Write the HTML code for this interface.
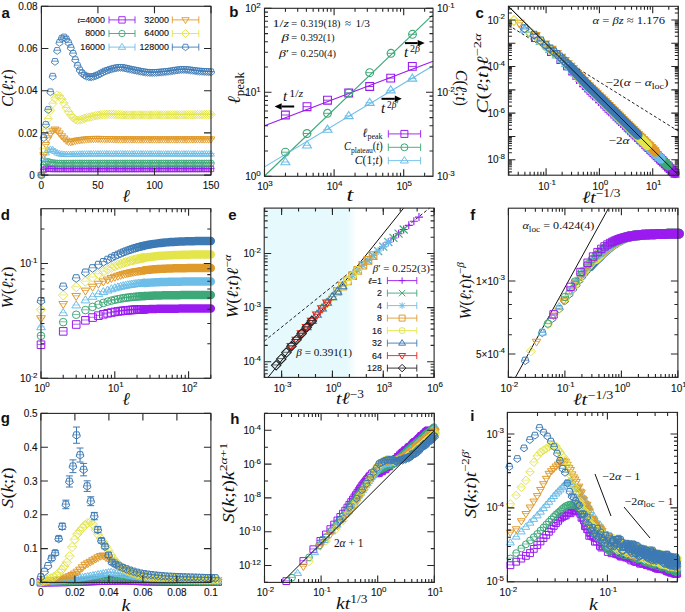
<!DOCTYPE html><html><head><meta charset="utf-8"><style>html,body{margin:0;padding:0;background:#fff}svg{display:block}</style></head><body>
<svg width="685" height="612" viewBox="0 0 685 612">
<rect width="685" height="612" fill="#fff"/>
<path d="M37.9 174.7h7M40.16 169.42h7M42.42 168.16h7M44.68 168.37h7M46.95 168.51h7M49.21 168.58h7M51.47 168.58h7M53.73 168.59h7M55.99 168.59h7M58.25 168.59h7M60.51 168.59h7M62.77 168.6h7M65.04 168.6h7M67.3 168.6h7M69.56 168.6h7M71.82 168.6h7M74.08 168.6h7M76.34 168.61h7M78.6 168.61h7M80.87 168.61h7M83.13 168.61h7M85.39 168.61h7M87.65 168.61h7M89.91 168.61h7M92.17 168.61h7M94.43 168.61h7M96.69 168.61h7M98.96 168.61h7M101.22 168.61h7M103.48 168.61h7M105.74 168.61h7M108 168.61h7M110.26 168.61h7M112.52 168.61h7M114.79 168.61h7M117.05 168.61h7M119.31 168.61h7M121.57 168.61h7M123.83 168.61h7M126.09 168.61h7M128.35 168.61h7M130.61 168.61h7M132.88 168.61h7M135.14 168.6h7M137.4 168.6h7M139.66 168.6h7M141.92 168.6h7M144.18 168.6h7M146.44 168.6h7M148.71 168.6h7M150.97 168.6h7M153.23 168.6h7M155.49 168.6h7M157.75 168.59h7M160.01 168.59h7M162.27 168.59h7M164.53 168.59h7M166.8 168.59h7M169.06 168.59h7M171.32 168.59h7M173.58 168.59h7M175.84 168.59h7M178.1 168.59h7M180.36 168.59h7M182.63 168.59h7M184.89 168.58h7M187.15 168.58h7M189.41 168.58h7M191.67 168.58h7M193.93 168.58h7M196.19 168.58h7M198.45 168.58h7M200.72 168.58h7M202.98 168.58h7M205.24 168.58h7M207.5 168.58h7" stroke="#9a1af0" stroke-width="0.8" fill="none"/>
<path d="M38.7 172.4h5.4v5.4h-5.4zM40.96 167.12h5.4v5.4h-5.4zM43.22 165.86h5.4v5.4h-5.4zM45.48 166.07h5.4v5.4h-5.4zM47.75 166.21h5.4v5.4h-5.4zM50.01 166.28h5.4v5.4h-5.4zM52.27 166.28h5.4v5.4h-5.4zM54.53 166.29h5.4v5.4h-5.4zM56.79 166.29h5.4v5.4h-5.4zM59.05 166.29h5.4v5.4h-5.4zM61.31 166.29h5.4v5.4h-5.4zM63.57 166.3h5.4v5.4h-5.4zM65.84 166.3h5.4v5.4h-5.4zM68.1 166.3h5.4v5.4h-5.4zM70.36 166.3h5.4v5.4h-5.4zM72.62 166.3h5.4v5.4h-5.4zM74.88 166.3h5.4v5.4h-5.4zM77.14 166.31h5.4v5.4h-5.4zM79.4 166.31h5.4v5.4h-5.4zM81.67 166.31h5.4v5.4h-5.4zM83.93 166.31h5.4v5.4h-5.4zM86.19 166.31h5.4v5.4h-5.4zM88.45 166.31h5.4v5.4h-5.4zM90.71 166.31h5.4v5.4h-5.4zM92.97 166.31h5.4v5.4h-5.4zM95.23 166.31h5.4v5.4h-5.4zM97.49 166.31h5.4v5.4h-5.4zM99.76 166.31h5.4v5.4h-5.4zM102.02 166.31h5.4v5.4h-5.4zM104.28 166.31h5.4v5.4h-5.4zM106.54 166.31h5.4v5.4h-5.4zM108.8 166.31h5.4v5.4h-5.4zM111.06 166.31h5.4v5.4h-5.4zM113.32 166.31h5.4v5.4h-5.4zM115.59 166.31h5.4v5.4h-5.4zM117.85 166.31h5.4v5.4h-5.4zM120.11 166.31h5.4v5.4h-5.4zM122.37 166.31h5.4v5.4h-5.4zM124.63 166.31h5.4v5.4h-5.4zM126.89 166.31h5.4v5.4h-5.4zM129.15 166.31h5.4v5.4h-5.4zM131.41 166.31h5.4v5.4h-5.4zM133.68 166.31h5.4v5.4h-5.4zM135.94 166.3h5.4v5.4h-5.4zM138.2 166.3h5.4v5.4h-5.4zM140.46 166.3h5.4v5.4h-5.4zM142.72 166.3h5.4v5.4h-5.4zM144.98 166.3h5.4v5.4h-5.4zM147.24 166.3h5.4v5.4h-5.4zM149.51 166.3h5.4v5.4h-5.4zM151.77 166.3h5.4v5.4h-5.4zM154.03 166.3h5.4v5.4h-5.4zM156.29 166.3h5.4v5.4h-5.4zM158.55 166.29h5.4v5.4h-5.4zM160.81 166.29h5.4v5.4h-5.4zM163.07 166.29h5.4v5.4h-5.4zM165.33 166.29h5.4v5.4h-5.4zM167.6 166.29h5.4v5.4h-5.4zM169.86 166.29h5.4v5.4h-5.4zM172.12 166.29h5.4v5.4h-5.4zM174.38 166.29h5.4v5.4h-5.4zM176.64 166.29h5.4v5.4h-5.4zM178.9 166.29h5.4v5.4h-5.4zM181.16 166.29h5.4v5.4h-5.4zM183.43 166.29h5.4v5.4h-5.4zM185.69 166.28h5.4v5.4h-5.4zM187.95 166.28h5.4v5.4h-5.4zM190.21 166.28h5.4v5.4h-5.4zM192.47 166.28h5.4v5.4h-5.4zM194.73 166.28h5.4v5.4h-5.4zM196.99 166.28h5.4v5.4h-5.4zM199.25 166.28h5.4v5.4h-5.4zM201.52 166.28h5.4v5.4h-5.4zM203.78 166.28h5.4v5.4h-5.4zM206.04 166.28h5.4v5.4h-5.4zM208.3 166.28h5.4v5.4h-5.4z" fill="none" stroke="#9a1af0" stroke-width="0.9" />
<path d="M37.9 174.7h7M40.16 164.57h7M42.42 161.66h7M44.68 161.19h7M46.95 162.04h7M49.21 162.41h7M51.47 162.71h7M53.73 162.88h7M55.99 162.94h7M58.25 162.97h7M60.51 162.97h7M62.77 162.96h7M65.04 162.94h7M67.3 162.91h7M69.56 162.89h7M71.82 162.88h7M74.08 162.88h7M76.34 162.88h7M78.6 162.88h7M80.87 162.88h7M83.13 162.88h7M85.39 162.88h7M87.65 162.88h7M89.91 162.88h7M92.17 162.88h7M94.43 162.88h7M96.69 162.88h7M98.96 162.88h7M101.22 162.88h7M103.48 162.88h7M105.74 162.88h7M108 162.88h7M110.26 162.88h7M112.52 162.88h7M114.79 162.88h7M117.05 162.88h7M119.31 162.88h7M121.57 162.88h7M123.83 162.88h7M126.09 162.88h7M128.35 162.88h7M130.61 162.88h7M132.88 162.88h7M135.14 162.88h7M137.4 162.88h7M139.66 162.88h7M141.92 162.88h7M144.18 162.88h7M146.44 162.88h7M148.71 162.88h7M150.97 162.88h7M153.23 162.88h7M155.49 162.88h7M157.75 162.88h7M160.01 162.88h7M162.27 162.88h7M164.53 162.88h7M166.8 162.88h7M169.06 162.88h7M171.32 162.88h7M173.58 162.88h7M175.84 162.88h7M178.1 162.88h7M180.36 162.88h7M182.63 162.88h7M184.89 162.88h7M187.15 162.88h7M189.41 162.88h7M191.67 162.88h7M193.93 162.88h7M196.19 162.88h7M198.45 162.88h7M200.72 162.88h7M202.98 162.88h7M205.24 162.88h7M207.5 162.88h7" stroke="#3da878" stroke-width="0.8" fill="none"/>
<path d="M38.2 175.1a3.2 3.2 0 1 0 6.4 0a3.2 3.2 0 1 0 -6.4 0M40.46 164.97a3.2 3.2 0 1 0 6.4 0a3.2 3.2 0 1 0 -6.4 0M42.72 162.06a3.2 3.2 0 1 0 6.4 0a3.2 3.2 0 1 0 -6.4 0M44.98 161.59a3.2 3.2 0 1 0 6.4 0a3.2 3.2 0 1 0 -6.4 0M47.25 162.44a3.2 3.2 0 1 0 6.4 0a3.2 3.2 0 1 0 -6.4 0M49.51 162.81a3.2 3.2 0 1 0 6.4 0a3.2 3.2 0 1 0 -6.4 0M51.77 163.11a3.2 3.2 0 1 0 6.4 0a3.2 3.2 0 1 0 -6.4 0M54.03 163.28a3.2 3.2 0 1 0 6.4 0a3.2 3.2 0 1 0 -6.4 0M56.29 163.34a3.2 3.2 0 1 0 6.4 0a3.2 3.2 0 1 0 -6.4 0M58.55 163.37a3.2 3.2 0 1 0 6.4 0a3.2 3.2 0 1 0 -6.4 0M60.81 163.37a3.2 3.2 0 1 0 6.4 0a3.2 3.2 0 1 0 -6.4 0M63.07 163.36a3.2 3.2 0 1 0 6.4 0a3.2 3.2 0 1 0 -6.4 0M65.34 163.34a3.2 3.2 0 1 0 6.4 0a3.2 3.2 0 1 0 -6.4 0M67.6 163.31a3.2 3.2 0 1 0 6.4 0a3.2 3.2 0 1 0 -6.4 0M69.86 163.29a3.2 3.2 0 1 0 6.4 0a3.2 3.2 0 1 0 -6.4 0M72.12 163.28a3.2 3.2 0 1 0 6.4 0a3.2 3.2 0 1 0 -6.4 0M74.38 163.28a3.2 3.2 0 1 0 6.4 0a3.2 3.2 0 1 0 -6.4 0M76.64 163.28a3.2 3.2 0 1 0 6.4 0a3.2 3.2 0 1 0 -6.4 0M78.9 163.28a3.2 3.2 0 1 0 6.4 0a3.2 3.2 0 1 0 -6.4 0M81.17 163.28a3.2 3.2 0 1 0 6.4 0a3.2 3.2 0 1 0 -6.4 0M83.43 163.28a3.2 3.2 0 1 0 6.4 0a3.2 3.2 0 1 0 -6.4 0M85.69 163.28a3.2 3.2 0 1 0 6.4 0a3.2 3.2 0 1 0 -6.4 0M87.95 163.28a3.2 3.2 0 1 0 6.4 0a3.2 3.2 0 1 0 -6.4 0M90.21 163.28a3.2 3.2 0 1 0 6.4 0a3.2 3.2 0 1 0 -6.4 0M92.47 163.28a3.2 3.2 0 1 0 6.4 0a3.2 3.2 0 1 0 -6.4 0M94.73 163.28a3.2 3.2 0 1 0 6.4 0a3.2 3.2 0 1 0 -6.4 0M96.99 163.28a3.2 3.2 0 1 0 6.4 0a3.2 3.2 0 1 0 -6.4 0M99.26 163.28a3.2 3.2 0 1 0 6.4 0a3.2 3.2 0 1 0 -6.4 0M101.52 163.28a3.2 3.2 0 1 0 6.4 0a3.2 3.2 0 1 0 -6.4 0M103.78 163.28a3.2 3.2 0 1 0 6.4 0a3.2 3.2 0 1 0 -6.4 0M106.04 163.28a3.2 3.2 0 1 0 6.4 0a3.2 3.2 0 1 0 -6.4 0M108.3 163.28a3.2 3.2 0 1 0 6.4 0a3.2 3.2 0 1 0 -6.4 0M110.56 163.28a3.2 3.2 0 1 0 6.4 0a3.2 3.2 0 1 0 -6.4 0M112.82 163.28a3.2 3.2 0 1 0 6.4 0a3.2 3.2 0 1 0 -6.4 0M115.09 163.28a3.2 3.2 0 1 0 6.4 0a3.2 3.2 0 1 0 -6.4 0M117.35 163.28a3.2 3.2 0 1 0 6.4 0a3.2 3.2 0 1 0 -6.4 0M119.61 163.28a3.2 3.2 0 1 0 6.4 0a3.2 3.2 0 1 0 -6.4 0M121.87 163.28a3.2 3.2 0 1 0 6.4 0a3.2 3.2 0 1 0 -6.4 0M124.13 163.28a3.2 3.2 0 1 0 6.4 0a3.2 3.2 0 1 0 -6.4 0M126.39 163.28a3.2 3.2 0 1 0 6.4 0a3.2 3.2 0 1 0 -6.4 0M128.65 163.28a3.2 3.2 0 1 0 6.4 0a3.2 3.2 0 1 0 -6.4 0M130.91 163.28a3.2 3.2 0 1 0 6.4 0a3.2 3.2 0 1 0 -6.4 0M133.18 163.28a3.2 3.2 0 1 0 6.4 0a3.2 3.2 0 1 0 -6.4 0M135.44 163.28a3.2 3.2 0 1 0 6.4 0a3.2 3.2 0 1 0 -6.4 0M137.7 163.28a3.2 3.2 0 1 0 6.4 0a3.2 3.2 0 1 0 -6.4 0M139.96 163.28a3.2 3.2 0 1 0 6.4 0a3.2 3.2 0 1 0 -6.4 0M142.22 163.28a3.2 3.2 0 1 0 6.4 0a3.2 3.2 0 1 0 -6.4 0M144.48 163.28a3.2 3.2 0 1 0 6.4 0a3.2 3.2 0 1 0 -6.4 0M146.74 163.28a3.2 3.2 0 1 0 6.4 0a3.2 3.2 0 1 0 -6.4 0M149.01 163.28a3.2 3.2 0 1 0 6.4 0a3.2 3.2 0 1 0 -6.4 0M151.27 163.28a3.2 3.2 0 1 0 6.4 0a3.2 3.2 0 1 0 -6.4 0M153.53 163.28a3.2 3.2 0 1 0 6.4 0a3.2 3.2 0 1 0 -6.4 0M155.79 163.28a3.2 3.2 0 1 0 6.4 0a3.2 3.2 0 1 0 -6.4 0M158.05 163.28a3.2 3.2 0 1 0 6.4 0a3.2 3.2 0 1 0 -6.4 0M160.31 163.28a3.2 3.2 0 1 0 6.4 0a3.2 3.2 0 1 0 -6.4 0M162.57 163.28a3.2 3.2 0 1 0 6.4 0a3.2 3.2 0 1 0 -6.4 0M164.83 163.28a3.2 3.2 0 1 0 6.4 0a3.2 3.2 0 1 0 -6.4 0M167.1 163.28a3.2 3.2 0 1 0 6.4 0a3.2 3.2 0 1 0 -6.4 0M169.36 163.28a3.2 3.2 0 1 0 6.4 0a3.2 3.2 0 1 0 -6.4 0M171.62 163.28a3.2 3.2 0 1 0 6.4 0a3.2 3.2 0 1 0 -6.4 0M173.88 163.28a3.2 3.2 0 1 0 6.4 0a3.2 3.2 0 1 0 -6.4 0M176.14 163.28a3.2 3.2 0 1 0 6.4 0a3.2 3.2 0 1 0 -6.4 0M178.4 163.28a3.2 3.2 0 1 0 6.4 0a3.2 3.2 0 1 0 -6.4 0M180.66 163.28a3.2 3.2 0 1 0 6.4 0a3.2 3.2 0 1 0 -6.4 0M182.93 163.28a3.2 3.2 0 1 0 6.4 0a3.2 3.2 0 1 0 -6.4 0M185.19 163.28a3.2 3.2 0 1 0 6.4 0a3.2 3.2 0 1 0 -6.4 0M187.45 163.28a3.2 3.2 0 1 0 6.4 0a3.2 3.2 0 1 0 -6.4 0M189.71 163.28a3.2 3.2 0 1 0 6.4 0a3.2 3.2 0 1 0 -6.4 0M191.97 163.28a3.2 3.2 0 1 0 6.4 0a3.2 3.2 0 1 0 -6.4 0M194.23 163.28a3.2 3.2 0 1 0 6.4 0a3.2 3.2 0 1 0 -6.4 0M196.49 163.28a3.2 3.2 0 1 0 6.4 0a3.2 3.2 0 1 0 -6.4 0M198.75 163.28a3.2 3.2 0 1 0 6.4 0a3.2 3.2 0 1 0 -6.4 0M201.02 163.28a3.2 3.2 0 1 0 6.4 0a3.2 3.2 0 1 0 -6.4 0M203.28 163.28a3.2 3.2 0 1 0 6.4 0a3.2 3.2 0 1 0 -6.4 0M205.54 163.28a3.2 3.2 0 1 0 6.4 0a3.2 3.2 0 1 0 -6.4 0M207.8 163.28a3.2 3.2 0 1 0 6.4 0a3.2 3.2 0 1 0 -6.4 0" fill="none" stroke="#3da878" stroke-width="0.9" />
<path d="M37.9 174.7h7M40.16 158.24h7M42.42 152.47h7M44.68 149.96h7M46.95 148.95h7M49.21 149.36h7M51.47 151.03h7M53.73 152.54h7M55.99 153.32h7M58.25 153.81h7M60.51 154.02h7M62.77 154.08h7M65.04 154.08h7M67.3 154.05h7M69.56 154h7M71.82 153.92h7M74.08 153.84h7M76.34 153.75h7M78.6 153.68h7M80.87 153.62h7M83.13 153.6h7M85.39 153.59h7M87.65 153.59h7M89.91 153.58h7M92.17 153.58h7M94.43 153.57h7M96.69 153.57h7M98.96 153.57h7M101.22 153.56h7M103.48 153.56h7M105.74 153.56h7M108 153.55h7M110.26 153.55h7M112.52 153.55h7M114.79 153.55h7M117.05 153.55h7M119.31 153.55h7M121.57 153.55h7M123.83 153.55h7M126.09 153.55h7M128.35 153.55h7M130.61 153.55h7M132.88 153.55h7M135.14 153.55h7M137.4 153.55h7M139.66 153.55h7M141.92 153.55h7M144.18 153.55h7M146.44 153.56h7M148.71 153.56h7M150.97 153.56h7M153.23 153.56h7M155.49 153.56h7M157.75 153.57h7M160.01 153.57h7M162.27 153.57h7M164.53 153.57h7M166.8 153.57h7M169.06 153.58h7M171.32 153.58h7M173.58 153.58h7M175.84 153.58h7M178.1 153.58h7M180.36 153.59h7M182.63 153.59h7M184.89 153.59h7M187.15 153.59h7M189.41 153.59h7M191.67 153.59h7M193.93 153.6h7M196.19 153.6h7M198.45 153.6h7M200.72 153.6h7M202.98 153.6h7M205.24 153.6h7M207.5 153.6h7" stroke="#6cbde8" stroke-width="0.8" fill="none"/>
<path d="M41.4 171.65L44.85 177.17L37.95 177.17zM43.66 155.19L47.11 160.71L40.21 160.71zM45.92 149.42L49.37 154.94L42.47 154.94zM48.18 146.91L51.63 152.43L44.73 152.43zM50.45 145.9L53.9 151.42L47 151.42zM52.71 146.31L56.16 151.83L49.26 151.83zM54.97 147.98L58.42 153.5L51.52 153.5zM57.23 149.5L60.68 155.01L53.78 155.01zM59.49 150.27L62.94 155.79L56.04 155.79zM61.75 150.76L65.2 156.28L58.3 156.28zM64.01 150.97L67.46 156.49L60.56 156.49zM66.27 151.03L69.72 156.55L62.82 156.55zM68.54 151.03L71.99 156.55L65.09 156.55zM70.8 151L74.25 156.52L67.35 156.52zM73.06 150.95L76.51 156.47L69.61 156.47zM75.32 150.87L78.77 156.39L71.87 156.39zM77.58 150.79L81.03 156.31L74.13 156.31zM79.84 150.7L83.29 156.22L76.39 156.22zM82.1 150.63L85.55 156.15L78.65 156.15zM84.37 150.57L87.82 156.09L80.92 156.09zM86.63 150.55L90.08 156.07L83.18 156.07zM88.89 150.54L92.34 156.06L85.44 156.06zM91.15 150.54L94.6 156.06L87.7 156.06zM93.41 150.53L96.86 156.05L89.96 156.05zM95.67 150.53L99.12 156.05L92.22 156.05zM97.93 150.52L101.38 156.04L94.48 156.04zM100.19 150.52L103.64 156.04L96.74 156.04zM102.46 150.52L105.91 156.04L99.01 156.04zM104.72 150.51L108.17 156.03L101.27 156.03zM106.98 150.51L110.43 156.03L103.53 156.03zM109.24 150.51L112.69 156.03L105.79 156.03zM111.5 150.5L114.95 156.02L108.05 156.02zM113.76 150.5L117.21 156.02L110.31 156.02zM116.02 150.5L119.47 156.02L112.57 156.02zM118.29 150.5L121.74 156.02L114.84 156.02zM120.55 150.5L124 156.02L117.1 156.02zM122.81 150.5L126.26 156.02L119.36 156.02zM125.07 150.5L128.52 156.02L121.62 156.02zM127.33 150.5L130.78 156.02L123.88 156.02zM129.59 150.5L133.04 156.02L126.14 156.02zM131.85 150.5L135.3 156.02L128.4 156.02zM134.11 150.5L137.56 156.02L130.66 156.02zM136.38 150.5L139.83 156.02L132.93 156.02zM138.64 150.5L142.09 156.02L135.19 156.02zM140.9 150.5L144.35 156.02L137.45 156.02zM143.16 150.5L146.61 156.02L139.71 156.02zM145.42 150.5L148.87 156.02L141.97 156.02zM147.68 150.5L151.13 156.02L144.23 156.02zM149.94 150.51L153.39 156.03L146.49 156.03zM152.21 150.51L155.66 156.03L148.76 156.03zM154.47 150.51L157.92 156.03L151.02 156.03zM156.73 150.51L160.18 156.03L153.28 156.03zM158.99 150.51L162.44 156.03L155.54 156.03zM161.25 150.52L164.7 156.04L157.8 156.04zM163.51 150.52L166.96 156.04L160.06 156.04zM165.77 150.52L169.22 156.04L162.32 156.04zM168.03 150.52L171.48 156.04L164.58 156.04zM170.3 150.52L173.75 156.04L166.85 156.04zM172.56 150.53L176.01 156.05L169.11 156.05zM174.82 150.53L178.27 156.05L171.37 156.05zM177.08 150.53L180.53 156.05L173.63 156.05zM179.34 150.53L182.79 156.05L175.89 156.05zM181.6 150.53L185.05 156.05L178.15 156.05zM183.86 150.54L187.31 156.06L180.41 156.06zM186.13 150.54L189.58 156.06L182.68 156.06zM188.39 150.54L191.84 156.06L184.94 156.06zM190.65 150.54L194.1 156.06L187.2 156.06zM192.91 150.54L196.36 156.06L189.46 156.06zM195.17 150.54L198.62 156.06L191.72 156.06zM197.43 150.55L200.88 156.07L193.98 156.07zM199.69 150.55L203.14 156.07L196.24 156.07zM201.95 150.55L205.4 156.07L198.5 156.07zM204.22 150.55L207.67 156.07L200.77 156.07zM206.48 150.55L209.93 156.07L203.03 156.07zM208.74 150.55L212.19 156.07L205.29 156.07zM211 150.55L214.45 156.07L207.55 156.07z" fill="none" stroke="#6cbde8" stroke-width="0.9" />
<path d="M37.9 174.7h7M40.16 154.66h7M42.42 144.43h7M44.68 137.77h7M46.95 133.27h7M49.21 130.22h7M51.47 128.91h7M53.73 130.05h7M55.99 132.91h7M58.25 135.66h7M60.51 137.93h7M62.77 140.08h7M65.04 141.36h7M67.3 141.52h7M69.56 141.07h7M71.82 140.39h7M74.08 139.88h7M76.34 139.6h7M78.6 139.31h7M80.87 139.03h7M83.13 138.78h7M85.39 138.58h7M87.65 138.45h7M89.91 138.38h7M92.17 138.36h7M94.43 138.36h7M96.69 138.38h7M98.96 138.42h7M101.22 138.47h7M103.48 138.54h7M105.74 138.6h7M108 138.66h7M110.26 138.72h7M112.52 138.77h7M114.79 138.81h7M117.05 138.83h7M119.31 138.84h7M121.57 138.84h7M123.83 138.85h7M126.09 138.86h7M128.35 138.86h7M130.61 138.86h7M132.88 138.87h7M135.14 138.87h7M137.4 138.87h7M139.66 138.88h7M141.92 138.88h7M144.18 138.88h7M146.44 138.88h7M148.71 138.88h7M150.97 138.88h7M153.23 138.88h7M155.49 138.88h7M157.75 138.87h7M160.01 138.87h7M162.27 138.87h7M164.53 138.87h7M166.8 138.87h7M169.06 138.86h7M171.32 138.86h7M173.58 138.86h7M175.84 138.86h7M178.1 138.85h7M180.36 138.85h7M182.63 138.85h7M184.89 138.85h7M187.15 138.84h7M189.41 138.84h7M191.67 138.84h7M193.93 138.84h7M196.19 138.83h7M198.45 138.83h7M200.72 138.83h7M202.98 138.83h7M205.24 138.83h7M207.5 138.83h7" stroke="#e09a2a" stroke-width="0.8" fill="none"/>
<path d="M41.4 179.01L45.31 172.75L37.49 172.75zM43.66 158.97L47.57 152.71L39.75 152.71zM45.92 148.74L49.83 142.48L42.01 142.48zM48.18 142.08L52.09 135.83L44.27 135.83zM50.45 137.58L54.36 131.32L46.54 131.32zM52.71 134.53L56.62 128.28L48.8 128.28zM54.97 133.22L58.88 126.97L51.06 126.97zM57.23 134.36L61.14 128.1L53.32 128.1zM59.49 137.22L63.4 130.97L55.58 130.97zM61.75 139.97L65.66 133.72L57.84 133.72zM64.01 142.24L67.92 135.98L60.1 135.98zM66.27 144.39L70.18 138.13L62.36 138.13zM68.54 145.67L72.45 139.42L64.63 139.42zM70.8 145.83L74.71 139.58L66.89 139.58zM73.06 145.38L76.97 139.12L69.15 139.12zM75.32 144.7L79.23 138.44L71.41 138.44zM77.58 144.19L81.49 137.94L73.67 137.94zM79.84 143.91L83.75 137.65L75.93 137.65zM82.1 143.62L86.01 137.36L78.19 137.36zM84.37 143.34L88.28 137.08L80.46 137.08zM86.63 143.09L90.54 136.84L82.72 136.84zM88.89 142.89L92.8 136.64L84.98 136.64zM91.15 142.76L95.06 136.5L87.24 136.5zM93.41 142.69L97.32 136.44L89.5 136.44zM95.67 142.67L99.58 136.41L91.76 136.41zM97.93 142.67L101.84 136.41L94.02 136.41zM100.19 142.69L104.1 136.44L96.28 136.44zM102.46 142.73L106.37 136.48L98.55 136.48zM104.72 142.78L108.63 136.53L100.81 136.53zM106.98 142.85L110.89 136.59L103.07 136.59zM109.24 142.91L113.15 136.65L105.33 136.65zM111.5 142.97L115.41 136.72L107.59 136.72zM113.76 143.03L117.67 136.78L109.85 136.78zM116.02 143.08L119.93 136.83L112.11 136.83zM118.29 143.12L122.2 136.87L114.38 136.87zM120.55 143.14L124.46 136.88L116.64 136.88zM122.81 143.15L126.72 136.89L118.9 136.89zM125.07 143.15L128.98 136.9L121.16 136.9zM127.33 143.16L131.24 136.9L123.42 136.9zM129.59 143.17L133.5 136.91L125.68 136.91zM131.85 143.17L135.76 136.91L127.94 136.91zM134.11 143.17L138.02 136.92L130.2 136.92zM136.38 143.18L140.29 136.92L132.47 136.92zM138.64 143.18L142.55 136.93L134.73 136.93zM140.9 143.18L144.81 136.93L136.99 136.93zM143.16 143.19L147.07 136.93L139.25 136.93zM145.42 143.19L149.33 136.93L141.51 136.93zM147.68 143.19L151.59 136.93L143.77 136.93zM149.94 143.19L153.85 136.93L146.03 136.93zM152.21 143.19L156.12 136.93L148.3 136.93zM154.47 143.19L158.38 136.93L150.56 136.93zM156.73 143.19L160.64 136.93L152.82 136.93zM158.99 143.19L162.9 136.93L155.08 136.93zM161.25 143.18L165.16 136.93L157.34 136.93zM163.51 143.18L167.42 136.93L159.6 136.93zM165.77 143.18L169.68 136.92L161.86 136.92zM168.03 143.18L171.94 136.92L164.12 136.92zM170.3 143.18L174.21 136.92L166.39 136.92zM172.56 143.17L176.47 136.92L168.65 136.92zM174.82 143.17L178.73 136.91L170.91 136.91zM177.08 143.17L180.99 136.91L173.17 136.91zM179.34 143.17L183.25 136.91L175.43 136.91zM181.6 143.16L185.51 136.91L177.69 136.91zM183.86 143.16L187.77 136.9L179.95 136.9zM186.13 143.16L190.04 136.9L182.22 136.9zM188.39 143.16L192.3 136.9L184.48 136.9zM190.65 143.15L194.56 136.9L186.74 136.9zM192.91 143.15L196.82 136.89L189 136.89zM195.17 143.15L199.08 136.89L191.26 136.89zM197.43 143.15L201.34 136.89L193.52 136.89zM199.69 143.14L203.6 136.89L195.78 136.89zM201.95 143.14L205.86 136.89L198.04 136.89zM204.22 143.14L208.13 136.89L200.31 136.89zM206.48 143.14L210.39 136.88L202.57 136.88zM208.74 143.14L212.65 136.88L204.83 136.88zM211 143.14L214.91 136.88L207.09 136.88z" fill="none" stroke="#e09a2a" stroke-width="0.9" />
<path d="M37.9 174.7h7M40.16 148.32h7M42.42 129.34h7M44.68 118.5h7M46.95 109.98h7M49.21 103.17h7M51.47 97.84h7M53.73 94.73h7M55.99 95.63h7M58.25 98.74h7M60.51 102.79h7M62.77 107.43h7M65.04 111.4h7M67.3 114.52h7M69.56 117.21h7M71.82 119.1h7M74.08 119.86h7M76.34 119.67h7M78.6 118.92h7M80.87 118.01h7M83.13 117.31h7M85.39 116.83h7M87.65 116.32h7M89.91 115.81h7M92.17 115.33h7M94.43 114.88h7M96.69 114.51h7M98.96 114.24h7M101.22 114.07h7M103.48 114h7M105.74 113.98h7M108 114.02h7M110.26 114.09h7M112.52 114.19h7M114.79 114.29h7M117.05 114.4h7M119.31 114.49h7M121.57 114.55h7M123.83 114.57h7M126.09 114.59h7M128.35 114.6h7M130.61 114.61h7M132.88 114.61h7M135.14 114.61h7M137.4 114.61h7M139.66 114.61h7M141.92 114.6h7M144.18 114.59h7M146.44 114.59h7M148.71 114.58h7M150.97 114.56h7M153.23 114.55h7M155.49 114.54h7M157.75 114.53h7M160.01 114.51h7M162.27 114.5h7M164.53 114.48h7M166.8 114.47h7M169.06 114.45h7M171.32 114.43h7M173.58 114.42h7M175.84 114.4h7M178.1 114.38h7M180.36 114.36h7M182.63 114.34h7M184.89 114.33h7M187.15 114.31h7M189.41 114.29h7M191.67 114.27h7M193.93 114.25h7M196.19 114.23h7M198.45 114.21h7M200.72 114.2h7M202.98 114.18h7M205.24 114.16h7M207.5 114.14h7" stroke="#e3e54a" stroke-width="0.8" fill="none"/>
<path d="M41.4 170.85L45.65 175.1L41.4 179.35L37.15 175.1zM43.66 144.47L47.91 148.72L43.66 152.97L39.41 148.72zM45.92 125.49L50.17 129.74L45.92 133.99L41.67 129.74zM48.18 114.65L52.43 118.9L48.18 123.15L43.93 118.9zM50.45 106.13L54.7 110.38L50.45 114.63L46.2 110.38zM52.71 99.32L56.96 103.57L52.71 107.82L48.46 103.57zM54.97 93.99L59.22 98.24L54.97 102.49L50.72 98.24zM57.23 90.88L61.48 95.13L57.23 99.38L52.98 95.13zM59.49 91.78L63.74 96.03L59.49 100.28L55.24 96.03zM61.75 94.89L66 99.14L61.75 103.39L57.5 99.14zM64.01 98.94L68.26 103.19L64.01 107.44L59.76 103.19zM66.27 103.58L70.52 107.83L66.27 112.08L62.02 107.83zM68.54 107.55L72.79 111.8L68.54 116.05L64.29 111.8zM70.8 110.67L75.05 114.92L70.8 119.17L66.55 114.92zM73.06 113.36L77.31 117.61L73.06 121.86L68.81 117.61zM75.32 115.25L79.57 119.5L75.32 123.75L71.07 119.5zM77.58 116.01L81.83 120.26L77.58 124.51L73.33 120.26zM79.84 115.82L84.09 120.07L79.84 124.32L75.59 120.07zM82.1 115.07L86.35 119.32L82.1 123.57L77.85 119.32zM84.37 114.16L88.62 118.41L84.37 122.66L80.12 118.41zM86.63 113.46L90.88 117.71L86.63 121.96L82.38 117.71zM88.89 112.98L93.14 117.23L88.89 121.48L84.64 117.23zM91.15 112.47L95.4 116.72L91.15 120.97L86.9 116.72zM93.41 111.96L97.66 116.21L93.41 120.46L89.16 116.21zM95.67 111.48L99.92 115.73L95.67 119.98L91.42 115.73zM97.93 111.03L102.18 115.28L97.93 119.53L93.68 115.28zM100.19 110.66L104.44 114.91L100.19 119.16L95.94 114.91zM102.46 110.39L106.71 114.64L102.46 118.89L98.21 114.64zM104.72 110.22L108.97 114.47L104.72 118.72L100.47 114.47zM106.98 110.15L111.23 114.4L106.98 118.65L102.73 114.4zM109.24 110.13L113.49 114.38L109.24 118.63L104.99 114.38zM111.5 110.17L115.75 114.42L111.5 118.67L107.25 114.42zM113.76 110.24L118.01 114.49L113.76 118.74L109.51 114.49zM116.02 110.34L120.27 114.59L116.02 118.84L111.77 114.59zM118.29 110.44L122.54 114.69L118.29 118.94L114.04 114.69zM120.55 110.55L124.8 114.8L120.55 119.05L116.3 114.8zM122.81 110.64L127.06 114.89L122.81 119.14L118.56 114.89zM125.07 110.7L129.32 114.95L125.07 119.2L120.82 114.95zM127.33 110.72L131.58 114.97L127.33 119.22L123.08 114.97zM129.59 110.74L133.84 114.99L129.59 119.24L125.34 114.99zM131.85 110.75L136.1 115L131.85 119.25L127.6 115zM134.11 110.76L138.36 115.01L134.11 119.26L129.86 115.01zM136.38 110.76L140.63 115.01L136.38 119.26L132.13 115.01zM138.64 110.76L142.89 115.01L138.64 119.26L134.39 115.01zM140.9 110.76L145.15 115.01L140.9 119.26L136.65 115.01zM143.16 110.76L147.41 115.01L143.16 119.26L138.91 115.01zM145.42 110.75L149.67 115L145.42 119.25L141.17 115zM147.68 110.74L151.93 114.99L147.68 119.24L143.43 114.99zM149.94 110.74L154.19 114.99L149.94 119.24L145.69 114.99zM152.21 110.73L156.46 114.98L152.21 119.23L147.96 114.98zM154.47 110.72L158.72 114.97L154.47 119.22L150.22 114.97zM156.73 110.7L160.98 114.95L156.73 119.2L152.48 114.95zM158.99 110.69L163.24 114.94L158.99 119.19L154.74 114.94zM161.25 110.68L165.5 114.93L161.25 119.18L157 114.93zM163.51 110.66L167.76 114.91L163.51 119.16L159.26 114.91zM165.77 110.65L170.02 114.9L165.77 119.15L161.52 114.9zM168.03 110.63L172.28 114.88L168.03 119.13L163.78 114.88zM170.3 110.62L174.55 114.87L170.3 119.12L166.05 114.87zM172.56 110.6L176.81 114.85L172.56 119.1L168.31 114.85zM174.82 110.58L179.07 114.83L174.82 119.08L170.57 114.83zM177.08 110.57L181.33 114.82L177.08 119.07L172.83 114.82zM179.34 110.55L183.59 114.8L179.34 119.05L175.09 114.8zM181.6 110.53L185.85 114.78L181.6 119.03L177.35 114.78zM183.86 110.51L188.11 114.76L183.86 119.01L179.61 114.76zM186.13 110.49L190.38 114.74L186.13 118.99L181.88 114.74zM188.39 110.48L192.64 114.73L188.39 118.98L184.14 114.73zM190.65 110.46L194.9 114.71L190.65 118.96L186.4 114.71zM192.91 110.44L197.16 114.69L192.91 118.94L188.66 114.69zM195.17 110.42L199.42 114.67L195.17 118.92L190.92 114.67zM197.43 110.4L201.68 114.65L197.43 118.9L193.18 114.65zM199.69 110.38L203.94 114.63L199.69 118.88L195.44 114.63zM201.95 110.36L206.2 114.61L201.95 118.86L197.7 114.61zM204.22 110.35L208.47 114.6L204.22 118.85L199.97 114.6zM206.48 110.33L210.73 114.58L206.48 118.83L202.23 114.58zM208.74 110.31L212.99 114.56L208.74 118.81L204.49 114.56zM211 110.29L215.25 114.54L211 118.79L206.75 114.54z" fill="none" stroke="#e3e54a" stroke-width="0.9" />
<path d="M37.9 174.7h7M40.16 137.35h7M42.42 124.27h7M44.68 109.29h7M46.95 91.57h7M49.21 75.95h7M51.47 61.18h7M53.73 50.21h7M55.99 42.19h7M58.25 37.96h7M60.51 36.76h7M62.77 38.6h7M65.04 42.34h7M67.3 47.26h7M69.56 53.1h7M71.82 59.4h7M74.08 65.2h7M76.34 69.66h7M78.6 72.74h7M80.87 74.71h7M83.13 75.9h7M85.39 76.48h7M87.65 76.56h7M89.91 76.12h7M92.17 75.36h7M94.43 74.47h7M96.69 73.33h7M98.96 71.97h7M101.22 70.89h7M103.48 70.11h7M105.74 69.35h7M108 68.64h7M110.26 68.02h7M112.52 67.52h7M114.79 67.19h7M117.05 67.06h7M119.31 67.25h7M121.57 67.66h7M123.83 68.19h7M126.09 68.73h7M128.35 69.2h7M130.61 69.62h7M132.88 70.08h7M135.14 70.56h7M137.4 71.02h7M139.66 71.45h7M141.92 71.81h7M144.18 72.07h7M146.44 72.21h7M148.71 72.25h7M150.97 72.2h7M153.23 72.09h7M155.49 71.92h7M157.75 71.72h7M160.01 71.52h7M162.27 71.31h7M164.53 71.06h7M166.8 70.74h7M169.06 70.37h7M171.32 70.01h7M173.58 69.67h7M175.84 69.4h7M178.1 69.23h7M180.36 69.2h7M182.63 69.3h7M184.89 69.5h7M187.15 69.77h7M189.41 70.07h7M191.67 70.38h7M193.93 70.66h7M196.19 70.89h7M198.45 71.05h7M200.72 71.18h7M202.98 71.3h7M205.24 71.4h7M207.5 71.52h7" stroke="#3d7ab5" stroke-width="0.8" fill="none"/>
<path d="M41.4 178.84L37.84 176.26L39.2 172.07L43.6 172.07L44.96 176.26zM43.66 141.49L40.1 138.91L41.46 134.73L45.86 134.73L47.22 138.91zM45.92 128.41L42.37 125.83L43.72 121.65L48.12 121.65L49.48 125.83zM48.18 113.43L44.63 110.85L45.99 106.66L50.38 106.66L51.74 110.85zM50.45 95.71L46.89 93.12L48.25 88.94L52.64 88.94L54 93.12zM52.71 80.09L49.15 77.51L50.51 73.33L54.9 73.33L56.26 77.51zM54.97 65.32L51.41 62.74L52.77 58.56L57.17 58.56L58.52 62.74zM57.23 54.35L53.67 51.77L55.03 47.58L59.43 47.58L60.79 51.77zM59.49 46.33L55.93 43.75L57.29 39.57L61.69 39.57L63.05 43.75zM61.75 42.1L58.2 39.52L59.55 35.33L63.95 35.33L65.31 39.52zM64.01 40.9L60.46 38.32L61.82 34.13L66.21 34.13L67.57 38.32zM66.27 42.74L62.72 40.16L64.08 35.98L68.47 35.98L69.83 40.16zM68.54 46.48L64.98 43.9L66.34 39.72L70.73 39.72L72.09 43.9zM70.8 51.4L67.24 48.81L68.6 44.63L73 44.63L74.35 48.81zM73.06 57.24L69.5 54.66L70.86 50.48L75.26 50.48L76.62 54.66zM75.32 63.54L71.76 60.96L73.12 56.78L77.52 56.78L78.88 60.96zM77.58 69.34L74.02 66.75L75.38 62.57L79.78 62.57L81.14 66.75zM79.84 73.8L76.29 71.22L77.64 67.04L82.04 67.04L83.4 71.22zM82.1 76.88L78.55 74.3L79.91 70.12L84.3 70.12L85.66 74.3zM84.37 78.85L80.81 76.26L82.17 72.08L86.56 72.08L87.92 76.26zM86.63 80.04L83.07 77.46L84.43 73.27L88.82 73.27L90.18 77.46zM88.89 80.62L85.33 78.04L86.69 73.86L91.09 73.86L92.44 78.04zM91.15 80.7L87.59 78.11L88.95 73.93L93.35 73.93L94.71 78.11zM93.41 80.26L89.85 77.68L91.21 73.5L95.61 73.5L96.97 77.68zM95.67 79.5L92.12 76.92L93.47 72.73L97.87 72.73L99.23 76.92zM97.93 78.61L94.38 76.03L95.74 71.85L100.13 71.85L101.49 76.03zM100.19 77.47L96.64 74.88L98 70.7L102.39 70.7L103.75 74.88zM102.46 76.11L98.9 73.52L100.26 69.34L104.65 69.34L106.01 73.52zM104.72 75.03L101.16 72.44L102.52 68.26L106.92 68.26L108.27 72.44zM106.98 74.25L103.42 71.66L104.78 67.48L109.18 67.48L110.54 71.66zM109.24 73.49L105.68 70.9L107.04 66.72L111.44 66.72L112.8 70.9zM111.5 72.78L107.94 70.19L109.3 66.01L113.7 66.01L115.06 70.19zM113.76 72.16L110.21 69.57L111.56 65.39L115.96 65.39L117.32 69.57zM116.02 71.66L112.47 69.08L113.83 64.9L118.22 64.9L119.58 69.08zM118.29 71.33L114.73 68.74L116.09 64.56L120.48 64.56L121.84 68.74zM120.55 71.2L116.99 68.62L118.35 64.44L122.74 64.44L124.1 68.62zM122.81 71.39L119.25 68.8L120.61 64.62L125.01 64.62L126.36 68.8zM125.07 71.8L121.51 69.21L122.87 65.03L127.27 65.03L128.63 69.21zM127.33 72.33L123.77 69.74L125.13 65.56L129.53 65.56L130.89 69.74zM129.59 72.87L126.04 70.29L127.39 66.11L131.79 66.11L133.15 70.29zM131.85 73.34L128.3 70.76L129.66 66.57L134.05 66.57L135.41 70.76zM134.11 73.76L130.56 71.18L131.92 66.99L136.31 66.99L137.67 71.18zM136.38 74.22L132.82 71.64L134.18 67.46L138.57 67.46L139.93 71.64zM138.64 74.7L135.08 72.11L136.44 67.93L140.84 67.93L142.19 72.11zM140.9 75.16L137.34 72.58L138.7 68.4L143.1 68.4L144.46 72.58zM143.16 75.59L139.6 73L140.96 68.82L145.36 68.82L146.72 73zM145.42 75.95L141.86 73.36L143.22 69.18L147.62 69.18L148.98 73.36zM147.68 76.21L144.13 73.62L145.48 69.44L149.88 69.44L151.24 73.62zM149.94 76.35L146.39 73.77L147.75 69.58L152.14 69.58L153.5 73.77zM152.21 76.39L148.65 73.8L150.01 69.62L154.4 69.62L155.76 73.8zM154.47 76.34L150.91 73.76L152.27 69.58L156.66 69.58L158.02 73.76zM156.73 76.23L153.17 73.64L154.53 69.46L158.93 69.46L160.28 73.64zM158.99 76.06L155.43 73.48L156.79 69.3L161.19 69.3L162.55 73.48zM161.25 75.86L157.69 73.28L159.05 69.1L163.45 69.1L164.81 73.28zM163.51 75.66L159.96 73.07L161.31 68.89L165.71 68.89L167.07 73.07zM165.77 75.45L162.22 72.87L163.58 68.68L167.97 68.68L169.33 72.87zM168.03 75.2L164.48 72.62L165.84 68.44L170.23 68.44L171.59 72.62zM170.3 74.88L166.74 72.29L168.1 68.11L172.49 68.11L173.85 72.29zM172.56 74.51L169 71.93L170.36 67.75L174.76 67.75L176.11 71.93zM174.82 74.15L171.26 71.56L172.62 67.38L177.02 67.38L178.38 71.56zM177.08 73.81L173.52 71.22L174.88 67.04L179.28 67.04L180.64 71.22zM179.34 73.54L175.78 70.95L177.14 66.77L181.54 66.77L182.9 70.95zM181.6 73.37L178.05 70.79L179.4 66.61L183.8 66.61L185.16 70.79zM183.86 73.34L180.31 70.76L181.67 66.58L186.06 66.58L187.42 70.76zM186.13 73.44L182.57 70.86L183.93 66.68L188.32 66.68L189.68 70.86zM188.39 73.64L184.83 71.06L186.19 66.88L190.58 66.88L191.94 71.06zM190.65 73.91L187.09 71.33L188.45 67.14L192.85 67.14L194.2 71.33zM192.91 74.21L189.35 71.63L190.71 67.45L195.11 67.45L196.47 71.63zM195.17 74.52L191.61 71.94L192.97 67.76L197.37 67.76L198.73 71.94zM197.43 74.8L193.88 72.22L195.23 68.04L199.63 68.04L200.99 72.22zM199.69 75.03L196.14 72.44L197.5 68.26L201.89 68.26L203.25 72.44zM201.95 75.19L198.4 72.61L199.76 68.43L204.15 68.43L205.51 72.61zM204.22 75.32L200.66 72.74L202.02 68.56L206.41 68.56L207.77 72.74zM206.48 75.44L202.92 72.85L204.28 68.67L208.68 68.67L210.03 72.85zM208.74 75.54L205.18 72.96L206.54 68.78L210.94 68.78L212.3 72.96zM211 75.66L207.44 73.08L208.8 68.9L213.2 68.9L214.56 73.08z" fill="none" stroke="#3d7ab5" stroke-width="0.9" />
<rect x="41.4" y="6.3" width="169.6" height="168.8" fill="none" stroke="#262626" stroke-width="1.1"/>
<path d="M41.4 175.1v-7M41.4 6.3v7M97.93 175.1v-7M97.93 6.3v7M154.47 175.1v-7M154.47 6.3v7M211 175.1v-7M211 6.3v7" stroke="#262626" stroke-width="1.1" fill="none"/>
<path d="M41.4 175.1h7M211 175.1h-7M41.4 132.9h7M211 132.9h-7M41.4 90.7h7M211 90.7h-7M41.4 48.5h7M211 48.5h-7M41.4 6.3h7M211 6.3h-7" stroke="#262626" stroke-width="1.1" fill="none"/>
<text x="41.4" y="188.8" font-size="10" text-anchor="middle" font-family="Liberation Sans, sans-serif" fill="#111" stroke="#111" stroke-width="0.12" >0</text>
<text x="97.93" y="188.8" font-size="10" text-anchor="middle" font-family="Liberation Sans, sans-serif" fill="#111" stroke="#111" stroke-width="0.12" >50</text>
<text x="154.47" y="188.8" font-size="10" text-anchor="middle" font-family="Liberation Sans, sans-serif" fill="#111" stroke="#111" stroke-width="0.12" >100</text>
<text x="211" y="188.8" font-size="10" text-anchor="middle" font-family="Liberation Sans, sans-serif" fill="#111" stroke="#111" stroke-width="0.12" >150</text>
<text x="34.8" y="178.7" font-size="10" text-anchor="end" font-family="Liberation Sans, sans-serif" fill="#111" stroke="#111" stroke-width="0.12" >0</text>
<text x="37.6" y="136.5" font-size="10" text-anchor="end" font-family="Liberation Sans, sans-serif" fill="#111" stroke="#111" stroke-width="0.12" >0.02</text>
<text x="37.6" y="94.3" font-size="10" text-anchor="end" font-family="Liberation Sans, sans-serif" fill="#111" stroke="#111" stroke-width="0.12" >0.04</text>
<text x="37.6" y="52.1" font-size="10" text-anchor="end" font-family="Liberation Sans, sans-serif" fill="#111" stroke="#111" stroke-width="0.12" >0.06</text>
<text x="37.6" y="9.9" font-size="10" text-anchor="end" font-family="Liberation Sans, sans-serif" fill="#111" stroke="#111" stroke-width="0.12" >0.08</text>
<text x="1.5" y="17.5" font-size="15" text-anchor="start" font-family="Liberation Sans, sans-serif" fill="#111" font-weight="bold">a</text>
<text x="104.9" y="22.8" font-size="8.9" text-anchor="end" font-family="Liberation Sans, sans-serif" fill="#111" stroke="#111" stroke-width="0.12" ><tspan font-family="Liberation Serif, serif" font-style="italic">t</tspan>=4000</text>
<path d="M109 19.9h26M109 16.4v7M135 16.4v7" stroke="#9a1af0" stroke-width="0.9" fill="none"/>
<path d="M118.8 16.7h6.4v6.4h-6.4z" fill="none" stroke="#9a1af0" stroke-width="0.9" />
<text x="104.9" y="36.4" font-size="8.9" text-anchor="end" font-family="Liberation Sans, sans-serif" fill="#111" stroke="#111" stroke-width="0.12" >8000</text>
<path d="M109 33.5h26M109 30v7M135 30v7" stroke="#3da878" stroke-width="0.9" fill="none"/>
<path d="M118.8 33.5a3.2 3.2 0 1 0 6.4 0a3.2 3.2 0 1 0 -6.4 0" fill="none" stroke="#3da878" stroke-width="0.9" />
<text x="104.9" y="50" font-size="8.9" text-anchor="end" font-family="Liberation Sans, sans-serif" fill="#111" stroke="#111" stroke-width="0.12" >16000</text>
<path d="M109 47.1h26M109 43.6v7M135 43.6v7" stroke="#6cbde8" stroke-width="0.9" fill="none"/>
<path d="M122 43.42L125.68 49.31L118.32 49.31z" fill="none" stroke="#6cbde8" stroke-width="0.9" />
<text x="169" y="22.8" font-size="8.9" text-anchor="end" font-family="Liberation Sans, sans-serif" fill="#111" stroke="#111" stroke-width="0.12" >32000</text>
<path d="M172.3 19.9h26.5M172.3 16.4v7M198.8 16.4v7" stroke="#e09a2a" stroke-width="0.9" fill="none"/>
<path d="M185.5 23.58L189.18 17.69L181.82 17.69z" fill="none" stroke="#e09a2a" stroke-width="0.9" />
<text x="169" y="36.4" font-size="8.9" text-anchor="end" font-family="Liberation Sans, sans-serif" fill="#111" stroke="#111" stroke-width="0.12" >64000</text>
<path d="M172.3 33.5h26.5M172.3 30v7M198.8 30v7" stroke="#e3e54a" stroke-width="0.9" fill="none"/>
<path d="M185.5 29.5L189.5 33.5L185.5 37.5L181.5 33.5z" fill="none" stroke="#e3e54a" stroke-width="0.9" />
<text x="169" y="50" font-size="8.9" text-anchor="end" font-family="Liberation Sans, sans-serif" fill="#111" stroke="#111" stroke-width="0.12" >128000</text>
<path d="M172.3 47.1h26.5M172.3 43.6v7M198.8 43.6v7" stroke="#3d7ab5" stroke-width="0.9" fill="none"/>
<path d="M185.5 50.62L182.15 48.19L183.43 44.25L187.57 44.25L188.85 48.19z" fill="none" stroke="#3d7ab5" stroke-width="0.9" />
<path d="M264.5 176L433 14.7" fill="none" stroke="#3da878" stroke-width="1.1" />
<path d="M264.5 125.7L433 61.2" fill="none" stroke="#9a1af0" stroke-width="1.1" />
<path d="M264.5 166.9L433 65.7" fill="none" stroke="#6cbde8" stroke-width="1.1" />
<path d="M281.4 115h8M303 106.7h8M323.5 100.2h8M344.7 93h8M365.7 86.5h8M386.7 78.1h8M408.3 66.4h8" stroke="#9a1af0" stroke-width="0.9" fill="none"/>
<path d="M281.5 111.1h7.8v7.8h-7.8zM303.1 102.8h7.8v7.8h-7.8zM323.6 96.3h7.8v7.8h-7.8zM344.8 89.1h7.8v7.8h-7.8zM365.8 82.6h7.8v7.8h-7.8zM386.8 74.2h7.8v7.8h-7.8zM408.4 62.5h7.8v7.8h-7.8z" fill="none" stroke="#9a1af0" stroke-width="1.1" />
<path d="M281.4 152.2h8M303 133.5h8M323.5 113.3h8M344.7 93h8M365.7 72.7h8M387 53.3h8M408.5 34.3h8" stroke="#3da878" stroke-width="0.9" fill="none"/>
<path d="M281.5 152.2a3.9 3.9 0 1 0 7.8 0a3.9 3.9 0 1 0 -7.8 0M303.1 133.5a3.9 3.9 0 1 0 7.8 0a3.9 3.9 0 1 0 -7.8 0M323.6 113.3a3.9 3.9 0 1 0 7.8 0a3.9 3.9 0 1 0 -7.8 0M344.8 93a3.9 3.9 0 1 0 7.8 0a3.9 3.9 0 1 0 -7.8 0M365.8 72.7a3.9 3.9 0 1 0 7.8 0a3.9 3.9 0 1 0 -7.8 0M387.1 53.3a3.9 3.9 0 1 0 7.8 0a3.9 3.9 0 1 0 -7.8 0M408.6 34.3a3.9 3.9 0 1 0 7.8 0a3.9 3.9 0 1 0 -7.8 0" fill="none" stroke="#3da878" stroke-width="1.1" />
<path d="M281.4 162h8M303 145.3h8M323.5 129.6h8M344.7 115.9h8M365.7 102.7h8M386.7 90.2h8M408.3 78.4h8" stroke="#6cbde8" stroke-width="0.9" fill="none"/>
<path d="M285.4 157.51L289.88 164.69L280.91 164.69zM307 140.81L311.49 147.99L302.51 147.99zM327.5 125.11L331.99 132.29L323.01 132.29zM348.7 111.42L353.19 118.59L344.21 118.59zM369.7 98.22L374.19 105.39L365.21 105.39zM390.7 85.72L395.19 92.89L386.21 92.89zM412.3 73.92L416.79 81.09L407.81 81.09z" fill="none" stroke="#6cbde8" stroke-width="1.1" />
<rect x="264.5" y="8.3" width="168.5" height="168" fill="none" stroke="#262626" stroke-width="1.1"/>
<path d="M264.5 176.3v-7M264.5 8.3v7M334.1 176.3v-7M334.1 8.3v7M403.7 176.3v-7M403.7 8.3v7" stroke="#262626" stroke-width="1.1" fill="none"/>
<path d="M285.45 176.3v-3.5M285.45 8.3v3.5M297.71 176.3v-3.5M297.71 8.3v3.5M306.4 176.3v-3.5M306.4 8.3v3.5M313.15 176.3v-3.5M313.15 8.3v3.5M318.66 176.3v-3.5M318.66 8.3v3.5M323.32 176.3v-3.5M323.32 8.3v3.5M327.35 176.3v-3.5M327.35 8.3v3.5M330.91 176.3v-3.5M330.91 8.3v3.5M355.05 176.3v-3.5M355.05 8.3v3.5M367.31 176.3v-3.5M367.31 8.3v3.5M376 176.3v-3.5M376 8.3v3.5M382.75 176.3v-3.5M382.75 8.3v3.5M388.26 176.3v-3.5M388.26 8.3v3.5M392.92 176.3v-3.5M392.92 8.3v3.5M396.95 176.3v-3.5M396.95 8.3v3.5M400.51 176.3v-3.5M400.51 8.3v3.5M424.65 176.3v-3.5M424.65 8.3v3.5" stroke="#262626" stroke-width="1.1" fill="none"/>
<path d="M264.5 176.3h7M264.5 92.3h7M264.5 8.3h7" stroke="#262626" stroke-width="1.1" fill="none"/>
<path d="M264.5 151.01h3.5M264.5 136.22h3.5M264.5 125.73h3.5M264.5 117.59h3.5M264.5 110.94h3.5M264.5 105.31h3.5M264.5 100.44h3.5M264.5 96.14h3.5M264.5 67.01h3.5M264.5 52.22h3.5M264.5 41.73h3.5M264.5 33.59h3.5M264.5 26.94h3.5M264.5 21.31h3.5M264.5 16.44h3.5M264.5 12.14h3.5" stroke="#262626" stroke-width="1.1" fill="none"/>
<path d="M433 176.3h-7M433 92.3h-7M433 8.3h-7" stroke="#262626" stroke-width="1.1" fill="none"/>
<path d="M433 151.01h-3.5M433 136.22h-3.5M433 125.73h-3.5M433 117.59h-3.5M433 110.94h-3.5M433 105.31h-3.5M433 100.44h-3.5M433 96.14h-3.5M433 67.01h-3.5M433 52.22h-3.5M433 41.73h-3.5M433 33.59h-3.5M433 26.94h-3.5M433 21.31h-3.5M433 16.44h-3.5M433 12.14h-3.5" stroke="#262626" stroke-width="1.1" fill="none"/>
<text x="260.8" y="179.9" font-size="10" text-anchor="end" font-family="Liberation Sans, sans-serif" fill="#111" stroke="#111" stroke-width="0.12" >10<tspan dy="-4.2" font-size="8">0</tspan></text>
<text x="260.8" y="95.9" font-size="10" text-anchor="end" font-family="Liberation Sans, sans-serif" fill="#111" stroke="#111" stroke-width="0.12" >10<tspan dy="-4.2" font-size="8">1</tspan></text>
<text x="260.8" y="11.9" font-size="10" text-anchor="end" font-family="Liberation Sans, sans-serif" fill="#111" stroke="#111" stroke-width="0.12" >10<tspan dy="-4.2" font-size="8">2</tspan></text>
<text x="437" y="179.9" font-size="10" text-anchor="start" font-family="Liberation Sans, sans-serif" fill="#111" stroke="#111" stroke-width="0.12" >10<tspan dy="-4.2" font-size="8"><tspan font-size="6">-</tspan>3</tspan></text>
<text x="437" y="95.9" font-size="10" text-anchor="start" font-family="Liberation Sans, sans-serif" fill="#111" stroke="#111" stroke-width="0.12" >10<tspan dy="-4.2" font-size="8"><tspan font-size="6">-</tspan>2</tspan></text>
<text x="437" y="11.9" font-size="10" text-anchor="start" font-family="Liberation Sans, sans-serif" fill="#111" stroke="#111" stroke-width="0.12" >10<tspan dy="-4.2" font-size="8"><tspan font-size="6">-</tspan>1</tspan></text>
<text x="265" y="190.2" font-size="10" text-anchor="middle" font-family="Liberation Sans, sans-serif" fill="#111" stroke="#111" stroke-width="0.12" >10<tspan dy="-4.2" font-size="8">3</tspan></text>
<text x="334.6" y="190.2" font-size="10" text-anchor="middle" font-family="Liberation Sans, sans-serif" fill="#111" stroke="#111" stroke-width="0.12" >10<tspan dy="-4.2" font-size="8">4</tspan></text>
<text x="404.2" y="190.2" font-size="10" text-anchor="middle" font-family="Liberation Sans, sans-serif" fill="#111" stroke="#111" stroke-width="0.12" >10<tspan dy="-4.2" font-size="8">5</tspan></text>
<text x="229.2" y="17.4" font-size="15" text-anchor="start" font-family="Liberation Sans, sans-serif" fill="#111" font-weight="bold">b</text>
<g font-family="Liberation Serif, serif" font-size="11" fill="#111">
<text x="289" y="26.8" text-anchor="end" textLength="16.5" lengthAdjust="spacingAndGlyphs">1/<tspan font-style="italic">z</tspan></text>
<text x="294" y="26.8" text-anchor="middle">=</text>
<text x="289" y="41.3" text-anchor="end" textLength="7.5" lengthAdjust="spacingAndGlyphs"><tspan font-style="italic">β</tspan></text>
<text x="294" y="41.3" text-anchor="middle">=</text>
<text x="289" y="56.6" text-anchor="end" textLength="10" lengthAdjust="spacingAndGlyphs"><tspan font-style="italic">β</tspan>′</text>
<text x="294" y="56.6" text-anchor="middle">=</text>
<text x="300.5" y="26.8" textLength="40" lengthAdjust="spacingAndGlyphs">0.319(18)</text>
<text x="348" y="26.8" text-anchor="middle">≈</text>
<text x="355.5" y="26.8" textLength="14.5" lengthAdjust="spacingAndGlyphs">1/3</text>
<text x="300.5" y="41.3" textLength="34" lengthAdjust="spacingAndGlyphs">0.392(1)</text>
<text x="300.5" y="56.6" textLength="35.5" lengthAdjust="spacingAndGlyphs">0.250(4)</text>
</g>
<path d="M405 43.1H417.7" stroke="#000" stroke-width="2"/>
<path d="M424.7 43.1L417.7 39.9L417.7 46.3z" fill="#000"/>
<path d="M381.5 98.8H394.8" stroke="#000" stroke-width="2"/>
<path d="M401.8 98.8L394.8 95.6L394.8 102z" fill="#000"/>
<path d="M294.2 106.5H281.6" stroke="#000" stroke-width="2"/>
<path d="M274.6 106.5L281.6 103.3L281.6 109.7z" fill="#000"/>
<g font-family="Liberation Serif, serif" fill="#111">
<text x="404" y="57.2" font-size="15" font-style="italic">t</text><text x="410" y="52" font-size="11" textLength="10" lengthAdjust="spacingAndGlyphs">2<tspan font-style="italic">β</tspan></text>
<text x="381" y="113" font-size="15" font-style="italic">t</text><text x="387" y="107.5" font-size="11" textLength="11.5" lengthAdjust="spacingAndGlyphs">2<tspan font-style="italic">β</tspan>′</text>
<text x="283" y="101.3" font-size="15" font-style="italic">t</text><text x="289.3" y="96.5" font-size="11" textLength="14" lengthAdjust="spacingAndGlyphs">1/<tspan font-style="italic">z</tspan></text>
</g>
<text x="382.6" y="136.9" font-size="11.5" text-anchor="end" textLength="20" lengthAdjust="spacingAndGlyphs" font-family="Liberation Serif, serif" fill="#111"><tspan font-style="italic" font-size="12.5">ℓ</tspan><tspan dy="2.5" font-size="8.5">peak</tspan></text>
<path d="M388.3 133.9h32.3M388.3 130.15v7.5M420.6 130.15v7.5" stroke="#9a1af0" stroke-width="0.9" fill="none"/>
<path d="M400.9 130.4h7v7h-7z" fill="none" stroke="#9a1af0" stroke-width="1" />
<text x="382.6" y="149.5" font-size="11.5" text-anchor="end" textLength="38.5" lengthAdjust="spacingAndGlyphs" font-family="Liberation Serif, serif" fill="#111"><tspan font-style="italic">C</tspan><tspan dy="3" font-size="8.5">plateau</tspan><tspan dy="-3">(<tspan font-style="italic">t</tspan>)</tspan></text>
<path d="M388.3 147.3h32.3M388.3 143.55v7.5M420.6 143.55v7.5" stroke="#3da878" stroke-width="0.9" fill="none"/>
<path d="M400.9 147.3a3.5 3.5 0 1 0 7 0a3.5 3.5 0 1 0 -7 0" fill="none" stroke="#3da878" stroke-width="1" />
<text x="382.6" y="163.6" font-size="11.5" text-anchor="end" textLength="27.8" lengthAdjust="spacingAndGlyphs" font-family="Liberation Serif, serif" fill="#111"><tspan font-style="italic">C</tspan>(1;<tspan font-style="italic">t</tspan>)</text>
<path d="M388.3 160.6h32.3M388.3 156.85v7.5M420.6 156.85v7.5" stroke="#6cbde8" stroke-width="0.9" fill="none"/>
<path d="M404.4 156.57L408.42 163.01L400.38 163.01z" fill="none" stroke="#6cbde8" stroke-width="1" />
<path d="M508.4 6.3L677.5 174.2" fill="none" stroke="#111" stroke-width="1" />
<path d="M508.4 25.2L678.3 131.1" fill="none" stroke="#222" stroke-width="1" stroke-dasharray="3 2.2"/>
<path d="M531.39 37.24h8M547.44 51.15h8M556.82 59.18h8M563.48 65.48h8M568.65 70.71h8M572.87 75.35h8M576.44 79.25h8M579.53 82.44h8M582.25 85.26h8M584.69 87.78h8M586.9 89.98h8M588.91 91.98h8M590.77 93.81h8M592.48 95.51h8M595.57 98.58h8M598.3 101.28h8M600.74 103.7h8M602.94 105.89h8M604.96 107.88h8M606.81 109.72h8M608.53 111.42h8M610.88 113.76h8M613.02 115.88h8M614.98 117.82h8M616.78 119.61h8M618.46 121.27h8M620.52 123.32h8M622.41 125.19h8M624.15 126.93h8M625.78 128.54h8M627.66 130.41h8M629.4 132.13h8M631.02 133.74h8M632.83 135.53h8M634.5 137.18h8M636.31 138.96h8M637.99 140.61h8M639.77 142.36h8M641.43 143.99h8M643.16 145.69h8M644.77 147.28h8M646.43 148.91h8M648.14 150.59h8M649.86 152.29h8M651.47 153.87h8M653.09 155.47h8M654.72 157.07h8M656.35 158.67h8M657.97 160.26h8M659.57 161.84h8M661.24 163.48h8M662.88 165.09h8M664.48 166.67h8M666.12 168.28h8M667.77 169.91h8M669.38 171.48h8M670.99 173.07h8" stroke="#9a1af0" stroke-width="0.8" fill="none"/>
<path d="M531.49 33.64h7.8v7.8h-7.8zM547.54 47.55h7.8v7.8h-7.8zM556.92 55.58h7.8v7.8h-7.8zM563.58 61.88h7.8v7.8h-7.8zM568.75 67.11h7.8v7.8h-7.8zM572.97 71.75h7.8v7.8h-7.8zM576.54 75.65h7.8v7.8h-7.8zM579.63 78.84h7.8v7.8h-7.8zM582.35 81.66h7.8v7.8h-7.8zM584.79 84.18h7.8v7.8h-7.8zM587 86.38h7.8v7.8h-7.8zM589.01 88.38h7.8v7.8h-7.8zM590.87 90.21h7.8v7.8h-7.8zM592.58 91.91h7.8v7.8h-7.8zM595.67 94.98h7.8v7.8h-7.8zM598.4 97.68h7.8v7.8h-7.8zM600.84 100.1h7.8v7.8h-7.8zM603.04 102.29h7.8v7.8h-7.8zM605.06 104.28h7.8v7.8h-7.8zM606.91 106.12h7.8v7.8h-7.8zM608.63 107.82h7.8v7.8h-7.8zM610.98 110.16h7.8v7.8h-7.8zM613.12 112.28h7.8v7.8h-7.8zM615.08 114.22h7.8v7.8h-7.8zM616.88 116.01h7.8v7.8h-7.8zM618.56 117.67h7.8v7.8h-7.8zM620.62 119.72h7.8v7.8h-7.8zM622.51 121.59h7.8v7.8h-7.8zM624.25 123.33h7.8v7.8h-7.8zM625.88 124.94h7.8v7.8h-7.8zM627.76 126.81h7.8v7.8h-7.8zM629.5 128.53h7.8v7.8h-7.8zM631.12 130.14h7.8v7.8h-7.8zM632.93 131.93h7.8v7.8h-7.8zM634.6 133.58h7.8v7.8h-7.8zM636.41 135.36h7.8v7.8h-7.8zM638.09 137.01h7.8v7.8h-7.8zM639.87 138.76h7.8v7.8h-7.8zM641.53 140.39h7.8v7.8h-7.8zM643.26 142.09h7.8v7.8h-7.8zM644.87 143.68h7.8v7.8h-7.8zM646.53 145.31h7.8v7.8h-7.8zM648.24 146.99h7.8v7.8h-7.8zM649.96 148.69h7.8v7.8h-7.8zM651.57 150.27h7.8v7.8h-7.8zM653.19 151.87h7.8v7.8h-7.8zM654.82 153.47h7.8v7.8h-7.8zM656.45 155.07h7.8v7.8h-7.8zM658.07 156.66h7.8v7.8h-7.8zM659.67 158.24h7.8v7.8h-7.8zM661.34 159.88h7.8v7.8h-7.8zM662.98 161.49h7.8v7.8h-7.8zM664.58 163.07h7.8v7.8h-7.8zM666.22 164.68h7.8v7.8h-7.8zM667.87 166.31h7.8v7.8h-7.8zM669.48 167.88h7.8v7.8h-7.8zM671.09 169.47h7.8v7.8h-7.8z" fill="none" stroke="#9a1af0" stroke-width="1.1" />
<path d="M598.08 97.4L600 99.3L637 136L675 173.38" fill="none" stroke="#9a1af0" stroke-width="9.5" stroke-linecap="round" stroke-linejoin="round"/>
<path d="M526.04 32.23h8M542.08 46.07h8M551.47 53.62h8M558.13 59.54h8M563.29 64.49h8M567.51 68.71h8M571.08 72.59h8M574.17 75.99h8M576.9 78.93h8M579.34 81.45h8M581.54 83.73h8M583.56 85.81h8M585.41 87.71h8M587.13 89.41h8M590.22 92.47h8M592.94 95.17h8M595.38 97.59h8M597.59 99.78h8M599.6 101.77h8M601.46 103.61h8M603.17 105.31h8M605.53 107.65h8M607.67 109.77h8M609.62 111.71h8M611.43 113.5h8M613.1 115.16h8M615.16 117.21h8M617.05 119.08h8M618.8 120.81h8M620.42 122.43h8M622.31 124.29h8M624.05 126.02h8M625.67 127.63h8M627.47 129.42h8M629.15 131.08h8M630.96 132.87h8M632.64 134.54h8M634.42 136.3h8M636.07 137.92h8M637.8 139.63h8M639.41 141.21h8M641.08 142.85h8M642.78 144.52h8M644.51 146.22h8M646.12 147.8h8M647.74 149.4h8M649.37 151h8M650.99 152.6h8M652.61 154.19h8M654.22 155.77h8M655.89 157.41h8M657.52 159.02h8M659.12 160.6h8M660.76 162.21h8M662.42 163.84h8" stroke="#3da878" stroke-width="0.8" fill="none"/>
<path d="M526.14 32.53a3.9 3.9 0 1 0 7.8 0a3.9 3.9 0 1 0 -7.8 0M542.18 46.37a3.9 3.9 0 1 0 7.8 0a3.9 3.9 0 1 0 -7.8 0M551.57 53.92a3.9 3.9 0 1 0 7.8 0a3.9 3.9 0 1 0 -7.8 0M558.23 59.84a3.9 3.9 0 1 0 7.8 0a3.9 3.9 0 1 0 -7.8 0M563.39 64.79a3.9 3.9 0 1 0 7.8 0a3.9 3.9 0 1 0 -7.8 0M567.61 69.01a3.9 3.9 0 1 0 7.8 0a3.9 3.9 0 1 0 -7.8 0M571.18 72.89a3.9 3.9 0 1 0 7.8 0a3.9 3.9 0 1 0 -7.8 0M574.27 76.29a3.9 3.9 0 1 0 7.8 0a3.9 3.9 0 1 0 -7.8 0M577 79.23a3.9 3.9 0 1 0 7.8 0a3.9 3.9 0 1 0 -7.8 0M579.44 81.75a3.9 3.9 0 1 0 7.8 0a3.9 3.9 0 1 0 -7.8 0M581.64 84.03a3.9 3.9 0 1 0 7.8 0a3.9 3.9 0 1 0 -7.8 0M583.66 86.11a3.9 3.9 0 1 0 7.8 0a3.9 3.9 0 1 0 -7.8 0M585.51 88.01a3.9 3.9 0 1 0 7.8 0a3.9 3.9 0 1 0 -7.8 0M587.23 89.71a3.9 3.9 0 1 0 7.8 0a3.9 3.9 0 1 0 -7.8 0M590.32 92.77a3.9 3.9 0 1 0 7.8 0a3.9 3.9 0 1 0 -7.8 0M593.04 95.47a3.9 3.9 0 1 0 7.8 0a3.9 3.9 0 1 0 -7.8 0M595.48 97.89a3.9 3.9 0 1 0 7.8 0a3.9 3.9 0 1 0 -7.8 0M597.69 100.08a3.9 3.9 0 1 0 7.8 0a3.9 3.9 0 1 0 -7.8 0M599.7 102.07a3.9 3.9 0 1 0 7.8 0a3.9 3.9 0 1 0 -7.8 0M601.56 103.91a3.9 3.9 0 1 0 7.8 0a3.9 3.9 0 1 0 -7.8 0M603.27 105.61a3.9 3.9 0 1 0 7.8 0a3.9 3.9 0 1 0 -7.8 0M605.63 107.95a3.9 3.9 0 1 0 7.8 0a3.9 3.9 0 1 0 -7.8 0M607.77 110.07a3.9 3.9 0 1 0 7.8 0a3.9 3.9 0 1 0 -7.8 0M609.72 112.01a3.9 3.9 0 1 0 7.8 0a3.9 3.9 0 1 0 -7.8 0M611.53 113.8a3.9 3.9 0 1 0 7.8 0a3.9 3.9 0 1 0 -7.8 0M613.2 115.46a3.9 3.9 0 1 0 7.8 0a3.9 3.9 0 1 0 -7.8 0M615.26 117.51a3.9 3.9 0 1 0 7.8 0a3.9 3.9 0 1 0 -7.8 0M617.15 119.38a3.9 3.9 0 1 0 7.8 0a3.9 3.9 0 1 0 -7.8 0M618.9 121.11a3.9 3.9 0 1 0 7.8 0a3.9 3.9 0 1 0 -7.8 0M620.52 122.73a3.9 3.9 0 1 0 7.8 0a3.9 3.9 0 1 0 -7.8 0M622.41 124.59a3.9 3.9 0 1 0 7.8 0a3.9 3.9 0 1 0 -7.8 0M624.15 126.32a3.9 3.9 0 1 0 7.8 0a3.9 3.9 0 1 0 -7.8 0M625.77 127.93a3.9 3.9 0 1 0 7.8 0a3.9 3.9 0 1 0 -7.8 0M627.57 129.72a3.9 3.9 0 1 0 7.8 0a3.9 3.9 0 1 0 -7.8 0M629.25 131.38a3.9 3.9 0 1 0 7.8 0a3.9 3.9 0 1 0 -7.8 0M631.06 133.17a3.9 3.9 0 1 0 7.8 0a3.9 3.9 0 1 0 -7.8 0M632.74 134.84a3.9 3.9 0 1 0 7.8 0a3.9 3.9 0 1 0 -7.8 0M634.52 136.6a3.9 3.9 0 1 0 7.8 0a3.9 3.9 0 1 0 -7.8 0M636.17 138.22a3.9 3.9 0 1 0 7.8 0a3.9 3.9 0 1 0 -7.8 0M637.9 139.93a3.9 3.9 0 1 0 7.8 0a3.9 3.9 0 1 0 -7.8 0M639.51 141.51a3.9 3.9 0 1 0 7.8 0a3.9 3.9 0 1 0 -7.8 0M641.18 143.15a3.9 3.9 0 1 0 7.8 0a3.9 3.9 0 1 0 -7.8 0M642.88 144.82a3.9 3.9 0 1 0 7.8 0a3.9 3.9 0 1 0 -7.8 0M644.61 146.52a3.9 3.9 0 1 0 7.8 0a3.9 3.9 0 1 0 -7.8 0M646.22 148.1a3.9 3.9 0 1 0 7.8 0a3.9 3.9 0 1 0 -7.8 0M647.84 149.7a3.9 3.9 0 1 0 7.8 0a3.9 3.9 0 1 0 -7.8 0M649.47 151.3a3.9 3.9 0 1 0 7.8 0a3.9 3.9 0 1 0 -7.8 0M651.09 152.9a3.9 3.9 0 1 0 7.8 0a3.9 3.9 0 1 0 -7.8 0M652.71 154.49a3.9 3.9 0 1 0 7.8 0a3.9 3.9 0 1 0 -7.8 0M654.32 156.07a3.9 3.9 0 1 0 7.8 0a3.9 3.9 0 1 0 -7.8 0M655.99 157.71a3.9 3.9 0 1 0 7.8 0a3.9 3.9 0 1 0 -7.8 0M657.62 159.32a3.9 3.9 0 1 0 7.8 0a3.9 3.9 0 1 0 -7.8 0M659.22 160.9a3.9 3.9 0 1 0 7.8 0a3.9 3.9 0 1 0 -7.8 0M660.86 162.51a3.9 3.9 0 1 0 7.8 0a3.9 3.9 0 1 0 -7.8 0M662.52 164.14a3.9 3.9 0 1 0 7.8 0a3.9 3.9 0 1 0 -7.8 0" fill="none" stroke="#3da878" stroke-width="1.1" />
<path d="M592.72 91.29L600 98.5L637 135.2L668 165.7" fill="none" stroke="#3da878" stroke-width="9.5" stroke-linecap="round" stroke-linejoin="round"/>
<path d="M520.69 29.21h8M536.73 41.4h8M546.12 49.5h8M552.78 54.98h8M557.94 59.57h8M562.16 63.56h8M565.73 67.13h8M568.82 70.31h8M571.55 73.3h8M573.99 75.99h8M576.19 78.4h8M578.21 80.48h8M580.06 82.4h8M581.78 84.17h8M584.87 87.36h8M587.59 90.07h8M590.03 92.49h8M592.24 94.67h8M594.25 96.67h8M596.11 98.51h8M597.82 100.21h8M600.18 102.54h8M602.32 104.67h8M604.27 106.61h8M606.08 108.4h8M607.75 110.06h8M609.81 112.1h8M611.7 113.97h8M613.45 115.71h8M615.07 117.32h8M616.96 119.19h8M618.7 120.92h8M620.32 122.52h8M622.12 124.31h8M623.8 125.97h8M625.61 127.77h8M627.29 129.43h8M629.07 131.2h8M630.72 132.84h8M632.45 134.56h8M634.06 136.15h8M635.73 137.78h8M637.43 139.46h8M639.16 141.16h8M640.77 142.74h8M642.39 144.34h8M644.02 145.94h8M645.64 147.54h8M647.26 149.13h8M648.87 150.71h8M650.54 152.35h8M652.17 153.96h8M653.77 155.54h8M655.41 157.15h8" stroke="#6cbde8" stroke-width="0.8" fill="none"/>
<path d="M524.69 25.03L529.17 32.2L520.2 32.2zM540.73 37.22L545.22 44.39L536.25 44.39zM550.12 45.31L554.6 52.49L545.63 52.49zM556.78 50.8L561.26 57.97L552.29 57.97zM561.94 55.39L566.43 62.56L557.46 62.56zM566.16 59.38L570.65 66.55L561.68 66.55zM569.73 62.95L574.22 70.12L565.25 70.12zM572.82 66.12L577.31 73.3L568.34 73.3zM575.55 69.12L580.03 76.3L571.06 76.3zM577.99 71.8L582.47 78.98L573.5 78.98zM580.19 74.22L584.68 81.39L575.71 81.39zM582.21 76.3L586.69 83.47L577.72 83.47zM584.06 78.21L588.55 85.39L579.58 85.39zM585.78 79.98L590.26 87.16L581.29 87.16zM588.87 83.18L593.35 90.35L584.38 90.35zM591.59 85.89L596.08 93.06L587.11 93.06zM594.03 88.3L598.52 95.48L589.55 95.48zM596.24 90.49L600.72 97.66L591.75 97.66zM598.25 92.48L602.74 99.66L593.77 99.66zM600.11 94.32L604.59 101.5L595.62 101.5zM601.82 96.02L606.31 103.2L597.34 103.2zM604.18 98.36L608.66 105.54L599.69 105.54zM606.32 100.48L610.8 107.66L601.83 107.66zM608.27 102.42L612.76 109.6L603.79 109.6zM610.08 104.21L614.56 111.39L605.59 111.39zM611.75 105.87L616.24 113.05L607.27 113.05zM613.81 107.91L618.3 115.09L609.33 115.09zM615.7 109.79L620.19 116.97L611.22 116.97zM617.45 111.52L621.93 118.7L612.96 118.7zM619.07 113.14L623.56 120.31L614.59 120.31zM620.96 115L625.44 122.18L616.47 122.18zM622.7 116.73L627.18 123.91L618.21 123.91zM624.32 118.34L628.8 125.51L619.83 125.51zM626.12 120.13L630.61 127.3L621.64 127.3zM627.8 121.79L632.28 128.96L623.31 128.96zM629.61 123.58L634.09 130.76L625.12 130.76zM631.29 125.25L635.77 132.43L626.8 132.43zM633.07 127.02L637.55 134.19L628.58 134.19zM634.72 128.66L639.21 135.83L630.24 135.83zM636.45 130.37L640.94 137.55L631.97 137.55zM638.06 131.96L642.55 139.14L633.58 139.14zM639.73 133.6L644.21 140.78L635.24 140.78zM641.43 135.28L645.92 142.45L636.95 142.45zM643.16 136.97L647.64 144.15L638.67 144.15zM644.77 138.55L649.25 145.73L640.28 145.73zM646.39 140.15L650.87 147.33L641.9 147.33zM648.02 141.75L652.5 148.93L643.53 148.93zM649.64 143.35L654.13 150.53L645.16 150.53zM651.26 144.95L655.75 152.12L646.78 152.12zM652.87 146.52L657.35 153.7L648.38 153.7zM654.54 148.17L659.02 155.34L650.05 155.34zM656.17 149.78L660.66 156.95L651.69 156.95zM657.77 151.35L662.26 158.53L653.29 158.53zM659.41 152.96L663.9 160.14L654.93 160.14z" fill="none" stroke="#6cbde8" stroke-width="1.1" />
<path d="M587.37 86.12L589 87.8L600 98.7L637 135.4L661 159.01" fill="none" stroke="#6cbde8" stroke-width="9.5" stroke-linecap="round" stroke-linejoin="round"/>
<path d="M515.34 22.81h8M531.39 34.83h8M540.77 43.39h8M547.43 48.74h8M552.6 53.02h8M556.82 56.77h8M560.38 59.98h8M563.47 63.07h8M566.2 65.8h8M568.64 68.3h8M570.85 70.73h8M572.86 72.95h8M574.71 74.98h8M576.43 76.84h8M579.52 80.04h8M582.25 82.85h8M584.69 85.37h8M586.89 87.57h8M588.91 89.57h8M590.76 91.41h8M592.47 93.11h8M594.83 95.44h8M596.97 97.56h8M598.93 99.5h8M600.73 101.29h8M602.4 102.95h8M604.46 104.99h8M606.35 106.87h8M608.1 108.6h8M609.73 110.22h8M611.61 112.08h8M613.35 113.81h8M614.97 115.42h8M616.77 117.21h8M618.45 118.87h8M620.26 120.66h8M621.94 122.33h8M623.72 124.1h8M625.38 125.74h8M627.11 127.45h8M628.71 129.05h8M630.38 130.7h8M632.08 132.39h8M633.81 134.1h8M635.42 135.68h8M637.04 137.27h8M638.67 138.88h8M640.3 140.48h8M641.91 142.07h8M643.52 143.65h8M645.19 145.29h8M646.82 146.9h8M648.43 148.48h8M650.06 150.09h8" stroke="#e09a2a" stroke-width="0.8" fill="none"/>
<path d="M519.34 27.59L523.83 20.42L514.86 20.42zM535.39 39.62L539.87 32.44L530.9 32.44zM544.77 48.17L549.26 40.99L540.29 40.99zM551.43 53.53L555.91 46.35L546.94 46.35zM556.6 57.8L561.08 50.63L552.11 50.63zM560.82 61.55L565.3 54.38L556.33 54.38zM564.38 64.77L568.87 57.59L559.9 57.59zM567.47 67.86L571.96 60.68L562.99 60.68zM570.2 70.59L574.69 63.41L565.72 63.41zM572.64 73.09L577.13 65.91L568.16 65.91zM574.85 75.52L579.33 68.34L570.36 68.34zM576.86 77.73L581.35 70.56L572.38 70.56zM578.71 79.77L583.2 72.59L574.23 72.59zM580.43 81.63L584.91 74.45L575.94 74.45zM583.52 84.82L588 77.65L579.03 77.65zM586.25 87.64L590.73 80.46L581.76 80.46zM588.69 90.16L593.17 82.98L584.2 82.98zM590.89 92.36L595.38 85.18L586.41 85.18zM592.91 94.35L597.39 87.18L588.42 87.18zM594.76 96.19L599.24 89.01L590.27 89.01zM596.47 97.89L600.96 90.71L591.99 90.71zM598.83 100.23L603.31 93.05L594.34 93.05zM600.97 102.35L605.45 95.17L596.48 95.17zM602.93 104.29L607.41 97.11L598.44 97.11zM604.73 106.08L609.21 98.9L600.24 98.9zM606.4 107.74L610.89 100.56L601.92 100.56zM608.46 109.78L612.95 102.6L603.98 102.6zM610.35 111.65L614.84 104.48L605.87 104.48zM612.1 113.39L616.59 106.21L607.62 106.21zM613.73 115L618.21 107.82L609.24 107.82zM615.61 116.87L620.09 109.69L611.12 109.69zM617.35 118.6L621.84 111.42L612.87 111.42zM618.97 120.2L623.46 113.03L614.49 113.03zM620.77 121.99L625.26 114.82L616.29 114.82zM622.45 123.65L626.93 116.48L617.96 116.48zM624.26 125.45L628.75 118.27L619.78 118.27zM625.94 127.11L630.43 119.94L621.46 119.94zM627.72 128.88L632.21 121.71L623.24 121.71zM629.38 130.52L633.86 123.35L624.89 123.35zM631.11 132.24L635.59 125.06L626.62 125.06zM632.71 133.83L637.2 126.66L628.23 126.66zM634.38 135.49L638.87 128.31L629.9 128.31zM636.08 137.18L640.57 130L631.6 130zM637.81 138.88L642.3 131.71L633.33 131.71zM639.42 140.46L643.9 133.29L634.93 133.29zM641.04 142.06L645.53 134.88L636.56 134.88zM642.67 143.66L647.15 136.49L638.18 136.49zM644.3 145.26L648.78 138.09L639.81 138.09zM645.91 146.85L650.4 139.68L641.43 139.68zM647.52 148.43L652 141.26L643.03 141.26zM649.19 150.07L653.67 142.9L644.7 142.9zM650.82 151.68L655.31 144.51L646.34 144.51zM652.43 153.26L656.91 146.08L647.94 146.08zM654.06 154.87L658.55 147.69L649.58 147.69z" fill="none" stroke="#e09a2a" stroke-width="1.1" />
<path d="M582.03 78.79L589 86L600 96.9L637 133.6L655.7 152" fill="none" stroke="#e09a2a" stroke-width="9.5" stroke-linecap="round" stroke-linejoin="round"/>
<path d="M509.99 20.2h8M526.04 32.03h8M535.42 39.77h8M542.08 45.87h8M547.25 50h8M551.47 53.42h8M555.04 56.59h8M558.13 59.34h8M560.85 61.85h8M563.29 64.29h8M565.5 66.5h8M567.51 68.51h8M569.37 70.5h8M571.08 72.39h8M574.17 75.79h8M576.9 78.73h8M579.34 81.25h8M581.54 83.53h8M583.56 85.61h8M585.41 87.51h8M587.13 89.21h8M589.48 91.54h8M591.62 93.66h8M593.58 95.6h8M595.38 97.39h8M597.06 99.05h8M599.12 101.09h8M601.01 102.97h8M602.75 104.7h8M604.38 106.31h8M606.26 108.18h8M608 109.91h8M609.62 111.51h8M611.43 113.3h8M613.1 114.96h8M614.91 116.76h8M616.59 118.43h8M618.37 120.19h8M620.03 121.83h8M621.76 123.55h8M623.37 125.15h8M625.03 126.8h8M626.74 128.49h8M628.46 130.2h8M630.07 131.79h8M631.69 133.4h8M633.32 135.02h8M634.95 136.62h8M636.57 138.21h8M638.17 139.79h8M639.84 141.43h8M641.48 143.04h8M643.08 144.62h8" stroke="#e3e54a" stroke-width="0.8" fill="none"/>
<path d="M513.99 15.62L518.87 20.5L513.99 25.37L509.12 20.5zM530.04 27.46L534.91 32.33L530.04 37.21L525.16 32.33zM539.42 35.2L544.3 40.07L539.42 44.95L534.55 40.07zM546.08 41.29L550.96 46.17L546.08 51.04L541.21 46.17zM551.25 45.42L556.12 50.3L551.25 55.17L546.37 50.3zM555.47 48.84L560.34 53.72L555.47 58.59L550.59 53.72zM559.04 52.01L563.91 56.89L559.04 61.76L554.16 56.89zM562.13 54.76L567 59.64L562.13 64.51L557.25 59.64zM564.85 57.28L569.73 62.15L564.85 67.03L559.98 62.15zM567.29 59.72L572.17 64.59L567.29 69.47L562.42 64.59zM569.5 61.92L574.37 66.8L569.5 71.67L564.62 66.8zM571.51 63.94L576.39 68.81L571.51 73.69L566.64 68.81zM573.37 65.93L578.24 70.8L573.37 75.68L568.49 70.8zM575.08 67.82L579.96 72.69L575.08 77.57L570.21 72.69zM578.17 71.22L583.05 76.09L578.17 80.97L573.3 76.09zM580.9 74.15L585.77 79.03L580.9 83.9L576.02 79.03zM583.34 76.67L588.21 81.55L583.34 86.42L578.46 81.55zM585.54 78.95L590.42 83.83L585.54 88.7L580.67 83.83zM587.56 81.04L592.43 85.91L587.56 90.79L582.68 85.91zM589.41 82.93L594.29 87.81L589.41 92.68L584.54 87.81zM591.13 84.63L596 89.51L591.13 94.38L586.25 89.51zM593.48 86.97L598.36 91.84L593.48 96.72L588.61 91.84zM595.62 89.09L600.5 93.96L595.62 98.84L590.75 93.96zM597.58 91.03L602.45 95.9L597.58 100.78L592.7 95.9zM599.38 92.81L604.26 97.69L599.38 102.56L594.51 97.69zM601.06 94.47L605.93 99.35L601.06 104.22L596.18 99.35zM603.12 96.52L607.99 101.39L603.12 106.27L598.24 101.39zM605.01 98.39L609.88 103.27L605.01 108.14L600.13 103.27zM606.75 100.12L611.63 105L606.75 109.87L601.88 105zM608.38 101.74L613.25 106.61L608.38 111.49L603.5 106.61zM610.26 103.6L615.14 108.48L610.26 113.35L605.39 108.48zM612 105.33L616.88 110.21L612 115.08L607.13 110.21zM613.62 106.94L618.5 111.81L613.62 116.69L608.75 111.81zM615.43 108.73L620.3 113.6L615.43 118.48L610.55 113.6zM617.1 110.39L621.98 115.26L617.1 120.14L612.23 115.26zM618.91 112.19L623.79 117.06L618.91 121.94L614.04 117.06zM620.59 113.85L625.47 118.73L620.59 123.6L615.72 118.73zM622.37 115.62L627.25 120.49L622.37 125.37L617.5 120.49zM624.03 117.26L628.9 122.13L624.03 127.01L619.15 122.13zM625.76 118.97L630.63 123.85L625.76 128.72L620.88 123.85zM627.37 120.57L632.24 125.45L627.37 130.32L622.49 125.45zM629.03 122.22L633.91 127.1L629.03 131.97L624.16 127.1zM630.74 123.91L635.61 128.79L630.74 133.66L625.86 128.79zM632.46 125.63L637.34 130.5L632.46 135.38L627.59 130.5zM634.07 127.22L638.95 132.09L634.07 136.97L629.2 132.09zM635.69 128.83L640.57 133.7L635.69 138.58L630.82 133.7zM637.32 130.44L642.2 135.32L637.32 140.19L632.45 135.32zM638.95 132.04L643.82 136.92L638.95 141.79L634.07 136.92zM640.57 133.63L645.44 138.51L640.57 143.38L635.69 138.51zM642.17 135.21L647.05 140.09L642.17 144.96L637.3 140.09zM643.84 136.85L648.72 141.73L643.84 146.6L638.97 141.73zM645.48 138.46L650.35 143.34L645.48 148.21L640.6 143.34zM647.08 140.04L651.95 144.92L647.08 149.79L642.2 144.92z" fill="none" stroke="#e3e54a" stroke-width="1.1" />
<path d="M576.68 74.45L580 78.1L589 87.4L600 98.3L637 135L647.5 145.33" fill="none" stroke="#e3e54a" stroke-width="9.5" stroke-linecap="round" stroke-linejoin="round"/>
<path d="M520.69 28.01h8M530.07 34.4h8M536.73 40.2h8M541.9 44.92h8M546.12 48.3h8M549.69 51.15h8M552.78 53.78h8M555.5 56.2h8M557.94 58.37h8M560.15 60.35h8M562.16 62.36h8M564.02 64.22h8M565.73 65.93h8M568.82 69.11h8M571.55 72.1h8M573.99 74.79h8M576.19 77.2h8M578.21 79.28h8M580.06 81.2h8M581.78 82.97h8M584.13 85.4h8M586.27 87.56h8M588.23 89.5h8M590.03 91.29h8M591.71 92.95h8M593.77 94.99h8M595.66 96.86h8M597.4 98.59h8M599.03 100.21h8M600.91 102.07h8M602.65 103.8h8M604.27 105.41h8M606.08 107.2h8M607.75 108.86h8M609.56 110.65h8M611.24 112.32h8M613.03 114.09h8M614.68 115.73h8M616.41 117.44h8M618.02 119.04h8M619.68 120.69h8M621.39 122.38h8M623.11 124.09h8M624.72 125.69h8M626.34 127.3h8M627.97 128.91h8M629.6 130.53h8M631.22 132.13h8M632.82 133.72h8" stroke="#3d7ab5" stroke-width="0.8" fill="none"/>
<path d="M524.69 32.6L520.61 29.64L522.17 24.84L527.21 24.84L528.77 29.64zM534.07 38.99L529.99 36.03L531.55 31.23L536.6 31.23L538.15 36.03zM540.73 44.79L536.65 41.83L538.21 37.03L543.25 37.03L544.81 41.83zM545.9 49.51L541.82 46.54L543.38 41.75L548.42 41.75L549.98 46.54zM550.12 52.89L546.04 49.92L547.6 45.12L552.64 45.12L554.2 49.92zM553.69 55.74L549.61 52.78L551.17 47.98L556.21 47.98L557.77 52.78zM556.78 58.37L552.7 55.41L554.26 50.61L559.3 50.61L560.86 55.41zM559.5 60.79L555.42 57.83L556.98 53.03L562.03 53.03L563.58 57.83zM561.94 62.96L557.86 60L559.42 55.2L564.47 55.2L566.02 60zM564.15 64.94L560.07 61.98L561.63 57.18L566.67 57.18L568.23 61.98zM566.16 66.95L562.08 63.99L563.64 59.19L568.69 59.19L570.24 63.99zM568.02 68.81L563.94 65.84L565.5 61.05L570.54 61.05L572.1 65.84zM569.73 70.52L565.65 67.56L567.21 62.76L572.25 62.76L573.81 67.56zM572.82 73.7L568.74 70.73L570.3 65.93L575.34 65.93L576.9 70.73zM575.55 76.69L571.47 73.73L573.03 68.93L578.07 68.93L579.63 73.73zM577.99 79.38L573.91 76.41L575.47 71.62L580.51 71.62L582.07 76.41zM580.19 81.79L576.11 78.83L577.67 74.03L582.72 74.03L584.27 78.83zM582.21 83.87L578.13 80.91L579.69 76.11L584.73 76.11L586.29 80.91zM584.06 85.79L579.98 82.82L581.54 78.03L586.58 78.03L588.14 82.82zM585.78 87.56L581.7 84.6L583.26 79.8L588.3 79.8L589.86 84.6zM588.13 89.99L584.05 87.03L585.61 82.23L590.65 82.23L592.21 87.03zM590.27 92.15L586.19 89.19L587.75 84.39L592.79 84.39L594.35 89.19zM592.23 94.09L588.15 91.13L589.71 86.33L594.75 86.33L596.31 91.13zM594.03 95.88L589.95 92.91L591.51 88.12L596.55 88.12L598.11 92.91zM595.71 97.54L591.63 94.57L593.19 89.78L598.23 89.78L599.79 94.57zM597.77 99.58L593.69 96.61L595.24 91.82L600.29 91.82L601.85 96.61zM599.66 101.45L595.58 98.49L597.14 93.69L602.18 93.69L603.74 98.49zM601.4 103.18L597.32 100.22L598.88 95.42L603.93 95.42L605.48 100.22zM603.03 104.8L598.95 101.83L600.51 97.03L605.55 97.03L607.11 101.83zM604.91 106.66L600.83 103.7L602.39 98.9L607.43 98.9L608.99 103.7zM606.65 108.39L602.57 105.43L604.13 100.63L609.18 100.63L610.73 105.43zM608.27 110L604.19 107.03L605.75 102.24L610.8 102.24L612.35 107.03zM610.08 111.79L606 108.82L607.56 104.03L612.6 104.03L614.16 108.82zM611.75 113.45L607.67 110.48L609.23 105.69L614.27 105.69L615.83 110.48zM613.56 115.24L609.48 112.28L611.04 107.48L616.09 107.48L617.64 112.28zM615.24 116.91L611.16 113.95L612.72 109.15L617.77 109.15L619.32 113.95zM617.03 118.68L612.95 115.71L614.5 110.92L619.55 110.92L621.11 115.71zM618.68 120.32L614.6 117.35L616.16 112.56L621.2 112.56L622.76 117.35zM620.41 122.03L616.33 119.07L617.89 114.27L622.93 114.27L624.49 119.07zM622.02 123.63L617.94 120.67L619.5 115.87L624.54 115.87L626.1 120.67zM623.68 125.28L619.6 122.32L621.16 117.52L626.21 117.52L627.76 122.32zM625.39 126.97L621.31 124.01L622.87 119.21L627.91 119.21L629.47 124.01zM627.11 128.68L623.03 125.72L624.59 120.92L629.64 120.92L631.19 125.72zM628.72 130.28L624.64 127.31L626.2 122.52L631.24 122.52L632.8 127.31zM630.34 131.89L626.26 128.92L627.82 124.13L632.87 124.13L634.42 128.92zM631.97 133.5L627.89 130.54L629.45 125.74L634.49 125.74L636.05 130.54zM633.6 135.12L629.52 132.15L631.08 127.36L636.12 127.36L637.68 132.15zM635.22 136.72L631.14 133.76L632.7 128.96L637.74 128.96L639.3 133.76zM636.82 138.31L632.74 135.35L634.3 130.55L639.34 130.55L640.9 135.35z" fill="none" stroke="#3d7ab5" stroke-width="1.1" />
<path d="M571.33 67.83L572 68.5L580 77.3L589 86.6L600 97.5L637 134.2L637.8 134.99" fill="none" stroke="#3d7ab5" stroke-width="9.5" stroke-linecap="round" stroke-linejoin="round"/>
<path d="M508.4 6.3L677.5 174.2" fill="none" stroke="#111" stroke-width="1" />
<rect x="508.4" y="6.3" width="169.9" height="168.9" fill="none" stroke="#262626" stroke-width="1.1"/>
<path d="M546.09 175.2v-7M546.09 6.3v7M599.4 175.2v-7M599.4 6.3v7M652.71 175.2v-7M652.71 6.3v7" stroke="#262626" stroke-width="1.1" fill="none"/>
<path d="M508.83 175.2v-3.5M508.83 6.3v3.5M518.22 175.2v-3.5M518.22 6.3v3.5M524.88 175.2v-3.5M524.88 6.3v3.5M530.04 175.2v-3.5M530.04 6.3v3.5M534.26 175.2v-3.5M534.26 6.3v3.5M537.83 175.2v-3.5M537.83 6.3v3.5M540.92 175.2v-3.5M540.92 6.3v3.5M543.65 175.2v-3.5M543.65 6.3v3.5M562.14 175.2v-3.5M562.14 6.3v3.5M571.53 175.2v-3.5M571.53 6.3v3.5M578.19 175.2v-3.5M578.19 6.3v3.5M583.35 175.2v-3.5M583.35 6.3v3.5M587.57 175.2v-3.5M587.57 6.3v3.5M591.14 175.2v-3.5M591.14 6.3v3.5M594.23 175.2v-3.5M594.23 6.3v3.5M596.96 175.2v-3.5M596.96 6.3v3.5M615.45 175.2v-3.5M615.45 6.3v3.5M624.84 175.2v-3.5M624.84 6.3v3.5M631.5 175.2v-3.5M631.5 6.3v3.5M636.66 175.2v-3.5M636.66 6.3v3.5M640.88 175.2v-3.5M640.88 6.3v3.5M644.45 175.2v-3.5M644.45 6.3v3.5M647.54 175.2v-3.5M647.54 6.3v3.5M650.27 175.2v-3.5M650.27 6.3v3.5M668.76 175.2v-3.5M668.76 6.3v3.5M678.15 175.2v-3.5M678.15 6.3v3.5" stroke="#262626" stroke-width="1.1" fill="none"/>
<path d="M508.4 19.99h7M678.3 19.99h-7M508.4 43.28h7M678.3 43.28h-7M508.4 66.57h7M678.3 66.57h-7M508.4 89.85h7M678.3 89.85h-7M508.4 113.14h7M678.3 113.14h-7M508.4 136.43h7M678.3 136.43h-7M508.4 159.71h7M678.3 159.71h-7" stroke="#262626" stroke-width="1.1" fill="none"/>
<path d="M508.4 171.89h3.5M678.3 171.89h-3.5M508.4 168.98h3.5M678.3 168.98h-3.5M508.4 166.72h3.5M678.3 166.72h-3.5M508.4 164.88h3.5M678.3 164.88h-3.5M508.4 163.32h3.5M678.3 163.32h-3.5M508.4 161.97h3.5M678.3 161.97h-3.5M508.4 160.78h3.5M678.3 160.78h-3.5M508.4 152.7h3.5M678.3 152.7h-3.5M508.4 148.6h3.5M678.3 148.6h-3.5M508.4 145.69h3.5M678.3 145.69h-3.5M508.4 143.44h3.5M678.3 143.44h-3.5M508.4 141.59h3.5M678.3 141.59h-3.5M508.4 140.03h3.5M678.3 140.03h-3.5M508.4 138.68h3.5M678.3 138.68h-3.5M508.4 137.49h3.5M678.3 137.49h-3.5M508.4 129.42h3.5M678.3 129.42h-3.5M508.4 125.32h3.5M678.3 125.32h-3.5M508.4 122.41h3.5M678.3 122.41h-3.5M508.4 120.15h3.5M678.3 120.15h-3.5M508.4 118.31h3.5M678.3 118.31h-3.5M508.4 116.75h3.5M678.3 116.75h-3.5M508.4 115.4h3.5M678.3 115.4h-3.5M508.4 114.21h3.5M678.3 114.21h-3.5M508.4 106.13h3.5M678.3 106.13h-3.5M508.4 102.03h3.5M678.3 102.03h-3.5M508.4 99.12h3.5M678.3 99.12h-3.5M508.4 96.86h3.5M678.3 96.86h-3.5M508.4 95.02h3.5M678.3 95.02h-3.5M508.4 93.46h3.5M678.3 93.46h-3.5M508.4 92.11h3.5M678.3 92.11h-3.5M508.4 90.92h3.5M678.3 90.92h-3.5M508.4 82.84h3.5M678.3 82.84h-3.5M508.4 78.74h3.5M678.3 78.74h-3.5M508.4 75.83h3.5M678.3 75.83h-3.5M508.4 73.58h3.5M678.3 73.58h-3.5M508.4 71.73h3.5M678.3 71.73h-3.5M508.4 70.17h3.5M678.3 70.17h-3.5M508.4 68.82h3.5M678.3 68.82h-3.5M508.4 67.63h3.5M678.3 67.63h-3.5M508.4 59.56h3.5M678.3 59.56h-3.5M508.4 55.46h3.5M678.3 55.46h-3.5M508.4 52.55h3.5M678.3 52.55h-3.5M508.4 50.29h3.5M678.3 50.29h-3.5M508.4 48.45h3.5M678.3 48.45h-3.5M508.4 46.89h3.5M678.3 46.89h-3.5M508.4 45.54h3.5M678.3 45.54h-3.5M508.4 44.35h3.5M678.3 44.35h-3.5M508.4 36.27h3.5M678.3 36.27h-3.5M508.4 32.17h3.5M678.3 32.17h-3.5M508.4 29.26h3.5M678.3 29.26h-3.5M508.4 27h3.5M678.3 27h-3.5M508.4 25.16h3.5M678.3 25.16h-3.5M508.4 23.6h3.5M678.3 23.6h-3.5M508.4 22.25h3.5M678.3 22.25h-3.5M508.4 21.06h3.5M678.3 21.06h-3.5M508.4 12.98h3.5M678.3 12.98h-3.5M508.4 8.88h3.5M678.3 8.88h-3.5" stroke="#262626" stroke-width="1.1" fill="none"/>
<text x="505" y="23.59" font-size="10" text-anchor="end" font-family="Liberation Sans, sans-serif" fill="#111" stroke="#111" stroke-width="0.12" >10<tspan dy="-4.2" font-size="8"><tspan font-size="6">-</tspan>2</tspan></text>
<text x="505" y="70.17" font-size="10" text-anchor="end" font-family="Liberation Sans, sans-serif" fill="#111" stroke="#111" stroke-width="0.12" >10<tspan dy="-4.2" font-size="8"><tspan font-size="6">-</tspan>4</tspan></text>
<text x="505" y="116.74" font-size="10" text-anchor="end" font-family="Liberation Sans, sans-serif" fill="#111" stroke="#111" stroke-width="0.12" >10<tspan dy="-4.2" font-size="8"><tspan font-size="6">-</tspan>6</tspan></text>
<text x="505" y="163.31" font-size="10" text-anchor="end" font-family="Liberation Sans, sans-serif" fill="#111" stroke="#111" stroke-width="0.12" >10<tspan dy="-4.2" font-size="8"><tspan font-size="6">-</tspan>8</tspan></text>
<text x="547.09" y="189.5" font-size="10" text-anchor="middle" font-family="Liberation Sans, sans-serif" fill="#111" stroke="#111" stroke-width="0.12" >10<tspan dy="-4.2" font-size="8"><tspan font-size="6">-</tspan>1</tspan></text>
<text x="600.4" y="189.5" font-size="10" text-anchor="middle" font-family="Liberation Sans, sans-serif" fill="#111" stroke="#111" stroke-width="0.12" >10<tspan dy="-4.2" font-size="8">0</tspan></text>
<text x="653.71" y="189.5" font-size="10" text-anchor="middle" font-family="Liberation Sans, sans-serif" fill="#111" stroke="#111" stroke-width="0.12" >10<tspan dy="-4.2" font-size="8">1</tspan></text>
<text x="475.6" y="17.9" font-size="15" text-anchor="start" font-family="Liberation Sans, sans-serif" fill="#111" font-weight="bold">c</text>
<g font-family="Liberation Serif, serif" fill="#111" font-size="11">
<text x="592.5" y="24.3" textLength="72.5" lengthAdjust="spacingAndGlyphs"><tspan font-style="italic">α</tspan> = <tspan font-style="italic">βz</tspan> ≈ 1.176</text>
<text x="605.5" y="86" textLength="63" lengthAdjust="spacingAndGlyphs">−2(<tspan font-style="italic">α</tspan> − <tspan font-style="italic">α</tspan><tspan dy="2.5" font-size="8.5">loc</tspan><tspan dy="-2.5">)</tspan></text>
<text x="608.5" y="144" textLength="21" lengthAdjust="spacingAndGlyphs">−2<tspan font-style="italic">α</tspan></text>
</g>
<path d="M37.5 344.44h7M59.71 331.08h7M72.71 324.21h7M81.93 320.03h7M89.08 317.28h7M94.92 315.38h7M99.86 314.01h7M104.14 313h7M107.92 312.23h7M111.29 311.63h7M114.35 311.16h7M117.14 310.78h7M119.7 310.46h7M122.08 310.21h7M124.29 309.99h7M126.36 309.81h7M128.3 309.66h7M130.13 309.53h7M131.86 309.41h7M133.51 309.31h7M135.07 309.22h7M136.56 309.15h7M137.99 309.08h7M139.35 309.02h7M140.66 308.96h7" stroke="#9a1af0" stroke-width="0.7" fill="none"/>
<path d="M37.2 340.94h7.6v7.6h-7.6zM59.41 327.58h7.6v7.6h-7.6zM72.41 320.71h7.6v7.6h-7.6zM81.63 316.53h7.6v7.6h-7.6zM88.78 313.78h7.6v7.6h-7.6zM94.62 311.88h7.6v7.6h-7.6zM99.56 310.51h7.6v7.6h-7.6zM103.84 309.5h7.6v7.6h-7.6zM107.62 308.73h7.6v7.6h-7.6zM110.99 308.13h7.6v7.6h-7.6zM114.05 307.66h7.6v7.6h-7.6zM116.84 307.28h7.6v7.6h-7.6zM119.4 306.96h7.6v7.6h-7.6zM121.78 306.71h7.6v7.6h-7.6zM123.99 306.49h7.6v7.6h-7.6zM126.06 306.31h7.6v7.6h-7.6zM128 306.16h7.6v7.6h-7.6zM129.83 306.03h7.6v7.6h-7.6zM131.56 305.91h7.6v7.6h-7.6zM133.21 305.81h7.6v7.6h-7.6zM134.77 305.72h7.6v7.6h-7.6zM136.26 305.65h7.6v7.6h-7.6zM137.69 305.58h7.6v7.6h-7.6zM139.05 305.52h7.6v7.6h-7.6zM140.36 305.46h7.6v7.6h-7.6z" fill="none" stroke="#9a1af0" stroke-width="1" />
<path d="M144.16 309.26L145.42 309.21L147.79 309.13L150 309.06L152.07 309L154.01 308.95L155.84 308.91L157.58 308.87L159.22 308.84L160.78 308.81L163 308.78L165.06 308.75L167.01 308.73L168.84 308.7L170.57 308.69L172.22 308.67L173.78 308.66L175.75 308.64L177.61 308.63L179.37 308.62L181.03 308.61L182.61 308.6L184.12 308.59L185.91 308.59L187.61 308.58L189.22 308.57L190.75 308.57L192.5 308.56L194.16 308.56L195.74 308.55L197.24 308.55L198.91 308.55L200.49 308.54L202 308.54L203.65 308.54L205.21 308.54L206.88 308.53L208.47 308.53L209.99 308.53L210.8 308.53" fill="none" stroke="#9a1af0" stroke-width="8.5" stroke-linecap="round" stroke-linejoin="round"/>
<path d="M37.5 335.58h7M59.71 321.82h7M72.71 314.46h7M81.93 309.79h7M89.08 306.59h7M94.92 304.29h7M99.86 302.59h7M104.14 301.3h7M107.92 300.3h7M111.29 299.5h7M114.35 298.87h7M117.14 298.35h7M119.7 297.92h7M122.08 297.56h7M124.29 297.26h7M126.36 297h7M128.3 296.79h7M130.13 296.6h7M131.86 296.43h7M133.51 296.29h7M135.07 296.16h7M136.56 296.05h7M137.99 295.95h7M139.35 295.86h7M140.66 295.78h7" stroke="#3da878" stroke-width="0.7" fill="none"/>
<path d="M37.2 335.88a3.8 3.8 0 1 0 7.6 0a3.8 3.8 0 1 0 -7.6 0M59.41 322.12a3.8 3.8 0 1 0 7.6 0a3.8 3.8 0 1 0 -7.6 0M72.41 314.76a3.8 3.8 0 1 0 7.6 0a3.8 3.8 0 1 0 -7.6 0M81.63 310.09a3.8 3.8 0 1 0 7.6 0a3.8 3.8 0 1 0 -7.6 0M88.78 306.89a3.8 3.8 0 1 0 7.6 0a3.8 3.8 0 1 0 -7.6 0M94.62 304.59a3.8 3.8 0 1 0 7.6 0a3.8 3.8 0 1 0 -7.6 0M99.56 302.89a3.8 3.8 0 1 0 7.6 0a3.8 3.8 0 1 0 -7.6 0M103.84 301.6a3.8 3.8 0 1 0 7.6 0a3.8 3.8 0 1 0 -7.6 0M107.62 300.6a3.8 3.8 0 1 0 7.6 0a3.8 3.8 0 1 0 -7.6 0M110.99 299.8a3.8 3.8 0 1 0 7.6 0a3.8 3.8 0 1 0 -7.6 0M114.05 299.17a3.8 3.8 0 1 0 7.6 0a3.8 3.8 0 1 0 -7.6 0M116.84 298.65a3.8 3.8 0 1 0 7.6 0a3.8 3.8 0 1 0 -7.6 0M119.4 298.22a3.8 3.8 0 1 0 7.6 0a3.8 3.8 0 1 0 -7.6 0M121.78 297.86a3.8 3.8 0 1 0 7.6 0a3.8 3.8 0 1 0 -7.6 0M123.99 297.56a3.8 3.8 0 1 0 7.6 0a3.8 3.8 0 1 0 -7.6 0M126.06 297.3a3.8 3.8 0 1 0 7.6 0a3.8 3.8 0 1 0 -7.6 0M128 297.09a3.8 3.8 0 1 0 7.6 0a3.8 3.8 0 1 0 -7.6 0M129.83 296.9a3.8 3.8 0 1 0 7.6 0a3.8 3.8 0 1 0 -7.6 0M131.56 296.73a3.8 3.8 0 1 0 7.6 0a3.8 3.8 0 1 0 -7.6 0M133.21 296.59a3.8 3.8 0 1 0 7.6 0a3.8 3.8 0 1 0 -7.6 0M134.77 296.46a3.8 3.8 0 1 0 7.6 0a3.8 3.8 0 1 0 -7.6 0M136.26 296.35a3.8 3.8 0 1 0 7.6 0a3.8 3.8 0 1 0 -7.6 0M137.69 296.25a3.8 3.8 0 1 0 7.6 0a3.8 3.8 0 1 0 -7.6 0M139.05 296.16a3.8 3.8 0 1 0 7.6 0a3.8 3.8 0 1 0 -7.6 0M140.36 296.08a3.8 3.8 0 1 0 7.6 0a3.8 3.8 0 1 0 -7.6 0" fill="none" stroke="#3da878" stroke-width="1" />
<path d="M144.16 296.08L145.42 296.01L147.79 295.88L150 295.78L152.07 295.69L154.01 295.62L155.84 295.56L157.58 295.5L159.22 295.46L160.78 295.42L163 295.37L165.06 295.32L167.01 295.29L168.84 295.26L170.57 295.23L172.22 295.21L173.78 295.19L175.75 295.16L177.61 295.14L179.37 295.13L181.03 295.11L182.61 295.1L184.12 295.09L185.91 295.08L187.61 295.07L189.22 295.06L190.75 295.05L192.5 295.04L194.16 295.03L195.74 295.03L197.24 295.02L198.91 295.02L200.49 295.01L202 295.01L203.65 295.01L205.21 295L206.88 295L208.47 295L209.99 294.99L210.8 294.99" fill="none" stroke="#3da878" stroke-width="8.5" stroke-linecap="round" stroke-linejoin="round"/>
<path d="M37.5 326.79h7M59.71 312.74h7M72.71 305.01h7M81.93 299.95h7M89.08 296.36h7M94.92 293.7h7M99.86 291.68h7M104.14 290.1h7M107.92 288.84h7M111.29 287.83h7M114.35 287h7M117.14 286.31h7M119.7 285.74h7M122.08 285.26h7M124.29 284.85h7M126.36 284.49h7M128.3 284.19h7M130.13 283.92h7M131.86 283.69h7M133.51 283.49h7M135.07 283.31h7M136.56 283.15h7M137.99 283h7M139.35 282.88h7M140.66 282.76h7" stroke="#6cbde8" stroke-width="0.7" fill="none"/>
<path d="M41 322.72L45.37 329.71L36.63 329.71zM63.21 308.67L67.58 315.66L58.84 315.66zM76.21 300.94L80.58 307.93L71.84 307.93zM85.43 295.88L89.8 302.87L81.06 302.87zM92.58 292.29L96.95 299.28L88.21 299.28zM98.42 289.63L102.79 296.63L94.05 296.63zM103.36 287.61L107.73 294.6L98.99 294.6zM107.64 286.03L112.01 293.02L103.27 293.02zM111.42 284.77L115.79 291.76L107.05 291.76zM114.79 283.76L119.16 290.75L110.42 290.75zM117.85 282.93L122.22 289.92L113.48 289.92zM120.64 282.24L125.01 289.23L116.27 289.23zM123.2 281.67L127.57 288.66L118.83 288.66zM125.58 281.19L129.95 288.18L121.21 288.18zM127.79 280.78L132.16 287.77L123.42 287.77zM129.86 280.42L134.23 287.41L125.49 287.41zM131.8 280.12L136.17 287.11L127.43 287.11zM133.63 279.85L138 286.85L129.26 286.85zM135.36 279.62L139.73 286.61L130.99 286.61zM137.01 279.42L141.38 286.41L132.64 286.41zM138.57 279.24L142.94 286.23L134.2 286.23zM140.06 279.08L144.43 286.07L135.69 286.07zM141.49 278.93L145.86 285.93L137.12 285.93zM142.85 278.81L147.22 285.8L138.48 285.8zM144.16 278.69L148.53 285.68L139.79 285.68z" fill="none" stroke="#6cbde8" stroke-width="1" />
<path d="M144.16 283.06L145.42 282.96L147.79 282.78L150 282.63L152.07 282.5L154.01 282.39L155.84 282.3L157.58 282.22L159.22 282.16L160.78 282.1L163 282.02L165.06 281.96L167.01 281.9L168.84 281.85L170.57 281.82L172.22 281.78L173.78 281.75L175.75 281.72L177.61 281.69L179.37 281.66L181.03 281.64L182.61 281.62L184.12 281.61L185.91 281.59L187.61 281.57L189.22 281.56L190.75 281.55L192.5 281.53L194.16 281.52L195.74 281.52L197.24 281.51L198.91 281.5L200.49 281.49L202 281.49L203.65 281.48L205.21 281.47L206.88 281.47L208.47 281.46L209.99 281.46L210.8 281.46" fill="none" stroke="#6cbde8" stroke-width="8.5" stroke-linecap="round" stroke-linejoin="round"/>
<path d="M37.5 318.04h7M59.71 303.79h7M72.71 295.8h7M81.93 290.44h7M89.08 286.53h7M94.92 283.57h7M99.86 281.24h7M104.14 279.39h7M107.92 277.88h7M111.29 276.64h7M114.35 275.6h7M117.14 274.74h7M119.7 274h7M122.08 273.37h7M124.29 272.82h7M126.36 272.35h7M128.3 271.94h7M130.13 271.58h7M131.86 271.27h7M133.51 270.99h7M135.07 270.74h7M136.56 270.51h7M137.99 270.31h7M139.35 270.13h7M140.66 269.97h7" stroke="#e09a2a" stroke-width="0.7" fill="none"/>
<path d="M41 322.71L45.37 315.72L36.63 315.72zM63.21 308.46L67.58 301.47L58.84 301.47zM76.21 300.47L80.58 293.48L71.84 293.48zM85.43 295.11L89.8 288.11L81.06 288.11zM92.58 291.2L96.95 284.21L88.21 284.21zM98.42 288.24L102.79 281.24L94.05 281.24zM103.36 285.91L107.73 278.92L98.99 278.92zM107.64 284.06L112.01 277.07L103.27 277.07zM111.42 282.55L115.79 275.56L107.05 275.56zM114.79 281.31L119.16 274.32L110.42 274.32zM117.85 280.27L122.22 273.28L113.48 273.28zM120.64 279.41L125.01 272.41L116.27 272.41zM123.2 278.67L127.57 271.68L118.83 271.68zM125.58 278.04L129.95 271.05L121.21 271.05zM127.79 277.49L132.16 270.5L123.42 270.5zM129.86 277.02L134.23 270.03L125.49 270.03zM131.8 276.61L136.17 269.62L127.43 269.62zM133.63 276.25L138 269.26L129.26 269.26zM135.36 275.94L139.73 268.95L130.99 268.95zM137.01 275.66L141.38 268.66L132.64 268.66zM138.57 275.41L142.94 268.42L134.2 268.42zM140.06 275.18L144.43 268.19L135.69 268.19zM141.49 274.98L145.86 267.99L137.12 267.99zM142.85 274.8L147.22 267.81L138.48 267.81zM144.16 274.64L148.53 267.65L139.79 267.65z" fill="none" stroke="#e09a2a" stroke-width="1" />
<path d="M144.16 270.27L145.42 270.12L147.79 269.87L150 269.65L152.07 269.47L154.01 269.32L155.84 269.18L157.58 269.07L159.22 268.97L160.78 268.88L163 268.77L165.06 268.67L167.01 268.59L168.84 268.53L170.57 268.47L172.22 268.42L173.78 268.37L175.75 268.32L177.61 268.28L179.37 268.24L181.03 268.21L182.61 268.18L184.12 268.15L185.91 268.13L187.61 268.1L189.22 268.08L190.75 268.07L192.5 268.05L194.16 268.03L195.74 268.02L197.24 268.01L198.91 267.99L200.49 267.98L202 267.97L203.65 267.97L205.21 267.96L206.88 267.95L208.47 267.94L209.99 267.94L210.8 267.93" fill="none" stroke="#e09a2a" stroke-width="8.5" stroke-linecap="round" stroke-linejoin="round"/>
<path d="M37.5 309.32h7M59.71 294.94h7M72.71 286.76h7M81.93 281.17h7M89.08 277.03h7M94.92 273.81h7M99.86 271.24h7M104.14 269.14h7M107.92 267.41h7M111.29 265.95h7M114.35 264.71h7M117.14 263.65h7M119.7 262.74h7M122.08 261.95h7M124.29 261.26h7M126.36 260.66h7M128.3 260.13h7M130.13 259.66h7M131.86 259.24h7M133.51 258.86h7M135.07 258.53h7M136.56 258.23h7M137.99 257.95h7M139.35 257.71h7M140.66 257.48h7" stroke="#e3e54a" stroke-width="0.7" fill="none"/>
<path d="M41 304.87L45.75 309.62L41 314.37L36.25 309.62zM63.21 290.49L67.96 295.24L63.21 299.99L58.46 295.24zM76.21 282.31L80.96 287.06L76.21 291.81L71.46 287.06zM85.43 276.72L90.18 281.47L85.43 286.22L80.68 281.47zM92.58 272.58L97.33 277.33L92.58 282.08L87.83 277.33zM98.42 269.36L103.17 274.11L98.42 278.86L93.67 274.11zM103.36 266.79L108.11 271.54L103.36 276.29L98.61 271.54zM107.64 264.69L112.39 269.44L107.64 274.19L102.89 269.44zM111.42 262.96L116.17 267.71L111.42 272.46L106.67 267.71zM114.79 261.5L119.54 266.25L114.79 271L110.04 266.25zM117.85 260.26L122.6 265.01L117.85 269.76L113.1 265.01zM120.64 259.2L125.39 263.95L120.64 268.7L115.89 263.95zM123.2 258.29L127.95 263.04L123.2 267.79L118.45 263.04zM125.58 257.5L130.33 262.25L125.58 267L120.83 262.25zM127.79 256.81L132.54 261.56L127.79 266.31L123.04 261.56zM129.86 256.21L134.61 260.96L129.86 265.71L125.11 260.96zM131.8 255.68L136.55 260.43L131.8 265.18L127.05 260.43zM133.63 255.21L138.38 259.96L133.63 264.71L128.88 259.96zM135.36 254.79L140.11 259.54L135.36 264.29L130.61 259.54zM137.01 254.41L141.76 259.16L137.01 263.91L132.26 259.16zM138.57 254.08L143.32 258.83L138.57 263.58L133.82 258.83zM140.06 253.78L144.81 258.53L140.06 263.28L135.31 258.53zM141.49 253.5L146.24 258.25L141.49 263L136.74 258.25zM142.85 253.26L147.6 258.01L142.85 262.76L138.1 258.01zM144.16 253.03L148.91 257.78L144.16 262.53L139.41 257.78z" fill="none" stroke="#e3e54a" stroke-width="1" />
<path d="M144.16 257.78L145.42 257.58L147.79 257.22L150 256.92L152.07 256.66L154.01 256.44L155.84 256.25L157.58 256.09L159.22 255.94L160.78 255.82L163 255.65L165.06 255.52L167.01 255.4L168.84 255.3L170.57 255.21L172.22 255.14L173.78 255.07L175.75 255L177.61 254.93L179.37 254.88L181.03 254.83L182.61 254.79L184.12 254.75L185.91 254.71L187.61 254.67L189.22 254.64L190.75 254.62L192.5 254.59L194.16 254.57L195.74 254.55L197.24 254.53L198.91 254.51L200.49 254.49L202 254.48L203.65 254.47L205.21 254.45L206.88 254.44L208.47 254.43L209.99 254.42L210.8 254.42" fill="none" stroke="#e3e54a" stroke-width="8.5" stroke-linecap="round" stroke-linejoin="round"/>
<path d="M37.5 300.62h7M59.71 286.15h7M72.71 277.84h7M81.93 272.1h7M89.08 267.78h7M94.92 264.37h7M99.86 261.6h7M104.14 259.31h7M107.92 257.37h7M111.29 255.72h7M114.35 254.3h7M117.14 253.06h7M119.7 251.98h7M122.08 251.04h7M124.29 250.2h7M126.36 249.45h7M128.3 248.79h7M130.13 248.2h7M131.86 247.67h7M133.51 247.18h7M135.07 246.75h7M136.56 246.36h7M137.99 246h7M139.35 245.67h7M140.66 245.37h7" stroke="#3d7ab5" stroke-width="0.7" fill="none"/>
<path d="M41 305.1L37.02 302.21L38.54 297.54L43.46 297.54L44.98 302.21zM63.21 290.63L59.24 287.74L60.76 283.07L65.67 283.07L67.19 287.74zM76.21 282.32L72.23 279.43L73.75 274.76L78.67 274.76L80.18 279.43zM85.43 276.58L81.45 273.69L82.97 269.02L87.88 269.02L89.4 273.69zM92.58 272.26L88.6 269.37L90.12 264.7L95.04 264.7L96.55 269.37zM98.42 268.85L94.45 265.96L95.97 261.29L100.88 261.29L102.4 265.96zM103.36 266.08L99.39 263.19L100.91 258.52L105.82 258.52L107.34 263.19zM107.64 263.79L103.67 260.9L105.18 256.22L110.1 256.22L111.62 260.9zM111.42 261.85L107.44 258.96L108.96 254.29L113.87 254.29L115.39 258.96zM114.79 260.2L110.82 257.31L112.34 252.64L117.25 252.64L118.77 257.31zM117.85 258.78L113.87 255.89L115.39 251.21L120.3 251.21L121.82 255.89zM120.64 257.54L116.66 254.65L118.18 249.98L123.09 249.98L124.61 254.65zM123.2 256.46L119.23 253.58L120.74 248.9L125.66 248.9L127.18 253.58zM125.58 255.52L121.6 252.63L123.12 247.95L128.03 247.95L129.55 252.63zM127.79 254.68L123.81 251.79L125.33 247.12L130.24 247.12L131.76 251.79zM129.86 253.93L125.88 251.05L127.4 246.37L132.31 246.37L133.83 251.05zM131.8 253.27L127.82 250.38L129.34 245.71L134.26 245.71L135.77 250.38zM133.63 252.68L129.65 249.79L131.17 245.12L136.09 245.12L137.61 249.79zM135.36 252.15L131.39 249.26L132.91 244.58L137.82 244.58L139.34 249.26zM137.01 251.66L133.03 248.78L134.55 244.1L139.46 244.1L140.98 248.78zM138.57 251.23L134.6 248.34L136.11 243.67L141.03 243.67L142.55 248.34zM140.06 250.84L136.09 247.95L137.6 243.27L142.52 243.27L144.04 247.95zM141.49 250.48L137.51 247.59L139.03 242.92L143.94 242.92L145.46 247.59zM142.85 250.15L138.87 247.26L140.39 242.59L145.31 242.59L146.83 247.26zM144.16 249.85L140.18 246.96L141.7 242.29L146.62 242.29L148.13 246.96z" fill="none" stroke="#3d7ab5" stroke-width="1" />
<path d="M144.16 245.67L145.42 245.4L147.79 244.91L150 244.5L152.07 244.15L154.01 243.85L155.84 243.58L157.58 243.35L159.22 243.15L160.78 242.97L163 242.73L165.06 242.53L167.01 242.37L168.84 242.22L170.57 242.09L172.22 241.98L173.78 241.89L175.75 241.78L177.61 241.68L179.37 241.6L181.03 241.53L182.61 241.47L184.12 241.41L185.91 241.35L187.61 241.3L189.22 241.26L190.75 241.22L192.5 241.18L194.16 241.14L195.74 241.11L197.24 241.09L198.91 241.06L200.49 241.04L202 241.01L203.65 240.99L205.21 240.98L206.88 240.96L208.47 240.94L209.99 240.93L210.8 240.92" fill="none" stroke="#3d7ab5" stroke-width="8.5" stroke-linecap="round" stroke-linejoin="round"/>
<rect x="41" y="208.7" width="169.8" height="169.6" fill="none" stroke="#262626" stroke-width="1.1"/>
<path d="M41 378.3v-7M41 208.7v7M114.79 378.3v-7M114.79 208.7v7M188.59 378.3v-7M188.59 208.7v7" stroke="#262626" stroke-width="1.1" fill="none"/>
<path d="M63.21 378.3v-3.5M63.21 208.7v3.5M76.21 378.3v-3.5M76.21 208.7v3.5M85.43 378.3v-3.5M85.43 208.7v3.5M92.58 378.3v-3.5M92.58 208.7v3.5M98.42 378.3v-3.5M98.42 208.7v3.5M103.36 378.3v-3.5M103.36 208.7v3.5M107.64 378.3v-3.5M107.64 208.7v3.5M111.42 378.3v-3.5M111.42 208.7v3.5M137.01 378.3v-3.5M137.01 208.7v3.5M150 378.3v-3.5M150 208.7v3.5M159.22 378.3v-3.5M159.22 208.7v3.5M166.37 378.3v-3.5M166.37 208.7v3.5M172.22 378.3v-3.5M172.22 208.7v3.5M177.16 378.3v-3.5M177.16 208.7v3.5M181.43 378.3v-3.5M181.43 208.7v3.5M185.21 378.3v-3.5M185.21 208.7v3.5M210.8 378.3v-3.5M210.8 208.7v3.5" stroke="#262626" stroke-width="1.1" fill="none"/>
<path d="M41 378.3h7M210.8 378.3h-7M41 263.5h7M210.8 263.5h-7" stroke="#262626" stroke-width="1.1" fill="none"/>
<path d="M41 343.74h3.5M210.8 343.74h-3.5M41 323.52h3.5M210.8 323.52h-3.5M41 309.18h3.5M210.8 309.18h-3.5M41 298.06h3.5M210.8 298.06h-3.5M41 288.97h3.5M210.8 288.97h-3.5M41 281.28h3.5M210.8 281.28h-3.5M41 274.62h3.5M210.8 274.62h-3.5M41 268.75h3.5M210.8 268.75h-3.5M41 228.94h3.5M210.8 228.94h-3.5" stroke="#262626" stroke-width="1.1" fill="none"/>
<text x="37.5" y="267.1" font-size="10" text-anchor="end" font-family="Liberation Sans, sans-serif" fill="#111" stroke="#111" stroke-width="0.12" >10<tspan dy="-4.2" font-size="8"><tspan font-size="6">-</tspan>1</tspan></text>
<text x="37.5" y="381.9" font-size="10" text-anchor="end" font-family="Liberation Sans, sans-serif" fill="#111" stroke="#111" stroke-width="0.12" >10<tspan dy="-4.2" font-size="8"><tspan font-size="6">-</tspan>2</tspan></text>
<text x="42" y="391.5" font-size="10" text-anchor="middle" font-family="Liberation Sans, sans-serif" fill="#111" stroke="#111" stroke-width="0.12" >10<tspan dy="-4.2" font-size="8">0</tspan></text>
<text x="115.79" y="391.5" font-size="10" text-anchor="middle" font-family="Liberation Sans, sans-serif" fill="#111" stroke="#111" stroke-width="0.12" >10<tspan dy="-4.2" font-size="8">1</tspan></text>
<text x="189.59" y="391.5" font-size="10" text-anchor="middle" font-family="Liberation Sans, sans-serif" fill="#111" stroke="#111" stroke-width="0.12" >10<tspan dy="-4.2" font-size="8">2</tspan></text>
<text x="0.8" y="219.7" font-size="15" text-anchor="start" font-family="Liberation Sans, sans-serif" fill="#111" font-weight="bold">d</text>
<rect x="264.2" y="208.1" width="82.8" height="169.3" fill="#e6f9fd"/>
<rect x="347" y="208.1" width="1.01" height="169.3" fill="#e6f9fd" fill-opacity="0.9"/>
<rect x="348" y="208.1" width="1.01" height="169.3" fill="#e6f9fd" fill-opacity="0.8"/>
<rect x="349" y="208.1" width="1.01" height="169.3" fill="#e6f9fd" fill-opacity="0.7"/>
<rect x="350" y="208.1" width="1.01" height="169.3" fill="#e6f9fd" fill-opacity="0.6"/>
<rect x="351" y="208.1" width="1.01" height="169.3" fill="#e6f9fd" fill-opacity="0.5"/>
<rect x="352" y="208.1" width="1.01" height="169.3" fill="#e6f9fd" fill-opacity="0.4"/>
<rect x="353" y="208.1" width="1.01" height="169.3" fill="#e6f9fd" fill-opacity="0.3"/>
<rect x="354" y="208.1" width="1.01" height="169.3" fill="#e6f9fd" fill-opacity="0.2"/>
<rect x="355" y="208.1" width="1.01" height="169.3" fill="#e6f9fd" fill-opacity="0.1"/>
<path d="M268.04 377.4L403.64 208.1" fill="none" stroke="#111" stroke-width="1" />
<path d="M264.2 341.17L429.56 208.1" fill="none" stroke="#222" stroke-width="1" stroke-dasharray="3.2 2.2"/>
<path d="M379.27 246.58h8M383.27 242.58v8M384.37 242.22h8M388.37 238.22v8M389.47 237.93h8M393.47 233.93v8M394.57 233.7h8M398.57 229.7v8M399.67 229.51h8M403.67 225.51v8M404.77 225.35h8M408.77 221.35v8M409.87 221.21h8M413.87 217.21v8M414.97 217.09h8M418.97 213.09v8" fill="none" stroke="#9a1af0" stroke-width="1.1" />
<path d="M363.97 256.34l8 8M363.97 264.34l8 -8M369.07 251.61l8 8M369.07 259.61l8 -8M374.17 247.04l8 8M374.17 255.04l8 -8M379.27 242.58l8 8M379.27 250.58l8 -8M384.37 238.22l8 8M384.37 246.22l8 -8M389.47 233.93l8 8M389.47 241.93l8 -8M394.57 229.7l8 8M394.57 237.7l8 -8M399.67 225.51l8 8M399.67 233.51l8 -8" fill="none" stroke="#3da878" stroke-width="1.1" />
<path d="M348.66 275.58h8M352.66 271.58v8M349.46 272.38l6.4 6.4M349.46 278.78l6.4 -6.4M353.76 270.3h8M357.76 266.3v8M354.56 267.1l6.4 6.4M354.56 273.5l6.4 -6.4M358.87 265.23h8M362.87 261.23v8M359.67 262.03l6.4 6.4M359.67 268.43l6.4 -6.4M363.97 260.34h8M367.97 256.34v8M364.77 257.14l6.4 6.4M364.77 263.54l6.4 -6.4M369.07 255.61h8M373.07 251.61v8M369.87 252.41l6.4 6.4M369.87 258.81l6.4 -6.4M374.17 251.04h8M378.17 247.04v8M374.97 247.84l6.4 6.4M374.97 254.24l6.4 -6.4M379.27 246.58h8M383.27 242.58v8M380.07 243.38l6.4 6.4M380.07 249.78l6.4 -6.4M384.37 242.22h8M388.37 238.22v8M385.17 239.02l6.4 6.4M385.17 245.42l6.4 -6.4" fill="none" stroke="#6cbde8" stroke-width="1.1" />
<path d="M333.36 291.16h8M338.46 285.79h8M343.56 280.59h8M348.66 275.28h8M353.76 270h8M358.87 264.93h8M363.97 260.04h8M369.07 255.31h8" stroke="#e09a2a" stroke-width="0.7" fill="none"/>
<path d="M333.56 287.66h7.6v7.6h-7.6zM338.66 282.29h7.6v7.6h-7.6zM343.76 277.09h7.6v7.6h-7.6zM348.86 271.78h7.6v7.6h-7.6zM353.96 266.5h7.6v7.6h-7.6zM359.07 261.43h7.6v7.6h-7.6zM364.17 256.54h7.6v7.6h-7.6zM369.27 251.81h7.6v7.6h-7.6z" fill="none" stroke="#e09a2a" stroke-width="1.1" />
<path d="M318.06 308.13h8M323.16 302.27h8M328.26 296.66h8M333.36 291.16h8M338.46 285.79h8M343.56 280.59h8M348.66 275.28h8M353.76 270h8" stroke="#e3e54a" stroke-width="0.7" fill="none"/>
<path d="M318.26 308.43a3.8 3.8 0 1 0 7.6 0a3.8 3.8 0 1 0 -7.6 0M323.36 302.57a3.8 3.8 0 1 0 7.6 0a3.8 3.8 0 1 0 -7.6 0M328.46 296.96a3.8 3.8 0 1 0 7.6 0a3.8 3.8 0 1 0 -7.6 0M333.56 291.46a3.8 3.8 0 1 0 7.6 0a3.8 3.8 0 1 0 -7.6 0M338.66 286.09a3.8 3.8 0 1 0 7.6 0a3.8 3.8 0 1 0 -7.6 0M343.76 280.89a3.8 3.8 0 1 0 7.6 0a3.8 3.8 0 1 0 -7.6 0M348.86 275.58a3.8 3.8 0 1 0 7.6 0a3.8 3.8 0 1 0 -7.6 0M353.96 270.3a3.8 3.8 0 1 0 7.6 0a3.8 3.8 0 1 0 -7.6 0" fill="none" stroke="#e3e54a" stroke-width="1.1" />
<path d="M302.76 326.88h8M307.86 320.59h8M312.96 314.34h8M318.06 308.13h8M323.16 302.27h8M328.26 296.66h8M333.36 291.16h8M338.46 285.79h8" stroke="#3d7ab5" stroke-width="0.7" fill="none"/>
<path d="M306.76 322.81L311.13 329.8L302.39 329.8zM311.86 316.52L316.23 323.51L307.49 323.51zM316.96 310.27L321.33 317.26L312.59 317.26zM322.06 304.06L326.43 311.06L317.69 311.06zM327.16 298.2L331.53 305.19L322.79 305.19zM332.26 292.59L336.63 299.58L327.89 299.58zM337.36 287.09L341.73 294.08L332.99 294.08zM342.46 281.72L346.83 288.72L338.09 288.72z" fill="none" stroke="#3d7ab5" stroke-width="1.1" />
<path d="M287.46 345.89h8M292.56 339.54h8M297.66 333.2h8M302.76 326.88h8M307.86 320.59h8M312.96 314.34h8M318.06 308.13h8M323.16 302.27h8" stroke="#e8261a" stroke-width="0.7" fill="none"/>
<path d="M291.46 350.56L295.83 343.56L287.09 343.56zM296.56 344.21L300.93 337.21L292.19 337.21zM301.66 337.87L306.03 330.88L297.29 330.88zM306.76 331.55L311.13 324.56L302.39 324.56zM311.86 325.26L316.23 318.27L307.49 318.27zM316.96 319.01L321.33 312.02L312.59 312.02zM322.06 312.8L326.43 305.81L317.69 305.81zM327.16 306.94L331.53 299.95L322.79 299.95z" fill="none" stroke="#e8261a" stroke-width="1.1" />
<path d="M272.15 364.98h8M277.26 358.61h8M282.36 352.25h8M287.46 345.89h8M292.56 339.54h8M297.66 333.2h8M302.76 326.88h8M307.86 320.59h8" stroke="#222222" stroke-width="0.7" fill="none"/>
<path d="M276.15 360.53L280.9 365.28L276.15 370.03L271.4 365.28zM281.26 354.16L286.01 358.91L281.26 363.66L276.51 358.91zM286.36 347.8L291.11 352.55L286.36 357.3L281.61 352.55zM291.46 341.44L296.21 346.19L291.46 350.94L286.71 346.19zM296.56 335.09L301.31 339.84L296.56 344.59L291.81 339.84zM301.66 328.75L306.41 333.5L301.66 338.25L296.91 333.5zM306.76 322.43L311.51 327.18L306.76 331.93L302.01 327.18zM311.86 316.14L316.61 320.89L311.86 325.64L307.11 320.89z" fill="none" stroke="#222222" stroke-width="1.1" />
<rect x="264.2" y="208.1" width="169.9" height="169.3" fill="none" stroke="#262626" stroke-width="1.1"/>
<path d="M281.6 377.4v-7M281.6 208.1v7M332.44 377.4v-7M332.44 208.1v7M383.27 377.4v-7M383.27 208.1v7M434.1 377.4v-7M434.1 208.1v7" stroke="#262626" stroke-width="1.1" fill="none"/>
<path d="M264.66 377.4v-3.5M264.66 208.1v3.5M281.6 377.4v-3.5M281.6 208.1v3.5M298.55 377.4v-3.5M298.55 208.1v3.5M315.49 377.4v-3.5M315.49 208.1v3.5M332.44 377.4v-3.5M332.44 208.1v3.5M349.38 377.4v-3.5M349.38 208.1v3.5M366.32 377.4v-3.5M366.32 208.1v3.5M383.27 377.4v-3.5M383.27 208.1v3.5M400.21 377.4v-3.5M400.21 208.1v3.5M417.16 377.4v-3.5M417.16 208.1v3.5M434.1 377.4v-3.5M434.1 208.1v3.5" stroke="#262626" stroke-width="1.1" fill="none"/>
<path d="M264.2 361.71h7M434.1 361.71h-7M264.2 307.6h7M434.1 307.6h-7M264.2 253.5h7M434.1 253.5h-7" stroke="#262626" stroke-width="1.1" fill="none"/>
<path d="M264.2 373.71h3.5M434.1 373.71h-3.5M264.2 370.09h3.5M434.1 370.09h-3.5M264.2 366.95h3.5M434.1 366.95h-3.5M264.2 364.18h3.5M434.1 364.18h-3.5M264.2 345.42h3.5M434.1 345.42h-3.5M264.2 335.89h3.5M434.1 335.89h-3.5M264.2 329.13h3.5M434.1 329.13h-3.5M264.2 323.89h3.5M434.1 323.89h-3.5M264.2 319.61h3.5M434.1 319.61h-3.5M264.2 315.98h3.5M434.1 315.98h-3.5M264.2 312.85h3.5M434.1 312.85h-3.5M264.2 310.08h3.5M434.1 310.08h-3.5M264.2 291.31h3.5M434.1 291.31h-3.5M264.2 281.79h3.5M434.1 281.79h-3.5M264.2 275.03h3.5M434.1 275.03h-3.5M264.2 269.78h3.5M434.1 269.78h-3.5M264.2 265.5h3.5M434.1 265.5h-3.5M264.2 261.88h3.5M434.1 261.88h-3.5M264.2 258.74h3.5M434.1 258.74h-3.5M264.2 255.97h3.5M434.1 255.97h-3.5M264.2 237.21h3.5M434.1 237.21h-3.5M264.2 227.68h3.5M434.1 227.68h-3.5M264.2 220.92h3.5M434.1 220.92h-3.5M264.2 215.68h3.5M434.1 215.68h-3.5M264.2 211.39h3.5M434.1 211.39h-3.5" stroke="#262626" stroke-width="1.1" fill="none"/>
<text x="261" y="365.31" font-size="10" text-anchor="end" font-family="Liberation Sans, sans-serif" fill="#111" stroke="#111" stroke-width="0.12" >10<tspan dy="-4.2" font-size="8"><tspan font-size="6">-</tspan>4</tspan></text>
<text x="261" y="311.2" font-size="10" text-anchor="end" font-family="Liberation Sans, sans-serif" fill="#111" stroke="#111" stroke-width="0.12" >10<tspan dy="-4.2" font-size="8"><tspan font-size="6">-</tspan>3</tspan></text>
<text x="261" y="257.1" font-size="10" text-anchor="end" font-family="Liberation Sans, sans-serif" fill="#111" stroke="#111" stroke-width="0.12" >10<tspan dy="-4.2" font-size="8"><tspan font-size="6">-</tspan>2</tspan></text>
<text x="282.6" y="391.5" font-size="10" text-anchor="middle" font-family="Liberation Sans, sans-serif" fill="#111" stroke="#111" stroke-width="0.12" >10<tspan dy="-4.2" font-size="8"><tspan font-size="6">-</tspan>3</tspan></text>
<text x="333.44" y="391.5" font-size="10" text-anchor="middle" font-family="Liberation Sans, sans-serif" fill="#111" stroke="#111" stroke-width="0.12" >10<tspan dy="-4.2" font-size="8">0</tspan></text>
<text x="384.27" y="391.5" font-size="10" text-anchor="middle" font-family="Liberation Sans, sans-serif" fill="#111" stroke="#111" stroke-width="0.12" >10<tspan dy="-4.2" font-size="8">3</tspan></text>
<text x="435.1" y="391.5" font-size="10" text-anchor="middle" font-family="Liberation Sans, sans-serif" fill="#111" stroke="#111" stroke-width="0.12" >10<tspan dy="-4.2" font-size="8">6</tspan></text>
<text x="228.3" y="219.7" font-size="15" text-anchor="start" font-family="Liberation Sans, sans-serif" fill="#111" font-weight="bold">e</text>
<g font-family="Liberation Serif, serif" fill="#111" font-size="11">
<text x="296.3" y="355.6" textLength="55.6" lengthAdjust="spacingAndGlyphs"><tspan font-style="italic">β</tspan> = 0.391(1)</text>
<text x="372.7" y="271.5" textLength="57.2" lengthAdjust="spacingAndGlyphs"><tspan font-style="italic">β</tspan>′ = 0.252(3)</text>
</g>
<text x="381.9" y="283.5" font-size="8.9" text-anchor="end" font-family="Liberation Sans, sans-serif" fill="#111" stroke="#111" stroke-width="0.12" ><tspan font-family="Liberation Serif, serif" font-style="italic">ℓ</tspan>=1</text>
<path d="M387.4 280.6h29.4M387.4 277.1v7M416.8 277.1v7" stroke="#9a1af0" stroke-width="0.9" fill="none"/>
<path d="M398.9 280.6h6.4M402.1 277.4v6.4" fill="none" stroke="#9a1af0" stroke-width="1" />
<text x="381.9" y="296" font-size="8.9" text-anchor="end" font-family="Liberation Sans, sans-serif" fill="#111" stroke="#111" stroke-width="0.12" >2</text>
<path d="M387.4 293.1h29.4M387.4 289.6v7M416.8 289.6v7" stroke="#3da878" stroke-width="0.9" fill="none"/>
<path d="M398.9 289.9l6.4 6.4M398.9 296.3l6.4 -6.4" fill="none" stroke="#3da878" stroke-width="1" />
<text x="381.9" y="308.5" font-size="8.9" text-anchor="end" font-family="Liberation Sans, sans-serif" fill="#111" stroke="#111" stroke-width="0.12" >4</text>
<path d="M387.4 305.6h29.4M387.4 302.1v7M416.8 302.1v7" stroke="#6cbde8" stroke-width="0.9" fill="none"/>
<path d="M398.9 305.6h6.4M402.1 302.4v6.4M399.54 303.04l5.12 5.12M399.54 308.16l5.12 -5.12" fill="none" stroke="#6cbde8" stroke-width="1" />
<text x="381.9" y="321" font-size="8.9" text-anchor="end" font-family="Liberation Sans, sans-serif" fill="#111" stroke="#111" stroke-width="0.12" >8</text>
<path d="M387.4 318.1h29.4M387.4 314.6v7M416.8 314.6v7" stroke="#e09a2a" stroke-width="0.9" fill="none"/>
<path d="M399.1 315.1h6v6h-6z" fill="none" stroke="#e09a2a" stroke-width="1" />
<text x="381.9" y="333.5" font-size="8.9" text-anchor="end" font-family="Liberation Sans, sans-serif" fill="#111" stroke="#111" stroke-width="0.12" >16</text>
<path d="M387.4 330.6h29.4M387.4 327.1v7M416.8 327.1v7" stroke="#e3e54a" stroke-width="0.9" fill="none"/>
<path d="M399.1 330.6a3 3 0 1 0 6 0a3 3 0 1 0 -6 0" fill="none" stroke="#e3e54a" stroke-width="1" />
<text x="381.9" y="346" font-size="8.9" text-anchor="end" font-family="Liberation Sans, sans-serif" fill="#111" stroke="#111" stroke-width="0.12" >32</text>
<path d="M387.4 343.1h29.4M387.4 339.6v7M416.8 339.6v7" stroke="#3d7ab5" stroke-width="0.9" fill="none"/>
<path d="M402.1 339.65L405.55 345.17L398.65 345.17z" fill="none" stroke="#3d7ab5" stroke-width="1" />
<text x="381.9" y="358.5" font-size="8.9" text-anchor="end" font-family="Liberation Sans, sans-serif" fill="#111" stroke="#111" stroke-width="0.12" >64</text>
<path d="M387.4 355.6h29.4M387.4 352.1v7M416.8 352.1v7" stroke="#e8261a" stroke-width="0.9" fill="none"/>
<path d="M402.1 359.05L405.55 353.53L398.65 353.53z" fill="none" stroke="#e8261a" stroke-width="1" />
<text x="381.9" y="371" font-size="8.9" text-anchor="end" font-family="Liberation Sans, sans-serif" fill="#111" stroke="#111" stroke-width="0.12" >128</text>
<path d="M387.4 368.1h29.4M387.4 364.6v7M416.8 364.6v7" stroke="#222222" stroke-width="0.9" fill="none"/>
<path d="M402.1 364.35L405.85 368.1L402.1 371.85L398.35 368.1z" fill="none" stroke="#222222" stroke-width="1" />
<path d="M515.4 377.4L608.54 208.2" fill="none" stroke="#111" stroke-width="1" />
<path d="M521.71 360.19h7M538.72 332.27h7M548.67 318.13h7M555.73 308.4h7M561.21 300.26h7M565.68 293.84h7M569.46 288.62h7M572.74 284.28h7M575.63 280.07h7M578.21 276.46h7M580.55 273.33h7M582.69 270.59h7M584.65 268.18h7M586.47 266.04h7" stroke="#3d7ab5" stroke-width="0.7" fill="none"/>
<path d="M525.21 364.56L521.34 361.75L522.82 357.2L527.61 357.2L529.09 361.75zM542.22 336.64L538.35 333.83L539.83 329.28L544.61 329.28L546.09 333.83zM552.17 322.5L548.3 319.69L549.78 315.14L554.56 315.14L556.04 319.69zM559.23 312.77L555.36 309.95L556.84 305.4L561.62 305.4L563.1 309.95zM564.71 304.63L560.84 301.82L562.31 297.27L567.1 297.27L568.58 301.82zM569.18 298.21L565.31 295.4L566.79 290.85L571.57 290.85L573.05 295.4zM572.96 292.99L569.09 290.18L570.57 285.63L575.35 285.63L576.83 290.18zM576.24 288.65L572.37 285.83L573.85 281.28L578.63 281.28L580.11 285.83zM579.13 284.44L575.26 281.63L576.74 277.08L581.52 277.08L583 281.63zM581.71 280.83L577.84 278.02L579.32 273.47L584.11 273.47L585.59 278.02zM584.05 277.7L580.18 274.89L581.66 270.34L586.45 270.34L587.92 274.89zM586.19 274.96L582.32 272.15L583.8 267.6L588.58 267.6L590.06 272.15zM588.15 272.55L584.28 269.74L585.76 265.19L590.54 265.19L592.02 269.74zM589.97 270.41L586.1 267.6L587.58 263.05L592.36 263.05L593.84 267.6z" fill="none" stroke="#3d7ab5" stroke-width="1" />
<path d="M589.97 266.34L591.66 264.44L593.25 262.74L596.14 259.83L598.72 257.45L601.06 254.97L603.2 252.83L605.16 250.99L606.98 249.39L608.67 247.98L610.26 246.73L612.45 245.1L614.47 243.72L616.34 242.52L618.07 241.48L619.69 240.55L621.21 239.73L623.09 238.77L624.85 237.92L626.48 237.17L628.02 236.72L629.81 236.38L631.48 236.1L633.04 235.86L634.8 235.61L636.43 235.41L637.97 235.24L639.64 235.07L641.21 234.93L642.89 234.79L644.46 234.67L646.12 234.57L647.67 234.47L649.28 234.39L650.8 234.32L652.36 234.25L653.96 234.19L655.47 234.13L657 234.08L658.54 234.04L660.1 234L661.66 233.97L663.21 233.93L664.76 233.9L666.29 233.88L667.81 233.86L669.37 233.84L670.91 233.82L672.41 233.8L673.95 233.78L675.5 233.77L677.01 233.76L678.53 233.75L678.86 233.75" fill="none" stroke="#3d7ab5" stroke-width="10" stroke-linecap="round" stroke-linejoin="round"/>
<path d="M527.38 350.82h7M544.39 323.97h7M554.34 309.74h7M561.4 299.18h7M566.88 291.17h7M571.35 284.95h7M575.13 279.58h7M578.41 275h7M581.3 271.16h7M583.88 267.91h7M586.22 265.13h7M588.36 262.73h7M590.32 260.64h7M592.14 258.81h7" stroke="#e3e54a" stroke-width="0.7" fill="none"/>
<path d="M530.88 346.5L535.51 351.12L530.88 355.75L526.26 351.12zM547.89 319.64L552.52 324.27L547.89 328.89L543.27 324.27zM557.84 305.41L562.47 310.04L557.84 314.66L553.22 310.04zM564.9 294.85L569.52 299.48L564.9 304.1L560.27 299.48zM570.38 286.85L575 291.47L570.38 296.1L565.75 291.47zM574.85 280.62L579.47 285.25L574.85 289.87L570.22 285.25zM578.63 275.26L583.26 279.88L578.63 284.51L574.01 279.88zM581.91 270.67L586.53 275.3L581.91 279.92L577.28 275.3zM584.8 266.84L589.42 271.46L584.8 276.09L580.17 271.46zM587.38 263.59L592.01 268.21L587.38 272.84L582.76 268.21zM589.72 260.8L594.35 265.43L589.72 270.05L585.1 265.43zM591.86 258.4L596.48 263.03L591.86 267.65L587.23 263.03zM593.82 256.32L598.45 260.94L593.82 265.57L589.2 260.94zM595.64 254.49L600.26 259.11L595.64 263.74L591.01 259.11z" fill="none" stroke="#e3e54a" stroke-width="1" />
<path d="M595.64 259.11L597.33 257.51L598.92 256.06L601.81 253.13L604.39 250.73L606.73 248.74L608.87 247.05L610.83 245.6L612.65 244.36L614.34 243.27L615.92 242.31L618.12 241.07L620.14 240.01L622.01 239.1L623.74 238.31L625.36 237.61L626.88 236.99L628.76 236.57L630.52 236.26L632.15 235.99L633.69 235.76L635.48 235.53L637.15 235.33L638.71 235.16L640.47 234.99L642.1 234.85L643.64 234.73L645.31 234.62L646.88 234.52L648.56 234.42L650.13 234.35L651.79 234.27L653.34 234.21L654.95 234.15L656.47 234.1L658.03 234.06L659.63 234.01L661.14 233.98L662.67 233.94L664.21 233.91L665.77 233.89L667.33 233.86L668.88 233.84L670.43 233.82L671.96 233.8L673.48 233.79L675.04 233.77L676.58 233.76L678.08 233.75L678.8 233.75" fill="none" stroke="#e3e54a" stroke-width="10" stroke-linecap="round" stroke-linejoin="round"/>
<path d="M533.05 341.52h7M550.06 315.4h7M560.01 300.51h7M567.07 289.9h7M572.54 282.15h7M577.02 275.71h7M580.8 270.61h7M584.08 266.47h7M586.97 263.08h7M589.55 260.24h7M591.89 257.86h7M594.03 255.83h7M595.99 253.99h7M597.81 252.23h7" stroke="#e09a2a" stroke-width="0.7" fill="none"/>
<path d="M536.55 346.07L540.81 339.27L532.3 339.27zM553.56 319.95L557.82 313.14L549.31 313.14zM563.51 305.07L567.77 298.26L559.26 298.26zM570.57 294.45L574.82 287.64L566.31 287.64zM576.04 286.7L580.3 279.89L571.79 279.89zM580.52 280.27L584.77 273.46L576.26 273.46zM584.3 275.16L588.56 268.35L580.05 268.35zM587.58 271.03L591.83 264.22L583.32 264.22zM590.47 267.63L594.72 260.82L586.21 260.82zM593.05 264.8L597.31 257.99L588.8 257.99zM595.39 262.41L599.65 255.6L591.14 255.6zM597.53 260.38L601.78 253.57L593.27 253.57zM599.49 258.54L603.75 251.74L595.24 251.74zM601.31 256.78L605.56 249.97L597.05 249.97z" fill="none" stroke="#e09a2a" stroke-width="1" />
<path d="M601.31 252.53L603 250.98L604.59 249.61L607.48 247.3L610.06 245.43L612.4 243.9L614.53 242.61L616.5 241.52L618.32 240.59L620.01 239.78L621.59 239.07L623.79 238.15L625.81 237.37L627.68 236.79L629.41 236.45L631.03 236.17L632.54 235.93L634.43 235.66L636.19 235.44L637.82 235.25L639.36 235.1L641.15 234.93L642.82 234.79L644.38 234.68L646.14 234.56L647.77 234.47L649.31 234.39L650.98 234.31L652.55 234.24L654.23 234.18L655.8 234.12L657.46 234.07L659.01 234.03L660.62 233.99L662.14 233.96L663.7 233.92L665.3 233.9L666.81 233.87L668.34 233.85L669.88 233.83L671.44 233.81L673 233.79L674.55 233.78L676.1 233.77L677.63 233.75L678.85 233.75" fill="none" stroke="#e09a2a" stroke-width="10" stroke-linecap="round" stroke-linejoin="round"/>
<path d="M538.72 332.27h7M555.73 306.6h7M565.68 290.99h7M572.74 280.68h7M578.21 272.86h7M582.69 266.99h7M586.47 262.44h7M589.75 258.84h7M592.64 255.93h7M595.22 253.55h7M597.56 251.36h7M599.7 249.49h7M601.66 247.9h7M603.48 246.53h7" stroke="#6cbde8" stroke-width="0.7" fill="none"/>
<path d="M542.22 328.32L546.48 335.13L537.97 335.13zM559.23 302.64L563.49 309.45L554.98 309.45zM569.18 287.03L573.43 293.84L564.92 293.84zM576.24 276.72L580.49 283.53L571.98 283.53zM581.71 268.91L585.97 275.71L577.46 275.71zM586.19 263.04L590.44 269.84L581.93 269.84zM589.97 258.49L594.23 265.3L585.72 265.3zM593.25 254.88L597.5 261.69L588.99 261.69zM596.14 251.98L600.39 258.79L591.88 258.79zM598.72 249.6L602.98 256.41L594.47 256.41zM601.06 247.4L605.32 254.21L596.81 254.21zM603.2 245.54L607.45 252.35L598.94 252.35zM605.16 243.95L609.42 250.75L600.91 250.75zM606.98 242.57L611.23 249.38L602.72 249.38z" fill="none" stroke="#6cbde8" stroke-width="1" />
<path d="M606.98 246.83L608.67 245.63L610.26 244.59L613.15 242.85L615.73 241.46L618.07 240.33L620.2 239.4L622.17 238.61L623.99 237.94L625.68 237.36L627.26 236.88L629.46 236.44L631.48 236.1L633.34 235.81L635.08 235.58L636.7 235.38L638.21 235.21L640.1 235.03L641.86 234.87L643.49 234.74L645.03 234.64L646.82 234.52L648.49 234.43L650.05 234.35L651.81 234.27L653.44 234.21L654.98 234.15L656.65 234.1L658.22 234.05L659.9 234.01L661.47 233.97L663.13 233.94L664.68 233.91L666.29 233.88L667.81 233.86L669.37 233.84L670.97 233.82L672.47 233.8L674.01 233.78L675.55 233.77L677.11 233.76L678.67 233.75L678.86 233.75" fill="none" stroke="#6cbde8" stroke-width="10" stroke-linecap="round" stroke-linejoin="round"/>
<path d="M544.39 323.34h7M561.4 296.64h7M571.35 281.3h7M578.41 271.2h7M583.88 264.11h7M588.36 258.93h7M592.14 255.01h7M595.42 251.98h7M598.31 249.44h7M600.89 247.39h7M603.23 245.7h7M605.37 244.3h7M607.33 243.12h7M609.15 242.12h7" stroke="#3da878" stroke-width="0.7" fill="none"/>
<path d="M544.19 323.64a3.7 3.7 0 1 0 7.4 0a3.7 3.7 0 1 0 -7.4 0M561.2 296.94a3.7 3.7 0 1 0 7.4 0a3.7 3.7 0 1 0 -7.4 0M571.15 281.6a3.7 3.7 0 1 0 7.4 0a3.7 3.7 0 1 0 -7.4 0M578.21 271.5a3.7 3.7 0 1 0 7.4 0a3.7 3.7 0 1 0 -7.4 0M583.68 264.41a3.7 3.7 0 1 0 7.4 0a3.7 3.7 0 1 0 -7.4 0M588.16 259.23a3.7 3.7 0 1 0 7.4 0a3.7 3.7 0 1 0 -7.4 0M591.94 255.31a3.7 3.7 0 1 0 7.4 0a3.7 3.7 0 1 0 -7.4 0M595.22 252.28a3.7 3.7 0 1 0 7.4 0a3.7 3.7 0 1 0 -7.4 0M598.11 249.74a3.7 3.7 0 1 0 7.4 0a3.7 3.7 0 1 0 -7.4 0M600.69 247.69a3.7 3.7 0 1 0 7.4 0a3.7 3.7 0 1 0 -7.4 0M603.03 246a3.7 3.7 0 1 0 7.4 0a3.7 3.7 0 1 0 -7.4 0M605.17 244.6a3.7 3.7 0 1 0 7.4 0a3.7 3.7 0 1 0 -7.4 0M607.13 243.42a3.7 3.7 0 1 0 7.4 0a3.7 3.7 0 1 0 -7.4 0M608.95 242.42a3.7 3.7 0 1 0 7.4 0a3.7 3.7 0 1 0 -7.4 0" fill="none" stroke="#3da878" stroke-width="1" />
<path d="M612.65 242.42L614.34 241.56L615.92 240.81L618.81 239.59L621.4 238.63L623.74 237.86L625.87 237.24L627.84 236.76L629.66 236.41L631.35 236.12L632.93 235.87L635.13 235.57L637.15 235.33L639.01 235.13L640.75 234.97L642.37 234.83L643.88 234.72L645.77 234.59L647.53 234.48L649.16 234.39L650.7 234.32L652.49 234.24L654.16 234.18L655.72 234.12L657.47 234.07L659.11 234.03L660.65 233.99L662.32 233.95L663.89 233.92L665.57 233.89L667.14 233.87L668.79 233.84L670.35 233.82L671.96 233.8L673.48 233.79L675.04 233.77L676.64 233.76L678.14 233.75L678.74 233.75" fill="none" stroke="#3da878" stroke-width="10" stroke-linecap="round" stroke-linejoin="round"/>
<path d="M550.06 314.07h7M567.07 286.56h7M577.02 271.71h7M584.08 262.47h7M589.55 256.24h7M594.03 251.83h7M597.81 248.58h7M601.09 246.13h7M603.98 244.23h7M606.56 242.73h7M608.9 241.52h7M611.03 240.54h7M613 239.73h7M614.82 239.05h7" stroke="#9a1af0" stroke-width="0.7" fill="none"/>
<path d="M549.86 310.67h7.4v7.4h-7.4zM566.87 283.16h7.4v7.4h-7.4zM576.82 268.31h7.4v7.4h-7.4zM583.88 259.07h7.4v7.4h-7.4zM589.35 252.84h7.4v7.4h-7.4zM593.83 248.43h7.4v7.4h-7.4zM597.61 245.18h7.4v7.4h-7.4zM600.89 242.73h7.4v7.4h-7.4zM603.78 240.83h7.4v7.4h-7.4zM606.36 239.33h7.4v7.4h-7.4zM608.7 238.12h7.4v7.4h-7.4zM610.83 237.14h7.4v7.4h-7.4zM612.8 236.33h7.4v7.4h-7.4zM614.62 235.65h7.4v7.4h-7.4z" fill="none" stroke="#9a1af0" stroke-width="1" />
<path d="M618.32 239.35L620.01 238.78L621.59 238.29L624.48 237.51L627.07 236.92L629.41 236.45L631.54 236.09L633.51 235.79L635.33 235.54L637.02 235.34L638.6 235.17L640.8 234.96L642.82 234.79L644.68 234.66L646.42 234.55L648.03 234.45L649.55 234.37L651.44 234.29L653.19 234.21L654.83 234.15L656.37 234.1L658.16 234.05L659.83 234.01L661.39 233.97L663.14 233.93L664.78 233.9L666.31 233.88L667.99 233.85L669.56 233.83L671.24 233.81L672.81 233.8L674.46 233.78L676.01 233.77L677.63 233.75L678.85 233.75" fill="none" stroke="#9a1af0" stroke-width="10" stroke-linecap="round" stroke-linejoin="round"/>
<rect x="508.4" y="208.2" width="169.5" height="169.2" fill="none" stroke="#262626" stroke-width="1.1"/>
<path d="M508.4 377.4v-7M508.4 208.2v7M564.9 377.4v-7M564.9 208.2v7M621.4 377.4v-7M621.4 208.2v7M677.9 377.4v-7M677.9 208.2v7" stroke="#262626" stroke-width="1.1" fill="none"/>
<path d="M525.41 377.4v-3.5M525.41 208.2v3.5M535.36 377.4v-3.5M535.36 208.2v3.5M542.42 377.4v-3.5M542.42 208.2v3.5M547.89 377.4v-3.5M547.89 208.2v3.5M552.37 377.4v-3.5M552.37 208.2v3.5M556.15 377.4v-3.5M556.15 208.2v3.5M559.42 377.4v-3.5M559.42 208.2v3.5M562.31 377.4v-3.5M562.31 208.2v3.5M581.91 377.4v-3.5M581.91 208.2v3.5M591.86 377.4v-3.5M591.86 208.2v3.5M598.92 377.4v-3.5M598.92 208.2v3.5M604.39 377.4v-3.5M604.39 208.2v3.5M608.87 377.4v-3.5M608.87 208.2v3.5M612.65 377.4v-3.5M612.65 208.2v3.5M615.92 377.4v-3.5M615.92 208.2v3.5M618.81 377.4v-3.5M618.81 208.2v3.5M638.41 377.4v-3.5M638.41 208.2v3.5M648.36 377.4v-3.5M648.36 208.2v3.5M655.42 377.4v-3.5M655.42 208.2v3.5M660.89 377.4v-3.5M660.89 208.2v3.5M665.37 377.4v-3.5M665.37 208.2v3.5M669.15 377.4v-3.5M669.15 208.2v3.5M672.42 377.4v-3.5M672.42 208.2v3.5M675.31 377.4v-3.5M675.31 208.2v3.5" stroke="#262626" stroke-width="1.1" fill="none"/>
<path d="M508.4 353.94h7M677.9 353.94h-7M508.4 281.07h7M677.9 281.07h-7" stroke="#262626" stroke-width="1.1" fill="none"/>
<path d="M508.4 377.4h3.5M677.9 377.4h-3.5M508.4 334.77h3.5M677.9 334.77h-3.5M508.4 318.57h3.5M677.9 318.57h-3.5M508.4 304.53h3.5M677.9 304.53h-3.5M508.4 292.15h3.5M677.9 292.15h-3.5" stroke="#262626" stroke-width="1.1" fill="none"/>
<text x="505" y="284.67" font-size="10" text-anchor="end" font-family="Liberation Sans, sans-serif" fill="#111" stroke="#111" stroke-width="0.12" >1×10<tspan dy="-4.2" font-size="8"><tspan font-size="6">-</tspan>3</tspan></text>
<text x="505" y="357.54" font-size="10" text-anchor="end" font-family="Liberation Sans, sans-serif" fill="#111" stroke="#111" stroke-width="0.12" >5×10<tspan dy="-4.2" font-size="8"><tspan font-size="6">-</tspan>4</tspan></text>
<text x="509.4" y="391.5" font-size="10" text-anchor="middle" font-family="Liberation Sans, sans-serif" fill="#111" stroke="#111" stroke-width="0.12" >10<tspan dy="-4.2" font-size="8"><tspan font-size="6">-</tspan>2</tspan></text>
<text x="565.9" y="391.5" font-size="10" text-anchor="middle" font-family="Liberation Sans, sans-serif" fill="#111" stroke="#111" stroke-width="0.12" >10<tspan dy="-4.2" font-size="8"><tspan font-size="6">-</tspan>1</tspan></text>
<text x="622.4" y="391.5" font-size="10" text-anchor="middle" font-family="Liberation Sans, sans-serif" fill="#111" stroke="#111" stroke-width="0.12" >10<tspan dy="-4.2" font-size="8">0</tspan></text>
<text x="678.9" y="391.5" font-size="10" text-anchor="middle" font-family="Liberation Sans, sans-serif" fill="#111" stroke="#111" stroke-width="0.12" >10<tspan dy="-4.2" font-size="8">1</tspan></text>
<text x="470.3" y="219.7" font-size="15" text-anchor="start" font-family="Liberation Sans, sans-serif" fill="#111" font-weight="bold">f</text>
<text x="522.5" y="229" font-size="11" textLength="71.9" lengthAdjust="spacingAndGlyphs" font-family="Liberation Serif, serif" fill="#111"><tspan font-style="italic">α</tspan><tspan dy="2.5" font-size="8.5">loc</tspan><tspan dy="-2.5"> = 0.424(4)</tspan></text>
<path d="M37.2 578.65h7.4v7.4h-7.4zM39.8 578.59h7.4v7.4h-7.4zM42.4 578.53h7.4v7.4h-7.4zM45 578.49h7.4v7.4h-7.4zM47.6 578.45h7.4v7.4h-7.4zM50.2 578.41h7.4v7.4h-7.4zM52.81 578.38h7.4v7.4h-7.4zM55.41 578.34h7.4v7.4h-7.4zM58.01 578.3h7.4v7.4h-7.4zM60.61 578.26h7.4v7.4h-7.4zM63.21 578.22h7.4v7.4h-7.4zM65.81 578.18h7.4v7.4h-7.4zM68.41 578.1h7.4v7.4h-7.4zM71.01 578.03h7.4v7.4h-7.4zM73.61 577.95h7.4v7.4h-7.4zM76.21 577.87h7.4v7.4h-7.4zM78.82 577.78h7.4v7.4h-7.4zM81.42 577.68h7.4v7.4h-7.4zM84.02 577.58h7.4v7.4h-7.4zM86.62 577.48h7.4v7.4h-7.4zM89.22 577.37h7.4v7.4h-7.4zM91.82 577.26h7.4v7.4h-7.4zM94.42 577.18h7.4v7.4h-7.4zM97.02 577.12h7.4v7.4h-7.4zM99.62 577.06h7.4v7.4h-7.4zM102.22 577h7.4v7.4h-7.4zM104.83 576.93h7.4v7.4h-7.4zM107.43 576.87h7.4v7.4h-7.4zM110.03 576.81h7.4v7.4h-7.4zM112.63 576.75h7.4v7.4h-7.4zM115.23 576.7h7.4v7.4h-7.4zM117.83 576.65h7.4v7.4h-7.4zM120.43 576.6h7.4v7.4h-7.4zM123.03 576.62h7.4v7.4h-7.4zM125.63 576.79h7.4v7.4h-7.4zM128.23 576.94h7.4v7.4h-7.4zM130.84 577.07h7.4v7.4h-7.4zM133.44 577.19h7.4v7.4h-7.4zM136.04 577.3h7.4v7.4h-7.4zM138.64 577.4h7.4v7.4h-7.4zM141.24 577.49h7.4v7.4h-7.4zM143.84 577.57h7.4v7.4h-7.4zM146.44 577.63h7.4v7.4h-7.4zM149.04 577.67h7.4v7.4h-7.4zM151.64 577.7h7.4v7.4h-7.4zM154.25 577.73h7.4v7.4h-7.4zM156.85 577.76h7.4v7.4h-7.4zM159.45 577.78h7.4v7.4h-7.4zM162.05 577.81h7.4v7.4h-7.4zM164.65 577.83h7.4v7.4h-7.4zM167.25 577.86h7.4v7.4h-7.4zM169.85 577.88h7.4v7.4h-7.4zM172.45 577.9h7.4v7.4h-7.4zM175.05 577.92h7.4v7.4h-7.4zM177.65 577.93h7.4v7.4h-7.4zM180.25 577.95h7.4v7.4h-7.4zM182.86 577.96h7.4v7.4h-7.4zM185.46 577.97h7.4v7.4h-7.4zM188.06 577.99h7.4v7.4h-7.4zM190.66 578h7.4v7.4h-7.4zM193.26 578.01h7.4v7.4h-7.4zM195.86 578.02h7.4v7.4h-7.4zM198.46 578.03h7.4v7.4h-7.4zM201.06 578.04h7.4v7.4h-7.4zM203.66 578.06h7.4v7.4h-7.4zM206.27 578.07h7.4v7.4h-7.4zM208.87 578.07h7.4v7.4h-7.4zM211.47 578.08h7.4v7.4h-7.4zM214.07 578.08h7.4v7.4h-7.4z" fill="none" stroke="#9a1af0" stroke-width="1" />
<path d="M37.15 582.05h7.5M39.75 581.99h7.5M42.35 581.93h7.5M44.95 581.89h7.5M47.55 581.85h7.5M50.16 581.81h7.5M52.76 581.78h7.5M55.36 581.74h7.5M57.96 581.7h7.5M60.56 581.66h7.5M63.16 581.62h7.5M65.76 581.58h7.5M68.36 581.5h7.5M70.96 581.43h7.5M73.56 581.35h7.5M76.16 581.27h7.5M78.77 581.18h7.5M81.37 581.08h7.5M83.97 580.98h7.5M86.57 580.88h7.5M89.17 580.77h7.5M91.77 580.66h7.5M94.37 580.58h7.5M96.97 580.52h7.5M99.57 580.46h7.5M102.17 580.4h7.5M104.78 580.33h7.5M107.38 580.27h7.5M109.98 580.21h7.5M112.58 580.15h7.5M115.18 580.1h7.5M117.78 580.05h7.5M120.38 580h7.5M122.98 580.02h7.5M125.58 580.19h7.5M128.18 580.34h7.5M130.79 580.47h7.5M133.39 580.59h7.5M135.99 580.7h7.5M138.59 580.8h7.5M141.19 580.89h7.5M143.79 580.97h7.5M146.39 581.03h7.5M148.99 581.07h7.5M151.59 581.1h7.5M154.19 581.13h7.5M156.8 581.16h7.5M159.4 581.18h7.5M162 581.21h7.5M164.6 581.23h7.5M167.2 581.26h7.5M169.8 581.28h7.5M172.4 581.3h7.5M175 581.32h7.5M177.6 581.33h7.5M180.2 581.35h7.5M182.81 581.36h7.5M185.41 581.37h7.5M188.01 581.39h7.5M190.61 581.4h7.5M193.21 581.41h7.5M195.81 581.42h7.5M198.41 581.43h7.5M201.01 581.44h7.5M203.61 581.46h7.5M206.22 581.47h7.5M208.82 581.47h7.5M211.42 581.48h7.5M214.02 581.48h7.5" stroke="#9a1af0" stroke-width="0.7" fill="none"/>
<path d="M37.2 582.32a3.7 3.7 0 1 0 7.4 0a3.7 3.7 0 1 0 -7.4 0M39.8 582.22a3.7 3.7 0 1 0 7.4 0a3.7 3.7 0 1 0 -7.4 0M42.4 582.13a3.7 3.7 0 1 0 7.4 0a3.7 3.7 0 1 0 -7.4 0M45 582.05a3.7 3.7 0 1 0 7.4 0a3.7 3.7 0 1 0 -7.4 0M47.6 581.98a3.7 3.7 0 1 0 7.4 0a3.7 3.7 0 1 0 -7.4 0M50.2 581.91a3.7 3.7 0 1 0 7.4 0a3.7 3.7 0 1 0 -7.4 0M52.81 581.85a3.7 3.7 0 1 0 7.4 0a3.7 3.7 0 1 0 -7.4 0M55.41 581.77a3.7 3.7 0 1 0 7.4 0a3.7 3.7 0 1 0 -7.4 0M58.01 581.66a3.7 3.7 0 1 0 7.4 0a3.7 3.7 0 1 0 -7.4 0M60.61 581.55a3.7 3.7 0 1 0 7.4 0a3.7 3.7 0 1 0 -7.4 0M63.21 581.43a3.7 3.7 0 1 0 7.4 0a3.7 3.7 0 1 0 -7.4 0M65.81 581.31a3.7 3.7 0 1 0 7.4 0a3.7 3.7 0 1 0 -7.4 0M68.41 581.19a3.7 3.7 0 1 0 7.4 0a3.7 3.7 0 1 0 -7.4 0M71.01 581.06a3.7 3.7 0 1 0 7.4 0a3.7 3.7 0 1 0 -7.4 0M73.61 580.91a3.7 3.7 0 1 0 7.4 0a3.7 3.7 0 1 0 -7.4 0M76.21 580.76a3.7 3.7 0 1 0 7.4 0a3.7 3.7 0 1 0 -7.4 0M78.82 580.6a3.7 3.7 0 1 0 7.4 0a3.7 3.7 0 1 0 -7.4 0M81.42 580.44a3.7 3.7 0 1 0 7.4 0a3.7 3.7 0 1 0 -7.4 0M84.02 580.28a3.7 3.7 0 1 0 7.4 0a3.7 3.7 0 1 0 -7.4 0M86.62 580.11a3.7 3.7 0 1 0 7.4 0a3.7 3.7 0 1 0 -7.4 0M89.22 579.94a3.7 3.7 0 1 0 7.4 0a3.7 3.7 0 1 0 -7.4 0M91.82 579.8a3.7 3.7 0 1 0 7.4 0a3.7 3.7 0 1 0 -7.4 0M94.42 579.65a3.7 3.7 0 1 0 7.4 0a3.7 3.7 0 1 0 -7.4 0M97.02 579.51a3.7 3.7 0 1 0 7.4 0a3.7 3.7 0 1 0 -7.4 0M99.62 579.36a3.7 3.7 0 1 0 7.4 0a3.7 3.7 0 1 0 -7.4 0M102.22 579.21a3.7 3.7 0 1 0 7.4 0a3.7 3.7 0 1 0 -7.4 0M104.83 579.05a3.7 3.7 0 1 0 7.4 0a3.7 3.7 0 1 0 -7.4 0M107.43 578.94a3.7 3.7 0 1 0 7.4 0a3.7 3.7 0 1 0 -7.4 0M110.03 578.99a3.7 3.7 0 1 0 7.4 0a3.7 3.7 0 1 0 -7.4 0M112.63 579.03a3.7 3.7 0 1 0 7.4 0a3.7 3.7 0 1 0 -7.4 0M115.23 579.07a3.7 3.7 0 1 0 7.4 0a3.7 3.7 0 1 0 -7.4 0M117.83 579.1a3.7 3.7 0 1 0 7.4 0a3.7 3.7 0 1 0 -7.4 0M120.43 579.14a3.7 3.7 0 1 0 7.4 0a3.7 3.7 0 1 0 -7.4 0M123.03 579.22a3.7 3.7 0 1 0 7.4 0a3.7 3.7 0 1 0 -7.4 0M125.63 579.37a3.7 3.7 0 1 0 7.4 0a3.7 3.7 0 1 0 -7.4 0M128.23 579.51a3.7 3.7 0 1 0 7.4 0a3.7 3.7 0 1 0 -7.4 0M130.84 579.64a3.7 3.7 0 1 0 7.4 0a3.7 3.7 0 1 0 -7.4 0M133.44 579.76a3.7 3.7 0 1 0 7.4 0a3.7 3.7 0 1 0 -7.4 0M136.04 579.87a3.7 3.7 0 1 0 7.4 0a3.7 3.7 0 1 0 -7.4 0M138.64 579.98a3.7 3.7 0 1 0 7.4 0a3.7 3.7 0 1 0 -7.4 0M141.24 580.1a3.7 3.7 0 1 0 7.4 0a3.7 3.7 0 1 0 -7.4 0M143.84 580.21a3.7 3.7 0 1 0 7.4 0a3.7 3.7 0 1 0 -7.4 0M146.44 580.32a3.7 3.7 0 1 0 7.4 0a3.7 3.7 0 1 0 -7.4 0M149.04 580.42a3.7 3.7 0 1 0 7.4 0a3.7 3.7 0 1 0 -7.4 0M151.64 580.51a3.7 3.7 0 1 0 7.4 0a3.7 3.7 0 1 0 -7.4 0M154.25 580.59a3.7 3.7 0 1 0 7.4 0a3.7 3.7 0 1 0 -7.4 0M156.85 580.67a3.7 3.7 0 1 0 7.4 0a3.7 3.7 0 1 0 -7.4 0M159.45 580.75a3.7 3.7 0 1 0 7.4 0a3.7 3.7 0 1 0 -7.4 0M162.05 580.82a3.7 3.7 0 1 0 7.4 0a3.7 3.7 0 1 0 -7.4 0M164.65 580.89a3.7 3.7 0 1 0 7.4 0a3.7 3.7 0 1 0 -7.4 0M167.25 580.93a3.7 3.7 0 1 0 7.4 0a3.7 3.7 0 1 0 -7.4 0M169.85 580.98a3.7 3.7 0 1 0 7.4 0a3.7 3.7 0 1 0 -7.4 0M172.45 581.02a3.7 3.7 0 1 0 7.4 0a3.7 3.7 0 1 0 -7.4 0M175.05 581.06a3.7 3.7 0 1 0 7.4 0a3.7 3.7 0 1 0 -7.4 0M177.65 581.1a3.7 3.7 0 1 0 7.4 0a3.7 3.7 0 1 0 -7.4 0M180.25 581.14a3.7 3.7 0 1 0 7.4 0a3.7 3.7 0 1 0 -7.4 0M182.86 581.18a3.7 3.7 0 1 0 7.4 0a3.7 3.7 0 1 0 -7.4 0M185.46 581.21a3.7 3.7 0 1 0 7.4 0a3.7 3.7 0 1 0 -7.4 0M188.06 581.24a3.7 3.7 0 1 0 7.4 0a3.7 3.7 0 1 0 -7.4 0M190.66 581.28a3.7 3.7 0 1 0 7.4 0a3.7 3.7 0 1 0 -7.4 0M193.26 581.31a3.7 3.7 0 1 0 7.4 0a3.7 3.7 0 1 0 -7.4 0M195.86 581.33a3.7 3.7 0 1 0 7.4 0a3.7 3.7 0 1 0 -7.4 0M198.46 581.36a3.7 3.7 0 1 0 7.4 0a3.7 3.7 0 1 0 -7.4 0M201.06 581.39a3.7 3.7 0 1 0 7.4 0a3.7 3.7 0 1 0 -7.4 0M203.66 581.41a3.7 3.7 0 1 0 7.4 0a3.7 3.7 0 1 0 -7.4 0M206.27 581.44a3.7 3.7 0 1 0 7.4 0a3.7 3.7 0 1 0 -7.4 0M208.87 581.45a3.7 3.7 0 1 0 7.4 0a3.7 3.7 0 1 0 -7.4 0M211.47 581.46a3.7 3.7 0 1 0 7.4 0a3.7 3.7 0 1 0 -7.4 0M214.07 581.46a3.7 3.7 0 1 0 7.4 0a3.7 3.7 0 1 0 -7.4 0" fill="none" stroke="#3da878" stroke-width="1" />
<path d="M37.15 582.02h7.5M39.75 581.92h7.5M42.35 581.83h7.5M44.95 581.75h7.5M47.55 581.68h7.5M50.16 581.61h7.5M52.76 581.55h7.5M55.36 581.47h7.5M57.96 581.36h7.5M60.56 581.25h7.5M63.16 581.13h7.5M65.76 581.01h7.5M68.36 580.89h7.5M70.96 580.76h7.5M73.56 580.61h7.5M76.16 580.46h7.5M78.77 580.3h7.5M81.37 580.14h7.5M83.97 579.98h7.5M86.57 579.81h7.5M89.17 579.64h7.5M91.77 579.5h7.5M94.37 579.35h7.5M96.97 579.21h7.5M99.57 579.06h7.5M102.17 578.91h7.5M104.78 578.75h7.5M107.38 578.64h7.5M109.98 578.69h7.5M112.58 578.73h7.5M115.18 578.77h7.5M117.78 578.8h7.5M120.38 578.84h7.5M122.98 578.92h7.5M125.58 579.07h7.5M128.18 579.21h7.5M130.79 579.34h7.5M133.39 579.46h7.5M135.99 579.57h7.5M138.59 579.68h7.5M141.19 579.8h7.5M143.79 579.91h7.5M146.39 580.02h7.5M148.99 580.12h7.5M151.59 580.21h7.5M154.19 580.29h7.5M156.8 580.37h7.5M159.4 580.45h7.5M162 580.52h7.5M164.6 580.59h7.5M167.2 580.63h7.5M169.8 580.68h7.5M172.4 580.72h7.5M175 580.76h7.5M177.6 580.8h7.5M180.2 580.84h7.5M182.81 580.88h7.5M185.41 580.91h7.5M188.01 580.94h7.5M190.61 580.98h7.5M193.21 581.01h7.5M195.81 581.03h7.5M198.41 581.06h7.5M201.01 581.09h7.5M203.61 581.11h7.5M206.22 581.14h7.5M208.82 581.15h7.5M211.42 581.16h7.5M214.02 581.16h7.5" stroke="#3da878" stroke-width="0.7" fill="none"/>
<path d="M40.9 578.01L45.16 584.82L36.64 584.82zM43.5 577.82L47.76 584.63L39.25 584.63zM46.1 577.6L50.36 584.41L41.85 584.41zM48.7 577.41L52.96 584.22L44.45 584.22zM51.3 577.23L55.56 584.04L47.05 584.04zM53.91 577.06L58.16 583.87L49.65 583.87zM56.51 576.91L60.76 583.71L52.25 583.71zM59.11 576.69L63.36 583.5L54.85 583.5zM61.71 576.41L65.96 583.21L57.45 583.21zM64.31 576.1L68.56 582.91L60.05 582.91zM66.91 575.79L71.16 582.6L62.65 582.6zM69.51 575.46L73.77 582.27L65.26 582.27zM72.11 575.12L76.37 581.93L67.86 581.93zM74.71 574.77L78.97 581.58L70.46 581.58zM77.31 574.36L81.57 581.17L73.06 581.17zM79.91 573.92L84.17 580.73L75.66 580.73zM82.52 573.46L86.77 580.27L78.26 580.27zM85.12 572.99L89.37 579.8L80.86 579.8zM87.72 572.5L91.97 579.31L83.46 579.31zM90.32 571.99L94.57 578.8L86.06 578.8zM92.92 571.49L97.17 578.3L88.66 578.3zM95.52 571.02L99.78 577.83L91.27 577.83zM98.12 570.54L102.38 577.35L93.87 577.35zM100.72 570.05L104.98 576.86L96.47 576.86zM103.32 569.56L107.58 576.37L99.07 576.37zM105.92 569.05L110.18 575.86L101.67 575.86zM108.53 568.54L112.78 575.35L104.27 575.35zM111.13 568.23L115.38 575.04L106.87 575.04zM113.73 568.72L117.98 575.53L109.47 575.53zM116.33 569.17L120.58 575.98L112.07 575.98zM118.93 569.58L123.18 576.39L114.67 576.39zM121.53 569.96L125.79 576.77L117.28 576.77zM124.13 570.32L128.39 577.13L119.88 577.13zM126.73 570.73L130.99 577.54L122.48 577.54zM129.33 571.27L133.59 578.07L125.08 578.07zM131.93 571.75L136.19 578.56L127.68 578.56zM134.54 572.19L138.79 579L130.28 579zM137.14 572.59L141.39 579.4L132.88 579.4zM139.74 572.95L143.99 579.76L135.48 579.76zM142.34 573.28L146.59 580.09L138.08 580.09zM144.94 573.59L149.19 580.4L140.69 580.4zM147.54 573.87L151.8 580.68L143.29 580.68zM150.14 574.13L154.4 580.93L145.89 580.93zM152.74 574.36L157 581.17L148.49 581.17zM155.34 574.58L159.6 581.39L151.09 581.39zM157.94 574.78L162.2 581.59L153.69 581.59zM160.55 574.97L164.8 581.78L156.29 581.78zM163.15 575.14L167.4 581.95L158.89 581.95zM165.75 575.3L170 582.11L161.49 582.11zM168.35 575.44L172.6 582.25L164.09 582.25zM170.95 575.55L175.2 582.36L166.69 582.36zM173.55 575.65L177.81 582.46L169.3 582.46zM176.15 575.75L180.41 582.56L171.9 582.56zM178.75 575.84L183.01 582.65L174.5 582.65zM181.35 575.92L185.61 582.73L177.1 582.73zM183.95 576L188.21 582.81L179.7 582.81zM186.56 576.08L190.81 582.89L182.3 582.89zM189.16 576.15L193.41 582.96L184.9 582.96zM191.76 576.22L196.01 583.03L187.5 583.03zM194.36 576.28L198.61 583.09L190.1 583.09zM196.96 576.35L201.21 583.15L192.7 583.15zM199.56 576.4L203.82 583.21L195.31 583.21zM202.16 576.46L206.42 583.27L197.91 583.27zM204.76 576.51L209.02 583.32L200.51 583.32zM207.36 576.56L211.62 583.37L203.11 583.37zM209.97 576.61L214.22 583.42L205.71 583.42zM212.57 576.64L216.82 583.44L208.31 583.44zM215.17 576.65L219.42 583.45L210.91 583.45zM217.77 576.66L222.02 583.47L213.51 583.47z" fill="none" stroke="#6cbde8" stroke-width="1" />
<path d="M37.15 581.97h7.5M39.75 581.78h7.5M42.35 581.56h7.5M44.95 581.36h7.5M47.55 581.19h7.5M50.16 581.02h7.5M52.76 580.86h7.5M55.36 580.65h7.5M57.96 580.36h7.5M60.56 580.06h7.5M63.16 579.74h7.5M65.76 579.42h7.5M68.36 579.08h7.5M70.96 578.73h7.5M73.56 578.31h7.5M76.16 577.87h7.5M78.77 577.42h7.5M81.37 576.94h7.5M83.97 576.45h7.5M86.57 575.95h7.5M89.17 575.45h7.5M91.77 574.98h7.5M94.37 574.5h7.5M96.97 574.01h7.5M99.57 573.51h7.5M102.17 573.01h7.5M104.78 572.49h7.5M107.38 572.18h7.5M109.98 572.67h7.5M112.58 573.12h7.5M115.18 573.54h7.5M117.78 573.92h7.5M120.38 574.27h7.5M122.98 574.68h7.5M125.58 575.22h7.5M128.18 575.71h7.5M130.79 576.15h7.5M133.39 576.54h7.5M135.99 576.91h7.5M138.59 577.24h7.5M141.19 577.54h7.5M143.79 577.82h7.5M146.39 578.08h7.5M148.99 578.32h7.5M151.59 578.54h7.5M154.19 578.74h7.5M156.8 578.92h7.5M159.4 579.09h7.5M162 579.25h7.5M164.6 579.4h7.5M167.2 579.51h7.5M169.8 579.61h7.5M172.4 579.7h7.5M175 579.79h7.5M177.6 579.88h7.5M180.2 579.96h7.5M182.81 580.03h7.5M185.41 580.11h7.5M188.01 580.17h7.5M190.61 580.24h7.5M193.21 580.3h7.5M195.81 580.36h7.5M198.41 580.41h7.5M201.01 580.47h7.5M203.61 580.52h7.5M206.22 580.57h7.5M208.82 580.59h7.5M211.42 580.6h7.5M214.02 580.61h7.5" stroke="#6cbde8" stroke-width="0.7" fill="none"/>
<path d="M40.9 586.32L45.16 579.51L36.64 579.51zM43.5 585.86L47.76 579.05L39.25 579.05zM46.1 585.41L50.36 578.6L41.85 578.6zM48.7 585.03L52.96 578.22L44.45 578.22zM51.3 584.7L55.56 577.89L47.05 577.89zM53.91 584.39L58.16 577.59L49.65 577.59zM56.51 584.11L60.76 577.3L52.25 577.3zM59.11 583.84L63.36 577.03L54.85 577.03zM61.71 583.53L65.96 576.73L57.45 576.73zM64.31 582.64L68.56 575.84L60.05 575.84zM66.91 581.64L71.16 574.83L62.65 574.83zM69.51 580.51L73.77 573.7L65.26 573.7zM72.11 579.26L76.37 572.45L67.86 572.45zM74.71 577.88L78.97 571.07L70.46 571.07zM77.31 576.03L81.57 569.22L73.06 569.22zM79.91 573.94L84.17 567.14L75.66 567.14zM82.52 571.63L86.77 564.82L78.26 564.82zM85.12 569.08L89.37 562.27L80.86 562.27zM87.72 567.63L91.97 560.82L83.46 560.82zM90.32 566.15L94.57 559.34L86.06 559.34zM92.92 564.63L97.17 557.82L88.66 557.82zM95.52 563.09L99.78 556.28L91.27 556.28zM98.12 561.63L102.38 554.82L93.87 554.82zM100.72 560.26L104.98 553.45L96.47 553.45zM103.32 559.8L107.58 552.99L99.07 552.99zM105.92 561.62L110.18 554.81L101.67 554.81zM108.53 563.25L112.78 556.45L104.27 556.45zM111.13 564.72L115.38 557.92L106.87 557.92zM113.73 566.34L117.98 559.53L109.47 559.53zM116.33 568.42L120.58 561.61L112.07 561.61zM118.93 570.22L123.18 563.41L114.67 563.41zM121.53 571.79L125.79 564.99L117.28 564.99zM124.13 573.18L128.39 566.37L119.88 566.37zM126.73 574.43L130.99 567.62L122.48 567.62zM129.33 575.62L133.59 568.81L125.08 568.81zM131.93 576.65L136.19 569.85L127.68 569.85zM134.54 577.57L138.79 570.76L130.28 570.76zM137.14 578.38L141.39 571.57L132.88 571.57zM139.74 579.1L143.99 572.29L135.48 572.29zM142.34 579.74L146.59 572.93L138.08 572.93zM144.94 580.27L149.19 573.46L140.69 573.46zM147.54 580.74L151.8 573.93L143.29 573.93zM150.14 581.17L154.4 574.36L145.89 574.36zM152.74 581.55L157 574.74L148.49 574.74zM155.34 581.9L159.6 575.1L151.09 575.1zM157.94 582.22L162.2 575.41L153.69 575.41zM160.55 582.51L164.8 575.71L156.29 575.71zM163.15 582.78L167.4 575.97L158.89 575.97zM165.75 583.03L170 576.22L161.49 576.22zM168.35 583.25L172.6 576.44L164.09 576.44zM170.95 583.36L175.2 576.55L166.69 576.55zM173.55 583.46L177.81 576.65L169.3 576.65zM176.15 583.56L180.41 576.75L171.9 576.75zM178.75 583.65L183.01 576.85L174.5 576.85zM181.35 583.74L185.61 576.93L177.1 576.93zM183.95 583.83L188.21 577.02L179.7 577.02zM186.56 583.91L190.81 577.1L182.3 577.1zM189.16 583.98L193.41 577.18L184.9 577.18zM191.76 584.06L196.01 577.25L187.5 577.25zM194.36 584.13L198.61 577.32L190.1 577.32zM196.96 584.19L201.21 577.39L192.7 577.39zM199.56 584.26L203.82 577.45L195.31 577.45zM202.16 584.32L206.42 577.51L197.91 577.51zM204.76 584.38L209.02 577.57L200.51 577.57zM207.36 584.44L211.62 577.63L203.11 577.63zM209.97 584.49L214.22 577.68L205.71 577.68zM212.57 584.52L216.82 577.71L208.31 577.71zM215.17 584.54L219.42 577.73L210.91 577.73zM217.77 584.55L222.02 577.74L213.51 577.74z" fill="none" stroke="#e09a2a" stroke-width="1" />
<path d="M37.15 581.76h7.5M39.75 581.31h7.5M42.35 580.85h7.5M44.95 580.48h7.5M47.55 580.14h7.5M50.16 579.84h7.5M52.76 579.55h7.5M55.36 579.29h7.5M57.96 578.98h7.5M60.56 578.09h7.5M63.16 577.08h7.5M65.76 575.95h7.5M68.36 574.7h7.5M70.96 573.33h7.5M73.56 571.47h7.5M76.16 569.39h7.5M78.77 567.08h7.5M81.37 564.53h7.5M83.97 563.07h7.5M86.57 561.59h7.5M89.17 560.08h7.5M91.77 558.53h7.5M94.37 557.07h7.5M96.97 555.71h7.5M99.57 555.24h7.5M102.17 557.07h7.5M104.78 558.7h7.5M107.38 560.17h7.5M109.98 561.78h7.5M112.58 563.86h7.5M115.18 565.66h7.5M117.78 567.24h7.5M120.38 568.62h7.5M122.98 569.88h7.5M125.58 571.06h7.5M128.18 572.1h7.5M130.79 573.02h7.5M133.39 573.83h7.5M135.99 574.54h7.5M138.59 575.19h7.5M141.19 575.72h7.5M143.79 576.19h7.5M146.39 576.61h7.5M148.99 577h7.5M151.59 577.35h7.5M154.19 577.67h7.5M156.8 577.96h7.5M159.4 578.23h7.5M162 578.47h7.5M164.6 578.69h7.5M167.2 578.81h7.5M169.8 578.91h7.5M172.4 579.01h7.5M175 579.1h7.5M177.6 579.19h7.5M180.2 579.27h7.5M182.81 579.35h7.5M185.41 579.43h7.5M188.01 579.5h7.5M190.61 579.57h7.5M193.21 579.64h7.5M195.81 579.7h7.5M198.41 579.76h7.5M201.01 579.82h7.5M203.61 579.88h7.5M206.22 579.94h7.5M208.82 579.96h7.5M211.42 579.98h7.5M214.02 580h7.5" stroke="#e09a2a" stroke-width="0.7" fill="none"/>
<path d="M40.9 577.1L45.52 581.72L40.9 586.35L36.27 581.72zM43.5 576.18L48.13 580.81L43.5 585.43L38.88 580.81zM46.1 575.23L50.73 579.86L46.1 584.48L41.48 579.86zM48.7 574.44L53.33 579.06L48.7 583.69L44.08 579.06zM51.3 573.72L55.93 578.35L51.3 582.97L46.68 578.35zM53.91 572.49L58.53 577.11L53.91 581.74L49.28 577.11zM56.51 570.44L61.13 575.07L56.51 579.69L51.88 575.07zM59.11 568.11L63.73 572.74L59.11 577.36L54.48 572.74zM61.71 565.14L66.33 569.76L61.71 574.39L57.08 569.76zM64.31 561.55L68.93 566.18L64.31 570.8L59.68 566.18zM66.91 557.67L71.53 562.3L66.91 566.92L62.28 562.3zM69.51 551.58L74.14 556.21L69.51 560.83L64.89 556.21zM72.11 542.35L76.74 546.98L72.11 551.6L67.49 546.98zM74.71 534.85L79.34 539.48L74.71 544.1L70.09 539.48zM77.31 529.46L81.94 534.08L77.31 538.71L72.69 534.08zM79.91 526.2L84.54 530.83L79.91 535.45L75.29 530.83zM82.52 523.28L87.14 527.91L82.52 532.53L77.89 527.91zM85.12 520.39L89.74 525.01L85.12 529.64L80.49 525.01zM87.72 518.43L92.34 523.05L87.72 527.68L83.09 523.05zM90.32 517.48L94.94 522.1L90.32 526.73L85.69 522.1zM92.92 519.71L97.54 524.34L92.92 528.96L88.29 524.34zM95.52 525.09L100.15 529.71L95.52 534.34L90.9 529.71zM98.12 529.75L102.75 534.37L98.12 539L93.5 534.37zM100.72 533.64L105.35 538.27L100.72 542.89L96.1 538.27zM103.32 537.06L107.95 541.69L103.32 546.31L98.7 541.69zM105.92 541.83L110.55 546.45L105.92 551.08L101.3 546.45zM108.53 545.96L113.15 550.59L108.53 555.21L103.9 550.59zM111.13 550.63L115.75 555.26L111.13 559.88L106.5 555.26zM113.73 554.49L118.35 559.12L113.73 563.74L109.1 559.12zM116.33 557.7L120.95 562.33L116.33 566.95L111.7 562.33zM118.93 560.42L123.55 565.04L118.93 569.67L114.3 565.04zM121.53 562.69L126.16 567.32L121.53 571.94L116.91 567.32zM124.13 564.61L128.76 569.23L124.13 573.86L119.51 569.23zM126.73 566.16L131.36 570.78L126.73 575.41L122.11 570.78zM129.33 567.19L133.96 571.81L129.33 576.44L124.71 571.81zM131.93 568.1L136.56 572.73L131.93 577.35L127.31 572.73zM134.54 568.91L139.16 573.54L134.54 578.16L129.91 573.54zM137.14 569.64L141.76 574.26L137.14 578.89L132.51 574.26zM139.74 570.29L144.36 574.91L139.74 579.54L135.11 574.91zM142.34 570.87L146.96 575.49L142.34 580.12L137.71 575.49zM144.94 571.26L149.56 575.88L144.94 580.51L140.31 575.88zM147.54 571.58L152.17 576.21L147.54 580.83L142.92 576.21zM150.14 571.88L154.77 576.51L150.14 581.13L145.52 576.51zM152.74 572.16L157.37 576.79L152.74 581.41L148.12 576.79zM155.34 572.42L159.97 577.05L155.34 581.67L150.72 577.05zM157.94 572.66L162.57 577.29L157.94 581.91L153.32 577.29zM160.55 572.89L165.17 577.51L160.55 582.14L155.92 577.51zM163.15 573.1L167.77 577.73L163.15 582.35L158.52 577.73zM165.75 573.3L170.37 577.93L165.75 582.55L161.12 577.93zM168.35 573.49L172.97 578.11L168.35 582.74L163.72 578.11zM170.95 573.59L175.57 578.22L170.95 582.84L166.32 578.22zM173.55 573.69L178.18 578.31L173.55 582.94L168.93 578.31zM176.15 573.78L180.78 578.41L176.15 583.03L171.53 578.41zM178.75 573.87L183.38 578.5L178.75 583.12L174.13 578.5zM181.35 573.96L185.98 578.59L181.35 583.21L176.73 578.59zM183.95 574.04L188.58 578.67L183.95 583.29L179.33 578.67zM186.56 574.12L191.18 578.75L186.56 583.37L181.93 578.75zM189.16 574.2L193.78 578.83L189.16 583.45L184.53 578.83zM191.76 574.27L196.38 578.9L191.76 583.52L187.13 578.9zM194.36 574.35L198.98 578.97L194.36 583.6L189.73 578.97zM196.96 574.41L201.58 579.04L196.96 583.66L192.33 579.04zM199.56 574.48L204.19 579.1L199.56 583.73L194.94 579.1zM202.16 574.54L206.79 579.17L202.16 583.79L197.54 579.17zM204.76 574.6L209.39 579.23L204.76 583.85L200.14 579.23zM207.36 574.66L211.99 579.29L207.36 583.91L202.74 579.29zM209.97 574.72L214.59 579.35L209.97 583.97L205.34 579.35zM212.57 574.76L217.19 579.38L212.57 584.01L207.94 579.38zM215.17 574.78L219.79 579.4L215.17 584.03L210.54 579.4zM217.77 574.8L222.39 579.43L217.77 584.05L213.14 579.43z" fill="none" stroke="#e3e54a" stroke-width="1" />
<path d="M37.15 581.42h7.5M39.75 580.51h7.5M42.35 579.56h7.5M44.95 578.76h7.5M47.55 578.05h7.5M50.16 576.81h7.5M52.76 574.77h7.5M55.36 572.44h7.5M57.96 569.46h7.5M60.56 565.88h7.5M63.16 562h7.5M65.76 555.91h7.5M68.36 546.68h7.5M70.96 539.18h7.5M73.56 533.78h7.5M76.16 530.53h7.5M78.77 527.61h7.5M81.37 524.71h7.5M83.97 522.75h7.5M86.57 521.8h7.5M89.17 524.04h7.5M91.77 529.41h7.5M94.37 534.07h7.5M96.97 537.97h7.5M99.57 541.39h7.5M102.17 546.15h7.5M104.78 550.29h7.5M107.38 554.96h7.5M109.98 558.82h7.5M112.58 562.03h7.5M115.18 564.74h7.5M117.78 567.02h7.5M120.38 568.93h7.5M122.98 570.48h7.5M125.58 571.51h7.5M128.18 572.43h7.5M130.79 573.24h7.5M133.39 573.96h7.5M135.99 574.61h7.5M138.59 575.19h7.5M141.19 575.58h7.5M143.79 575.91h7.5M146.39 576.21h7.5M148.99 576.49h7.5M151.59 576.75h7.5M154.19 576.99h7.5M156.8 577.21h7.5M159.4 577.43h7.5M162 577.63h7.5M164.6 577.81h7.5M167.2 577.92h7.5M169.8 578.01h7.5M172.4 578.11h7.5M175 578.2h7.5M177.6 578.29h7.5M180.2 578.37h7.5M182.81 578.45h7.5M185.41 578.53h7.5M188.01 578.6h7.5M190.61 578.67h7.5M193.21 578.74h7.5M195.81 578.8h7.5M198.41 578.87h7.5M201.01 578.93h7.5M203.61 578.99h7.5M206.22 579.05h7.5M208.82 579.08h7.5M211.42 579.1h7.5M214.02 579.13h7.5" stroke="#e3e54a" stroke-width="0.7" fill="none"/>
<path d="M51.58 555.99v4.73M48.08 555.99h7M48.08 560.72h7M55.14 550.67v4.73M51.64 550.67h7M51.64 555.4h7M58.7 536.3v4.81M55.2 536.3h7M55.2 541.11h7M62.26 523.31v6.16M58.76 523.31h7M58.76 529.47h7M65.82 500.15v8.58M62.32 500.15h7M62.32 508.73h7M69.38 475.92v11.1M65.88 475.92h7M65.88 487.03h7M72.94 459.87v12.78M69.44 459.87h7M69.44 472.64h7M76.5 427.05v16.2M73 427.05h7M73 443.25h7M80.06 448.03v14.01M76.56 448.03h7M76.56 462.04h7M83.62 463.42v12.4M80.12 463.42h7M80.12 475.83h7M87.18 480.84v10.59M83.68 480.84h7M83.68 491.43h7M90.74 496.74v8.93M87.24 496.74h7M87.24 505.67h7M94.3 512.42v7.3M90.8 512.42h7M90.8 519.72h7M97.86 526.8v5.8M94.36 526.8h7M94.36 532.6h7M101.42 538.37v4.73M97.92 538.37h7M97.92 543.1h7M104.98 544.11v4.73M101.48 544.11h7M101.48 548.84h7M108.54 552.82v4.73M105.04 552.82h7M105.04 557.56h7M112.1 559.97v4.73M108.6 559.97h7M108.6 564.7h7M115.66 562.02v4.73M112.16 562.02h7M112.16 566.75h7" stroke="#3d7ab5" stroke-width="1" fill="none"/>
<path d="M40.9 581.07L37.03 578.26L38.51 573.71L43.29 573.71L44.77 578.26zM44.46 575.62L40.59 572.81L42.07 568.26L46.85 568.26L48.33 572.81zM48.02 569.87L44.15 567.05L45.63 562.5L50.41 562.5L51.89 567.05zM51.58 562.43L47.71 559.61L49.19 555.06L53.97 555.06L55.45 559.61zM55.14 557.11L51.27 554.29L52.75 549.74L57.53 549.74L59.01 554.29zM58.7 542.78L54.83 539.96L56.31 535.41L61.09 535.41L62.57 539.96zM62.26 530.46L58.39 527.65L59.87 523.09L64.65 523.09L66.13 527.65zM65.82 508.51L61.95 505.7L63.43 501.15L68.21 501.15L69.69 505.7zM69.38 485.54L65.51 482.73L66.99 478.18L71.77 478.18L73.25 482.73zM72.94 470.33L69.07 467.51L70.55 462.96L75.33 462.96L76.81 467.51zM76.5 439.22L72.63 436.41L74.11 431.86L78.89 431.86L80.37 436.41zM80.06 459.1L76.19 456.29L77.67 451.74L82.45 451.74L83.93 456.29zM83.62 473.7L79.75 470.89L81.23 466.33L86.01 466.33L87.49 470.89zM87.18 490.21L83.31 487.39L84.79 482.84L89.57 482.84L91.05 487.39zM90.74 505.27L86.87 502.46L88.34 497.91L93.13 497.91L94.61 502.46zM94.3 520.14L90.43 517.33L91.9 512.78L96.69 512.78L98.17 517.33zM97.86 533.77L93.99 530.96L95.46 526.4L100.25 526.4L101.73 530.96zM101.42 544.8L97.55 541.99L99.02 537.44L103.81 537.44L105.29 541.99zM104.98 550.55L101.11 547.74L102.58 543.19L107.37 543.19L108.85 547.74zM108.54 559.26L104.67 556.45L106.14 551.9L110.93 551.9L112.41 556.45zM112.1 566.41L108.23 563.6L109.7 559.04L114.49 559.04L115.97 563.6zM115.66 568.46L111.78 565.64L113.26 561.09L118.05 561.09L119.53 565.64zM119.22 570.21L115.34 567.4L116.82 562.85L121.61 562.85L123.09 567.4zM122.78 571.73L118.9 568.92L120.38 564.37L125.17 564.37L126.65 568.92zM126.34 573.08L122.46 570.26L123.94 565.71L128.73 565.71L130.21 570.26zM129.89 574.38L126.02 571.57L127.5 567.02L132.29 567.02L133.77 571.57zM133.45 575.52L129.58 572.71L131.06 568.15L135.85 568.15L137.33 572.71zM137.01 576.51L133.14 573.7L134.62 569.15L139.41 569.15L140.89 573.7zM140.57 577.38L136.7 574.57L138.18 570.02L142.97 570.02L144.45 574.57zM144.13 578.01L140.26 575.19L141.74 570.64L146.53 570.64L148.01 575.19zM147.69 578.48L143.82 575.67L145.3 571.11L150.09 571.11L151.56 575.67zM151.25 578.91L147.38 576.1L148.86 571.55L153.65 571.55L155.12 576.1zM154.81 579.3L150.94 576.49L152.42 571.94L157.21 571.94L158.68 576.49zM158.37 579.67L154.5 576.85L155.98 572.3L160.77 572.3L162.24 576.85zM161.93 580L158.06 577.19L159.54 572.64L164.33 572.64L165.8 577.19zM165.49 580.31L161.62 577.5L163.1 572.95L167.89 572.95L169.36 577.5zM169.05 580.52L165.18 577.71L166.66 573.16L171.45 573.16L172.92 577.71zM172.61 580.68L168.74 577.87L170.22 573.32L175 573.32L176.48 577.87zM176.17 580.83L172.3 578.02L173.78 573.47L178.56 573.47L180.04 578.02zM179.73 580.98L175.86 578.16L177.34 573.61L182.12 573.61L183.6 578.16zM183.29 581.11L179.42 578.3L180.9 573.75L185.68 573.75L187.16 578.3zM186.85 581.24L182.98 578.43L184.46 573.88L189.24 573.88L190.72 578.43zM190.41 581.37L186.54 578.55L188.02 574L192.8 574L194.28 578.55zM193.97 581.48L190.1 578.67L191.58 574.12L196.36 574.12L197.84 578.67zM197.53 581.6L193.66 578.78L195.14 574.23L199.92 574.23L201.4 578.78zM201.09 581.7L197.22 578.89L198.7 574.34L203.48 574.34L204.96 578.89zM204.65 581.81L200.78 578.99L202.26 574.44L207.04 574.44L208.52 578.99zM208.21 581.91L204.34 579.09L205.82 574.54L210.6 574.54L212.08 579.09zM211.77 581.99L207.9 579.18L209.38 574.63L214.16 574.63L215.64 579.18zM215.33 582.03L211.46 579.22L212.94 574.67L217.72 574.67L219.2 579.22z" fill="none" stroke="#3d7ab5" stroke-width="1" />
<path d="M37.15 576.7h7.5M40.71 571.25h7.5M44.27 565.5h7.5M47.83 558.06h7.5M51.39 552.74h7.5M54.95 538.41h7.5M58.51 526.09h7.5M62.07 504.14h7.5M65.63 481.17h7.5M69.19 465.96h7.5M72.75 434.85h7.5M76.31 454.73h7.5M79.87 469.33h7.5M83.43 485.84h7.5M86.99 500.9h7.5M90.55 515.77h7.5M94.11 529.4h7.5M97.67 540.43h7.5M101.23 546.18h7.5M104.79 554.89h7.5M108.35 562.04h7.5M111.91 564.09h7.5M115.47 565.84h7.5M119.03 567.36h7.5M122.59 568.71h7.5M126.14 570.01h7.5M129.7 571.15h7.5M133.26 572.14h7.5M136.82 573.01h7.5M140.38 573.64h7.5M143.94 574.11h7.5M147.5 574.54h7.5M151.06 574.93h7.5M154.62 575.3h7.5M158.18 575.63h7.5M161.74 575.94h7.5M165.3 576.15h7.5M168.86 576.31h7.5M172.42 576.46h7.5M175.98 576.61h7.5M179.54 576.74h7.5M183.1 576.87h7.5M186.66 577h7.5M190.22 577.11h7.5M193.78 577.23h7.5M197.34 577.33h7.5M200.9 577.44h7.5M204.46 577.54h7.5M208.02 577.62h7.5M211.58 577.66h7.5" stroke="#3d7ab5" stroke-width="0.7" fill="none"/>
<rect x="40.9" y="413.4" width="170" height="169" fill="none" stroke="#262626" stroke-width="1.1"/>
<path d="M40.9 582.4v-7M40.9 413.4v7M74.9 582.4v-7M74.9 413.4v7M108.9 582.4v-7M108.9 413.4v7M142.9 582.4v-7M142.9 413.4v7M176.9 582.4v-7M176.9 413.4v7M210.9 582.4v-7M210.9 413.4v7" stroke="#262626" stroke-width="1.1" fill="none"/>
<path d="M40.9 582.4h7M210.9 582.4h-7M40.9 548.6h7M210.9 548.6h-7M40.9 514.8h7M210.9 514.8h-7M40.9 481h7M210.9 481h-7M40.9 447.2h7M210.9 447.2h-7M40.9 413.4h7M210.9 413.4h-7" stroke="#262626" stroke-width="1.1" fill="none"/>
<text x="34.8" y="586" font-size="10" text-anchor="end" font-family="Liberation Sans, sans-serif" fill="#111" stroke="#111" stroke-width="0.12" >0</text>
<text x="37.6" y="552.2" font-size="10" text-anchor="end" font-family="Liberation Sans, sans-serif" fill="#111" stroke="#111" stroke-width="0.12" >0.1</text>
<text x="37.6" y="518.4" font-size="10" text-anchor="end" font-family="Liberation Sans, sans-serif" fill="#111" stroke="#111" stroke-width="0.12" >0.2</text>
<text x="37.6" y="484.6" font-size="10" text-anchor="end" font-family="Liberation Sans, sans-serif" fill="#111" stroke="#111" stroke-width="0.12" >0.3</text>
<text x="37.6" y="450.8" font-size="10" text-anchor="end" font-family="Liberation Sans, sans-serif" fill="#111" stroke="#111" stroke-width="0.12" >0.4</text>
<text x="37.6" y="417" font-size="10" text-anchor="end" font-family="Liberation Sans, sans-serif" fill="#111" stroke="#111" stroke-width="0.12" >0.5</text>
<text x="40.9" y="596" font-size="10" text-anchor="middle" font-family="Liberation Sans, sans-serif" fill="#111" stroke="#111" stroke-width="0.12" >0</text>
<text x="74.9" y="596" font-size="10" text-anchor="middle" font-family="Liberation Sans, sans-serif" fill="#111" stroke="#111" stroke-width="0.12" >0.02</text>
<text x="108.9" y="596" font-size="10" text-anchor="middle" font-family="Liberation Sans, sans-serif" fill="#111" stroke="#111" stroke-width="0.12" >0.04</text>
<text x="142.9" y="596" font-size="10" text-anchor="middle" font-family="Liberation Sans, sans-serif" fill="#111" stroke="#111" stroke-width="0.12" >0.06</text>
<text x="176.9" y="596" font-size="10" text-anchor="middle" font-family="Liberation Sans, sans-serif" fill="#111" stroke="#111" stroke-width="0.12" >0.08</text>
<text x="210.9" y="596" font-size="10" text-anchor="middle" font-family="Liberation Sans, sans-serif" fill="#111" stroke="#111" stroke-width="0.12" >0.1</text>
<text x="0.8" y="423" font-size="15" text-anchor="start" font-family="Liberation Sans, sans-serif" fill="#111" font-weight="bold">g</text>
<path d="M282.81 580.8h7M299.84 560.71h7M309.81 548.95h7M316.88 540.61h7M322.37 534.15h7M326.85 528.86h7M330.64 524.28h7M333.92 520.19h7M336.82 516.59h7M339.41 513.37h7M341.75 510.38h7M343.89 507.28h7M345.86 504.43h7M347.68 501.79h7M349.37 499.34h7M350.96 497.02h7M352.45 494.8h7M353.85 492.71h7M355.18 490.73h7M356.44 488.83h7M357.64 487.11h7M358.79 485.41h7M359.88 483.98h7M360.93 482.7h7M361.93 481.58h7M362.89 480.14h7M363.82 479.01h7M364.72 478.3h7M365.58 476.84h7M366.41 475.82h7M368 474.41h7M368.75 473.13h7M370.2 472.91h7M371.57 472.45h7M372.86 473.09h7M374.09 472.59h7M375.26 472.9h7M375.83 471.73h7M376.92 469.88h7M377.45 470.92h7M378.47 471.02h7M378.97 469.64h7M379.93 467.84h7M380.86 467.37h7M381.31 469.15h7M381.75 466.62h7M382.19 468.66h7M382.62 467h7M383.86 466.36h7M384.26 464.98h7M384.65 465.93h7M385.79 466.05h7M386.53 463.72h7M387.24 462.68h7M387.59 463.86h7M388.6 461.63h7M389.58 460.94h7M390.21 462.05h7M390.83 460.61h7M391.72 459.27h7M392.01 460.36h7M392.3 458.61h7M392.58 460.01h7M393.42 459.14h7M393.96 458.12h7M394.22 456.65h7M395 457.35h7M395.76 456.61h7M396.25 455.74h7M396.73 454.32h7M397.67 455.37h7M398.35 453.04h7M399.01 454.76h7M399.44 452.19h7M399.87 453.49h7M400.07 452.12h7M400.69 453.17h7M400.89 451.92h7M401.09 452.91h7M401.29 450.43h7M401.88 452.25h7M402.07 449.81h7M402.64 450.9h7M403.2 449.99h7M404.28 448.31h7M405.14 447.3h7M405.31 449.02h7M405.48 447.67h7M405.81 448.74h7M405.97 446.68h7M406.62 447.69h7M406.78 446.59h7M407.71 445.92h7M407.86 446.97h7M408.02 445.6h7M408.17 446.6h7M408.76 444.43h7M408.9 445.54h7M409.05 444.06h7M409.9 445.23h7M410.04 442.73h7M410.45 444.46h7M410.59 443.23h7M411.13 441.95h7M411.26 443.25h7M411.52 441.88h7M411.78 443.46h7M411.91 441.61h7M412.8 442.63h7M413.29 440.39h7M413.41 441.99h7M413.65 440.91h7M414.36 439.95h7M414.82 440.86h7M414.94 438.7h7M415.16 439.91h7M415.28 438.81h7M415.83 439.93h7M415.94 438.22h7M416.59 437.26h7M416.69 438.62h7M416.8 437.51h7M417.42 438.38h7M417.53 436.4h7M417.73 437.56h7M417.83 435.85h7M418.03 437.83h7M418.13 435.71h7M418.23 436.81h7M418.33 435.76h7M418.43 437.11h7M418.73 435.57h7M419.02 437.14h7M419.11 435.96h7M419.78 434.73h7M420.15 435.78h7M420.24 434.29h7M420.33 436.02h7M420.42 433.9h7M420.69 435.32h7M420.87 433.72h7M421.4 435.13h7M421.49 433.4h7M421.66 434.87h7M421.75 433.4h7M422.01 432.28h7M422.51 433.75h7M422.6 431.94h7M422.68 433.87h7M422.76 432.65h7M423.17 431.17h7M423.26 433.47h7M423.5 432.24h7M423.9 430.9h7M424.13 432.28h7M424.44 430.73h7M424.52 431.98h7M424.75 430.02h7M425.05 431.7h7" stroke="#9a1af0" stroke-width="0.7" fill="none"/>
<path d="M282.91 577.7h6.8v6.8h-6.8zM299.94 557.61h6.8v6.8h-6.8zM309.91 545.85h6.8v6.8h-6.8zM316.98 537.51h6.8v6.8h-6.8zM322.47 531.05h6.8v6.8h-6.8zM326.95 525.76h6.8v6.8h-6.8zM330.74 521.18h6.8v6.8h-6.8zM334.02 517.09h6.8v6.8h-6.8zM336.92 513.49h6.8v6.8h-6.8zM339.51 510.27h6.8v6.8h-6.8zM341.85 507.28h6.8v6.8h-6.8zM343.99 504.18h6.8v6.8h-6.8zM345.96 501.33h6.8v6.8h-6.8zM347.78 498.69h6.8v6.8h-6.8zM349.47 496.24h6.8v6.8h-6.8zM351.06 493.92h6.8v6.8h-6.8zM352.55 491.7h6.8v6.8h-6.8zM353.95 489.61h6.8v6.8h-6.8zM355.28 487.63h6.8v6.8h-6.8zM356.54 485.73h6.8v6.8h-6.8zM357.74 484.01h6.8v6.8h-6.8zM358.89 482.31h6.8v6.8h-6.8zM359.98 480.88h6.8v6.8h-6.8zM361.03 479.6h6.8v6.8h-6.8zM362.03 478.48h6.8v6.8h-6.8zM362.99 477.04h6.8v6.8h-6.8zM363.92 475.91h6.8v6.8h-6.8zM364.82 475.2h6.8v6.8h-6.8zM365.68 473.74h6.8v6.8h-6.8zM366.51 472.72h6.8v6.8h-6.8zM368.1 471.31h6.8v6.8h-6.8zM368.85 470.03h6.8v6.8h-6.8zM370.3 469.81h6.8v6.8h-6.8zM371.67 469.35h6.8v6.8h-6.8zM372.96 469.99h6.8v6.8h-6.8zM374.19 469.49h6.8v6.8h-6.8zM375.36 469.8h6.8v6.8h-6.8zM375.93 468.63h6.8v6.8h-6.8zM377.02 466.78h6.8v6.8h-6.8zM377.55 467.82h6.8v6.8h-6.8zM378.57 467.92h6.8v6.8h-6.8zM379.07 466.54h6.8v6.8h-6.8zM380.03 464.74h6.8v6.8h-6.8zM380.96 464.27h6.8v6.8h-6.8zM381.41 466.05h6.8v6.8h-6.8zM381.85 463.52h6.8v6.8h-6.8zM382.29 465.56h6.8v6.8h-6.8zM382.72 463.9h6.8v6.8h-6.8zM383.96 463.26h6.8v6.8h-6.8zM384.36 461.88h6.8v6.8h-6.8zM384.75 462.83h6.8v6.8h-6.8zM385.89 462.95h6.8v6.8h-6.8zM386.63 460.62h6.8v6.8h-6.8zM387.34 459.58h6.8v6.8h-6.8zM387.69 460.76h6.8v6.8h-6.8zM388.7 458.53h6.8v6.8h-6.8zM389.68 457.84h6.8v6.8h-6.8zM390.31 458.95h6.8v6.8h-6.8zM390.93 457.51h6.8v6.8h-6.8zM391.82 456.17h6.8v6.8h-6.8zM392.11 457.26h6.8v6.8h-6.8zM392.4 455.51h6.8v6.8h-6.8zM392.68 456.91h6.8v6.8h-6.8zM393.52 456.04h6.8v6.8h-6.8zM394.06 455.02h6.8v6.8h-6.8zM394.32 453.55h6.8v6.8h-6.8zM395.1 454.25h6.8v6.8h-6.8zM395.86 453.51h6.8v6.8h-6.8zM396.35 452.64h6.8v6.8h-6.8zM396.83 451.22h6.8v6.8h-6.8zM397.77 452.27h6.8v6.8h-6.8zM398.45 449.94h6.8v6.8h-6.8zM399.11 451.66h6.8v6.8h-6.8zM399.54 449.09h6.8v6.8h-6.8zM399.97 450.39h6.8v6.8h-6.8zM400.17 449.02h6.8v6.8h-6.8zM400.79 450.07h6.8v6.8h-6.8zM400.99 448.82h6.8v6.8h-6.8zM401.19 449.81h6.8v6.8h-6.8zM401.39 447.33h6.8v6.8h-6.8zM401.98 449.15h6.8v6.8h-6.8zM402.17 446.71h6.8v6.8h-6.8zM402.74 447.8h6.8v6.8h-6.8zM403.3 446.89h6.8v6.8h-6.8zM404.38 445.21h6.8v6.8h-6.8zM405.24 444.2h6.8v6.8h-6.8zM405.41 445.92h6.8v6.8h-6.8zM405.58 444.57h6.8v6.8h-6.8zM405.91 445.64h6.8v6.8h-6.8zM406.07 443.58h6.8v6.8h-6.8zM406.72 444.59h6.8v6.8h-6.8zM406.88 443.49h6.8v6.8h-6.8zM407.81 442.82h6.8v6.8h-6.8zM407.96 443.87h6.8v6.8h-6.8zM408.12 442.5h6.8v6.8h-6.8zM408.27 443.5h6.8v6.8h-6.8zM408.86 441.33h6.8v6.8h-6.8zM409 442.44h6.8v6.8h-6.8zM409.15 440.96h6.8v6.8h-6.8zM410 442.13h6.8v6.8h-6.8zM410.14 439.63h6.8v6.8h-6.8zM410.55 441.36h6.8v6.8h-6.8zM410.69 440.13h6.8v6.8h-6.8zM411.23 438.85h6.8v6.8h-6.8zM411.36 440.15h6.8v6.8h-6.8zM411.62 438.78h6.8v6.8h-6.8zM411.88 440.36h6.8v6.8h-6.8zM412.01 438.51h6.8v6.8h-6.8zM412.9 439.53h6.8v6.8h-6.8zM413.39 437.29h6.8v6.8h-6.8zM413.51 438.89h6.8v6.8h-6.8zM413.75 437.81h6.8v6.8h-6.8zM414.46 436.85h6.8v6.8h-6.8zM414.92 437.76h6.8v6.8h-6.8zM415.04 435.6h6.8v6.8h-6.8zM415.26 436.81h6.8v6.8h-6.8zM415.38 435.71h6.8v6.8h-6.8zM415.93 436.83h6.8v6.8h-6.8zM416.04 435.12h6.8v6.8h-6.8zM416.69 434.16h6.8v6.8h-6.8zM416.79 435.52h6.8v6.8h-6.8zM416.9 434.41h6.8v6.8h-6.8zM417.52 435.28h6.8v6.8h-6.8zM417.63 433.3h6.8v6.8h-6.8zM417.83 434.46h6.8v6.8h-6.8zM417.93 432.75h6.8v6.8h-6.8zM418.13 434.73h6.8v6.8h-6.8zM418.23 432.61h6.8v6.8h-6.8zM418.33 433.71h6.8v6.8h-6.8zM418.43 432.66h6.8v6.8h-6.8zM418.53 434.01h6.8v6.8h-6.8zM418.83 432.47h6.8v6.8h-6.8zM419.12 434.04h6.8v6.8h-6.8zM419.21 432.86h6.8v6.8h-6.8zM419.88 431.63h6.8v6.8h-6.8zM420.25 432.68h6.8v6.8h-6.8zM420.34 431.19h6.8v6.8h-6.8zM420.43 432.92h6.8v6.8h-6.8zM420.52 430.8h6.8v6.8h-6.8zM420.79 432.22h6.8v6.8h-6.8zM420.97 430.62h6.8v6.8h-6.8zM421.5 432.03h6.8v6.8h-6.8zM421.59 430.3h6.8v6.8h-6.8zM421.76 431.77h6.8v6.8h-6.8zM421.85 430.3h6.8v6.8h-6.8zM422.11 429.18h6.8v6.8h-6.8zM422.61 430.65h6.8v6.8h-6.8zM422.7 428.84h6.8v6.8h-6.8zM422.78 430.77h6.8v6.8h-6.8zM422.86 429.55h6.8v6.8h-6.8zM423.27 428.07h6.8v6.8h-6.8zM423.36 430.37h6.8v6.8h-6.8zM423.6 429.14h6.8v6.8h-6.8zM424 427.8h6.8v6.8h-6.8zM424.23 429.18h6.8v6.8h-6.8zM424.54 427.63h6.8v6.8h-6.8zM424.62 428.88h6.8v6.8h-6.8zM424.85 426.92h6.8v6.8h-6.8zM425.15 428.6h6.8v6.8h-6.8z" fill="none" stroke="#9a1af0" stroke-width="1" />
<path d="M288.49 577.36h7M305.53 557.1h7M315.5 545.25h7M322.57 536.84h7M328.05 530.32h7M332.54 524.99h7M336.32 520.19h7M339.61 515.7h7M342.5 511.74h7M345.09 508.19h7M347.43 504.99h7M349.57 502.06h7M351.54 499.37h7M353.36 496.79h7M355.06 494.37h7M356.65 492.11h7M358.14 489.99h7M359.54 487.98h7M360.87 486.09h7M362.13 484.31h7M363.33 482.7h7M364.47 481.19h7M365.57 479.64h7M366.61 478.26h7M367.62 476.92h7M368.58 475.83h7M369.51 474.69h7M370.4 473.76h7M371.26 473.09h7M372.1 471.89h7M372.9 470.91h7M374.44 470.37h7M375.17 469.37h7M376.58 469.12h7M377.91 468.82h7M378.55 467.49h7M379.78 466.8h7M380.37 467.75h7M381.51 466.59h7M382.6 466.36h7M383.13 465.06h7M384.16 464.99h7M385.62 464.99h7M386.09 463.69h7M387.44 465.15h7M387.87 464.22h7M388.3 463.16h7M389.14 462.47h7M390.33 463.55h7M391.48 461.15h7M391.85 462.81h7M392.21 460.17h7M392.92 461.89h7M393.27 459.21h7M393.62 460.93h7M394.29 459.43h7M394.95 458.16h7M395.9 457.64h7M396.81 457.13h7M397.41 455.83h7M397.98 457.47h7M398.27 455.44h7M399.1 456.13h7M399.64 454.68h7M400.17 453.49h7M400.69 455.09h7M400.94 452.95h7M401.94 452.67h7M402.89 451.1h7M403.58 451.87h7M404.48 449.42h7M405.55 449.93h7M405.97 448.83h7M406.17 450.12h7M406.38 448.64h7M407.37 447h7M407.57 448.06h7M407.95 446.5h7M408.14 448.32h7M408.52 446.53h7M408.7 448.04h7M408.89 446.93h7M409.43 445.35h7M409.61 447.02h7M409.96 444.6h7M410.48 445.85h7M410.83 444.86h7M411.49 443.63h7M411.82 444.87h7M412.15 443.86h7M412.31 444.97h7M412.62 443.42h7M412.78 442.22h7M413.09 444.32h7M413.55 443.27h7M414 441.59h7M414.44 442.58h7M414.74 440.59h7M415.02 441.74h7M415.31 440.52h7M415.45 441.7h7M416.14 440.62h7M417.21 439.54h7M417.34 440.57h7M417.85 438.05h7M418.23 439.46h7M418.48 438.09h7M419.22 437.29h7M419.34 438.32h7M419.46 436.37h7M419.69 438.53h7M419.81 437.19h7M420.39 435.92h7M420.51 436.99h7M420.96 435.2h7M421.3 436.27h7M421.63 434.44h7M421.73 436.06h7M422.38 434.13h7M422.48 435.18h7M422.59 433.62h7M422.69 435.24h7M423.01 433.2h7M423.21 434.23h7M423.62 432.87h7M424.22 433.69h7M424.61 432.15h7M424.89 433.21h7M424.99 431.67h7M425.18 432.83h7M425.55 431.64h7M425.83 433.2h7M425.92 431.39h7M426.47 432.49h7M426.65 430.68h7M426.82 431.71h7M426.91 430.22h7M427.52 431.07h7M427.95 430.02h7M428.03 428.99h7M428.45 430.79h7M428.61 429.37h7M428.78 428.24h7M428.86 429.83h7M428.94 428.61h7M429.1 430.32h7M429.34 428.04h7M429.5 429.44h7M429.58 427.86h7M429.82 429.49h7M429.97 428.37h7M430.28 426.92h7M430.36 428.23h7" stroke="#3da878" stroke-width="0.7" fill="none"/>
<path d="M288.59 577.66a3.4 3.4 0 1 0 6.8 0a3.4 3.4 0 1 0 -6.8 0M305.63 557.4a3.4 3.4 0 1 0 6.8 0a3.4 3.4 0 1 0 -6.8 0M315.6 545.55a3.4 3.4 0 1 0 6.8 0a3.4 3.4 0 1 0 -6.8 0M322.67 537.14a3.4 3.4 0 1 0 6.8 0a3.4 3.4 0 1 0 -6.8 0M328.15 530.62a3.4 3.4 0 1 0 6.8 0a3.4 3.4 0 1 0 -6.8 0M332.64 525.29a3.4 3.4 0 1 0 6.8 0a3.4 3.4 0 1 0 -6.8 0M336.42 520.49a3.4 3.4 0 1 0 6.8 0a3.4 3.4 0 1 0 -6.8 0M339.71 516a3.4 3.4 0 1 0 6.8 0a3.4 3.4 0 1 0 -6.8 0M342.6 512.04a3.4 3.4 0 1 0 6.8 0a3.4 3.4 0 1 0 -6.8 0M345.19 508.49a3.4 3.4 0 1 0 6.8 0a3.4 3.4 0 1 0 -6.8 0M347.53 505.29a3.4 3.4 0 1 0 6.8 0a3.4 3.4 0 1 0 -6.8 0M349.67 502.36a3.4 3.4 0 1 0 6.8 0a3.4 3.4 0 1 0 -6.8 0M351.64 499.67a3.4 3.4 0 1 0 6.8 0a3.4 3.4 0 1 0 -6.8 0M353.46 497.09a3.4 3.4 0 1 0 6.8 0a3.4 3.4 0 1 0 -6.8 0M355.16 494.67a3.4 3.4 0 1 0 6.8 0a3.4 3.4 0 1 0 -6.8 0M356.75 492.41a3.4 3.4 0 1 0 6.8 0a3.4 3.4 0 1 0 -6.8 0M358.24 490.29a3.4 3.4 0 1 0 6.8 0a3.4 3.4 0 1 0 -6.8 0M359.64 488.28a3.4 3.4 0 1 0 6.8 0a3.4 3.4 0 1 0 -6.8 0M360.97 486.39a3.4 3.4 0 1 0 6.8 0a3.4 3.4 0 1 0 -6.8 0M362.23 484.61a3.4 3.4 0 1 0 6.8 0a3.4 3.4 0 1 0 -6.8 0M363.43 483a3.4 3.4 0 1 0 6.8 0a3.4 3.4 0 1 0 -6.8 0M364.57 481.49a3.4 3.4 0 1 0 6.8 0a3.4 3.4 0 1 0 -6.8 0M365.67 479.94a3.4 3.4 0 1 0 6.8 0a3.4 3.4 0 1 0 -6.8 0M366.71 478.56a3.4 3.4 0 1 0 6.8 0a3.4 3.4 0 1 0 -6.8 0M367.72 477.22a3.4 3.4 0 1 0 6.8 0a3.4 3.4 0 1 0 -6.8 0M368.68 476.13a3.4 3.4 0 1 0 6.8 0a3.4 3.4 0 1 0 -6.8 0M369.61 474.99a3.4 3.4 0 1 0 6.8 0a3.4 3.4 0 1 0 -6.8 0M370.5 474.06a3.4 3.4 0 1 0 6.8 0a3.4 3.4 0 1 0 -6.8 0M371.36 473.39a3.4 3.4 0 1 0 6.8 0a3.4 3.4 0 1 0 -6.8 0M372.2 472.19a3.4 3.4 0 1 0 6.8 0a3.4 3.4 0 1 0 -6.8 0M373 471.21a3.4 3.4 0 1 0 6.8 0a3.4 3.4 0 1 0 -6.8 0M374.54 470.67a3.4 3.4 0 1 0 6.8 0a3.4 3.4 0 1 0 -6.8 0M375.27 469.67a3.4 3.4 0 1 0 6.8 0a3.4 3.4 0 1 0 -6.8 0M376.68 469.42a3.4 3.4 0 1 0 6.8 0a3.4 3.4 0 1 0 -6.8 0M378.01 469.12a3.4 3.4 0 1 0 6.8 0a3.4 3.4 0 1 0 -6.8 0M378.65 467.79a3.4 3.4 0 1 0 6.8 0a3.4 3.4 0 1 0 -6.8 0M379.88 467.1a3.4 3.4 0 1 0 6.8 0a3.4 3.4 0 1 0 -6.8 0M380.47 468.05a3.4 3.4 0 1 0 6.8 0a3.4 3.4 0 1 0 -6.8 0M381.61 466.89a3.4 3.4 0 1 0 6.8 0a3.4 3.4 0 1 0 -6.8 0M382.7 466.66a3.4 3.4 0 1 0 6.8 0a3.4 3.4 0 1 0 -6.8 0M383.23 465.36a3.4 3.4 0 1 0 6.8 0a3.4 3.4 0 1 0 -6.8 0M384.26 465.29a3.4 3.4 0 1 0 6.8 0a3.4 3.4 0 1 0 -6.8 0M385.72 465.29a3.4 3.4 0 1 0 6.8 0a3.4 3.4 0 1 0 -6.8 0M386.19 463.99a3.4 3.4 0 1 0 6.8 0a3.4 3.4 0 1 0 -6.8 0M387.54 465.45a3.4 3.4 0 1 0 6.8 0a3.4 3.4 0 1 0 -6.8 0M387.97 464.52a3.4 3.4 0 1 0 6.8 0a3.4 3.4 0 1 0 -6.8 0M388.4 463.46a3.4 3.4 0 1 0 6.8 0a3.4 3.4 0 1 0 -6.8 0M389.24 462.77a3.4 3.4 0 1 0 6.8 0a3.4 3.4 0 1 0 -6.8 0M390.43 463.85a3.4 3.4 0 1 0 6.8 0a3.4 3.4 0 1 0 -6.8 0M391.58 461.45a3.4 3.4 0 1 0 6.8 0a3.4 3.4 0 1 0 -6.8 0M391.95 463.11a3.4 3.4 0 1 0 6.8 0a3.4 3.4 0 1 0 -6.8 0M392.31 460.47a3.4 3.4 0 1 0 6.8 0a3.4 3.4 0 1 0 -6.8 0M393.02 462.19a3.4 3.4 0 1 0 6.8 0a3.4 3.4 0 1 0 -6.8 0M393.37 459.51a3.4 3.4 0 1 0 6.8 0a3.4 3.4 0 1 0 -6.8 0M393.72 461.23a3.4 3.4 0 1 0 6.8 0a3.4 3.4 0 1 0 -6.8 0M394.39 459.73a3.4 3.4 0 1 0 6.8 0a3.4 3.4 0 1 0 -6.8 0M395.05 458.46a3.4 3.4 0 1 0 6.8 0a3.4 3.4 0 1 0 -6.8 0M396 457.94a3.4 3.4 0 1 0 6.8 0a3.4 3.4 0 1 0 -6.8 0M396.91 457.43a3.4 3.4 0 1 0 6.8 0a3.4 3.4 0 1 0 -6.8 0M397.51 456.13a3.4 3.4 0 1 0 6.8 0a3.4 3.4 0 1 0 -6.8 0M398.08 457.77a3.4 3.4 0 1 0 6.8 0a3.4 3.4 0 1 0 -6.8 0M398.37 455.74a3.4 3.4 0 1 0 6.8 0a3.4 3.4 0 1 0 -6.8 0M399.2 456.43a3.4 3.4 0 1 0 6.8 0a3.4 3.4 0 1 0 -6.8 0M399.74 454.98a3.4 3.4 0 1 0 6.8 0a3.4 3.4 0 1 0 -6.8 0M400.27 453.79a3.4 3.4 0 1 0 6.8 0a3.4 3.4 0 1 0 -6.8 0M400.79 455.39a3.4 3.4 0 1 0 6.8 0a3.4 3.4 0 1 0 -6.8 0M401.04 453.25a3.4 3.4 0 1 0 6.8 0a3.4 3.4 0 1 0 -6.8 0M402.04 452.97a3.4 3.4 0 1 0 6.8 0a3.4 3.4 0 1 0 -6.8 0M402.99 451.4a3.4 3.4 0 1 0 6.8 0a3.4 3.4 0 1 0 -6.8 0M403.68 452.17a3.4 3.4 0 1 0 6.8 0a3.4 3.4 0 1 0 -6.8 0M404.58 449.72a3.4 3.4 0 1 0 6.8 0a3.4 3.4 0 1 0 -6.8 0M405.65 450.23a3.4 3.4 0 1 0 6.8 0a3.4 3.4 0 1 0 -6.8 0M406.07 449.13a3.4 3.4 0 1 0 6.8 0a3.4 3.4 0 1 0 -6.8 0M406.27 450.42a3.4 3.4 0 1 0 6.8 0a3.4 3.4 0 1 0 -6.8 0M406.48 448.94a3.4 3.4 0 1 0 6.8 0a3.4 3.4 0 1 0 -6.8 0M407.47 447.3a3.4 3.4 0 1 0 6.8 0a3.4 3.4 0 1 0 -6.8 0M407.67 448.36a3.4 3.4 0 1 0 6.8 0a3.4 3.4 0 1 0 -6.8 0M408.05 446.8a3.4 3.4 0 1 0 6.8 0a3.4 3.4 0 1 0 -6.8 0M408.24 448.62a3.4 3.4 0 1 0 6.8 0a3.4 3.4 0 1 0 -6.8 0M408.62 446.83a3.4 3.4 0 1 0 6.8 0a3.4 3.4 0 1 0 -6.8 0M408.8 448.34a3.4 3.4 0 1 0 6.8 0a3.4 3.4 0 1 0 -6.8 0M408.99 447.23a3.4 3.4 0 1 0 6.8 0a3.4 3.4 0 1 0 -6.8 0M409.53 445.65a3.4 3.4 0 1 0 6.8 0a3.4 3.4 0 1 0 -6.8 0M409.71 447.32a3.4 3.4 0 1 0 6.8 0a3.4 3.4 0 1 0 -6.8 0M410.06 444.9a3.4 3.4 0 1 0 6.8 0a3.4 3.4 0 1 0 -6.8 0M410.58 446.15a3.4 3.4 0 1 0 6.8 0a3.4 3.4 0 1 0 -6.8 0M410.93 445.16a3.4 3.4 0 1 0 6.8 0a3.4 3.4 0 1 0 -6.8 0M411.59 443.93a3.4 3.4 0 1 0 6.8 0a3.4 3.4 0 1 0 -6.8 0M411.92 445.17a3.4 3.4 0 1 0 6.8 0a3.4 3.4 0 1 0 -6.8 0M412.25 444.16a3.4 3.4 0 1 0 6.8 0a3.4 3.4 0 1 0 -6.8 0M412.41 445.27a3.4 3.4 0 1 0 6.8 0a3.4 3.4 0 1 0 -6.8 0M412.72 443.72a3.4 3.4 0 1 0 6.8 0a3.4 3.4 0 1 0 -6.8 0M412.88 442.52a3.4 3.4 0 1 0 6.8 0a3.4 3.4 0 1 0 -6.8 0M413.19 444.62a3.4 3.4 0 1 0 6.8 0a3.4 3.4 0 1 0 -6.8 0M413.65 443.57a3.4 3.4 0 1 0 6.8 0a3.4 3.4 0 1 0 -6.8 0M414.1 441.89a3.4 3.4 0 1 0 6.8 0a3.4 3.4 0 1 0 -6.8 0M414.54 442.88a3.4 3.4 0 1 0 6.8 0a3.4 3.4 0 1 0 -6.8 0M414.84 440.89a3.4 3.4 0 1 0 6.8 0a3.4 3.4 0 1 0 -6.8 0M415.12 442.04a3.4 3.4 0 1 0 6.8 0a3.4 3.4 0 1 0 -6.8 0M415.41 440.82a3.4 3.4 0 1 0 6.8 0a3.4 3.4 0 1 0 -6.8 0M415.55 442a3.4 3.4 0 1 0 6.8 0a3.4 3.4 0 1 0 -6.8 0M416.24 440.92a3.4 3.4 0 1 0 6.8 0a3.4 3.4 0 1 0 -6.8 0M417.31 439.84a3.4 3.4 0 1 0 6.8 0a3.4 3.4 0 1 0 -6.8 0M417.44 440.87a3.4 3.4 0 1 0 6.8 0a3.4 3.4 0 1 0 -6.8 0M417.95 438.35a3.4 3.4 0 1 0 6.8 0a3.4 3.4 0 1 0 -6.8 0M418.33 439.76a3.4 3.4 0 1 0 6.8 0a3.4 3.4 0 1 0 -6.8 0M418.58 438.39a3.4 3.4 0 1 0 6.8 0a3.4 3.4 0 1 0 -6.8 0M419.32 437.59a3.4 3.4 0 1 0 6.8 0a3.4 3.4 0 1 0 -6.8 0M419.44 438.62a3.4 3.4 0 1 0 6.8 0a3.4 3.4 0 1 0 -6.8 0M419.56 436.67a3.4 3.4 0 1 0 6.8 0a3.4 3.4 0 1 0 -6.8 0M419.79 438.83a3.4 3.4 0 1 0 6.8 0a3.4 3.4 0 1 0 -6.8 0M419.91 437.49a3.4 3.4 0 1 0 6.8 0a3.4 3.4 0 1 0 -6.8 0M420.49 436.22a3.4 3.4 0 1 0 6.8 0a3.4 3.4 0 1 0 -6.8 0M420.61 437.29a3.4 3.4 0 1 0 6.8 0a3.4 3.4 0 1 0 -6.8 0M421.06 435.5a3.4 3.4 0 1 0 6.8 0a3.4 3.4 0 1 0 -6.8 0M421.4 436.57a3.4 3.4 0 1 0 6.8 0a3.4 3.4 0 1 0 -6.8 0M421.73 434.74a3.4 3.4 0 1 0 6.8 0a3.4 3.4 0 1 0 -6.8 0M421.83 436.36a3.4 3.4 0 1 0 6.8 0a3.4 3.4 0 1 0 -6.8 0M422.48 434.43a3.4 3.4 0 1 0 6.8 0a3.4 3.4 0 1 0 -6.8 0M422.58 435.48a3.4 3.4 0 1 0 6.8 0a3.4 3.4 0 1 0 -6.8 0M422.69 433.92a3.4 3.4 0 1 0 6.8 0a3.4 3.4 0 1 0 -6.8 0M422.79 435.54a3.4 3.4 0 1 0 6.8 0a3.4 3.4 0 1 0 -6.8 0M423.11 433.5a3.4 3.4 0 1 0 6.8 0a3.4 3.4 0 1 0 -6.8 0M423.31 434.53a3.4 3.4 0 1 0 6.8 0a3.4 3.4 0 1 0 -6.8 0M423.72 433.17a3.4 3.4 0 1 0 6.8 0a3.4 3.4 0 1 0 -6.8 0M424.32 433.99a3.4 3.4 0 1 0 6.8 0a3.4 3.4 0 1 0 -6.8 0M424.71 432.45a3.4 3.4 0 1 0 6.8 0a3.4 3.4 0 1 0 -6.8 0M424.99 433.51a3.4 3.4 0 1 0 6.8 0a3.4 3.4 0 1 0 -6.8 0M425.09 431.97a3.4 3.4 0 1 0 6.8 0a3.4 3.4 0 1 0 -6.8 0M425.28 433.13a3.4 3.4 0 1 0 6.8 0a3.4 3.4 0 1 0 -6.8 0M425.65 431.94a3.4 3.4 0 1 0 6.8 0a3.4 3.4 0 1 0 -6.8 0M425.93 433.5a3.4 3.4 0 1 0 6.8 0a3.4 3.4 0 1 0 -6.8 0M426.02 431.69a3.4 3.4 0 1 0 6.8 0a3.4 3.4 0 1 0 -6.8 0M426.57 432.79a3.4 3.4 0 1 0 6.8 0a3.4 3.4 0 1 0 -6.8 0M426.75 430.98a3.4 3.4 0 1 0 6.8 0a3.4 3.4 0 1 0 -6.8 0M426.92 432.01a3.4 3.4 0 1 0 6.8 0a3.4 3.4 0 1 0 -6.8 0M427.01 430.52a3.4 3.4 0 1 0 6.8 0a3.4 3.4 0 1 0 -6.8 0M427.62 431.37a3.4 3.4 0 1 0 6.8 0a3.4 3.4 0 1 0 -6.8 0M428.05 430.32a3.4 3.4 0 1 0 6.8 0a3.4 3.4 0 1 0 -6.8 0M428.13 429.29a3.4 3.4 0 1 0 6.8 0a3.4 3.4 0 1 0 -6.8 0M428.55 431.09a3.4 3.4 0 1 0 6.8 0a3.4 3.4 0 1 0 -6.8 0M428.71 429.67a3.4 3.4 0 1 0 6.8 0a3.4 3.4 0 1 0 -6.8 0M428.88 428.54a3.4 3.4 0 1 0 6.8 0a3.4 3.4 0 1 0 -6.8 0M428.96 430.13a3.4 3.4 0 1 0 6.8 0a3.4 3.4 0 1 0 -6.8 0M429.04 428.91a3.4 3.4 0 1 0 6.8 0a3.4 3.4 0 1 0 -6.8 0M429.2 430.62a3.4 3.4 0 1 0 6.8 0a3.4 3.4 0 1 0 -6.8 0M429.44 428.34a3.4 3.4 0 1 0 6.8 0a3.4 3.4 0 1 0 -6.8 0M429.6 429.74a3.4 3.4 0 1 0 6.8 0a3.4 3.4 0 1 0 -6.8 0M429.68 428.16a3.4 3.4 0 1 0 6.8 0a3.4 3.4 0 1 0 -6.8 0M429.92 429.79a3.4 3.4 0 1 0 6.8 0a3.4 3.4 0 1 0 -6.8 0M430.07 428.67a3.4 3.4 0 1 0 6.8 0a3.4 3.4 0 1 0 -6.8 0M430.38 427.22a3.4 3.4 0 1 0 6.8 0a3.4 3.4 0 1 0 -6.8 0M430.46 428.53a3.4 3.4 0 1 0 6.8 0a3.4 3.4 0 1 0 -6.8 0" fill="none" stroke="#3da878" stroke-width="1" />
<path d="M294.17 572.9h7M311.21 552.04h7M321.18 539.83h7M328.25 531.17h7M333.73 524.46h7M338.22 518.97h7M342.01 514.02h7M345.29 509.4h7M348.18 505.32h7M350.77 501.68h7M353.12 498.38h7M355.25 495.37h7M357.22 492.6h7M359.04 489.92h7M360.74 487.42h7M362.33 485.08h7M363.82 482.88h7M365.22 480.81h7M366.55 478.85h7M367.81 477.01h7M369.01 475.34h7M370.15 473.73h7M371.25 472.14h7M372.29 470.72h7M373.3 469.17h7M374.26 468.1h7M375.19 466.94h7M376.08 466.06h7M377.78 465.02h7M379.36 464.41h7M380.12 463.4h7M381.57 463.93h7M382.93 462.48h7M384.23 463.72h7M384.85 461.95h7M386.05 461.76h7M387.19 461.39h7M387.74 462.87h7M388.28 462h7M389.33 460.69h7M390.33 460.62h7M390.82 461.54h7M391.3 460.53h7M392.68 459.2h7M393.98 459.19h7M395.22 459.55h7M396.4 459.46h7M396.78 457.83h7M397.89 458.75h7M398.61 457.78h7M399.64 456.56h7M399.97 455.26h7M400.95 455.96h7M401.27 454.22h7M402.19 454.81h7M402.79 452.93h7M403.38 453.95h7M403.67 452.79h7M403.95 451.51h7M404.51 453.18h7M404.78 451.39h7M405.59 450.58h7M406.11 451.53h7M406.37 450.34h7M406.88 449.27h7M407.37 451.01h7M407.62 448.83h7M408.57 449.61h7M409.49 447.61h7M410.59 446.81h7M411.65 445.03h7M412.06 446.53h7M412.26 444.68h7M412.46 445.93h7M412.86 444.95h7M413.44 443.42h7M413.63 445.46h7M414.01 443.95h7M414.75 442.49h7M414.93 444.39h7M415.11 442.4h7M415.82 441.35h7M416.16 442.86h7M416.34 440.87h7M416.51 442.44h7M417.01 441.55h7M417.99 441.04h7M418.62 439.69h7M418.77 440.79h7M419.23 439.84h7M419.98 438.32h7M420.13 439.72h7M420.56 437.58h7M420.85 438.72h7M421.82 438.15h7M422.09 436.91h7M422.36 435.63h7M422.49 436.91h7M423.02 435.11h7M423.54 436.58h7M423.79 435.08h7M424.53 435.78h7M424.66 434.57h7M425.73 433.55h7M425.84 434.66h7M425.96 432.72h7M426.07 434.18h7M426.19 432.73h7M426.87 433.51h7M427.09 432.16h7M427.2 433.59h7M427.42 432.27h7M427.52 431.17h7M427.63 433.08h7M427.74 431.13h7M428.48 430.27h7M428.58 431.6h7M429.3 429.8h7M429.4 430.9h7M429.7 429.21h7M429.9 430.65h7M430.48 428.69h7M430.95 430.39h7M431.05 428.83h7M431.14 430.08h7M431.33 428.39h7M431.88 427.41h7" stroke="#6cbde8" stroke-width="0.7" fill="none"/>
<path d="M297.67 569.29L301.58 575.55L293.76 575.55zM314.71 548.43L318.62 554.68L310.8 554.68zM324.68 536.22L328.59 542.48L320.77 542.48zM331.75 527.56L335.66 533.82L327.84 533.82zM337.23 520.85L341.14 527.1L333.32 527.1zM341.72 515.36L345.63 521.61L337.81 521.61zM345.51 510.41L349.42 516.67L341.6 516.67zM348.79 505.79L352.7 512.05L344.88 512.05zM351.68 501.71L355.59 507.97L347.77 507.97zM354.27 498.07L358.18 504.33L350.36 504.33zM356.62 494.77L360.53 501.03L352.71 501.03zM358.75 491.76L362.66 498.02L354.84 498.02zM360.72 488.99L364.63 495.25L356.81 495.25zM362.54 486.31L366.45 492.57L358.63 492.57zM364.24 483.81L368.15 490.07L360.33 490.07zM365.83 481.47L369.74 487.73L361.92 487.73zM367.32 479.27L371.23 485.53L363.41 485.53zM368.72 477.2L372.63 483.45L364.81 483.45zM370.05 475.24L373.96 481.49L366.14 481.49zM371.31 473.4L375.22 479.65L367.4 479.65zM372.51 471.73L376.42 477.98L368.6 477.98zM373.65 470.12L377.56 476.38L369.74 476.38zM374.75 468.53L378.66 474.79L370.84 474.79zM375.79 467.11L379.7 473.37L371.88 473.37zM376.8 465.56L380.71 471.82L372.89 471.82zM377.76 464.49L381.67 470.75L373.85 470.75zM378.69 463.33L382.6 469.58L374.78 469.58zM379.58 462.45L383.49 468.71L375.67 468.71zM381.28 461.41L385.19 467.67L377.37 467.67zM382.86 460.8L386.77 467.06L378.95 467.06zM383.62 459.79L387.53 466.05L379.71 466.05zM385.07 460.32L388.98 466.57L381.16 466.57zM386.43 458.87L390.34 465.12L382.52 465.12zM387.73 460.11L391.64 466.37L383.82 466.37zM388.35 458.34L392.26 464.6L384.44 464.6zM389.55 458.15L393.46 464.41L385.64 464.41zM390.69 457.78L394.6 464.04L386.78 464.04zM391.24 459.26L395.15 465.52L387.33 465.52zM391.78 458.39L395.69 464.65L387.87 464.65zM392.83 457.08L396.74 463.34L388.92 463.34zM393.83 457.01L397.74 463.26L389.92 463.26zM394.32 457.93L398.23 464.18L390.41 464.18zM394.8 456.92L398.71 463.18L390.89 463.18zM396.18 455.59L400.09 461.85L392.27 461.85zM397.48 455.58L401.39 461.84L393.57 461.84zM398.72 455.94L402.63 462.2L394.81 462.2zM399.9 455.85L403.81 462.1L395.99 462.1zM400.28 454.22L404.19 460.48L396.37 460.48zM401.39 455.14L405.3 461.4L397.48 461.4zM402.11 454.17L406.02 460.43L398.2 460.43zM403.14 452.95L407.05 459.2L399.23 459.2zM403.47 451.65L407.38 457.91L399.56 457.91zM404.45 452.35L408.36 458.61L400.54 458.61zM404.77 450.61L408.68 456.87L400.86 456.87zM405.69 451.2L409.6 457.45L401.78 457.45zM406.29 449.32L410.2 455.58L402.38 455.58zM406.88 450.34L410.79 456.59L402.97 456.59zM407.17 449.18L411.08 455.43L403.26 455.43zM407.45 447.9L411.36 454.16L403.54 454.16zM408.01 449.57L411.92 455.83L404.1 455.83zM408.28 447.78L412.19 454.04L404.37 454.04zM409.09 446.97L413 453.23L405.18 453.23zM409.61 447.92L413.52 454.18L405.7 454.18zM409.87 446.73L413.78 452.99L405.96 452.99zM410.38 445.66L414.29 451.92L406.47 451.92zM410.87 447.4L414.78 453.66L406.96 453.66zM411.12 445.22L415.03 451.48L407.21 451.48zM412.07 446L415.98 452.26L408.16 452.26zM412.99 444L416.9 450.25L409.08 450.25zM414.09 443.2L418 449.45L410.18 449.45zM415.15 441.42L419.06 447.67L411.24 447.67zM415.56 442.92L419.47 449.17L411.65 449.17zM415.76 441.07L419.67 447.33L411.85 447.33zM415.96 442.32L419.87 448.57L412.05 448.57zM416.36 441.34L420.27 447.59L412.45 447.59zM416.94 439.81L420.85 446.07L413.03 446.07zM417.13 441.85L421.04 448.11L413.22 448.11zM417.51 440.34L421.42 446.59L413.6 446.59zM418.25 438.88L422.16 445.14L414.34 445.14zM418.43 440.78L422.34 447.04L414.52 447.04zM418.61 438.79L422.52 445.05L414.7 445.05zM419.32 437.74L423.23 444L415.41 444zM419.66 439.25L423.57 445.5L415.75 445.5zM419.84 437.26L423.75 443.52L415.93 443.52zM420.01 438.83L423.92 445.08L416.1 445.08zM420.51 437.94L424.42 444.2L416.6 444.2zM421.49 437.43L425.4 443.69L417.58 443.69zM422.12 436.08L426.03 442.33L418.21 442.33zM422.27 437.18L426.18 443.44L418.36 443.44zM422.73 436.23L426.64 442.48L418.82 442.48zM423.48 434.71L427.39 440.97L419.57 440.97zM423.63 436.11L427.54 442.37L419.72 442.37zM424.06 433.97L427.97 440.23L420.15 440.23zM424.35 435.11L428.26 441.37L420.44 441.37zM425.32 434.54L429.23 440.8L421.41 440.8zM425.59 433.3L429.5 439.56L421.68 439.56zM425.86 432.02L429.77 438.27L421.95 438.27zM425.99 433.3L429.9 439.56L422.08 439.56zM426.52 431.5L430.43 437.76L422.61 437.76zM427.04 432.97L430.95 439.22L423.13 439.22zM427.29 431.47L431.2 437.73L423.38 437.73zM428.03 432.17L431.94 438.43L424.12 438.43zM428.16 430.96L432.07 437.21L424.25 437.21zM429.23 429.94L433.14 436.19L425.32 436.19zM429.34 431.05L433.25 437.31L425.43 437.31zM429.46 429.11L433.37 435.37L425.55 435.37zM429.57 430.57L433.48 436.82L425.66 436.82zM429.69 429.12L433.6 435.37L425.78 435.37zM430.37 429.9L434.28 436.15L426.46 436.15zM430.59 428.55L434.5 434.81L426.68 434.81zM430.7 429.98L434.61 436.24L426.79 436.24zM430.92 428.66L434.83 434.92L427.01 434.92zM431.02 427.56L434.93 433.82L427.11 433.82zM431.13 429.47L435.04 435.73L427.22 435.73zM431.24 427.52L435.15 433.78L427.33 433.78zM431.98 426.66L435.89 432.91L428.07 432.91zM432.08 427.99L435.99 434.25L428.17 434.25zM432.8 426.19L436.71 432.45L428.89 432.45zM432.9 427.29L436.81 433.54L428.99 433.54zM433.2 425.6L437.11 431.86L429.29 431.86zM433.4 427.04L437.31 433.29L429.49 433.29zM433.98 425.08L437.89 431.34L430.07 431.34zM434.45 426.78L438.36 433.04L430.54 433.04zM434.55 425.22L438.46 431.48L430.64 431.48zM434.64 426.47L438.55 432.73L430.73 432.73zM434.83 424.78L438.74 431.04L430.92 431.04zM435.38 423.8L439.29 430.06L431.47 430.06z" fill="none" stroke="#6cbde8" stroke-width="1" />
<path d="M299.85 566.31h7M316.89 545.95h7M326.86 534.04h7M333.93 525.59h7M339.41 519.04h7M343.9 513.68h7M347.68 509.16h7M350.97 505.11h7M353.86 500.37h7M356.45 496.13h7M358.8 492.3h7M360.93 488.8h7M362.9 485.58h7M364.72 482.35h7M366.42 479.34h7M368.01 476.52h7M369.5 473.88h7M370.9 471.89h7M372.23 470.01h7M373.49 468.22h7M374.69 466.58h7M375.83 465h7M376.93 463.6h7M377.97 462.49h7M378.98 461.62h7M380.87 461.17h7M382.62 460.87h7M384.26 460.4h7M385.8 460.8h7M386.53 459.76h7M387.94 459.72h7M389.27 460.1h7M390.53 460.25h7M391.14 459.28h7M392.31 459.6h7M392.87 460.8h7M393.96 459.73h7M395.01 459.05h7M395.52 460.89h7M396.01 459.06h7M396.98 458.67h7M398.36 457.33h7M399.66 456.71h7M400.9 456.21h7M402.08 456.96h7M402.46 455.29h7M403.21 454.5h7M403.93 455.81h7M404.28 454.87h7M404.63 453.86h7M405.65 452.98h7M406.31 453.92h7M406.63 452.53h7M407.26 451.12h7M408.17 450.38h7M408.47 451.93h7M408.77 449.98h7M409.34 451.41h7M410.19 449.76h7M411.27 449.37h7M411.53 447.91h7M412.05 448.95h7M412.3 447.21h7M412.81 446.33h7M413.05 448.22h7M413.3 446.54h7M413.54 448.03h7M414.02 446h7M414.94 444.81h7M415.17 446.33h7M415.62 445.37h7M416.7 444.1h7M416.91 445.18h7M417.12 442.99h7M417.74 444.33h7M418.34 441.75h7M418.54 443.27h7M418.73 441.37h7M419.31 442.79h7M419.5 441.01h7M419.88 442.31h7M420.25 440.72h7M421.15 441.24h7M421.5 439.89h7M422.02 438.81h7M422.19 440.16h7M422.69 439.22h7M423.02 437.75h7M423.67 438.95h7M423.98 437.14h7M424.76 438.39h7M425.06 436.79h7M425.66 435.64h7M425.8 436.96h7M426.24 435.39h7M426.81 436.61h7M426.95 435.54h7M427.23 434.13h7M427.36 435.41h7M427.5 433.48h7M427.64 435.53h7M427.77 434.52h7M427.91 433.26h7M428.04 434.26h7M428.7 433.03h7M429.59 432.38h7M430.34 431.18h7M430.7 432.3h7M430.94 430.9h7M431.17 432.27h7M431.52 430.61h7" stroke="#e09a2a" stroke-width="0.7" fill="none"/>
<path d="M303.35 570.52L307.26 564.26L299.44 564.26zM320.39 550.16L324.3 543.91L316.48 543.91zM330.36 538.25L334.27 532L326.45 532zM337.43 529.8L341.34 523.55L333.52 523.55zM342.91 523.25L346.82 516.99L339 516.99zM347.4 517.89L351.31 511.64L343.49 511.64zM351.18 513.37L355.09 507.11L347.27 507.11zM354.47 509.32L358.38 503.06L350.56 503.06zM357.36 504.58L361.27 498.33L353.45 498.33zM359.95 500.34L363.86 494.09L356.04 494.09zM362.3 496.51L366.21 490.25L358.39 490.25zM364.43 493.01L368.34 486.75L360.52 486.75zM366.4 489.79L370.31 483.53L362.49 483.53zM368.22 486.56L372.13 480.3L364.31 480.3zM369.92 483.55L373.83 477.29L366.01 477.29zM371.51 480.73L375.42 474.48L367.6 474.48zM373 478.09L376.91 471.84L369.09 471.84zM374.4 476.1L378.31 469.85L370.49 469.85zM375.73 474.22L379.64 467.96L371.82 467.96zM376.99 472.43L380.9 466.18L373.08 466.18zM378.19 470.79L382.1 464.54L374.28 464.54zM379.33 469.21L383.24 462.95L375.42 462.95zM380.43 467.81L384.34 461.55L376.52 461.55zM381.47 466.7L385.38 460.44L377.56 460.44zM382.48 465.83L386.39 459.57L378.57 459.57zM384.37 465.38L388.28 459.12L380.46 459.12zM386.12 465.08L390.03 458.82L382.21 458.82zM387.76 464.61L391.67 458.36L383.85 458.36zM389.3 465.01L393.21 458.75L385.39 458.75zM390.03 463.97L393.94 457.71L386.12 457.71zM391.44 463.93L395.35 457.67L387.53 457.67zM392.77 464.31L396.68 458.05L388.86 458.05zM394.03 464.46L397.94 458.2L390.12 458.2zM394.64 463.49L398.55 457.24L390.73 457.24zM395.81 463.81L399.72 457.55L391.9 457.55zM396.37 465.01L400.28 458.75L392.46 458.75zM397.46 463.94L401.37 457.69L393.55 457.69zM398.51 463.26L402.42 457.01L394.6 457.01zM399.02 465.1L402.93 458.85L395.11 458.85zM399.51 463.27L403.42 457.01L395.6 457.01zM400.48 462.88L404.39 456.62L396.57 456.62zM401.86 461.54L405.77 455.28L397.95 455.28zM403.16 460.92L407.07 454.66L399.25 454.66zM404.4 460.42L408.31 454.17L400.49 454.17zM405.58 461.17L409.49 454.91L401.67 454.91zM405.96 459.5L409.87 453.25L402.05 453.25zM406.71 458.71L410.62 452.45L402.8 452.45zM407.43 460.02L411.34 453.77L403.52 453.77zM407.78 459.08L411.69 452.82L403.87 452.82zM408.13 458.07L412.04 451.82L404.22 451.82zM409.15 457.19L413.06 450.93L405.24 450.93zM409.81 458.13L413.72 451.88L405.9 451.88zM410.13 456.74L414.04 450.49L406.22 450.49zM410.76 455.33L414.67 449.07L406.85 449.07zM411.67 454.59L415.58 448.34L407.76 448.34zM411.97 456.14L415.88 449.88L408.06 449.88zM412.27 454.19L416.18 447.93L408.36 447.93zM412.84 455.62L416.75 449.36L408.93 449.36zM413.69 453.97L417.6 447.71L409.78 447.71zM414.77 453.58L418.68 447.33L410.86 447.33zM415.03 452.12L418.94 445.86L411.12 445.86zM415.55 453.16L419.46 446.91L411.64 446.91zM415.8 451.42L419.71 445.17L411.89 445.17zM416.31 450.54L420.22 444.29L412.4 444.29zM416.55 452.43L420.46 446.17L412.64 446.17zM416.8 450.75L420.71 444.5L412.89 444.5zM417.04 452.24L420.95 445.98L413.13 445.98zM417.52 450.21L421.43 443.95L413.61 443.95zM418.44 449.02L422.35 442.76L414.53 442.76zM418.67 450.54L422.58 444.28L414.76 444.28zM419.12 449.58L423.03 443.33L415.21 443.33zM420.2 448.31L424.11 442.05L416.29 442.05zM420.41 449.39L424.32 443.13L416.5 443.13zM420.62 447.2L424.53 440.94L416.71 440.94zM421.24 448.54L425.15 442.28L417.33 442.28zM421.84 445.96L425.75 439.7L417.93 439.7zM422.04 447.48L425.95 441.22L418.13 441.22zM422.23 445.58L426.14 439.32L418.32 439.32zM422.81 447L426.72 440.74L418.9 440.74zM423 445.22L426.91 438.97L419.09 438.97zM423.38 446.52L427.29 440.27L419.47 440.27zM423.75 444.93L427.66 438.67L419.84 438.67zM424.65 445.45L428.56 439.2L420.74 439.2zM425 444.1L428.91 437.84L421.09 437.84zM425.52 443.02L429.43 436.76L421.61 436.76zM425.69 444.37L429.6 438.11L421.78 438.11zM426.19 443.43L430.1 437.18L422.28 437.18zM426.52 441.96L430.43 435.7L422.61 435.7zM427.17 443.16L431.08 436.9L423.26 436.9zM427.48 441.35L431.39 435.09L423.57 435.09zM428.26 442.6L432.17 436.34L424.35 436.34zM428.56 441L432.47 434.74L424.65 434.74zM429.16 439.85L433.07 433.59L425.25 433.59zM429.3 441.17L433.21 434.92L425.39 434.92zM429.74 439.6L433.65 433.35L425.83 433.35zM430.31 440.82L434.22 434.56L426.4 434.56zM430.45 439.75L434.36 433.49L426.54 433.49zM430.73 438.34L434.64 432.09L426.82 432.09zM430.86 439.62L434.77 433.36L426.95 433.36zM431 437.69L434.91 431.43L427.09 431.43zM431.14 439.74L435.05 433.48L427.23 433.48zM431.27 438.73L435.18 432.47L427.36 432.47zM431.41 437.47L435.32 431.21L427.5 431.21zM431.54 438.47L435.45 432.22L427.63 432.22zM432.2 437.24L436.11 430.99L428.29 430.99zM433.09 436.59L437 430.34L429.18 430.34zM433.84 435.39L437.75 429.13L429.93 429.13zM434.2 436.51L438.11 430.26L430.29 430.26zM434.44 435.11L438.35 428.85L430.53 428.85zM434.67 436.48L438.58 430.23L430.76 430.23zM435.02 434.82L438.93 428.57L431.11 428.57z" fill="none" stroke="#e09a2a" stroke-width="1" />
<path d="M305.53 561.21h7M322.57 540.73h7M332.54 528.75h7M339.61 520.24h7M345.09 512.8h7M349.57 505.92h7M353.36 500.1h7M356.65 494.85h7M359.54 490.11h7M362.13 485.95h7M364.47 481.66h7M366.61 477.31h7M368.58 473.93h7M370.4 471.23h7M372.1 469.06h7M373.68 467.07h7M375.17 465.2h7M376.58 463.54h7M377.91 462.1h7M379.17 461.11h7M380.37 460.64h7M381.51 460.11h7M382.6 459.7h7M383.65 459.14h7M384.65 458.93h7M386.55 459.18h7M388.3 459.5h7M389.14 460.13h7M390.72 460.08h7M391.48 461.2h7M392.92 459.95h7M394.29 460.65h7M395.58 459.56h7M396.81 459.74h7M397.98 458.91h7M399.1 459.08h7M400.17 458.22h7M401.2 457.66h7M401.69 459.05h7M402.18 457.82h7M403.12 456.59h7M404.48 455.2h7M405.76 455.12h7M406.58 454.38h7M407.37 453.33h7M408.52 453.16h7M409.61 451.97h7M410.66 451.59h7M411.33 450.82h7M411.98 449.28h7M412.94 450.4h7M413.55 449.5h7M414.74 447.15h7M415.59 448.36h7M415.87 447.3h7M416.68 445.39h7M416.95 446.68h7M417.73 444.77h7M418.73 445.38h7M419.46 444.02h7M419.69 442.88h7M419.93 444.02h7M420.16 442.5h7M421.07 441.68h7M421.73 443.16h7M422.17 440.83h7M422.38 441.84h7M423.21 439.68h7M423.62 440.67h7M423.82 439.29h7M424.22 440.46h7M424.41 439.41h7M424.99 438.38h7M425.18 440h7M425.37 438.88h7M426.11 437.54h7M426.29 438.89h7M426.47 437.46h7M427.18 438.36h7M427.35 436.89h7M427.52 438h7M427.86 435.93h7M428.7 434.95h7M428.86 436.9h7M429.5 435.72h7M429.82 434.33h7M430.89 434.84h7M431.34 433.47h7M431.48 434.74h7M431.63 433.54h7M431.92 432.08h7" stroke="#e3e54a" stroke-width="0.7" fill="none"/>
<path d="M309.03 557.26L313.28 561.51L309.03 565.76L304.78 561.51zM326.07 536.78L330.32 541.03L326.07 545.28L321.82 541.03zM336.04 524.8L340.29 529.05L336.04 533.3L331.79 529.05zM343.11 516.29L347.36 520.54L343.11 524.79L338.86 520.54zM348.59 508.85L352.84 513.1L348.59 517.35L344.34 513.1zM353.07 501.97L357.32 506.22L353.07 510.47L348.82 506.22zM356.86 496.15L361.11 500.4L356.86 504.65L352.61 500.4zM360.15 490.9L364.4 495.15L360.15 499.4L355.9 495.15zM363.04 486.16L367.29 490.41L363.04 494.66L358.79 490.41zM365.63 482L369.88 486.25L365.63 490.5L361.38 486.25zM367.97 477.71L372.22 481.96L367.97 486.21L363.72 481.96zM370.11 473.36L374.36 477.61L370.11 481.86L365.86 477.61zM372.08 469.98L376.33 474.23L372.08 478.48L367.83 474.23zM373.9 467.28L378.15 471.53L373.9 475.78L369.65 471.53zM375.6 465.11L379.85 469.36L375.6 473.61L371.35 469.36zM377.18 463.12L381.43 467.37L377.18 471.62L372.93 467.37zM378.67 461.25L382.92 465.5L378.67 469.75L374.42 465.5zM380.08 459.59L384.33 463.84L380.08 468.09L375.83 463.84zM381.41 458.15L385.66 462.4L381.41 466.65L377.16 462.4zM382.67 457.16L386.92 461.41L382.67 465.66L378.42 461.41zM383.87 456.69L388.12 460.94L383.87 465.19L379.62 460.94zM385.01 456.16L389.26 460.41L385.01 464.66L380.76 460.41zM386.1 455.75L390.35 460L386.1 464.25L381.85 460zM387.15 455.19L391.4 459.44L387.15 463.69L382.9 459.44zM388.15 454.98L392.4 459.23L388.15 463.48L383.9 459.23zM390.05 455.23L394.3 459.48L390.05 463.73L385.8 459.48zM391.8 455.55L396.05 459.8L391.8 464.05L387.55 459.8zM392.64 456.18L396.89 460.43L392.64 464.68L388.39 460.43zM394.22 456.13L398.47 460.38L394.22 464.63L389.97 460.38zM394.98 457.25L399.23 461.5L394.98 465.75L390.73 461.5zM396.42 456L400.67 460.25L396.42 464.5L392.17 460.25zM397.79 456.7L402.04 460.95L397.79 465.2L393.54 460.95zM399.08 455.61L403.33 459.86L399.08 464.11L394.83 459.86zM400.31 455.79L404.56 460.04L400.31 464.29L396.06 460.04zM401.48 454.96L405.73 459.21L401.48 463.46L397.23 459.21zM402.6 455.13L406.85 459.38L402.6 463.63L398.35 459.38zM403.67 454.27L407.92 458.52L403.67 462.77L399.42 458.52zM404.7 453.71L408.95 457.96L404.7 462.21L400.45 457.96zM405.19 455.1L409.44 459.35L405.19 463.6L400.94 459.35zM405.68 453.87L409.93 458.12L405.68 462.37L401.43 458.12zM406.62 452.64L410.87 456.89L406.62 461.14L402.37 456.89zM407.98 451.25L412.23 455.5L407.98 459.75L403.73 455.5zM409.26 451.17L413.51 455.42L409.26 459.67L405.01 455.42zM410.08 450.43L414.33 454.68L410.08 458.93L405.83 454.68zM410.87 449.38L415.12 453.63L410.87 457.88L406.62 453.63zM412.02 449.21L416.27 453.46L412.02 457.71L407.77 453.46zM413.11 448.02L417.36 452.27L413.11 456.52L408.86 452.27zM414.16 447.64L418.41 451.89L414.16 456.14L409.91 451.89zM414.83 446.87L419.08 451.12L414.83 455.37L410.58 451.12zM415.48 445.33L419.73 449.58L415.48 453.83L411.23 449.58zM416.44 446.45L420.69 450.7L416.44 454.95L412.19 450.7zM417.05 445.55L421.3 449.8L417.05 454.05L412.8 449.8zM418.24 443.2L422.49 447.45L418.24 451.7L413.99 447.45zM419.09 444.41L423.34 448.66L419.09 452.91L414.84 448.66zM419.37 443.35L423.62 447.6L419.37 451.85L415.12 447.6zM420.18 441.44L424.43 445.69L420.18 449.94L415.93 445.69zM420.45 442.73L424.7 446.98L420.45 451.23L416.2 446.98zM421.23 440.82L425.48 445.07L421.23 449.32L416.98 445.07zM422.23 441.43L426.48 445.68L422.23 449.93L417.98 445.68zM422.96 440.07L427.21 444.32L422.96 448.57L418.71 444.32zM423.19 438.93L427.44 443.18L423.19 447.43L418.94 443.18zM423.43 440.07L427.68 444.32L423.43 448.57L419.18 444.32zM423.66 438.55L427.91 442.8L423.66 447.05L419.41 442.8zM424.57 437.73L428.82 441.98L424.57 446.23L420.32 441.98zM425.23 439.21L429.48 443.46L425.23 447.71L420.98 443.46zM425.67 436.88L429.92 441.13L425.67 445.38L421.42 441.13zM425.88 437.89L430.13 442.14L425.88 446.39L421.63 442.14zM426.71 435.73L430.96 439.98L426.71 444.23L422.46 439.98zM427.12 436.72L431.37 440.97L427.12 445.22L422.87 440.97zM427.32 435.34L431.57 439.59L427.32 443.84L423.07 439.59zM427.72 436.51L431.97 440.76L427.72 445.01L423.47 440.76zM427.91 435.46L432.16 439.71L427.91 443.96L423.66 439.71zM428.49 434.43L432.74 438.68L428.49 442.93L424.24 438.68zM428.68 436.05L432.93 440.3L428.68 444.55L424.43 440.3zM428.87 434.93L433.12 439.18L428.87 443.43L424.62 439.18zM429.61 433.59L433.86 437.84L429.61 442.09L425.36 437.84zM429.79 434.94L434.04 439.19L429.79 443.44L425.54 439.19zM429.97 433.51L434.22 437.76L429.97 442.01L425.72 437.76zM430.68 434.41L434.93 438.66L430.68 442.91L426.43 438.66zM430.85 432.94L435.1 437.19L430.85 441.44L426.6 437.19zM431.02 434.05L435.27 438.3L431.02 442.55L426.77 438.3zM431.36 431.98L435.61 436.23L431.36 440.48L427.11 436.23zM432.2 431L436.45 435.25L432.2 439.5L427.95 435.25zM432.36 432.95L436.61 437.2L432.36 441.45L428.11 437.2zM433 431.77L437.25 436.02L433 440.27L428.75 436.02zM433.32 430.38L437.57 434.63L433.32 438.88L429.07 434.63zM434.39 430.89L438.64 435.14L434.39 439.39L430.14 435.14zM434.84 429.52L439.09 433.77L434.84 438.02L430.59 433.77zM434.98 430.79L439.23 435.04L434.98 439.29L430.73 435.04zM435.13 429.59L439.38 433.84L435.13 438.09L430.88 433.84zM435.42 428.13L439.67 432.38L435.42 436.63L431.17 432.38z" fill="none" stroke="#e3e54a" stroke-width="1" />
<path d="M318.92 539.41h7M335.96 519.23h7M345.93 506.53h7M353 497.99h7M358.49 489.58h7M362.97 483.27h7M366.76 477.06h7M370.04 471.88h7M372.93 467.95h7M375.52 463.61h7M377.87 462.33h7M380.01 461.09h7M381.97 460.28h7M383.8 459.7h7M385.49 459.51h7M387.08 459.57h7M388.57 459.92h7M389.97 459.4h7M391.3 460.52h7M392.56 461.15h7M393.76 461.02h7M394.91 460.18h7M396 459.84h7M397.04 459.54h7M398.05 458.84h7M399.01 459.9h7M399.94 458.88h7M400.83 458.09h7M401.7 459.01h7M402.53 457.06h7M403.34 458.05h7M404.87 457.89h7M405.61 456.35h7M406.32 457.14h7M407.01 456.18h7M408.34 453.79h7M408.98 455.02h7M409.6 454.04h7M410.21 452.82h7M411.38 453.57h7M412.5 452.95h7M413.04 450.68h7M414.08 451.68h7M415.09 448.78h7M415.57 450.49h7M416.52 448.59h7M417.43 447.49h7M418.73 447.05h7M419.16 445.53h7M419.97 444.66h7M420.77 445.63h7M421.54 443.18h7M422.28 444.93h7M422.64 443.67h7M423.71 442.74h7M424.39 441.67h7M425.05 440.51h7M426.02 440.01h7M426.64 439.04h7M426.95 440.45h7M427.25 439.41h7M427.54 438.44h7M427.84 439.99h7M428.13 439h7M428.42 437.26h7M428.7 438.48h7M428.98 436.85h7M429.26 437.93h7M430.34 435.67h7M431.38 436.18h7" stroke="#3d7ab5" stroke-width="0.7" fill="none"/>
<path d="M322.42 543.45L318.87 540.86L320.23 536.68L324.62 536.68L325.98 540.86zM339.46 523.27L335.91 520.68L337.26 516.5L341.66 516.5L343.02 520.68zM349.43 510.57L345.87 507.99L347.23 503.81L351.63 503.81L352.99 507.99zM356.5 502.03L352.94 499.45L354.3 495.26L358.7 495.26L360.06 499.45zM361.99 493.62L358.43 491.04L359.79 486.86L364.18 486.86L365.54 491.04zM366.47 487.31L362.91 484.73L364.27 480.55L368.67 480.55L370.03 484.73zM370.26 481.1L366.7 478.51L368.06 474.33L372.46 474.33L373.81 478.51zM373.54 475.92L369.98 473.33L371.34 469.15L375.74 469.15L377.1 473.33zM376.43 471.99L372.88 469.4L374.24 465.22L378.63 465.22L379.99 469.4zM379.02 467.65L375.47 465.07L376.83 460.89L381.22 460.89L382.58 465.07zM381.37 466.37L377.81 463.79L379.17 459.61L383.57 459.61L384.92 463.79zM383.51 465.13L379.95 462.54L381.31 458.36L385.7 458.36L387.06 462.54zM385.47 464.32L381.92 461.73L383.28 457.55L387.67 457.55L389.03 461.73zM387.3 463.74L383.74 461.16L385.1 456.98L389.49 456.98L390.85 461.16zM388.99 463.55L385.43 460.96L386.79 456.78L391.19 456.78L392.55 460.96zM390.58 463.61L387.02 461.03L388.38 456.84L392.78 456.84L394.13 461.03zM392.07 463.96L388.51 461.38L389.87 457.19L394.27 457.19L395.63 461.38zM393.47 463.44L389.92 460.86L391.27 456.68L395.67 456.68L397.03 460.86zM394.8 464.56L391.25 461.97L392.6 457.79L397 457.79L398.36 461.97zM396.06 465.19L392.51 462.61L393.86 458.43L398.26 458.43L399.62 462.61zM397.26 465.06L393.71 462.48L395.06 458.29L399.46 458.29L400.82 462.48zM398.41 464.22L394.85 461.63L396.21 457.45L400.6 457.45L401.96 461.63zM399.5 463.88L395.94 461.3L397.3 457.11L401.7 457.11L403.06 461.3zM400.54 463.58L396.99 461L398.35 456.82L402.74 456.82L404.1 461zM401.55 462.88L397.99 460.3L399.35 456.12L403.75 456.12L405.11 460.3zM402.51 463.94L398.96 461.36L400.31 457.18L404.71 457.18L406.07 461.36zM403.44 462.92L399.88 460.33L401.24 456.15L405.64 456.15L407 460.33zM404.33 462.13L400.78 459.54L402.14 455.36L406.53 455.36L407.89 459.54zM405.2 463.05L401.64 460.46L403 456.28L407.39 456.28L408.75 460.46zM406.03 461.1L402.47 458.52L403.83 454.34L408.23 454.34L409.59 458.52zM406.84 462.09L403.28 459.51L404.64 455.33L409.03 455.33L410.39 459.51zM408.37 461.93L404.82 459.34L406.17 455.16L410.57 455.16L411.93 459.34zM409.11 460.39L405.55 457.81L406.91 453.62L411.3 453.62L412.66 457.81zM409.82 461.18L406.26 458.59L407.62 454.41L412.02 454.41L413.38 458.59zM410.51 460.22L406.95 457.64L408.31 453.46L412.71 453.46L414.07 457.64zM411.84 457.83L408.28 455.24L409.64 451.06L414.04 451.06L415.4 455.24zM412.48 459.06L408.92 456.48L410.28 452.29L414.68 452.29L416.04 456.48zM413.1 458.08L409.54 455.5L410.9 451.32L415.3 451.32L416.66 455.5zM413.71 456.86L410.15 454.27L411.51 450.09L415.91 450.09L417.27 454.27zM414.88 457.61L411.32 455.02L412.68 450.84L417.08 450.84L418.44 455.02zM416 456.99L412.44 454.41L413.8 450.23L418.19 450.23L419.55 454.41zM416.54 454.72L412.98 452.14L414.34 447.96L418.74 447.96L420.09 452.14zM417.58 455.72L414.03 453.14L415.38 448.95L419.78 448.95L421.14 453.14zM418.59 452.82L415.03 450.24L416.39 446.06L420.78 446.06L422.14 450.24zM419.07 454.53L415.52 451.94L416.88 447.76L421.27 447.76L422.63 451.94zM420.02 452.63L416.46 450.05L417.82 445.87L422.22 445.87L423.58 450.05zM420.93 451.53L417.37 448.95L418.73 444.77L423.13 444.77L424.49 448.95zM422.23 451.09L418.68 448.5L420.04 444.32L424.43 444.32L425.79 448.5zM422.66 449.57L419.1 446.98L420.46 442.8L424.85 442.8L426.21 446.98zM423.47 448.7L419.92 446.11L421.28 441.93L425.67 441.93L427.03 446.11zM424.27 449.67L420.71 447.09L422.07 442.91L426.47 442.91L427.82 447.09zM425.04 447.22L421.48 444.63L422.84 440.45L427.23 440.45L428.59 444.63zM425.78 448.97L422.22 446.39L423.58 442.21L427.98 442.21L429.34 446.39zM426.14 447.71L422.59 445.13L423.95 440.94L428.34 440.94L429.7 445.13zM427.21 446.78L423.65 444.19L425.01 440.01L429.4 440.01L430.76 444.19zM427.89 445.71L424.33 443.12L425.69 438.94L430.09 438.94L431.45 443.12zM428.55 444.55L425 441.97L426.35 437.79L430.75 437.79L432.11 441.97zM429.52 444.05L425.96 441.46L427.32 437.28L431.72 437.28L433.07 441.46zM430.14 443.08L426.58 440.5L427.94 436.32L432.34 436.32L433.7 440.5zM430.45 444.49L426.89 441.9L428.25 437.72L432.64 437.72L434 441.9zM430.75 443.45L427.19 440.87L428.55 436.69L432.95 436.69L434.3 440.87zM431.04 442.48L427.49 439.9L428.85 435.72L433.24 435.72L434.6 439.9zM431.34 444.03L427.78 441.45L429.14 437.27L433.54 437.27L434.9 441.45zM431.63 443.04L428.07 440.45L429.43 436.27L433.83 436.27L435.19 440.45zM431.92 441.3L428.36 438.72L429.72 434.54L434.12 434.54L435.47 438.72zM432.2 442.52L428.64 439.93L430 435.75L434.4 435.75L435.76 439.93zM432.48 440.89L428.93 438.3L430.28 434.12L434.68 434.12L436.04 438.3zM432.76 441.97L429.2 439.38L430.56 435.2L434.96 435.2L436.32 439.38zM433.84 439.71L430.28 437.12L431.64 432.94L436.04 432.94L437.4 437.12zM434.88 440.22L431.32 437.64L432.68 433.46L437.07 433.46L438.43 437.64z" fill="none" stroke="#3d7ab5" stroke-width="1" />
<path d="M282 582.4L434.3 430.5" fill="none" stroke="#111" stroke-width="1" />
<rect x="264.5" y="413.4" width="169.8" height="169" fill="none" stroke="#262626" stroke-width="1.1"/>
<path d="M264.5 582.4v-7M264.5 413.4v7M321.1 582.4v-7M321.1 413.4v7M377.7 582.4v-7M377.7 413.4v7M434.3 582.4v-7M434.3 413.4v7" stroke="#262626" stroke-width="1.1" fill="none"/>
<path d="M281.54 582.4v-3.5M281.54 413.4v3.5M291.51 582.4v-3.5M291.51 413.4v3.5M298.58 582.4v-3.5M298.58 413.4v3.5M304.06 582.4v-3.5M304.06 413.4v3.5M308.54 582.4v-3.5M308.54 413.4v3.5M312.33 582.4v-3.5M312.33 413.4v3.5M315.61 582.4v-3.5M315.61 413.4v3.5M318.51 582.4v-3.5M318.51 413.4v3.5M338.14 582.4v-3.5M338.14 413.4v3.5M348.11 582.4v-3.5M348.11 413.4v3.5M355.18 582.4v-3.5M355.18 413.4v3.5M360.66 582.4v-3.5M360.66 413.4v3.5M365.14 582.4v-3.5M365.14 413.4v3.5M368.93 582.4v-3.5M368.93 413.4v3.5M372.21 582.4v-3.5M372.21 413.4v3.5M375.11 582.4v-3.5M375.11 413.4v3.5M394.74 582.4v-3.5M394.74 413.4v3.5M404.71 582.4v-3.5M404.71 413.4v3.5M411.78 582.4v-3.5M411.78 413.4v3.5M417.26 582.4v-3.5M417.26 413.4v3.5M421.74 582.4v-3.5M421.74 413.4v3.5M425.53 582.4v-3.5M425.53 413.4v3.5M428.81 582.4v-3.5M428.81 413.4v3.5M431.71 582.4v-3.5M431.71 413.4v3.5" stroke="#262626" stroke-width="1.1" fill="none"/>
<path d="M264.5 430.3h7M434.3 430.3h-7M264.5 464.1h7M434.3 464.1h-7M264.5 497.9h7M434.3 497.9h-7M264.5 531.7h7M434.3 531.7h-7M264.5 565.5h7M434.3 565.5h-7" stroke="#262626" stroke-width="1.1" fill="none"/>
<path d="M264.5 413.4h3.5M434.3 413.4h-3.5M264.5 447.2h3.5M434.3 447.2h-3.5M264.5 481h3.5M434.3 481h-3.5M264.5 514.8h3.5M434.3 514.8h-3.5M264.5 548.6h3.5M434.3 548.6h-3.5M264.5 582.4h3.5M434.3 582.4h-3.5" stroke="#262626" stroke-width="1.1" fill="none"/>
<text x="261" y="433.9" font-size="10" text-anchor="end" font-family="Liberation Sans, sans-serif" fill="#111" stroke="#111" stroke-width="0.12" >10<tspan dy="-4.2" font-size="8"><tspan font-size="6">-</tspan>4</tspan></text>
<text x="261" y="467.7" font-size="10" text-anchor="end" font-family="Liberation Sans, sans-serif" fill="#111" stroke="#111" stroke-width="0.12" >10<tspan dy="-4.2" font-size="8"><tspan font-size="6">-</tspan>6</tspan></text>
<text x="261" y="501.5" font-size="10" text-anchor="end" font-family="Liberation Sans, sans-serif" fill="#111" stroke="#111" stroke-width="0.12" >10<tspan dy="-4.2" font-size="8"><tspan font-size="6">-</tspan>8</tspan></text>
<text x="261" y="535.3" font-size="10" text-anchor="end" font-family="Liberation Sans, sans-serif" fill="#111" stroke="#111" stroke-width="0.12" >10<tspan dy="-4.2" font-size="8"><tspan font-size="6">-</tspan>10</tspan></text>
<text x="261" y="569.1" font-size="10" text-anchor="end" font-family="Liberation Sans, sans-serif" fill="#111" stroke="#111" stroke-width="0.12" >10<tspan dy="-4.2" font-size="8"><tspan font-size="6">-</tspan>12</tspan></text>
<text x="265.5" y="596" font-size="10" text-anchor="middle" font-family="Liberation Sans, sans-serif" fill="#111" stroke="#111" stroke-width="0.12" >10<tspan dy="-4.2" font-size="8"><tspan font-size="6">-</tspan>2</tspan></text>
<text x="322.1" y="596" font-size="10" text-anchor="middle" font-family="Liberation Sans, sans-serif" fill="#111" stroke="#111" stroke-width="0.12" >10<tspan dy="-4.2" font-size="8"><tspan font-size="6">-</tspan>1</tspan></text>
<text x="378.7" y="596" font-size="10" text-anchor="middle" font-family="Liberation Sans, sans-serif" fill="#111" stroke="#111" stroke-width="0.12" >10<tspan dy="-4.2" font-size="8">0</tspan></text>
<text x="435.3" y="596" font-size="10" text-anchor="middle" font-family="Liberation Sans, sans-serif" fill="#111" stroke="#111" stroke-width="0.12" >10<tspan dy="-4.2" font-size="8">1</tspan></text>
<text x="230.2" y="423.8" font-size="15" text-anchor="start" font-family="Liberation Sans, sans-serif" fill="#111" font-weight="bold">h</text>
<text x="333.9" y="546.5" font-size="12" textLength="29.5" lengthAdjust="spacingAndGlyphs" font-family="Liberation Serif, serif" fill="#111">2<tspan font-style="italic">α</tspan> + 1</text>
<path d="M506.88 564.92h7M512.68 561.41h7M517.79 558.32h7M522.37 555.56h7M526.51 552.75h7M530.29 548.57h7M533.76 544.71h7M536.98 541.15h7M539.98 537.83h7M542.78 534.64h7M545.41 531.45h7M547.9 528.44h7M550.24 525.6h7M552.47 522.84h7M554.59 520.54h7M556.61 518.11h7M558.54 516.68h7M560.39 515.66h7M562.16 515.15h7M563.87 513.06h7M565.51 512.17h7M567.08 512.96h7M568.61 510.38h7M570.08 509.55h7M571.51 511.26h7M572.88 510.33h7M574.22 508.07h7M575.52 510.97h7M576.78 513.43h7M578 517.47h7M579.19 517.4h7M580.35 520.05h7M581.48 525.86h7M582.58 526.1h7M583.65 529.04h7M584.69 528.61h7M585.72 535.53h7M586.71 532.89h7M587.69 535.37h7M588.64 529.55h7M589.58 536.42h7M590.49 535.15h7M591.39 541.38h7M592.27 537.47h7M593.13 541.14h7M593.97 533.83h7M594.8 538.52h7M595.61 535.85h7M596.41 545.59h7M597.19 536.48h7M597.96 547.3h7M598.71 541.91h7M599.45 546.43h7M600.9 544.54h7M601.61 540.27h7M602.3 546.15h7M603.66 547.53h7M604.32 551.67h7M605.62 544.67h7M606.25 545.53h7M606.88 543.24h7M607.49 549.95h7M608.1 552.94h7M608.7 550.85h7M609.29 544.63h7M609.88 549.36h7M610.45 550.45h7M611.02 545.89h7M612.13 553.52h7M612.68 552.31h7M613.22 549.9h7M613.75 554.09h7M614.28 550.37h7M614.8 547.94h7M615.31 554.02h7M615.82 547.63h7M616.32 554.96h7M616.82 552.34h7M617.31 556.02h7M617.79 554.82h7M618.27 556.32h7M618.75 552.74h7M619.22 547.46h7M619.68 551.67h7M620.14 549.46h7M620.6 553.94h7M621.05 556.04h7M621.49 554.4h7M622.37 557.04h7M622.8 552.36h7M623.23 557.31h7M623.65 548.24h7M624.49 549.65h7M624.9 551.65h7M625.31 556.93h7M625.71 558.36h7M626.11 556.84h7M626.51 549.72h7M626.9 551.04h7M627.29 555.01h7M627.68 560.14h7M628.06 557.94h7M628.44 550.81h7M628.81 551.76h7M629.19 558.34h7M629.56 553.24h7M629.92 550.98h7M630.29 555.67h7M630.65 560.53h7M631.01 555.97h7M631.36 561.16h7M631.71 551.21h7M632.41 555.76h7M632.75 561.73h7M633.09 551.92h7M633.43 555.96h7M634.1 559.18h7M634.43 558.21h7M635.4 555.65h7M635.72 556.78h7M636.04 562.46h7M636.36 561.21h7M636.67 563.43h7M636.98 554.98h7M637.29 557.9h7M637.9 553.76h7M638.21 558.93h7M638.51 554.34h7M638.8 562.6h7M639.1 557.46h7M639.4 559.78h7M639.69 563.55h7M639.98 555.3h7M640.27 556.68h7M640.55 553.76h7M641.12 562.52h7M641.4 558.41h7M641.68 559.53h7M641.96 558.24h7M642.51 560.81h7M642.78 563.9h7M643.05 559.6h7M643.32 564.83h7M643.59 559.5h7M643.85 564.52h7M644.64 563.28h7M644.9 557.63h7M645.16 563.14h7M645.41 557.31h7M645.92 562.29h7M646.42 557.43h7M646.67 561.5h7M646.92 566.16h7M647.17 555.84h7M647.65 556.72h7M647.9 565.18h7M648.14 560.41h7M648.38 561.91h7M648.61 565.8h7M648.85 564.01h7M649.09 557.16h7M649.32 563.41h7M649.78 558.59h7M650.02 562.05h7M650.24 566.65h7M650.47 559.13h7M650.7 563.48h7M650.92 561.45h7M651.15 558.71h7M651.37 561.21h7M652.04 567.42h7M652.25 564.26h7M652.47 567.64h7M652.9 559.8h7M653.12 567.33h7M653.33 564h7M653.76 568.43h7M653.97 562.98h7M654.18 565.55h7M654.38 562.53h7M654.59 564.51h7M654.8 562.57h7M655 564.5h7M655.21 567.27h7M655.41 563.28h7M655.61 568.59h7M655.81 559.61h7M656.02 558.55h7M656.21 565.92h7M656.41 561.57h7M656.81 566.71h7M657 560.85h7M657.2 565.86h7M657.39 568.9h7M657.59 561.9h7M657.78 564.35h7M657.97 565.35h7M658.16 559.64h7M658.35 564.03h7M658.54 562.13h7M658.73 560.53h7M658.92 566.94h7M659.1 562.55h7M659.29 566.38h7M659.66 562.81h7M660.03 561.56h7M660.21 569.12h7M660.39 560.92h7M660.57 562.92h7M660.75 566.88h7M660.93 559.81h7M661.29 569.37h7M661.46 560.54h7M661.64 565.79h7M661.81 561.64h7M661.99 567.96h7M662.16 566.72h7M662.51 562.51h7M662.68 565.21h7M662.85 567.07h7M663.02 570.66h7M663.19 565.91h7M663.36 567.86h7M663.53 564.18h7M663.7 571.04h7M663.87 569.19h7M664.03 566.77h7M664.2 568.15h7M664.36 563.45h7M664.53 564.83h7M664.69 562.8h7M664.86 561.11h7M665.02 569.68h7M665.18 563.54h7M665.34 571.52h7M665.51 562.63h7M665.67 566.7h7M665.83 561.26h7M665.99 570.03h7M666.3 563.83h7M666.46 568.16h7M666.62 562.35h7M666.93 567.89h7M667.08 569.05h7M667.24 572.31h7M667.39 565.13h7M667.7 572.3h7M667.85 566.27h7M668.01 567.31h7M668.31 562.48h7M668.46 563.48h7M668.61 566.92h7M668.76 565.68h7M668.91 564.51h7M669.06 567.78h7M669.2 571.16h7M669.35 563.6h7M669.5 572.39h7M669.64 567.42h7M669.79 571.01h7M669.94 569.3h7M670.08 566.75h7M670.23 569h7M670.37 562.76h7M670.51 573.15h7M670.66 572.06h7M670.94 568.86h7M671.08 566.6h7M671.22 571.64h7M671.36 573.05h7M671.51 567.69h7M671.65 564.74h7M671.78 566.67h7M671.92 567.66h7M672.06 571.79h7M672.2 569.46h7M672.34 573.75h7M672.48 568.96h7M672.61 566.38h7M672.75 572.19h7M672.88 569.27h7M673.02 571.19h7M673.15 564.6h7M673.29 566.2h7M673.42 567.83h7M673.69 573.29h7" stroke="#9a1af0" stroke-width="0.7" fill="none"/>
<path d="M506.98 561.82h6.8v6.8h-6.8zM512.78 558.31h6.8v6.8h-6.8zM517.89 555.22h6.8v6.8h-6.8zM522.47 552.46h6.8v6.8h-6.8zM526.61 549.65h6.8v6.8h-6.8zM530.39 545.47h6.8v6.8h-6.8zM533.86 541.61h6.8v6.8h-6.8zM537.08 538.05h6.8v6.8h-6.8zM540.08 534.73h6.8v6.8h-6.8zM542.88 531.54h6.8v6.8h-6.8zM545.51 528.35h6.8v6.8h-6.8zM548 525.34h6.8v6.8h-6.8zM550.34 522.5h6.8v6.8h-6.8zM552.57 519.74h6.8v6.8h-6.8zM554.69 517.44h6.8v6.8h-6.8zM556.71 515.01h6.8v6.8h-6.8zM558.64 513.58h6.8v6.8h-6.8zM560.49 512.56h6.8v6.8h-6.8zM562.26 512.05h6.8v6.8h-6.8zM563.97 509.96h6.8v6.8h-6.8zM565.61 509.07h6.8v6.8h-6.8zM567.18 509.86h6.8v6.8h-6.8zM568.71 507.28h6.8v6.8h-6.8zM570.18 506.45h6.8v6.8h-6.8zM571.61 508.16h6.8v6.8h-6.8zM572.98 507.23h6.8v6.8h-6.8zM574.32 504.97h6.8v6.8h-6.8zM575.62 507.87h6.8v6.8h-6.8zM576.88 510.33h6.8v6.8h-6.8zM578.1 514.37h6.8v6.8h-6.8zM579.29 514.3h6.8v6.8h-6.8zM580.45 516.95h6.8v6.8h-6.8zM581.58 522.76h6.8v6.8h-6.8zM582.68 523h6.8v6.8h-6.8zM583.75 525.94h6.8v6.8h-6.8zM584.79 525.51h6.8v6.8h-6.8zM585.82 532.43h6.8v6.8h-6.8zM586.81 529.79h6.8v6.8h-6.8zM587.79 532.27h6.8v6.8h-6.8zM588.74 526.45h6.8v6.8h-6.8zM589.68 533.32h6.8v6.8h-6.8zM590.59 532.05h6.8v6.8h-6.8zM591.49 538.28h6.8v6.8h-6.8zM592.37 534.37h6.8v6.8h-6.8zM593.23 538.04h6.8v6.8h-6.8zM594.07 530.73h6.8v6.8h-6.8zM594.9 535.42h6.8v6.8h-6.8zM595.71 532.75h6.8v6.8h-6.8zM596.51 542.49h6.8v6.8h-6.8zM597.29 533.38h6.8v6.8h-6.8zM598.06 544.2h6.8v6.8h-6.8zM598.81 538.81h6.8v6.8h-6.8zM599.55 543.33h6.8v6.8h-6.8zM601 541.44h6.8v6.8h-6.8zM601.71 537.17h6.8v6.8h-6.8zM602.4 543.05h6.8v6.8h-6.8zM603.76 544.43h6.8v6.8h-6.8zM604.42 548.57h6.8v6.8h-6.8zM605.72 541.57h6.8v6.8h-6.8zM606.35 542.43h6.8v6.8h-6.8zM606.98 540.14h6.8v6.8h-6.8zM607.59 546.85h6.8v6.8h-6.8zM608.2 549.84h6.8v6.8h-6.8zM608.8 547.75h6.8v6.8h-6.8zM609.39 541.53h6.8v6.8h-6.8zM609.98 546.26h6.8v6.8h-6.8zM610.55 547.35h6.8v6.8h-6.8zM611.12 542.79h6.8v6.8h-6.8zM612.23 550.42h6.8v6.8h-6.8zM612.78 549.21h6.8v6.8h-6.8zM613.32 546.8h6.8v6.8h-6.8zM613.85 550.99h6.8v6.8h-6.8zM614.38 547.27h6.8v6.8h-6.8zM614.9 544.84h6.8v6.8h-6.8zM615.41 550.92h6.8v6.8h-6.8zM615.92 544.53h6.8v6.8h-6.8zM616.42 551.86h6.8v6.8h-6.8zM616.92 549.24h6.8v6.8h-6.8zM617.41 552.92h6.8v6.8h-6.8zM617.89 551.72h6.8v6.8h-6.8zM618.37 553.22h6.8v6.8h-6.8zM618.85 549.64h6.8v6.8h-6.8zM619.32 544.36h6.8v6.8h-6.8zM619.78 548.57h6.8v6.8h-6.8zM620.24 546.36h6.8v6.8h-6.8zM620.7 550.84h6.8v6.8h-6.8zM621.15 552.94h6.8v6.8h-6.8zM621.59 551.3h6.8v6.8h-6.8zM622.47 553.94h6.8v6.8h-6.8zM622.9 549.26h6.8v6.8h-6.8zM623.33 554.21h6.8v6.8h-6.8zM623.75 545.14h6.8v6.8h-6.8zM624.59 546.55h6.8v6.8h-6.8zM625 548.55h6.8v6.8h-6.8zM625.41 553.83h6.8v6.8h-6.8zM625.81 555.26h6.8v6.8h-6.8zM626.21 553.74h6.8v6.8h-6.8zM626.61 546.62h6.8v6.8h-6.8zM627 547.94h6.8v6.8h-6.8zM627.39 551.91h6.8v6.8h-6.8zM627.78 557.04h6.8v6.8h-6.8zM628.16 554.84h6.8v6.8h-6.8zM628.54 547.71h6.8v6.8h-6.8zM628.91 548.66h6.8v6.8h-6.8zM629.29 555.24h6.8v6.8h-6.8zM629.66 550.14h6.8v6.8h-6.8zM630.02 547.88h6.8v6.8h-6.8zM630.39 552.57h6.8v6.8h-6.8zM630.75 557.43h6.8v6.8h-6.8zM631.11 552.87h6.8v6.8h-6.8zM631.46 558.06h6.8v6.8h-6.8zM631.81 548.11h6.8v6.8h-6.8zM632.51 552.66h6.8v6.8h-6.8zM632.85 558.63h6.8v6.8h-6.8zM633.19 548.82h6.8v6.8h-6.8zM633.53 552.86h6.8v6.8h-6.8zM634.2 556.08h6.8v6.8h-6.8zM634.53 555.11h6.8v6.8h-6.8zM635.5 552.55h6.8v6.8h-6.8zM635.82 553.68h6.8v6.8h-6.8zM636.14 559.36h6.8v6.8h-6.8zM636.46 558.11h6.8v6.8h-6.8zM636.77 560.33h6.8v6.8h-6.8zM637.08 551.88h6.8v6.8h-6.8zM637.39 554.8h6.8v6.8h-6.8zM638 550.66h6.8v6.8h-6.8zM638.31 555.83h6.8v6.8h-6.8zM638.61 551.24h6.8v6.8h-6.8zM638.9 559.5h6.8v6.8h-6.8zM639.2 554.36h6.8v6.8h-6.8zM639.5 556.68h6.8v6.8h-6.8zM639.79 560.45h6.8v6.8h-6.8zM640.08 552.2h6.8v6.8h-6.8zM640.37 553.58h6.8v6.8h-6.8zM640.65 550.66h6.8v6.8h-6.8zM641.22 559.42h6.8v6.8h-6.8zM641.5 555.31h6.8v6.8h-6.8zM641.78 556.43h6.8v6.8h-6.8zM642.06 555.14h6.8v6.8h-6.8zM642.61 557.71h6.8v6.8h-6.8zM642.88 560.8h6.8v6.8h-6.8zM643.15 556.5h6.8v6.8h-6.8zM643.42 561.73h6.8v6.8h-6.8zM643.69 556.4h6.8v6.8h-6.8zM643.95 561.42h6.8v6.8h-6.8zM644.74 560.18h6.8v6.8h-6.8zM645 554.53h6.8v6.8h-6.8zM645.26 560.04h6.8v6.8h-6.8zM645.51 554.21h6.8v6.8h-6.8zM646.02 559.19h6.8v6.8h-6.8zM646.52 554.33h6.8v6.8h-6.8zM646.77 558.4h6.8v6.8h-6.8zM647.02 563.06h6.8v6.8h-6.8zM647.27 552.74h6.8v6.8h-6.8zM647.75 553.62h6.8v6.8h-6.8zM648 562.08h6.8v6.8h-6.8zM648.24 557.31h6.8v6.8h-6.8zM648.48 558.81h6.8v6.8h-6.8zM648.71 562.7h6.8v6.8h-6.8zM648.95 560.91h6.8v6.8h-6.8zM649.19 554.06h6.8v6.8h-6.8zM649.42 560.31h6.8v6.8h-6.8zM649.88 555.49h6.8v6.8h-6.8zM650.12 558.95h6.8v6.8h-6.8zM650.34 563.55h6.8v6.8h-6.8zM650.57 556.03h6.8v6.8h-6.8zM650.8 560.38h6.8v6.8h-6.8zM651.02 558.35h6.8v6.8h-6.8zM651.25 555.61h6.8v6.8h-6.8zM651.47 558.11h6.8v6.8h-6.8zM652.14 564.32h6.8v6.8h-6.8zM652.35 561.16h6.8v6.8h-6.8zM652.57 564.54h6.8v6.8h-6.8zM653 556.7h6.8v6.8h-6.8zM653.22 564.23h6.8v6.8h-6.8zM653.43 560.9h6.8v6.8h-6.8zM653.86 565.33h6.8v6.8h-6.8zM654.07 559.88h6.8v6.8h-6.8zM654.28 562.45h6.8v6.8h-6.8zM654.48 559.43h6.8v6.8h-6.8zM654.69 561.41h6.8v6.8h-6.8zM654.9 559.47h6.8v6.8h-6.8zM655.1 561.4h6.8v6.8h-6.8zM655.31 564.17h6.8v6.8h-6.8zM655.51 560.18h6.8v6.8h-6.8zM655.71 565.49h6.8v6.8h-6.8zM655.91 556.51h6.8v6.8h-6.8zM656.12 555.45h6.8v6.8h-6.8zM656.31 562.82h6.8v6.8h-6.8zM656.51 558.47h6.8v6.8h-6.8zM656.91 563.61h6.8v6.8h-6.8zM657.1 557.75h6.8v6.8h-6.8zM657.3 562.76h6.8v6.8h-6.8zM657.49 565.8h6.8v6.8h-6.8zM657.69 558.8h6.8v6.8h-6.8zM657.88 561.25h6.8v6.8h-6.8zM658.07 562.25h6.8v6.8h-6.8zM658.26 556.54h6.8v6.8h-6.8zM658.45 560.93h6.8v6.8h-6.8zM658.64 559.03h6.8v6.8h-6.8zM658.83 557.43h6.8v6.8h-6.8zM659.02 563.84h6.8v6.8h-6.8zM659.2 559.45h6.8v6.8h-6.8zM659.39 563.28h6.8v6.8h-6.8zM659.76 559.71h6.8v6.8h-6.8zM660.13 558.46h6.8v6.8h-6.8zM660.31 566.02h6.8v6.8h-6.8zM660.49 557.82h6.8v6.8h-6.8zM660.67 559.82h6.8v6.8h-6.8zM660.85 563.78h6.8v6.8h-6.8zM661.03 556.71h6.8v6.8h-6.8zM661.39 566.27h6.8v6.8h-6.8zM661.56 557.44h6.8v6.8h-6.8zM661.74 562.69h6.8v6.8h-6.8zM661.91 558.54h6.8v6.8h-6.8zM662.09 564.86h6.8v6.8h-6.8zM662.26 563.62h6.8v6.8h-6.8zM662.61 559.41h6.8v6.8h-6.8zM662.78 562.11h6.8v6.8h-6.8zM662.95 563.97h6.8v6.8h-6.8zM663.12 567.56h6.8v6.8h-6.8zM663.29 562.81h6.8v6.8h-6.8zM663.46 564.76h6.8v6.8h-6.8zM663.63 561.08h6.8v6.8h-6.8zM663.8 567.94h6.8v6.8h-6.8zM663.97 566.09h6.8v6.8h-6.8zM664.13 563.67h6.8v6.8h-6.8zM664.3 565.05h6.8v6.8h-6.8zM664.46 560.35h6.8v6.8h-6.8zM664.63 561.73h6.8v6.8h-6.8zM664.79 559.7h6.8v6.8h-6.8zM664.96 558.01h6.8v6.8h-6.8zM665.12 566.58h6.8v6.8h-6.8zM665.28 560.44h6.8v6.8h-6.8zM665.44 568.42h6.8v6.8h-6.8zM665.61 559.53h6.8v6.8h-6.8zM665.77 563.6h6.8v6.8h-6.8zM665.93 558.16h6.8v6.8h-6.8zM666.09 566.93h6.8v6.8h-6.8zM666.4 560.73h6.8v6.8h-6.8zM666.56 565.06h6.8v6.8h-6.8zM666.72 559.25h6.8v6.8h-6.8zM667.03 564.79h6.8v6.8h-6.8zM667.18 565.95h6.8v6.8h-6.8zM667.34 569.21h6.8v6.8h-6.8zM667.49 562.03h6.8v6.8h-6.8zM667.8 569.2h6.8v6.8h-6.8zM667.95 563.17h6.8v6.8h-6.8zM668.11 564.21h6.8v6.8h-6.8zM668.41 559.38h6.8v6.8h-6.8zM668.56 560.38h6.8v6.8h-6.8zM668.71 563.82h6.8v6.8h-6.8zM668.86 562.58h6.8v6.8h-6.8zM669.01 561.41h6.8v6.8h-6.8zM669.16 564.68h6.8v6.8h-6.8zM669.3 568.06h6.8v6.8h-6.8zM669.45 560.5h6.8v6.8h-6.8zM669.6 569.29h6.8v6.8h-6.8zM669.74 564.32h6.8v6.8h-6.8zM669.89 567.91h6.8v6.8h-6.8zM670.04 566.2h6.8v6.8h-6.8zM670.18 563.65h6.8v6.8h-6.8zM670.33 565.9h6.8v6.8h-6.8zM670.47 559.66h6.8v6.8h-6.8zM670.61 570.05h6.8v6.8h-6.8zM670.76 568.96h6.8v6.8h-6.8zM671.04 565.76h6.8v6.8h-6.8zM671.18 563.5h6.8v6.8h-6.8zM671.32 568.54h6.8v6.8h-6.8zM671.46 569.95h6.8v6.8h-6.8zM671.61 564.59h6.8v6.8h-6.8zM671.75 561.64h6.8v6.8h-6.8zM671.88 563.57h6.8v6.8h-6.8zM672.02 564.56h6.8v6.8h-6.8zM672.16 568.69h6.8v6.8h-6.8zM672.3 566.36h6.8v6.8h-6.8zM672.44 570.65h6.8v6.8h-6.8zM672.58 565.86h6.8v6.8h-6.8zM672.71 563.28h6.8v6.8h-6.8zM672.85 569.09h6.8v6.8h-6.8zM672.98 566.17h6.8v6.8h-6.8zM673.12 568.09h6.8v6.8h-6.8zM673.25 561.5h6.8v6.8h-6.8zM673.39 563.1h6.8v6.8h-6.8zM673.52 564.73h6.8v6.8h-6.8zM673.79 570.19h6.8v6.8h-6.8z" fill="none" stroke="#9a1af0" stroke-width="1" />
<path d="M506.88 558.1h7M512.68 552.83h7M517.79 548.18h7M522.37 544.03h7M526.51 540.27h7M530.29 536.83h7M533.76 533.68h7M536.98 530.33h7M539.98 527.19h7M542.78 524.25h7M545.41 521.49h7M547.9 518.88h7M550.24 516.42h7M552.47 514.17h7M554.59 512.37h7M556.61 510.77h7M558.54 508.76h7M560.39 507.29h7M562.16 505.84h7M563.87 505.3h7M565.51 504.36h7M567.08 504.22h7M568.61 505.05h7M570.08 503.45h7M571.51 502.71h7M572.88 504.25h7M574.22 507.06h7M575.52 505.88h7M576.78 506.56h7M578 510.97h7M579.19 511.56h7M580.35 515.45h7M581.48 512.45h7M582.58 515.64h7M583.65 514.8h7M584.69 521.58h7M585.72 522.44h7M586.71 521.48h7M587.69 524.19h7M588.64 525.26h7M589.58 521.87h7M590.49 527.25h7M591.39 526.07h7M593.13 530.1h7M593.97 532.45h7M594.8 528.85h7M595.61 531.38h7M596.41 532.51h7M597.19 541.14h7M597.96 538.96h7M598.71 536.23h7M599.45 538.89h7M600.18 536.82h7M601.61 538.25h7M602.3 546.82h7M602.99 545.89h7M603.66 549.07h7M604.32 541.31h7M604.98 550.22h7M605.62 540.24h7M606.25 543.98h7M606.88 550.9h7M607.49 540.7h7M608.1 549.7h7M609.29 546.09h7M610.45 543.41h7M611.02 542.4h7M611.58 548.57h7M612.13 545.32h7M612.68 546.35h7M613.22 547.43h7M614.28 550.37h7M614.8 544.02h7M615.31 549.15h7M615.82 553.69h7M616.32 546.08h7M616.82 548.86h7M617.31 547.59h7M617.79 552.75h7M618.27 550.42h7M618.75 548.76h7M619.22 551.58h7M619.68 545.89h7M620.14 547.97h7M620.6 555.13h7M621.05 546.89h7M622.37 548.14h7M622.8 550h7M623.23 551.73h7M624.07 555.25h7M624.49 547.34h7M624.9 549.49h7M625.31 552.42h7M625.71 553.73h7M626.11 551.86h7M626.51 554.24h7M627.29 546.91h7M628.44 552.85h7M629.19 553.86h7M629.56 557.48h7M629.92 550.85h7M630.29 557.42h7M630.65 551.81h7M631.36 554.04h7M632.41 549.01h7M632.75 554.5h7M633.09 558.33h7M633.43 549.36h7M633.76 558.15h7M634.43 551.95h7M634.75 559.37h7M635.08 555.32h7M635.4 558.56h7M636.04 550.8h7M636.36 558.87h7M636.98 549.86h7M637.29 551.82h7M637.9 557.6h7M638.21 555.82h7M638.51 554.77h7M639.1 558.03h7M639.4 556.72h7M639.69 552.32h7M639.98 555.76h7M640.27 559.18h7M640.84 556.16h7M641.12 561.71h7M641.4 559.17h7M641.68 556.33h7M641.96 551.78h7M642.23 553.81h7M642.51 562.3h7M642.78 561.2h7M643.05 562.25h7M643.32 559.72h7M643.59 562.04h7M643.85 560.22h7M644.12 554.39h7M644.64 556.53h7M644.9 560.64h7M645.41 553.22h7M645.67 556.4h7M645.92 559.48h7M646.17 562.59h7M646.42 555.4h7M646.67 561.19h7M646.92 563.73h7M647.41 560.5h7M647.65 562.48h7M647.9 559.49h7M648.14 563.91h7M648.38 558.53h7M648.85 560.23h7M649.09 564.04h7M649.78 559.42h7M650.02 564.53h7M650.47 561.94h7M650.7 563.18h7M650.92 555.74h7M651.15 559.63h7M651.37 556.51h7M651.59 563.56h7M651.82 561.76h7M652.04 558.67h7M652.25 562.14h7M653.12 559.75h7M653.33 558.39h7M653.54 563.43h7M653.76 555.41h7M653.97 558.61h7M654.18 565.91h7M654.38 560.56h7M654.8 559.45h7M655 561.24h7M655.41 557.54h7M655.61 562.73h7M655.81 560.15h7M656.21 561.79h7M656.41 556.87h7M657 563.03h7M657.2 559.51h7M657.39 565.11h7M657.59 556.46h7M657.78 564.03h7M657.97 560.87h7M658.16 567.28h7M658.35 564.62h7M658.73 566.17h7M658.92 558.4h7M659.1 563.45h7M659.29 557.09h7M659.48 564.62h7M659.66 563.02h7M659.84 561.77h7M660.03 557.07h7M660.21 561.23h7M660.39 562.48h7M660.75 561.46h7M660.93 563.78h7M661.11 558.32h7M661.29 561.31h7M661.64 557.93h7M661.99 563.55h7M662.34 561.68h7M662.51 565.65h7M662.68 563.29h7M662.85 559.49h7M663.19 562.23h7M663.36 565.42h7M663.53 559.08h7M663.7 563.41h7M663.87 564.97h7M664.2 568.37h7M664.36 562.21h7M664.69 564.84h7M664.86 559.21h7M665.02 569.48h7M665.18 561.94h7M665.51 559.65h7M665.67 560.94h7M665.83 566.74h7M666.14 569.14h7M666.3 565.83h7M666.46 562.01h7M666.62 560.64h7M666.77 567.27h7M666.93 561.15h7M667.24 560.14h7M667.39 566.16h7M667.55 562.68h7M667.7 565.2h7M667.85 566.59h7M668.16 567.66h7M668.31 569.05h7M668.46 567.67h7M668.61 569.06h7M668.76 564.83h7M668.91 560.68h7M669.06 564.97h7M669.2 562.59h7M669.35 565.14h7M669.5 560.68h7M669.64 570.39h7M669.94 564.87h7M670.08 560.94h7M670.37 567.97h7M670.51 563.01h7M670.66 567.48h7M670.8 571.2h7M670.94 567.55h7M671.08 568.64h7M671.22 562.28h7M671.36 566.34h7M671.51 569.08h7M671.65 562.52h7M671.78 565.49h7M671.92 564.3h7M672.06 570.7h7M672.34 566.46h7M672.61 563.53h7M672.75 570.68h7M672.88 561.49h7M673.02 567.53h7M673.15 570.82h7M673.29 572.05h7M673.42 565.73h7M673.56 572.03h7M673.69 566.13h7" stroke="#3da878" stroke-width="0.7" fill="none"/>
<path d="M506.98 558.4a3.4 3.4 0 1 0 6.8 0a3.4 3.4 0 1 0 -6.8 0M512.78 553.13a3.4 3.4 0 1 0 6.8 0a3.4 3.4 0 1 0 -6.8 0M517.89 548.48a3.4 3.4 0 1 0 6.8 0a3.4 3.4 0 1 0 -6.8 0M522.47 544.33a3.4 3.4 0 1 0 6.8 0a3.4 3.4 0 1 0 -6.8 0M526.61 540.57a3.4 3.4 0 1 0 6.8 0a3.4 3.4 0 1 0 -6.8 0M530.39 537.13a3.4 3.4 0 1 0 6.8 0a3.4 3.4 0 1 0 -6.8 0M533.86 533.98a3.4 3.4 0 1 0 6.8 0a3.4 3.4 0 1 0 -6.8 0M537.08 530.63a3.4 3.4 0 1 0 6.8 0a3.4 3.4 0 1 0 -6.8 0M540.08 527.49a3.4 3.4 0 1 0 6.8 0a3.4 3.4 0 1 0 -6.8 0M542.88 524.55a3.4 3.4 0 1 0 6.8 0a3.4 3.4 0 1 0 -6.8 0M545.51 521.79a3.4 3.4 0 1 0 6.8 0a3.4 3.4 0 1 0 -6.8 0M548 519.18a3.4 3.4 0 1 0 6.8 0a3.4 3.4 0 1 0 -6.8 0M550.34 516.72a3.4 3.4 0 1 0 6.8 0a3.4 3.4 0 1 0 -6.8 0M552.57 514.47a3.4 3.4 0 1 0 6.8 0a3.4 3.4 0 1 0 -6.8 0M554.69 512.67a3.4 3.4 0 1 0 6.8 0a3.4 3.4 0 1 0 -6.8 0M556.71 511.07a3.4 3.4 0 1 0 6.8 0a3.4 3.4 0 1 0 -6.8 0M558.64 509.06a3.4 3.4 0 1 0 6.8 0a3.4 3.4 0 1 0 -6.8 0M560.49 507.59a3.4 3.4 0 1 0 6.8 0a3.4 3.4 0 1 0 -6.8 0M562.26 506.14a3.4 3.4 0 1 0 6.8 0a3.4 3.4 0 1 0 -6.8 0M563.97 505.6a3.4 3.4 0 1 0 6.8 0a3.4 3.4 0 1 0 -6.8 0M565.61 504.66a3.4 3.4 0 1 0 6.8 0a3.4 3.4 0 1 0 -6.8 0M567.18 504.52a3.4 3.4 0 1 0 6.8 0a3.4 3.4 0 1 0 -6.8 0M568.71 505.35a3.4 3.4 0 1 0 6.8 0a3.4 3.4 0 1 0 -6.8 0M570.18 503.75a3.4 3.4 0 1 0 6.8 0a3.4 3.4 0 1 0 -6.8 0M571.61 503.01a3.4 3.4 0 1 0 6.8 0a3.4 3.4 0 1 0 -6.8 0M572.98 504.55a3.4 3.4 0 1 0 6.8 0a3.4 3.4 0 1 0 -6.8 0M574.32 507.36a3.4 3.4 0 1 0 6.8 0a3.4 3.4 0 1 0 -6.8 0M575.62 506.18a3.4 3.4 0 1 0 6.8 0a3.4 3.4 0 1 0 -6.8 0M576.88 506.86a3.4 3.4 0 1 0 6.8 0a3.4 3.4 0 1 0 -6.8 0M578.1 511.27a3.4 3.4 0 1 0 6.8 0a3.4 3.4 0 1 0 -6.8 0M579.29 511.86a3.4 3.4 0 1 0 6.8 0a3.4 3.4 0 1 0 -6.8 0M580.45 515.75a3.4 3.4 0 1 0 6.8 0a3.4 3.4 0 1 0 -6.8 0M581.58 512.75a3.4 3.4 0 1 0 6.8 0a3.4 3.4 0 1 0 -6.8 0M582.68 515.94a3.4 3.4 0 1 0 6.8 0a3.4 3.4 0 1 0 -6.8 0M583.75 515.1a3.4 3.4 0 1 0 6.8 0a3.4 3.4 0 1 0 -6.8 0M584.79 521.88a3.4 3.4 0 1 0 6.8 0a3.4 3.4 0 1 0 -6.8 0M585.82 522.74a3.4 3.4 0 1 0 6.8 0a3.4 3.4 0 1 0 -6.8 0M586.81 521.78a3.4 3.4 0 1 0 6.8 0a3.4 3.4 0 1 0 -6.8 0M587.79 524.49a3.4 3.4 0 1 0 6.8 0a3.4 3.4 0 1 0 -6.8 0M588.74 525.56a3.4 3.4 0 1 0 6.8 0a3.4 3.4 0 1 0 -6.8 0M589.68 522.17a3.4 3.4 0 1 0 6.8 0a3.4 3.4 0 1 0 -6.8 0M590.59 527.55a3.4 3.4 0 1 0 6.8 0a3.4 3.4 0 1 0 -6.8 0M591.49 526.37a3.4 3.4 0 1 0 6.8 0a3.4 3.4 0 1 0 -6.8 0M593.23 530.4a3.4 3.4 0 1 0 6.8 0a3.4 3.4 0 1 0 -6.8 0M594.07 532.75a3.4 3.4 0 1 0 6.8 0a3.4 3.4 0 1 0 -6.8 0M594.9 529.15a3.4 3.4 0 1 0 6.8 0a3.4 3.4 0 1 0 -6.8 0M595.71 531.68a3.4 3.4 0 1 0 6.8 0a3.4 3.4 0 1 0 -6.8 0M596.51 532.81a3.4 3.4 0 1 0 6.8 0a3.4 3.4 0 1 0 -6.8 0M597.29 541.44a3.4 3.4 0 1 0 6.8 0a3.4 3.4 0 1 0 -6.8 0M598.06 539.26a3.4 3.4 0 1 0 6.8 0a3.4 3.4 0 1 0 -6.8 0M598.81 536.53a3.4 3.4 0 1 0 6.8 0a3.4 3.4 0 1 0 -6.8 0M599.55 539.19a3.4 3.4 0 1 0 6.8 0a3.4 3.4 0 1 0 -6.8 0M600.28 537.12a3.4 3.4 0 1 0 6.8 0a3.4 3.4 0 1 0 -6.8 0M601.71 538.55a3.4 3.4 0 1 0 6.8 0a3.4 3.4 0 1 0 -6.8 0M602.4 547.12a3.4 3.4 0 1 0 6.8 0a3.4 3.4 0 1 0 -6.8 0M603.09 546.19a3.4 3.4 0 1 0 6.8 0a3.4 3.4 0 1 0 -6.8 0M603.76 549.37a3.4 3.4 0 1 0 6.8 0a3.4 3.4 0 1 0 -6.8 0M604.42 541.61a3.4 3.4 0 1 0 6.8 0a3.4 3.4 0 1 0 -6.8 0M605.08 550.52a3.4 3.4 0 1 0 6.8 0a3.4 3.4 0 1 0 -6.8 0M605.72 540.54a3.4 3.4 0 1 0 6.8 0a3.4 3.4 0 1 0 -6.8 0M606.35 544.28a3.4 3.4 0 1 0 6.8 0a3.4 3.4 0 1 0 -6.8 0M606.98 551.2a3.4 3.4 0 1 0 6.8 0a3.4 3.4 0 1 0 -6.8 0M607.59 541a3.4 3.4 0 1 0 6.8 0a3.4 3.4 0 1 0 -6.8 0M608.2 550a3.4 3.4 0 1 0 6.8 0a3.4 3.4 0 1 0 -6.8 0M609.39 546.39a3.4 3.4 0 1 0 6.8 0a3.4 3.4 0 1 0 -6.8 0M610.55 543.71a3.4 3.4 0 1 0 6.8 0a3.4 3.4 0 1 0 -6.8 0M611.12 542.7a3.4 3.4 0 1 0 6.8 0a3.4 3.4 0 1 0 -6.8 0M611.68 548.87a3.4 3.4 0 1 0 6.8 0a3.4 3.4 0 1 0 -6.8 0M612.23 545.62a3.4 3.4 0 1 0 6.8 0a3.4 3.4 0 1 0 -6.8 0M612.78 546.65a3.4 3.4 0 1 0 6.8 0a3.4 3.4 0 1 0 -6.8 0M613.32 547.73a3.4 3.4 0 1 0 6.8 0a3.4 3.4 0 1 0 -6.8 0M614.38 550.67a3.4 3.4 0 1 0 6.8 0a3.4 3.4 0 1 0 -6.8 0M614.9 544.32a3.4 3.4 0 1 0 6.8 0a3.4 3.4 0 1 0 -6.8 0M615.41 549.45a3.4 3.4 0 1 0 6.8 0a3.4 3.4 0 1 0 -6.8 0M615.92 553.99a3.4 3.4 0 1 0 6.8 0a3.4 3.4 0 1 0 -6.8 0M616.42 546.38a3.4 3.4 0 1 0 6.8 0a3.4 3.4 0 1 0 -6.8 0M616.92 549.16a3.4 3.4 0 1 0 6.8 0a3.4 3.4 0 1 0 -6.8 0M617.41 547.89a3.4 3.4 0 1 0 6.8 0a3.4 3.4 0 1 0 -6.8 0M617.89 553.05a3.4 3.4 0 1 0 6.8 0a3.4 3.4 0 1 0 -6.8 0M618.37 550.72a3.4 3.4 0 1 0 6.8 0a3.4 3.4 0 1 0 -6.8 0M618.85 549.06a3.4 3.4 0 1 0 6.8 0a3.4 3.4 0 1 0 -6.8 0M619.32 551.88a3.4 3.4 0 1 0 6.8 0a3.4 3.4 0 1 0 -6.8 0M619.78 546.19a3.4 3.4 0 1 0 6.8 0a3.4 3.4 0 1 0 -6.8 0M620.24 548.27a3.4 3.4 0 1 0 6.8 0a3.4 3.4 0 1 0 -6.8 0M620.7 555.43a3.4 3.4 0 1 0 6.8 0a3.4 3.4 0 1 0 -6.8 0M621.15 547.19a3.4 3.4 0 1 0 6.8 0a3.4 3.4 0 1 0 -6.8 0M622.47 548.44a3.4 3.4 0 1 0 6.8 0a3.4 3.4 0 1 0 -6.8 0M622.9 550.3a3.4 3.4 0 1 0 6.8 0a3.4 3.4 0 1 0 -6.8 0M623.33 552.03a3.4 3.4 0 1 0 6.8 0a3.4 3.4 0 1 0 -6.8 0M624.17 555.55a3.4 3.4 0 1 0 6.8 0a3.4 3.4 0 1 0 -6.8 0M624.59 547.64a3.4 3.4 0 1 0 6.8 0a3.4 3.4 0 1 0 -6.8 0M625 549.79a3.4 3.4 0 1 0 6.8 0a3.4 3.4 0 1 0 -6.8 0M625.41 552.72a3.4 3.4 0 1 0 6.8 0a3.4 3.4 0 1 0 -6.8 0M625.81 554.03a3.4 3.4 0 1 0 6.8 0a3.4 3.4 0 1 0 -6.8 0M626.21 552.16a3.4 3.4 0 1 0 6.8 0a3.4 3.4 0 1 0 -6.8 0M626.61 554.54a3.4 3.4 0 1 0 6.8 0a3.4 3.4 0 1 0 -6.8 0M627.39 547.21a3.4 3.4 0 1 0 6.8 0a3.4 3.4 0 1 0 -6.8 0M628.54 553.15a3.4 3.4 0 1 0 6.8 0a3.4 3.4 0 1 0 -6.8 0M629.29 554.16a3.4 3.4 0 1 0 6.8 0a3.4 3.4 0 1 0 -6.8 0M629.66 557.78a3.4 3.4 0 1 0 6.8 0a3.4 3.4 0 1 0 -6.8 0M630.02 551.15a3.4 3.4 0 1 0 6.8 0a3.4 3.4 0 1 0 -6.8 0M630.39 557.72a3.4 3.4 0 1 0 6.8 0a3.4 3.4 0 1 0 -6.8 0M630.75 552.11a3.4 3.4 0 1 0 6.8 0a3.4 3.4 0 1 0 -6.8 0M631.46 554.34a3.4 3.4 0 1 0 6.8 0a3.4 3.4 0 1 0 -6.8 0M632.51 549.31a3.4 3.4 0 1 0 6.8 0a3.4 3.4 0 1 0 -6.8 0M632.85 554.8a3.4 3.4 0 1 0 6.8 0a3.4 3.4 0 1 0 -6.8 0M633.19 558.63a3.4 3.4 0 1 0 6.8 0a3.4 3.4 0 1 0 -6.8 0M633.53 549.66a3.4 3.4 0 1 0 6.8 0a3.4 3.4 0 1 0 -6.8 0M633.86 558.45a3.4 3.4 0 1 0 6.8 0a3.4 3.4 0 1 0 -6.8 0M634.53 552.25a3.4 3.4 0 1 0 6.8 0a3.4 3.4 0 1 0 -6.8 0M634.85 559.67a3.4 3.4 0 1 0 6.8 0a3.4 3.4 0 1 0 -6.8 0M635.18 555.62a3.4 3.4 0 1 0 6.8 0a3.4 3.4 0 1 0 -6.8 0M635.5 558.86a3.4 3.4 0 1 0 6.8 0a3.4 3.4 0 1 0 -6.8 0M636.14 551.1a3.4 3.4 0 1 0 6.8 0a3.4 3.4 0 1 0 -6.8 0M636.46 559.17a3.4 3.4 0 1 0 6.8 0a3.4 3.4 0 1 0 -6.8 0M637.08 550.16a3.4 3.4 0 1 0 6.8 0a3.4 3.4 0 1 0 -6.8 0M637.39 552.12a3.4 3.4 0 1 0 6.8 0a3.4 3.4 0 1 0 -6.8 0M638 557.9a3.4 3.4 0 1 0 6.8 0a3.4 3.4 0 1 0 -6.8 0M638.31 556.12a3.4 3.4 0 1 0 6.8 0a3.4 3.4 0 1 0 -6.8 0M638.61 555.07a3.4 3.4 0 1 0 6.8 0a3.4 3.4 0 1 0 -6.8 0M639.2 558.33a3.4 3.4 0 1 0 6.8 0a3.4 3.4 0 1 0 -6.8 0M639.5 557.02a3.4 3.4 0 1 0 6.8 0a3.4 3.4 0 1 0 -6.8 0M639.79 552.62a3.4 3.4 0 1 0 6.8 0a3.4 3.4 0 1 0 -6.8 0M640.08 556.06a3.4 3.4 0 1 0 6.8 0a3.4 3.4 0 1 0 -6.8 0M640.37 559.48a3.4 3.4 0 1 0 6.8 0a3.4 3.4 0 1 0 -6.8 0M640.94 556.46a3.4 3.4 0 1 0 6.8 0a3.4 3.4 0 1 0 -6.8 0M641.22 562.01a3.4 3.4 0 1 0 6.8 0a3.4 3.4 0 1 0 -6.8 0M641.5 559.47a3.4 3.4 0 1 0 6.8 0a3.4 3.4 0 1 0 -6.8 0M641.78 556.63a3.4 3.4 0 1 0 6.8 0a3.4 3.4 0 1 0 -6.8 0M642.06 552.08a3.4 3.4 0 1 0 6.8 0a3.4 3.4 0 1 0 -6.8 0M642.33 554.11a3.4 3.4 0 1 0 6.8 0a3.4 3.4 0 1 0 -6.8 0M642.61 562.6a3.4 3.4 0 1 0 6.8 0a3.4 3.4 0 1 0 -6.8 0M642.88 561.5a3.4 3.4 0 1 0 6.8 0a3.4 3.4 0 1 0 -6.8 0M643.15 562.55a3.4 3.4 0 1 0 6.8 0a3.4 3.4 0 1 0 -6.8 0M643.42 560.02a3.4 3.4 0 1 0 6.8 0a3.4 3.4 0 1 0 -6.8 0M643.69 562.34a3.4 3.4 0 1 0 6.8 0a3.4 3.4 0 1 0 -6.8 0M643.95 560.52a3.4 3.4 0 1 0 6.8 0a3.4 3.4 0 1 0 -6.8 0M644.22 554.69a3.4 3.4 0 1 0 6.8 0a3.4 3.4 0 1 0 -6.8 0M644.74 556.83a3.4 3.4 0 1 0 6.8 0a3.4 3.4 0 1 0 -6.8 0M645 560.94a3.4 3.4 0 1 0 6.8 0a3.4 3.4 0 1 0 -6.8 0M645.51 553.52a3.4 3.4 0 1 0 6.8 0a3.4 3.4 0 1 0 -6.8 0M645.77 556.7a3.4 3.4 0 1 0 6.8 0a3.4 3.4 0 1 0 -6.8 0M646.02 559.78a3.4 3.4 0 1 0 6.8 0a3.4 3.4 0 1 0 -6.8 0M646.27 562.89a3.4 3.4 0 1 0 6.8 0a3.4 3.4 0 1 0 -6.8 0M646.52 555.7a3.4 3.4 0 1 0 6.8 0a3.4 3.4 0 1 0 -6.8 0M646.77 561.49a3.4 3.4 0 1 0 6.8 0a3.4 3.4 0 1 0 -6.8 0M647.02 564.03a3.4 3.4 0 1 0 6.8 0a3.4 3.4 0 1 0 -6.8 0M647.51 560.8a3.4 3.4 0 1 0 6.8 0a3.4 3.4 0 1 0 -6.8 0M647.75 562.78a3.4 3.4 0 1 0 6.8 0a3.4 3.4 0 1 0 -6.8 0M648 559.79a3.4 3.4 0 1 0 6.8 0a3.4 3.4 0 1 0 -6.8 0M648.24 564.21a3.4 3.4 0 1 0 6.8 0a3.4 3.4 0 1 0 -6.8 0M648.48 558.83a3.4 3.4 0 1 0 6.8 0a3.4 3.4 0 1 0 -6.8 0M648.95 560.53a3.4 3.4 0 1 0 6.8 0a3.4 3.4 0 1 0 -6.8 0M649.19 564.34a3.4 3.4 0 1 0 6.8 0a3.4 3.4 0 1 0 -6.8 0M649.88 559.72a3.4 3.4 0 1 0 6.8 0a3.4 3.4 0 1 0 -6.8 0M650.12 564.83a3.4 3.4 0 1 0 6.8 0a3.4 3.4 0 1 0 -6.8 0M650.57 562.24a3.4 3.4 0 1 0 6.8 0a3.4 3.4 0 1 0 -6.8 0M650.8 563.48a3.4 3.4 0 1 0 6.8 0a3.4 3.4 0 1 0 -6.8 0M651.02 556.04a3.4 3.4 0 1 0 6.8 0a3.4 3.4 0 1 0 -6.8 0M651.25 559.93a3.4 3.4 0 1 0 6.8 0a3.4 3.4 0 1 0 -6.8 0M651.47 556.81a3.4 3.4 0 1 0 6.8 0a3.4 3.4 0 1 0 -6.8 0M651.69 563.86a3.4 3.4 0 1 0 6.8 0a3.4 3.4 0 1 0 -6.8 0M651.92 562.06a3.4 3.4 0 1 0 6.8 0a3.4 3.4 0 1 0 -6.8 0M652.14 558.97a3.4 3.4 0 1 0 6.8 0a3.4 3.4 0 1 0 -6.8 0M652.35 562.44a3.4 3.4 0 1 0 6.8 0a3.4 3.4 0 1 0 -6.8 0M653.22 560.05a3.4 3.4 0 1 0 6.8 0a3.4 3.4 0 1 0 -6.8 0M653.43 558.69a3.4 3.4 0 1 0 6.8 0a3.4 3.4 0 1 0 -6.8 0M653.64 563.73a3.4 3.4 0 1 0 6.8 0a3.4 3.4 0 1 0 -6.8 0M653.86 555.71a3.4 3.4 0 1 0 6.8 0a3.4 3.4 0 1 0 -6.8 0M654.07 558.91a3.4 3.4 0 1 0 6.8 0a3.4 3.4 0 1 0 -6.8 0M654.28 566.21a3.4 3.4 0 1 0 6.8 0a3.4 3.4 0 1 0 -6.8 0M654.48 560.86a3.4 3.4 0 1 0 6.8 0a3.4 3.4 0 1 0 -6.8 0M654.9 559.75a3.4 3.4 0 1 0 6.8 0a3.4 3.4 0 1 0 -6.8 0M655.1 561.54a3.4 3.4 0 1 0 6.8 0a3.4 3.4 0 1 0 -6.8 0M655.51 557.84a3.4 3.4 0 1 0 6.8 0a3.4 3.4 0 1 0 -6.8 0M655.71 563.03a3.4 3.4 0 1 0 6.8 0a3.4 3.4 0 1 0 -6.8 0M655.91 560.45a3.4 3.4 0 1 0 6.8 0a3.4 3.4 0 1 0 -6.8 0M656.31 562.09a3.4 3.4 0 1 0 6.8 0a3.4 3.4 0 1 0 -6.8 0M656.51 557.17a3.4 3.4 0 1 0 6.8 0a3.4 3.4 0 1 0 -6.8 0M657.1 563.33a3.4 3.4 0 1 0 6.8 0a3.4 3.4 0 1 0 -6.8 0M657.3 559.81a3.4 3.4 0 1 0 6.8 0a3.4 3.4 0 1 0 -6.8 0M657.49 565.41a3.4 3.4 0 1 0 6.8 0a3.4 3.4 0 1 0 -6.8 0M657.69 556.76a3.4 3.4 0 1 0 6.8 0a3.4 3.4 0 1 0 -6.8 0M657.88 564.33a3.4 3.4 0 1 0 6.8 0a3.4 3.4 0 1 0 -6.8 0M658.07 561.17a3.4 3.4 0 1 0 6.8 0a3.4 3.4 0 1 0 -6.8 0M658.26 567.58a3.4 3.4 0 1 0 6.8 0a3.4 3.4 0 1 0 -6.8 0M658.45 564.92a3.4 3.4 0 1 0 6.8 0a3.4 3.4 0 1 0 -6.8 0M658.83 566.47a3.4 3.4 0 1 0 6.8 0a3.4 3.4 0 1 0 -6.8 0M659.02 558.7a3.4 3.4 0 1 0 6.8 0a3.4 3.4 0 1 0 -6.8 0M659.2 563.75a3.4 3.4 0 1 0 6.8 0a3.4 3.4 0 1 0 -6.8 0M659.39 557.39a3.4 3.4 0 1 0 6.8 0a3.4 3.4 0 1 0 -6.8 0M659.58 564.92a3.4 3.4 0 1 0 6.8 0a3.4 3.4 0 1 0 -6.8 0M659.76 563.32a3.4 3.4 0 1 0 6.8 0a3.4 3.4 0 1 0 -6.8 0M659.94 562.07a3.4 3.4 0 1 0 6.8 0a3.4 3.4 0 1 0 -6.8 0M660.13 557.37a3.4 3.4 0 1 0 6.8 0a3.4 3.4 0 1 0 -6.8 0M660.31 561.53a3.4 3.4 0 1 0 6.8 0a3.4 3.4 0 1 0 -6.8 0M660.49 562.78a3.4 3.4 0 1 0 6.8 0a3.4 3.4 0 1 0 -6.8 0M660.85 561.76a3.4 3.4 0 1 0 6.8 0a3.4 3.4 0 1 0 -6.8 0M661.03 564.08a3.4 3.4 0 1 0 6.8 0a3.4 3.4 0 1 0 -6.8 0M661.21 558.62a3.4 3.4 0 1 0 6.8 0a3.4 3.4 0 1 0 -6.8 0M661.39 561.61a3.4 3.4 0 1 0 6.8 0a3.4 3.4 0 1 0 -6.8 0M661.74 558.23a3.4 3.4 0 1 0 6.8 0a3.4 3.4 0 1 0 -6.8 0M662.09 563.85a3.4 3.4 0 1 0 6.8 0a3.4 3.4 0 1 0 -6.8 0M662.44 561.98a3.4 3.4 0 1 0 6.8 0a3.4 3.4 0 1 0 -6.8 0M662.61 565.95a3.4 3.4 0 1 0 6.8 0a3.4 3.4 0 1 0 -6.8 0M662.78 563.59a3.4 3.4 0 1 0 6.8 0a3.4 3.4 0 1 0 -6.8 0M662.95 559.79a3.4 3.4 0 1 0 6.8 0a3.4 3.4 0 1 0 -6.8 0M663.29 562.53a3.4 3.4 0 1 0 6.8 0a3.4 3.4 0 1 0 -6.8 0M663.46 565.72a3.4 3.4 0 1 0 6.8 0a3.4 3.4 0 1 0 -6.8 0M663.63 559.38a3.4 3.4 0 1 0 6.8 0a3.4 3.4 0 1 0 -6.8 0M663.8 563.71a3.4 3.4 0 1 0 6.8 0a3.4 3.4 0 1 0 -6.8 0M663.97 565.27a3.4 3.4 0 1 0 6.8 0a3.4 3.4 0 1 0 -6.8 0M664.3 568.67a3.4 3.4 0 1 0 6.8 0a3.4 3.4 0 1 0 -6.8 0M664.46 562.51a3.4 3.4 0 1 0 6.8 0a3.4 3.4 0 1 0 -6.8 0M664.79 565.14a3.4 3.4 0 1 0 6.8 0a3.4 3.4 0 1 0 -6.8 0M664.96 559.51a3.4 3.4 0 1 0 6.8 0a3.4 3.4 0 1 0 -6.8 0M665.12 569.78a3.4 3.4 0 1 0 6.8 0a3.4 3.4 0 1 0 -6.8 0M665.28 562.24a3.4 3.4 0 1 0 6.8 0a3.4 3.4 0 1 0 -6.8 0M665.61 559.95a3.4 3.4 0 1 0 6.8 0a3.4 3.4 0 1 0 -6.8 0M665.77 561.24a3.4 3.4 0 1 0 6.8 0a3.4 3.4 0 1 0 -6.8 0M665.93 567.04a3.4 3.4 0 1 0 6.8 0a3.4 3.4 0 1 0 -6.8 0M666.24 569.44a3.4 3.4 0 1 0 6.8 0a3.4 3.4 0 1 0 -6.8 0M666.4 566.13a3.4 3.4 0 1 0 6.8 0a3.4 3.4 0 1 0 -6.8 0M666.56 562.31a3.4 3.4 0 1 0 6.8 0a3.4 3.4 0 1 0 -6.8 0M666.72 560.94a3.4 3.4 0 1 0 6.8 0a3.4 3.4 0 1 0 -6.8 0M666.87 567.57a3.4 3.4 0 1 0 6.8 0a3.4 3.4 0 1 0 -6.8 0M667.03 561.45a3.4 3.4 0 1 0 6.8 0a3.4 3.4 0 1 0 -6.8 0M667.34 560.44a3.4 3.4 0 1 0 6.8 0a3.4 3.4 0 1 0 -6.8 0M667.49 566.46a3.4 3.4 0 1 0 6.8 0a3.4 3.4 0 1 0 -6.8 0M667.65 562.98a3.4 3.4 0 1 0 6.8 0a3.4 3.4 0 1 0 -6.8 0M667.8 565.5a3.4 3.4 0 1 0 6.8 0a3.4 3.4 0 1 0 -6.8 0M667.95 566.89a3.4 3.4 0 1 0 6.8 0a3.4 3.4 0 1 0 -6.8 0M668.26 567.96a3.4 3.4 0 1 0 6.8 0a3.4 3.4 0 1 0 -6.8 0M668.41 569.35a3.4 3.4 0 1 0 6.8 0a3.4 3.4 0 1 0 -6.8 0M668.56 567.97a3.4 3.4 0 1 0 6.8 0a3.4 3.4 0 1 0 -6.8 0M668.71 569.36a3.4 3.4 0 1 0 6.8 0a3.4 3.4 0 1 0 -6.8 0M668.86 565.13a3.4 3.4 0 1 0 6.8 0a3.4 3.4 0 1 0 -6.8 0M669.01 560.98a3.4 3.4 0 1 0 6.8 0a3.4 3.4 0 1 0 -6.8 0M669.16 565.27a3.4 3.4 0 1 0 6.8 0a3.4 3.4 0 1 0 -6.8 0M669.3 562.89a3.4 3.4 0 1 0 6.8 0a3.4 3.4 0 1 0 -6.8 0M669.45 565.44a3.4 3.4 0 1 0 6.8 0a3.4 3.4 0 1 0 -6.8 0M669.6 560.98a3.4 3.4 0 1 0 6.8 0a3.4 3.4 0 1 0 -6.8 0M669.74 570.69a3.4 3.4 0 1 0 6.8 0a3.4 3.4 0 1 0 -6.8 0M670.04 565.17a3.4 3.4 0 1 0 6.8 0a3.4 3.4 0 1 0 -6.8 0M670.18 561.24a3.4 3.4 0 1 0 6.8 0a3.4 3.4 0 1 0 -6.8 0M670.47 568.27a3.4 3.4 0 1 0 6.8 0a3.4 3.4 0 1 0 -6.8 0M670.61 563.31a3.4 3.4 0 1 0 6.8 0a3.4 3.4 0 1 0 -6.8 0M670.76 567.78a3.4 3.4 0 1 0 6.8 0a3.4 3.4 0 1 0 -6.8 0M670.9 571.5a3.4 3.4 0 1 0 6.8 0a3.4 3.4 0 1 0 -6.8 0M671.04 567.85a3.4 3.4 0 1 0 6.8 0a3.4 3.4 0 1 0 -6.8 0M671.18 568.94a3.4 3.4 0 1 0 6.8 0a3.4 3.4 0 1 0 -6.8 0M671.32 562.58a3.4 3.4 0 1 0 6.8 0a3.4 3.4 0 1 0 -6.8 0M671.46 566.64a3.4 3.4 0 1 0 6.8 0a3.4 3.4 0 1 0 -6.8 0M671.61 569.38a3.4 3.4 0 1 0 6.8 0a3.4 3.4 0 1 0 -6.8 0M671.75 562.82a3.4 3.4 0 1 0 6.8 0a3.4 3.4 0 1 0 -6.8 0M671.88 565.79a3.4 3.4 0 1 0 6.8 0a3.4 3.4 0 1 0 -6.8 0M672.02 564.6a3.4 3.4 0 1 0 6.8 0a3.4 3.4 0 1 0 -6.8 0M672.16 571a3.4 3.4 0 1 0 6.8 0a3.4 3.4 0 1 0 -6.8 0M672.44 566.76a3.4 3.4 0 1 0 6.8 0a3.4 3.4 0 1 0 -6.8 0M672.71 563.83a3.4 3.4 0 1 0 6.8 0a3.4 3.4 0 1 0 -6.8 0M672.85 570.98a3.4 3.4 0 1 0 6.8 0a3.4 3.4 0 1 0 -6.8 0M672.98 561.79a3.4 3.4 0 1 0 6.8 0a3.4 3.4 0 1 0 -6.8 0M673.12 567.83a3.4 3.4 0 1 0 6.8 0a3.4 3.4 0 1 0 -6.8 0M673.25 571.12a3.4 3.4 0 1 0 6.8 0a3.4 3.4 0 1 0 -6.8 0M673.39 572.35a3.4 3.4 0 1 0 6.8 0a3.4 3.4 0 1 0 -6.8 0M673.52 566.03a3.4 3.4 0 1 0 6.8 0a3.4 3.4 0 1 0 -6.8 0M673.66 572.33a3.4 3.4 0 1 0 6.8 0a3.4 3.4 0 1 0 -6.8 0M673.79 566.43a3.4 3.4 0 1 0 6.8 0a3.4 3.4 0 1 0 -6.8 0" fill="none" stroke="#3da878" stroke-width="1" />
<path d="M506.88 542.29h7M512.68 536.45h7M517.79 531.3h7M522.37 526.69h7M526.51 522.53h7M530.29 518.72h7M533.76 515.22h7M536.98 511.48h7M539.98 507.96h7M542.78 504.67h7M545.41 501.57h7M547.9 498.65h7M550.24 495.89h7M552.47 493.36h7M554.59 491.31h7M556.61 489.3h7M558.54 487.12h7M560.39 485.52h7M562.16 483.11h7M563.87 482.64h7M565.51 481.63h7M567.08 481.7h7M568.61 483.98h7M570.08 484.59h7M571.51 486.99h7M572.88 488.85h7M574.22 487.75h7M575.52 491.63h7M576.78 496.39h7M578 496.68h7M579.19 496.01h7M580.35 502.1h7M581.48 507.12h7M582.58 502.11h7M583.65 508.2h7M584.69 506.52h7M585.72 507.2h7M586.71 509.92h7M587.69 518.81h7M588.64 517.38h7M589.58 517.86h7M590.49 516.22h7M591.39 520.79h7M592.27 520.29h7M593.13 526.44h7M593.97 524.13h7M594.8 525.68h7M595.61 527.41h7M596.41 524.34h7M597.19 529.53h7M597.96 527.9h7M598.71 530.01h7M599.45 534.44h7M600.18 536h7M600.9 537.02h7M601.61 540.82h7M602.3 539.46h7M602.99 541.78h7M603.66 536.34h7M604.32 540.88h7M605.62 545.21h7M606.25 546.11h7M606.88 544.08h7M607.49 546.44h7M608.7 543.24h7M609.29 539.04h7M609.88 544.16h7M611.02 546.38h7M611.58 540.16h7M612.13 544.23h7M613.22 546.78h7M613.75 545.43h7M614.28 541.19h7M614.8 542.2h7M615.31 548.2h7M615.82 544.39h7M616.32 540.06h7M616.82 542.12h7M617.31 549.8h7M617.79 543.18h7M618.27 545.53h7M618.75 548.52h7M619.22 543.16h7M620.14 549.6h7M620.6 545.54h7M621.49 543.08h7M621.93 546.35h7M622.37 552.87h7M622.8 544.38h7M623.23 548.65h7M623.65 546.57h7M624.07 549.55h7M624.49 551.98h7M624.9 550.87h7M625.31 553.81h7M625.71 552.65h7M626.11 547.24h7M626.51 544.55h7M626.9 550.31h7M627.68 551.17h7M628.06 548.56h7M628.44 547.03h7M628.81 548.88h7M629.19 551.13h7M629.56 553.98h7M629.92 545.4h7M630.29 549.78h7M630.65 553.74h7M631.01 546.57h7M631.36 552.88h7M631.71 555.55h7M632.06 550.33h7M632.41 547.88h7M632.75 552.75h7M633.09 546.22h7M633.43 555.99h7M634.1 551.01h7M634.43 554.85h7M634.75 552.82h7M635.4 547.88h7M635.72 556.97h7M636.04 549.08h7M636.36 550.9h7M636.67 548.07h7M636.98 553.82h7M637.29 547.58h7M637.9 555.67h7M638.21 547.74h7M638.51 555.33h7M638.8 558.86h7M639.1 555.84h7M639.4 553.66h7M640.27 554.23h7M640.55 556.47h7M641.68 556.33h7M641.96 558.1h7M642.23 552.54h7M642.51 558.04h7M643.05 559.83h7M643.32 555.9h7M643.59 559.62h7M643.85 554.57h7M644.12 558.89h7M644.64 552.54h7M644.9 559.3h7M645.67 551.83h7M645.92 554.94h7M646.17 558.07h7M646.42 556.1h7M646.92 557.1h7M647.41 559.3h7M648.38 555.63h7M648.85 551.18h7M649.09 557.39h7M649.32 555.04h7M649.55 562.03h7M649.78 556.28h7M650.02 551.8h7M650.24 555.13h7M650.47 552.17h7M650.7 555.72h7M650.92 560.46h7M651.15 558.89h7M651.37 555.03h7M651.59 556.71h7M651.82 558.61h7M652.04 555.94h7M652.47 561.1h7M652.9 556.59h7M653.33 553.88h7M653.54 556.91h7M653.76 554.94h7M653.97 560.69h7M654.18 558.14h7M654.38 561.18h7M654.8 556.81h7M655 562.19h7M655.21 554.22h7M655.41 561.08h7M655.61 555.25h7M655.81 557.99h7M656.02 559.78h7M656.21 553.96h7M656.41 558.44h7M656.61 557.19h7M656.81 561.62h7M657.2 556.71h7M657.39 563.45h7M657.78 558.62h7M657.97 554.29h7M658.16 563.12h7M658.35 555.05h7M658.54 556.53h7M658.73 558.69h7M659.1 556.77h7M659.29 555.74h7M659.66 554.52h7M659.84 560.8h7M660.03 557.72h7M660.21 564.39h7M660.57 561.85h7M661.11 556.08h7M661.29 561.3h7M661.46 563.9h7M661.64 565.27h7M661.81 555.23h7M661.99 558.25h7M662.16 562.37h7M662.34 565.18h7M662.51 562.37h7M662.85 561.16h7M663.02 565.93h7M663.19 556.38h7M663.36 560.68h7M663.87 561.89h7M664.03 565.89h7M664.2 559.49h7M664.36 565.35h7M664.53 564.07h7M664.69 558.78h7M665.02 561.76h7M665.18 557.34h7M665.34 563.55h7M665.51 560.08h7M665.67 556.91h7M665.99 559.19h7M666.14 563.41h7M666.3 567.18h7M666.46 556.83h7M666.77 560.3h7M666.93 561.8h7M667.08 563.4h7M667.24 565.62h7M667.39 557.69h7M667.55 563.86h7M667.7 560.9h7M667.85 563.36h7M668.01 567.3h7M668.16 562.8h7M668.31 564.82h7M668.46 559.3h7M668.76 568h7M668.91 558.34h7M669.06 561.78h7M669.2 558.17h7M669.35 563.15h7M669.5 561.05h7M669.64 562.3h7M669.79 563.49h7M669.94 558.98h7M670.08 561.66h7M670.23 564.47h7M670.37 562.66h7M670.51 566.41h7M670.66 563.86h7M670.8 567.35h7M670.94 565.2h7M671.08 561.65h7M671.22 563.49h7M671.51 567.75h7M671.78 566.39h7M672.34 559.68h7M672.61 565.46h7M672.75 562.32h7M673.02 564.35h7M673.15 565.5h7M673.29 563.94h7M673.42 567.31h7M673.56 562.26h7M673.69 567.97h7" stroke="#6cbde8" stroke-width="0.7" fill="none"/>
<path d="M510.38 538.68L514.29 544.93L506.47 544.93zM516.18 532.84L520.09 539.09L512.27 539.09zM521.29 527.69L525.2 533.94L517.38 533.94zM525.87 523.08L529.78 529.34L521.96 529.34zM530.01 518.92L533.92 525.17L526.1 525.17zM533.79 515.11L537.7 521.37L529.88 521.37zM537.26 511.61L541.17 517.87L533.35 517.87zM540.48 507.87L544.39 514.13L536.57 514.13zM543.48 504.35L547.39 510.61L539.57 510.61zM546.28 501.06L550.19 507.31L542.37 507.31zM548.91 497.96L552.82 504.22L545 504.22zM551.4 495.04L555.31 501.3L547.49 501.3zM553.74 492.28L557.65 498.54L549.83 498.54zM555.97 489.75L559.88 496.01L552.06 496.01zM558.09 487.7L562 493.96L554.18 493.96zM560.11 485.69L564.02 491.94L556.2 491.94zM562.04 483.51L565.95 489.77L558.13 489.77zM563.89 481.91L567.8 488.16L559.98 488.16zM565.66 479.5L569.57 485.75L561.75 485.75zM567.37 479.03L571.28 485.29L563.46 485.29zM569.01 478.02L572.92 484.27L565.1 484.27zM570.58 478.09L574.49 484.34L566.67 484.34zM572.11 480.37L576.02 486.62L568.2 486.62zM573.58 480.98L577.49 487.23L569.67 487.23zM575.01 483.38L578.92 489.64L571.1 489.64zM576.38 485.24L580.29 491.49L572.47 491.49zM577.72 484.14L581.63 490.39L573.81 490.39zM579.02 488.02L582.93 494.28L575.11 494.28zM580.28 492.78L584.19 499.03L576.37 499.03zM581.5 493.07L585.41 499.33L577.59 499.33zM582.69 492.4L586.6 498.66L578.78 498.66zM583.85 498.49L587.76 504.74L579.94 504.74zM584.98 503.51L588.89 509.76L581.07 509.76zM586.08 498.5L589.99 504.75L582.17 504.75zM587.15 504.59L591.06 510.85L583.24 510.85zM588.19 502.91L592.1 509.16L584.28 509.16zM589.22 503.59L593.13 509.84L585.31 509.84zM590.21 506.31L594.12 512.57L586.3 512.57zM591.19 515.2L595.1 521.46L587.28 521.46zM592.14 513.77L596.05 520.02L588.23 520.02zM593.08 514.25L596.99 520.51L589.17 520.51zM593.99 512.61L597.9 518.86L590.08 518.86zM594.89 517.18L598.8 523.44L590.98 523.44zM595.77 516.68L599.68 522.93L591.86 522.93zM596.63 522.83L600.54 529.09L592.72 529.09zM597.47 520.52L601.38 526.77L593.56 526.77zM598.3 522.07L602.21 528.32L594.39 528.32zM599.11 523.8L603.02 530.06L595.2 530.06zM599.91 520.73L603.82 526.99L596 526.99zM600.69 525.92L604.6 532.17L596.78 532.17zM601.46 524.29L605.37 530.55L597.55 530.55zM602.21 526.4L606.12 532.65L598.3 532.65zM602.95 530.83L606.86 537.08L599.04 537.08zM603.68 532.39L607.59 538.64L599.77 538.64zM604.4 533.41L608.31 539.67L600.49 539.67zM605.11 537.21L609.02 543.47L601.2 543.47zM605.8 535.85L609.71 542.11L601.89 542.11zM606.49 538.17L610.4 544.42L602.58 544.42zM607.16 532.73L611.07 538.99L603.25 538.99zM607.82 537.27L611.73 543.53L603.91 543.53zM609.12 541.6L613.03 547.85L605.21 547.85zM609.75 542.5L613.66 548.76L605.84 548.76zM610.38 540.47L614.29 546.73L606.47 546.73zM610.99 542.83L614.9 549.09L607.08 549.09zM612.2 539.63L616.11 545.89L608.29 545.89zM612.79 535.43L616.7 541.69L608.88 541.69zM613.38 540.55L617.29 546.8L609.47 546.8zM614.52 542.77L618.43 549.03L610.61 549.03zM615.08 536.55L618.99 542.81L611.17 542.81zM615.63 540.62L619.54 546.87L611.72 546.87zM616.72 543.17L620.63 549.43L612.81 549.43zM617.25 541.82L621.16 548.08L613.34 548.08zM617.78 537.58L621.69 543.84L613.87 543.84zM618.3 538.59L622.21 544.85L614.39 544.85zM618.81 544.59L622.72 550.84L614.9 550.84zM619.32 540.78L623.23 547.03L615.41 547.03zM619.82 536.45L623.73 542.7L615.91 542.7zM620.32 538.51L624.23 544.77L616.41 544.77zM620.81 546.19L624.72 552.45L616.9 552.45zM621.29 539.57L625.2 545.83L617.38 545.83zM621.77 541.92L625.68 548.18L617.86 548.18zM622.25 544.91L626.16 551.16L618.34 551.16zM622.72 539.55L626.63 545.81L618.81 545.81zM623.64 545.99L627.55 552.24L619.73 552.24zM624.1 541.93L628.01 548.19L620.19 548.19zM624.99 539.47L628.9 545.73L621.08 545.73zM625.43 542.74L629.34 548.99L621.52 548.99zM625.87 549.26L629.78 555.51L621.96 555.51zM626.3 540.77L630.21 547.02L622.39 547.02zM626.73 545.04L630.64 551.3L622.82 551.3zM627.15 542.96L631.06 549.22L623.24 549.22zM627.57 545.94L631.48 552.2L623.66 552.2zM627.99 548.37L631.9 554.63L624.08 554.63zM628.4 547.26L632.31 553.51L624.49 553.51zM628.81 550.2L632.72 556.46L624.9 556.46zM629.21 549.04L633.12 555.29L625.3 555.29zM629.61 543.63L633.52 549.89L625.7 549.89zM630.01 540.94L633.92 547.2L626.1 547.2zM630.4 546.7L634.31 552.95L626.49 552.95zM631.18 547.56L635.09 553.82L627.27 553.82zM631.56 544.95L635.47 551.21L627.65 551.21zM631.94 543.42L635.85 549.68L628.03 549.68zM632.31 545.27L636.22 551.53L628.4 551.53zM632.69 547.52L636.6 553.78L628.78 553.78zM633.06 550.37L636.97 556.63L629.15 556.63zM633.42 541.79L637.33 548.05L629.51 548.05zM633.79 546.17L637.7 552.43L629.88 552.43zM634.15 550.13L638.06 556.39L630.24 556.39zM634.51 542.96L638.42 549.21L630.6 549.21zM634.86 549.27L638.77 555.53L630.95 555.53zM635.21 551.94L639.12 558.19L631.3 558.19zM635.56 546.72L639.47 552.98L631.65 552.98zM635.91 544.27L639.82 550.52L632 550.52zM636.25 549.14L640.16 555.39L632.34 555.39zM636.59 542.61L640.5 548.87L632.68 548.87zM636.93 552.38L640.84 558.64L633.02 558.64zM637.6 547.4L641.51 553.65L633.69 553.65zM637.93 551.24L641.84 557.5L634.02 557.5zM638.25 549.21L642.16 555.47L634.34 555.47zM638.9 544.27L642.81 550.52L634.99 550.52zM639.22 553.36L643.13 559.62L635.31 559.62zM639.54 545.47L643.45 551.72L635.63 551.72zM639.86 547.29L643.77 553.55L635.95 553.55zM640.17 544.46L644.08 550.71L636.26 550.71zM640.48 550.21L644.39 556.46L636.57 556.46zM640.79 543.97L644.7 550.22L636.88 550.22zM641.4 552.06L645.31 558.31L637.49 558.31zM641.71 544.13L645.62 550.39L637.8 550.39zM642.01 551.72L645.92 557.98L638.1 557.98zM642.3 555.25L646.21 561.5L638.39 561.5zM642.6 552.23L646.51 558.49L638.69 558.49zM642.9 550.05L646.81 556.31L638.99 556.31zM643.77 550.62L647.68 556.88L639.86 556.88zM644.05 552.86L647.96 559.12L640.14 559.12zM645.18 552.72L649.09 558.98L641.27 558.98zM645.46 554.49L649.37 560.75L641.55 560.75zM645.73 548.93L649.64 555.18L641.82 555.18zM646.01 554.43L649.92 560.69L642.1 560.69zM646.55 556.22L650.46 562.48L642.64 562.48zM646.82 552.29L650.73 558.54L642.91 558.54zM647.09 556.01L651 562.27L643.18 562.27zM647.35 550.96L651.26 557.22L643.44 557.22zM647.62 555.28L651.53 561.54L643.71 561.54zM648.14 548.93L652.05 555.18L644.23 555.18zM648.4 555.69L652.31 561.95L644.49 561.95zM649.17 548.22L653.08 554.48L645.26 554.48zM649.42 551.33L653.33 557.59L645.51 557.59zM649.67 554.46L653.58 560.71L645.76 560.71zM649.92 552.49L653.83 558.75L646.01 558.75zM650.42 553.49L654.33 559.75L646.51 559.75zM650.91 555.69L654.82 561.95L647 561.95zM651.88 552.02L655.79 558.27L647.97 558.27zM652.35 547.57L656.26 553.83L648.44 553.83zM652.59 553.78L656.5 560.03L648.68 560.03zM652.82 551.43L656.73 557.68L648.91 557.68zM653.05 558.42L656.96 564.67L649.14 564.67zM653.28 552.67L657.19 558.92L649.37 558.92zM653.52 548.19L657.43 554.45L649.61 554.45zM653.74 551.52L657.65 557.78L649.83 557.78zM653.97 548.56L657.88 554.82L650.06 554.82zM654.2 552.11L658.11 558.36L650.29 558.36zM654.42 556.85L658.33 563.11L650.51 563.11zM654.65 555.28L658.56 561.54L650.74 561.54zM654.87 551.42L658.78 557.68L650.96 557.68zM655.09 553.1L659 559.35L651.18 559.35zM655.32 555L659.23 561.26L651.41 561.26zM655.54 552.33L659.45 558.58L651.63 558.58zM655.97 557.49L659.88 563.74L652.06 563.74zM656.4 552.98L660.31 559.23L652.49 559.23zM656.83 550.27L660.74 556.53L652.92 556.53zM657.04 553.3L660.95 559.55L653.13 559.55zM657.26 551.33L661.17 557.59L653.35 557.59zM657.47 557.08L661.38 563.33L653.56 563.33zM657.68 554.53L661.59 560.79L653.77 560.79zM657.88 557.57L661.79 563.83L653.97 563.83zM658.3 553.2L662.21 559.46L654.39 559.46zM658.5 558.58L662.41 564.83L654.59 564.83zM658.71 550.61L662.62 556.86L654.8 556.86zM658.91 557.47L662.82 563.72L655 563.72zM659.11 551.64L663.02 557.9L655.2 557.9zM659.31 554.38L663.22 560.63L655.4 560.63zM659.52 556.17L663.43 562.42L655.61 562.42zM659.71 550.35L663.62 556.6L655.8 556.6zM659.91 554.83L663.82 561.08L656 561.08zM660.11 553.58L664.02 559.84L656.2 559.84zM660.31 558.01L664.22 564.27L656.4 564.27zM660.7 553.1L664.61 559.36L656.79 559.36zM660.89 559.84L664.8 566.1L656.98 566.1zM661.28 555.01L665.19 561.27L657.37 561.27zM661.47 550.68L665.38 556.94L657.56 556.94zM661.66 559.51L665.57 565.76L657.75 565.76zM661.85 551.44L665.76 557.7L657.94 557.7zM662.04 552.92L665.95 559.18L658.13 559.18zM662.23 555.08L666.14 561.34L658.32 561.34zM662.6 553.16L666.51 559.41L658.69 559.41zM662.79 552.13L666.7 558.38L658.88 558.38zM663.16 550.91L667.07 557.17L659.25 557.17zM663.34 557.19L667.25 563.45L659.43 563.45zM663.53 554.11L667.44 560.37L659.62 560.37zM663.71 560.78L667.62 567.03L659.8 567.03zM664.07 558.24L667.98 564.49L660.16 564.49zM664.61 552.47L668.52 558.72L660.7 558.72zM664.79 557.69L668.7 563.95L660.88 563.95zM664.96 560.29L668.87 566.55L661.05 566.55zM665.14 561.66L669.05 567.92L661.23 567.92zM665.31 551.62L669.22 557.88L661.4 557.88zM665.49 554.64L669.4 560.9L661.58 560.9zM665.66 558.76L669.57 565.02L661.75 565.02zM665.84 561.57L669.75 567.82L661.93 567.82zM666.01 558.76L669.92 565.02L662.1 565.02zM666.35 557.55L670.26 563.8L662.44 563.8zM666.52 562.32L670.43 568.58L662.61 568.58zM666.69 552.77L670.6 559.02L662.78 559.02zM666.86 557.07L670.77 563.33L662.95 563.33zM667.37 558.28L671.28 564.53L663.46 564.53zM667.53 562.28L671.44 568.54L663.62 568.54zM667.7 555.88L671.61 562.14L663.79 562.14zM667.86 561.74L671.77 568L663.95 568zM668.03 560.46L671.94 566.71L664.12 566.71zM668.19 555.17L672.1 561.43L664.28 561.43zM668.52 558.15L672.43 564.4L664.61 564.4zM668.68 553.73L672.59 559.98L664.77 559.98zM668.84 559.94L672.75 566.19L664.93 566.19zM669.01 556.47L672.92 562.73L665.1 562.73zM669.17 553.3L673.08 559.56L665.26 559.56zM669.49 555.58L673.4 561.84L665.58 561.84zM669.64 559.8L673.55 566.05L665.73 566.05zM669.8 563.57L673.71 569.82L665.89 569.82zM669.96 553.22L673.87 559.48L666.05 559.48zM670.27 556.69L674.18 562.94L666.36 562.94zM670.43 558.19L674.34 564.45L666.52 564.45zM670.58 559.79L674.49 566.05L666.67 566.05zM670.74 562.01L674.65 568.27L666.83 568.27zM670.89 554.08L674.8 560.34L666.98 560.34zM671.05 560.25L674.96 566.5L667.14 566.5zM671.2 557.29L675.11 563.55L667.29 563.55zM671.35 559.75L675.26 566.01L667.44 566.01zM671.51 563.69L675.42 569.95L667.6 569.95zM671.66 559.19L675.57 565.44L667.75 565.44zM671.81 561.21L675.72 567.47L667.9 567.47zM671.96 555.69L675.87 561.95L668.05 561.95zM672.26 564.39L676.17 570.65L668.35 570.65zM672.41 554.73L676.32 560.99L668.5 560.99zM672.56 558.17L676.47 564.43L668.65 564.43zM672.7 554.56L676.61 560.81L668.79 560.81zM672.85 559.54L676.76 565.8L668.94 565.8zM673 557.44L676.91 563.69L669.09 563.69zM673.14 558.69L677.05 564.95L669.23 564.95zM673.29 559.88L677.2 566.14L669.38 566.14zM673.44 555.37L677.35 561.62L669.53 561.62zM673.58 558.05L677.49 564.31L669.67 564.31zM673.73 560.86L677.64 567.12L669.82 567.12zM673.87 559.05L677.78 565.3L669.96 565.3zM674.01 562.8L677.92 569.05L670.1 569.05zM674.16 560.25L678.07 566.5L670.25 566.5zM674.3 563.74L678.21 570L670.39 570zM674.44 561.59L678.35 567.85L670.53 567.85zM674.58 558.04L678.49 564.29L670.67 564.29zM674.72 559.88L678.63 566.14L670.81 566.14zM675.01 564.14L678.92 570.4L671.1 570.4zM675.28 562.78L679.19 569.03L671.37 569.03zM675.84 556.07L679.75 562.33L671.93 562.33zM676.11 561.85L680.02 568.1L672.2 568.1zM676.25 558.71L680.16 564.96L672.34 564.96zM676.52 560.74L680.43 566.99L672.61 566.99zM676.65 561.89L680.56 568.15L672.74 568.15zM676.79 560.33L680.7 566.59L672.88 566.59zM676.92 563.7L680.83 569.96L673.01 569.96zM677.06 558.65L680.97 564.9L673.15 564.9zM677.19 564.36L681.1 570.62L673.28 570.62z" fill="none" stroke="#6cbde8" stroke-width="1" />
<path d="M506.88 532.16h7M512.68 528.83h7M517.79 520.78h7M522.37 513.58h7M526.51 507.07h7M530.29 501.12h7M533.76 495.65h7M536.98 489.49h7M539.98 483.75h7M542.78 478.38h7M545.41 473.35h7M547.9 470.81h7M550.24 468.39h7M552.47 466.09h7M554.59 464.17h7M556.61 462.23h7M558.54 460.92h7M560.39 460.62h7M562.16 461.21h7M563.87 464.31h7M565.51 467.52h7M567.08 469.5h7M568.61 473.91h7M570.08 476.96h7M571.51 479.05h7M572.88 481.62h7M574.22 487.5h7M575.52 486.16h7M576.78 491.18h7M578 492.14h7M579.19 498.29h7M580.35 499.61h7M581.48 503.27h7M582.58 505.8h7M583.65 504.24h7M584.69 508.09h7M585.72 510.72h7M586.71 518.46h7M587.69 522.23h7M588.64 518.57h7M589.58 523.78h7M590.49 520.18h7M591.39 530.44h7M592.27 524.59h7M593.13 530.02h7M593.97 527.11h7M594.8 529.92h7M596.41 527.28h7M597.19 528.67h7M597.96 533.13h7M598.71 530.3h7M599.45 534.85h7M600.18 535.6h7M600.9 533.55h7M601.61 535.67h7M602.99 541.98h7M603.66 536.37h7M604.98 536.14h7M605.62 537.95h7M606.25 545.07h7M606.88 542.47h7M607.49 539.62h7M608.1 544.58h7M609.29 540.19h7M610.45 547.19h7M611.02 542.52h7M611.58 547.65h7M612.13 539.08h7M613.22 542.5h7M613.75 539.89h7M614.28 547.95h7M614.8 540.7h7M615.31 544.78h7M615.82 549.5h7M616.32 546.62h7M616.82 549.33h7M617.31 545.97h7M618.27 545.14h7M618.75 548.93h7M619.68 543.76h7M620.14 546.36h7M620.6 550.6h7M621.05 544.1h7M621.49 548.76h7M621.93 542.45h7M622.37 551.77h7M622.8 545.51h7M623.23 553.08h7M624.07 546.29h7M624.49 548.39h7M624.9 544.76h7M625.31 546.78h7M625.71 545.14h7M626.11 552.78h7M626.51 554.5h7M626.9 550.56h7M627.29 553.93h7M627.68 551.95h7M628.06 551h7M628.44 552.41h7M628.81 549.72h7M629.19 555.36h7M629.56 546.71h7M629.92 548.04h7M630.29 546.27h7M630.65 555.27h7M631.01 552.38h7M631.36 556.12h7M631.71 546.61h7M632.06 554.13h7M632.41 546.67h7M632.75 551.15h7M633.09 549.58h7M633.43 555.42h7M633.76 548.5h7M634.1 550.46h7M634.43 555.82h7M634.75 553.37h7M635.08 550.46h7M635.4 555.54h7M635.72 548.52h7M636.04 554.65h7M636.36 551.89h7M636.67 556.7h7M636.98 554.7h7M637.29 552.31h7M637.6 550.31h7M637.9 555.32h7M638.21 549.86h7M638.51 556.5h7M638.8 553.66h7M639.1 556.71h7M639.4 554.62h7M639.69 556.51h7M639.98 549.61h7M640.27 550.85h7M640.55 554.84h7M640.84 553.75h7M641.12 557.69h7M641.4 556.47h7M641.68 551.16h7M641.96 549.91h7M642.23 553h7M642.51 556.73h7M643.05 560.02h7M643.32 557.45h7M643.59 554.35h7M643.85 551h7M644.12 556.57h7M644.38 552.75h7M644.9 558.37h7M645.41 556.21h7M645.67 553.41h7M645.92 556.7h7M646.17 551.98h7M646.67 561.22h7M646.92 557.15h7M647.17 559.1h7M647.41 552.21h7M647.65 558.38h7M647.9 550.54h7M648.14 560.12h7M648.38 556.29h7M648.61 551.36h7M648.85 556.35h7M649.09 560.16h7M649.32 553.57h7M649.55 558.2h7M649.78 555.85h7M650.02 553.85h7M650.24 556.81h7M650.47 554.22h7M650.7 556.24h7M650.92 553.47h7M651.15 559.15h7M651.59 554.92h7M652.04 553.68h7M652.25 552.67h7M652.47 554.95h7M652.69 557.52h7M652.9 552.9h7M653.12 554.02h7M653.33 557.85h7M653.54 559.41h7M653.76 557.61h7M653.97 554.32h7M654.18 555.95h7M654.38 561.36h7M654.59 562.5h7M654.8 559.45h7M655 555.63h7M655.21 554.27h7M655.61 558.31h7M655.81 560.13h7M656.02 553.64h7M656.21 560.83h7M656.41 554.89h7M656.61 564.14h7M656.81 554.54h7M657 560.52h7M657.2 557.96h7M657.39 560.15h7M657.78 558.28h7M657.97 560.93h7M658.16 559.28h7M658.35 556.71h7M658.54 554.64h7M658.73 563.69h7M658.92 562.49h7M659.29 554.72h7M659.48 559.38h7M659.66 563.04h7M659.84 558.83h7M660.21 562.79h7M660.39 559.64h7M660.57 562.87h7M660.75 558.96h7M661.11 564.47h7M661.29 557.46h7M661.46 561.59h7M661.64 559.18h7M661.81 562.16h7M662.16 557.25h7M662.51 564.55h7M662.68 556.64h7M663.02 559.65h7M663.19 560.94h7M663.36 562.49h7M663.53 555.31h7M663.7 561.82h7M663.87 564.36h7M664.2 557.59h7M664.36 563.75h7M664.69 555.94h7M664.86 560.26h7M665.18 564.36h7M665.34 556.68h7M665.51 559.95h7M665.67 557.1h7M666.3 563.46h7M666.46 566.49h7M666.62 560.93h7M666.77 565.33h7M666.93 559.29h7M667.08 562.76h7M667.24 557.91h7M667.39 565.97h7M667.55 560.43h7M667.7 566.91h7M667.85 562.87h7M668.01 558.77h7M668.16 564.81h7M668.31 560.68h7M668.46 565.59h7M668.61 567.44h7M668.76 566.22h7M668.91 558.82h7M669.2 560.34h7M669.35 567.42h7M669.64 565.65h7M669.79 557.85h7M669.94 559.58h7M670.08 562.12h7M670.23 558.01h7M670.37 559.73h7M670.51 562.97h7M670.66 557.84h7M670.8 567.26h7M670.94 563.26h7M671.08 561.44h7M671.22 567.49h7M671.51 561.22h7M672.06 567.68h7M672.34 562.33h7M672.48 560.28h7M672.61 565.73h7M672.75 560.27h7M673.15 559.16h7M673.42 560.2h7M673.56 561.97h7M673.69 568.29h7" stroke="#e09a2a" stroke-width="0.7" fill="none"/>
<path d="M510.38 536.37L514.29 530.11L506.47 530.11zM516.18 533.04L520.09 526.78L512.27 526.78zM521.29 524.99L525.2 518.73L517.38 518.73zM525.87 517.79L529.78 511.53L521.96 511.53zM530.01 511.28L533.92 505.02L526.1 505.02zM533.79 505.33L537.7 499.08L529.88 499.08zM537.26 499.86L541.17 493.61L533.35 493.61zM540.48 493.7L544.39 487.45L536.57 487.45zM543.48 487.96L547.39 481.71L539.57 481.71zM546.28 482.59L550.19 476.34L542.37 476.34zM548.91 477.56L552.82 471.31L545 471.31zM551.4 475.02L555.31 468.76L547.49 468.76zM553.74 472.6L557.65 466.35L549.83 466.35zM555.97 470.3L559.88 464.05L552.06 464.05zM558.09 468.38L562 462.13L554.18 462.13zM560.11 466.44L564.02 460.19L556.2 460.19zM562.04 465.13L565.95 458.87L558.13 458.87zM563.89 464.83L567.8 458.57L559.98 458.57zM565.66 465.42L569.57 459.16L561.75 459.16zM567.37 468.52L571.28 462.26L563.46 462.26zM569.01 471.73L572.92 465.47L565.1 465.47zM570.58 473.71L574.49 467.46L566.67 467.46zM572.11 478.12L576.02 471.87L568.2 471.87zM573.58 481.17L577.49 474.91L569.67 474.91zM575.01 483.26L578.92 477L571.1 477zM576.38 485.83L580.29 479.57L572.47 479.57zM577.72 491.71L581.63 485.45L573.81 485.45zM579.02 490.37L582.93 484.11L575.11 484.11zM580.28 495.39L584.19 489.14L576.37 489.14zM581.5 496.35L585.41 490.1L577.59 490.1zM582.69 502.5L586.6 496.24L578.78 496.24zM583.85 503.82L587.76 497.57L579.94 497.57zM584.98 507.48L588.89 501.22L581.07 501.22zM586.08 510.01L589.99 503.76L582.17 503.76zM587.15 508.45L591.06 502.19L583.24 502.19zM588.19 512.3L592.1 506.05L584.28 506.05zM589.22 514.93L593.13 508.68L585.31 508.68zM590.21 522.67L594.12 516.41L586.3 516.41zM591.19 526.44L595.1 520.18L587.28 520.18zM592.14 522.78L596.05 516.53L588.23 516.53zM593.08 527.99L596.99 521.74L589.17 521.74zM593.99 524.39L597.9 518.13L590.08 518.13zM594.89 534.65L598.8 528.4L590.98 528.4zM595.77 528.8L599.68 522.55L591.86 522.55zM596.63 534.23L600.54 527.97L592.72 527.97zM597.47 531.32L601.38 525.06L593.56 525.06zM598.3 534.13L602.21 527.87L594.39 527.87zM599.91 531.49L603.82 525.24L596 525.24zM600.69 532.88L604.6 526.62L596.78 526.62zM601.46 537.34L605.37 531.09L597.55 531.09zM602.21 534.51L606.12 528.26L598.3 528.26zM602.95 539.06L606.86 532.81L599.04 532.81zM603.68 539.81L607.59 533.56L599.77 533.56zM604.4 537.76L608.31 531.51L600.49 531.51zM605.11 539.88L609.02 533.62L601.2 533.62zM606.49 546.19L610.4 539.94L602.58 539.94zM607.16 540.58L611.07 534.32L603.25 534.32zM608.48 540.35L612.39 534.09L604.57 534.09zM609.12 542.16L613.03 535.9L605.21 535.9zM609.75 549.28L613.66 543.02L605.84 543.02zM610.38 546.68L614.29 540.43L606.47 540.43zM610.99 543.83L614.9 537.57L607.08 537.57zM611.6 548.79L615.51 542.54L607.69 542.54zM612.79 544.4L616.7 538.14L608.88 538.14zM613.95 551.4L617.86 545.15L610.04 545.15zM614.52 546.73L618.43 540.47L610.61 540.47zM615.08 551.86L618.99 545.61L611.17 545.61zM615.63 543.29L619.54 537.03L611.72 537.03zM616.72 546.71L620.63 540.46L612.81 540.46zM617.25 544.1L621.16 537.84L613.34 537.84zM617.78 552.16L621.69 545.9L613.87 545.9zM618.3 544.91L622.21 538.66L614.39 538.66zM618.81 548.99L622.72 542.73L614.9 542.73zM619.32 553.71L623.23 547.45L615.41 547.45zM619.82 550.83L623.73 544.58L615.91 544.58zM620.32 553.54L624.23 547.29L616.41 547.29zM620.81 550.18L624.72 543.92L616.9 543.92zM621.77 549.35L625.68 543.09L617.86 543.09zM622.25 553.14L626.16 546.89L618.34 546.89zM623.18 547.97L627.09 541.71L619.27 541.71zM623.64 550.57L627.55 544.31L619.73 544.31zM624.1 554.81L628.01 548.56L620.19 548.56zM624.55 548.31L628.46 542.05L620.64 542.05zM624.99 552.97L628.9 546.71L621.08 546.71zM625.43 546.66L629.34 540.4L621.52 540.4zM625.87 555.98L629.78 549.73L621.96 549.73zM626.3 549.72L630.21 543.46L622.39 543.46zM626.73 557.29L630.64 551.04L622.82 551.04zM627.57 550.5L631.48 544.25L623.66 544.25zM627.99 552.6L631.9 546.35L624.08 546.35zM628.4 548.97L632.31 542.71L624.49 542.71zM628.81 550.99L632.72 544.73L624.9 544.73zM629.21 549.35L633.12 543.09L625.3 543.09zM629.61 556.99L633.52 550.74L625.7 550.74zM630.01 558.71L633.92 552.46L626.1 552.46zM630.4 554.77L634.31 548.52L626.49 548.52zM630.79 558.14L634.7 551.88L626.88 551.88zM631.18 556.16L635.09 549.91L627.27 549.91zM631.56 555.21L635.47 548.95L627.65 548.95zM631.94 556.62L635.85 550.36L628.03 550.36zM632.31 553.93L636.22 547.67L628.4 547.67zM632.69 559.57L636.6 553.32L628.78 553.32zM633.06 550.92L636.97 544.66L629.15 544.66zM633.42 552.25L637.33 546L629.51 546zM633.79 550.48L637.7 544.22L629.88 544.22zM634.15 559.48L638.06 553.22L630.24 553.22zM634.51 556.59L638.42 550.34L630.6 550.34zM634.86 560.33L638.77 554.08L630.95 554.08zM635.21 550.82L639.12 544.56L631.3 544.56zM635.56 558.34L639.47 552.08L631.65 552.08zM635.91 550.88L639.82 544.63L632 544.63zM636.25 555.36L640.16 549.1L632.34 549.1zM636.59 553.79L640.5 547.53L632.68 547.53zM636.93 559.63L640.84 553.38L633.02 553.38zM637.26 552.71L641.17 546.45L633.35 546.45zM637.6 554.67L641.51 548.42L633.69 548.42zM637.93 560.03L641.84 553.78L634.02 553.78zM638.25 557.58L642.16 551.33L634.34 551.33zM638.58 554.67L642.49 548.42L634.67 548.42zM638.9 559.75L642.81 553.49L634.99 553.49zM639.22 552.73L643.13 546.47L635.31 546.47zM639.54 558.86L643.45 552.6L635.63 552.6zM639.86 556.1L643.77 549.84L635.95 549.84zM640.17 560.91L644.08 554.66L636.26 554.66zM640.48 558.91L644.39 552.66L636.57 552.66zM640.79 556.52L644.7 550.26L636.88 550.26zM641.1 554.52L645.01 548.27L637.19 548.27zM641.4 559.53L645.31 553.28L637.49 553.28zM641.71 554.07L645.62 547.81L637.8 547.81zM642.01 560.71L645.92 554.45L638.1 554.45zM642.3 557.87L646.21 551.61L638.39 551.61zM642.6 560.92L646.51 554.67L638.69 554.67zM642.9 558.83L646.81 552.58L638.99 552.58zM643.19 560.72L647.1 554.46L639.28 554.46zM643.48 553.82L647.39 547.56L639.57 547.56zM643.77 555.06L647.68 548.8L639.86 548.8zM644.05 559.05L647.96 552.79L640.14 552.79zM644.34 557.96L648.25 551.7L640.43 551.7zM644.62 561.9L648.53 555.65L640.71 555.65zM644.9 560.68L648.81 554.43L640.99 554.43zM645.18 555.37L649.09 549.11L641.27 549.11zM645.46 554.12L649.37 547.86L641.55 547.86zM645.73 557.21L649.64 550.95L641.82 550.95zM646.01 560.94L649.92 554.68L642.1 554.68zM646.55 564.23L650.46 557.97L642.64 557.97zM646.82 561.66L650.73 555.4L642.91 555.4zM647.09 558.56L651 552.3L643.18 552.3zM647.35 555.21L651.26 548.96L643.44 548.96zM647.62 560.78L651.53 554.53L643.71 554.53zM647.88 556.96L651.79 550.7L643.97 550.7zM648.4 562.58L652.31 556.32L644.49 556.32zM648.91 560.42L652.82 554.17L645 554.17zM649.17 557.62L653.08 551.36L645.26 551.36zM649.42 560.91L653.33 554.66L645.51 554.66zM649.67 556.19L653.58 549.93L645.76 549.93zM650.17 565.43L654.08 559.17L646.26 559.17zM650.42 561.36L654.33 555.1L646.51 555.1zM650.67 563.31L654.58 557.05L646.76 557.05zM650.91 556.42L654.82 550.16L647 550.16zM651.15 562.59L655.06 556.34L647.24 556.34zM651.4 554.75L655.31 548.5L647.49 548.5zM651.64 564.33L655.55 558.07L647.73 558.07zM651.88 560.5L655.79 554.24L647.97 554.24zM652.11 555.57L656.02 549.31L648.2 549.31zM652.35 560.56L656.26 554.3L648.44 554.3zM652.59 564.37L656.5 558.11L648.68 558.11zM652.82 557.78L656.73 551.52L648.91 551.52zM653.05 562.41L656.96 556.16L649.14 556.16zM653.28 560.06L657.19 553.81L649.37 553.81zM653.52 558.06L657.43 551.8L649.61 551.8zM653.74 561.02L657.65 554.77L649.83 554.77zM653.97 558.43L657.88 552.17L650.06 552.17zM654.2 560.45L658.11 554.19L650.29 554.19zM654.42 557.68L658.33 551.43L650.51 551.43zM654.65 563.36L658.56 557.1L650.74 557.1zM655.09 559.13L659 552.87L651.18 552.87zM655.54 557.89L659.45 551.64L651.63 551.64zM655.75 556.88L659.66 550.62L651.84 550.62zM655.97 559.16L659.88 552.91L652.06 552.91zM656.19 561.73L660.1 555.48L652.28 555.48zM656.4 557.11L660.31 550.85L652.49 550.85zM656.62 558.23L660.53 551.98L652.71 551.98zM656.83 562.06L660.74 555.8L652.92 555.8zM657.04 563.62L660.95 557.36L653.13 557.36zM657.26 561.82L661.17 555.56L653.35 555.56zM657.47 558.53L661.38 552.27L653.56 552.27zM657.68 560.16L661.59 553.9L653.77 553.9zM657.88 565.57L661.79 559.31L653.97 559.31zM658.09 566.71L662 560.45L654.18 560.45zM658.3 563.66L662.21 557.4L654.39 557.4zM658.5 559.84L662.41 553.59L654.59 553.59zM658.71 558.48L662.62 552.23L654.8 552.23zM659.11 562.52L663.02 556.26L655.2 556.26zM659.31 564.34L663.22 558.08L655.4 558.08zM659.52 557.85L663.43 551.59L655.61 551.59zM659.71 565.04L663.62 558.78L655.8 558.78zM659.91 559.1L663.82 552.85L656 552.85zM660.11 568.35L664.02 562.1L656.2 562.1zM660.31 558.75L664.22 552.49L656.4 552.49zM660.5 564.73L664.41 558.47L656.59 558.47zM660.7 562.17L664.61 555.91L656.79 555.91zM660.89 564.36L664.8 558.1L656.98 558.1zM661.28 562.49L665.19 556.23L657.37 556.23zM661.47 565.14L665.38 558.88L657.56 558.88zM661.66 563.49L665.57 557.24L657.75 557.24zM661.85 560.92L665.76 554.67L657.94 554.67zM662.04 558.85L665.95 552.59L658.13 552.59zM662.23 567.9L666.14 561.65L658.32 561.65zM662.42 566.7L666.33 560.45L658.51 560.45zM662.79 558.93L666.7 552.68L658.88 552.68zM662.98 563.59L666.89 557.34L659.07 557.34zM663.16 567.25L667.07 560.99L659.25 560.99zM663.34 563.04L667.25 556.78L659.43 556.78zM663.71 567L667.62 560.75L659.8 560.75zM663.89 563.85L667.8 557.59L659.98 557.59zM664.07 567.08L667.98 560.82L660.16 560.82zM664.25 563.17L668.16 556.92L660.34 556.92zM664.61 568.68L668.52 562.42L660.7 562.42zM664.79 561.67L668.7 555.42L660.88 555.42zM664.96 565.8L668.87 559.54L661.05 559.54zM665.14 563.39L669.05 557.14L661.23 557.14zM665.31 566.37L669.22 560.11L661.4 560.11zM665.66 561.46L669.57 555.21L661.75 555.21zM666.01 568.76L669.92 562.51L662.1 562.51zM666.18 560.85L670.09 554.59L662.27 554.59zM666.52 563.86L670.43 557.61L662.61 557.61zM666.69 565.15L670.6 558.89L662.78 558.89zM666.86 566.7L670.77 560.44L662.95 560.44zM667.03 559.52L670.94 553.26L663.12 553.26zM667.2 566.03L671.11 559.77L663.29 559.77zM667.37 568.57L671.28 562.32L663.46 562.32zM667.7 561.8L671.61 555.54L663.79 555.54zM667.86 567.96L671.77 561.7L663.95 561.7zM668.19 560.15L672.1 553.89L664.28 553.89zM668.36 564.47L672.27 558.21L664.45 558.21zM668.68 568.57L672.59 562.32L664.77 562.32zM668.84 560.89L672.75 554.63L664.93 554.63zM669.01 564.16L672.92 557.9L665.1 557.9zM669.17 561.31L673.08 555.05L665.26 555.05zM669.8 567.67L673.71 561.42L665.89 561.42zM669.96 570.7L673.87 564.45L666.05 564.45zM670.12 565.14L674.03 558.88L666.21 558.88zM670.27 569.54L674.18 563.28L666.36 563.28zM670.43 563.5L674.34 557.24L666.52 557.24zM670.58 566.97L674.49 560.72L666.67 560.72zM670.74 562.12L674.65 555.87L666.83 555.87zM670.89 570.18L674.8 563.92L666.98 563.92zM671.05 564.64L674.96 558.38L667.14 558.38zM671.2 571.12L675.11 564.86L667.29 564.86zM671.35 567.08L675.26 560.83L667.44 560.83zM671.51 562.98L675.42 556.72L667.6 556.72zM671.66 569.02L675.57 562.77L667.75 562.77zM671.81 564.89L675.72 558.64L667.9 558.64zM671.96 569.8L675.87 563.55L668.05 563.55zM672.11 571.65L676.02 565.39L668.2 565.39zM672.26 570.43L676.17 564.17L668.35 564.17zM672.41 563.03L676.32 556.77L668.5 556.77zM672.7 564.55L676.61 558.3L668.79 558.3zM672.85 571.63L676.76 565.37L668.94 565.37zM673.14 569.86L677.05 563.6L669.23 563.6zM673.29 562.06L677.2 555.8L669.38 555.8zM673.44 563.79L677.35 557.53L669.53 557.53zM673.58 566.33L677.49 560.08L669.67 560.08zM673.73 562.22L677.64 555.96L669.82 555.96zM673.87 563.94L677.78 557.69L669.96 557.69zM674.01 567.18L677.92 560.93L670.1 560.93zM674.16 562.05L678.07 555.79L670.25 555.79zM674.3 571.47L678.21 565.21L670.39 565.21zM674.44 567.47L678.35 561.22L670.53 561.22zM674.58 565.65L678.49 559.39L670.67 559.39zM674.72 571.7L678.63 565.44L670.81 565.44zM675.01 565.43L678.92 559.18L671.1 559.18zM675.56 571.89L679.47 565.63L671.65 565.63zM675.84 566.54L679.75 560.28L671.93 560.28zM675.98 564.49L679.89 558.23L672.07 558.23zM676.11 569.94L680.02 563.68L672.2 563.68zM676.25 564.48L680.16 558.22L672.34 558.22zM676.65 563.37L680.56 557.12L672.74 557.12zM676.92 564.41L680.83 558.16L673.01 558.16zM677.06 566.18L680.97 559.93L673.15 559.93zM677.19 572.5L681.1 566.24L673.28 566.24z" fill="none" stroke="#e09a2a" stroke-width="1" />
<path d="M506.88 503.66h7M512.68 495.04h7M517.79 487.03h7M522.37 480.14h7M526.51 471.65h7M530.29 461.96h7M533.76 455.8h7M536.98 452h7M539.98 449.91h7M542.78 448.14h7M545.41 446.47h7M547.9 445.4h7M550.24 444.89h7M552.47 446.09h7M554.59 449.29h7M556.61 451.97h7M558.54 454.99h7M560.39 457.08h7M562.16 460.57h7M563.87 464.44h7M565.51 469.96h7M567.08 475.17h7M568.61 479.04h7M570.08 485.44h7M571.51 487.23h7M572.88 492.16h7M574.22 500.37h7M575.52 502.77h7M576.78 501.23h7M578 504.34h7M579.19 510.28h7M580.35 509.9h7M581.48 511.19h7M582.58 514.79h7M583.65 517.34h7M584.69 521.95h7M585.72 518.85h7M586.71 522.65h7M587.69 524.48h7M588.64 528h7M589.58 525.37h7M590.49 526.58h7M591.39 527.41h7M592.27 535.68h7M593.13 532.42h7M593.97 534.64h7M594.8 531.2h7M595.61 533.12h7M596.41 535.46h7M597.19 531.02h7M598.71 534h7M599.45 536.31h7M600.18 541.21h7M600.9 536.62h7M601.61 541.53h7M602.3 535.54h7M602.99 537.18h7M603.66 541.47h7M604.32 539.77h7M604.98 542.51h7M605.62 543.7h7M606.25 539.37h7M607.49 542.41h7M608.7 543.9h7M609.29 541.87h7M610.45 538h7M611.02 539.02h7M612.13 547.07h7M613.22 545.81h7M613.75 549.84h7M614.8 549.07h7M615.31 540.73h7M615.82 542.46h7M616.82 549.76h7M617.31 546.34h7M617.79 547.6h7M618.27 549.15h7M618.75 541.54h7M619.22 548.36h7M619.68 549.68h7M620.6 543.4h7M621.05 548.51h7M621.93 546.31h7M622.37 550.48h7M622.8 549.52h7M623.23 552.71h7M623.65 547.7h7M624.07 543.74h7M624.49 549.77h7M624.9 544.13h7M625.31 545.92h7M625.71 544.45h7M626.11 548.29h7M626.51 544.56h7M627.68 553.92h7M628.44 545.61h7M628.81 550.96h7M629.19 553.45h7M629.56 549.65h7M629.92 551.17h7M630.29 545.17h7M630.65 548.31h7M631.01 551.25h7M631.36 546.09h7M632.06 552.97h7M632.41 549.24h7M632.75 550.65h7M633.09 548.09h7M633.76 555.16h7M634.1 551.09h7M634.75 549.42h7M635.08 555.72h7M635.4 548.49h7M635.72 555.19h7M636.04 549.72h7M636.36 554.23h7M636.67 548.27h7M637.29 556.72h7M637.6 551.08h7M637.9 556.69h7M638.21 554.24h7M638.51 549.12h7M639.1 550.8h7M639.69 552.72h7M639.98 548.47h7M640.27 557.71h7M641.12 559.05h7M641.4 555.38h7M641.68 551.88h7M641.96 550.67h7M642.23 549.61h7M642.78 550.89h7M643.32 556.41h7M643.59 553.21h7M643.85 557.61h7M644.38 558.54h7M644.64 553.54h7M644.9 559.75h7M645.16 555.15h7M645.41 553.04h7M645.67 550.04h7M645.92 559.21h7M646.17 552.38h7M646.42 555.1h7M646.92 552.96h7M647.17 551.88h7M647.65 555.96h7M647.9 557.41h7M648.14 552.46h7M648.38 559.87h7M648.61 558.88h7M648.85 552.84h7M649.09 554.75h7M649.55 558.05h7M649.78 561.41h7M650.02 553.85h7M650.24 551.26h7M650.7 561.58h7M650.92 557.03h7M651.37 559.76h7M651.59 554.69h7M651.82 560.52h7M652.04 554.16h7M652.25 561.68h7M652.47 553.38h7M652.69 560.47h7M652.9 557.42h7M653.54 559.61h7M653.76 555.81h7M654.18 553.34h7M654.38 561.64h7M655 557.16h7M655.21 560.51h7M655.41 562.99h7M655.61 553.03h7M655.81 555.16h7M656.02 557.17h7M656.21 555.52h7M656.41 558.62h7M656.61 553.92h7M656.81 557.88h7M657 563.78h7M657.2 559.94h7M657.39 561.61h7M657.59 558.84h7M657.78 561.76h7M657.97 555.11h7M658.16 562.42h7M658.35 559.25h7M658.54 564.12h7M658.73 559.08h7M658.92 561.43h7M659.29 554.41h7M659.66 562.22h7M660.03 556.85h7M660.39 564.31h7M660.75 561.05h7M660.93 557.35h7M661.11 560.06h7M661.29 561.23h7M661.64 564.72h7M661.81 555.88h7M661.99 564.31h7M662.34 561.87h7M662.68 557.25h7M663.02 562.14h7M663.19 561.13h7M663.36 556.03h7M663.53 559.02h7M663.7 563.92h7M664.03 562.01h7M664.2 560.69h7M664.36 565.55h7M664.53 556.44h7M664.69 559.11h7M665.02 566.12h7M665.18 562.4h7M665.34 557.88h7M665.51 564.2h7M665.67 556.57h7M665.83 559.17h7M665.99 557.08h7M666.14 565.01h7M666.3 558.76h7M666.46 562.71h7M666.62 563.84h7M666.93 557.4h7M667.08 565.22h7M667.24 562.61h7M667.39 566.24h7M667.55 562.14h7M667.7 556.74h7M667.85 564.09h7M668.01 565.1h7M668.31 561.2h7M668.46 563.51h7M668.61 561.68h7M668.76 560.24h7M668.91 562.64h7M669.06 566.42h7M669.64 562.14h7M669.94 560.54h7M670.08 565.29h7M670.23 566.43h7M670.37 565.14h7M670.66 563.52h7M670.8 559.9h7M670.94 558.73h7M671.08 557.16h7M671.22 561.59h7M671.36 565.41h7M671.51 562.87h7M671.65 559.34h7M671.92 557.19h7M672.2 558.22h7M672.34 563.26h7M672.48 557.44h7M672.61 565.38h7M672.75 566.88h7M672.88 562.65h7M673.15 557.3h7M673.29 561.41h7M673.42 559.96h7M673.69 557.66h7" stroke="#e3e54a" stroke-width="0.7" fill="none"/>
<path d="M510.38 499.71L514.63 503.96L510.38 508.21L506.13 503.96zM516.18 491.09L520.43 495.34L516.18 499.59L511.93 495.34zM521.29 483.08L525.54 487.33L521.29 491.58L517.04 487.33zM525.87 476.19L530.12 480.44L525.87 484.69L521.62 480.44zM530.01 467.7L534.26 471.95L530.01 476.2L525.76 471.95zM533.79 458.01L538.04 462.26L533.79 466.51L529.54 462.26zM537.26 451.85L541.51 456.1L537.26 460.35L533.01 456.1zM540.48 448.05L544.73 452.3L540.48 456.55L536.23 452.3zM543.48 445.96L547.73 450.21L543.48 454.46L539.23 450.21zM546.28 444.19L550.53 448.44L546.28 452.69L542.03 448.44zM548.91 442.52L553.16 446.77L548.91 451.02L544.66 446.77zM551.4 441.45L555.65 445.7L551.4 449.95L547.15 445.7zM553.74 440.94L557.99 445.19L553.74 449.44L549.49 445.19zM555.97 442.14L560.22 446.39L555.97 450.64L551.72 446.39zM558.09 445.34L562.34 449.59L558.09 453.84L553.84 449.59zM560.11 448.02L564.36 452.27L560.11 456.52L555.86 452.27zM562.04 451.04L566.29 455.29L562.04 459.54L557.79 455.29zM563.89 453.13L568.14 457.38L563.89 461.63L559.64 457.38zM565.66 456.62L569.91 460.87L565.66 465.12L561.41 460.87zM567.37 460.49L571.62 464.74L567.37 468.99L563.12 464.74zM569.01 466.01L573.26 470.26L569.01 474.51L564.76 470.26zM570.58 471.22L574.83 475.47L570.58 479.72L566.33 475.47zM572.11 475.09L576.36 479.34L572.11 483.59L567.86 479.34zM573.58 481.49L577.83 485.74L573.58 489.99L569.33 485.74zM575.01 483.28L579.26 487.53L575.01 491.78L570.76 487.53zM576.38 488.21L580.63 492.46L576.38 496.71L572.13 492.46zM577.72 496.42L581.97 500.67L577.72 504.92L573.47 500.67zM579.02 498.82L583.27 503.07L579.02 507.32L574.77 503.07zM580.28 497.28L584.53 501.53L580.28 505.78L576.03 501.53zM581.5 500.39L585.75 504.64L581.5 508.89L577.25 504.64zM582.69 506.33L586.94 510.58L582.69 514.83L578.44 510.58zM583.85 505.95L588.1 510.2L583.85 514.45L579.6 510.2zM584.98 507.24L589.23 511.49L584.98 515.74L580.73 511.49zM586.08 510.84L590.33 515.09L586.08 519.34L581.83 515.09zM587.15 513.39L591.4 517.64L587.15 521.89L582.9 517.64zM588.19 518L592.44 522.25L588.19 526.5L583.94 522.25zM589.22 514.9L593.47 519.15L589.22 523.4L584.97 519.15zM590.21 518.7L594.46 522.95L590.21 527.2L585.96 522.95zM591.19 520.53L595.44 524.78L591.19 529.03L586.94 524.78zM592.14 524.05L596.39 528.3L592.14 532.55L587.89 528.3zM593.08 521.42L597.33 525.67L593.08 529.92L588.83 525.67zM593.99 522.63L598.24 526.88L593.99 531.13L589.74 526.88zM594.89 523.46L599.14 527.71L594.89 531.96L590.64 527.71zM595.77 531.73L600.02 535.98L595.77 540.23L591.52 535.98zM596.63 528.47L600.88 532.72L596.63 536.97L592.38 532.72zM597.47 530.69L601.72 534.94L597.47 539.19L593.22 534.94zM598.3 527.25L602.55 531.5L598.3 535.75L594.05 531.5zM599.11 529.17L603.36 533.42L599.11 537.67L594.86 533.42zM599.91 531.51L604.16 535.76L599.91 540.01L595.66 535.76zM600.69 527.07L604.94 531.32L600.69 535.57L596.44 531.32zM602.21 530.05L606.46 534.3L602.21 538.55L597.96 534.3zM602.95 532.36L607.2 536.61L602.95 540.86L598.7 536.61zM603.68 537.26L607.93 541.51L603.68 545.76L599.43 541.51zM604.4 532.67L608.65 536.92L604.4 541.17L600.15 536.92zM605.11 537.58L609.36 541.83L605.11 546.08L600.86 541.83zM605.8 531.59L610.05 535.84L605.8 540.09L601.55 535.84zM606.49 533.23L610.74 537.48L606.49 541.73L602.24 537.48zM607.16 537.52L611.41 541.77L607.16 546.02L602.91 541.77zM607.82 535.82L612.07 540.07L607.82 544.32L603.57 540.07zM608.48 538.56L612.73 542.81L608.48 547.06L604.23 542.81zM609.12 539.75L613.37 544L609.12 548.25L604.87 544zM609.75 535.42L614 539.67L609.75 543.92L605.5 539.67zM610.99 538.46L615.24 542.71L610.99 546.96L606.74 542.71zM612.2 539.95L616.45 544.2L612.2 548.45L607.95 544.2zM612.79 537.92L617.04 542.17L612.79 546.42L608.54 542.17zM613.95 534.05L618.2 538.3L613.95 542.55L609.7 538.3zM614.52 535.07L618.77 539.32L614.52 543.57L610.27 539.32zM615.63 543.12L619.88 547.37L615.63 551.62L611.38 547.37zM616.72 541.86L620.97 546.11L616.72 550.36L612.47 546.11zM617.25 545.89L621.5 550.14L617.25 554.39L613 550.14zM618.3 545.12L622.55 549.37L618.3 553.62L614.05 549.37zM618.81 536.78L623.06 541.03L618.81 545.28L614.56 541.03zM619.32 538.51L623.57 542.76L619.32 547.01L615.07 542.76zM620.32 545.81L624.57 550.06L620.32 554.31L616.07 550.06zM620.81 542.39L625.06 546.64L620.81 550.89L616.56 546.64zM621.29 543.65L625.54 547.9L621.29 552.15L617.04 547.9zM621.77 545.2L626.02 549.45L621.77 553.7L617.52 549.45zM622.25 537.59L626.5 541.84L622.25 546.09L618 541.84zM622.72 544.41L626.97 548.66L622.72 552.91L618.47 548.66zM623.18 545.73L627.43 549.98L623.18 554.23L618.93 549.98zM624.1 539.45L628.35 543.7L624.1 547.95L619.85 543.7zM624.55 544.56L628.8 548.81L624.55 553.06L620.3 548.81zM625.43 542.36L629.68 546.61L625.43 550.86L621.18 546.61zM625.87 546.53L630.12 550.78L625.87 555.03L621.62 550.78zM626.3 545.57L630.55 549.82L626.3 554.07L622.05 549.82zM626.73 548.76L630.98 553.01L626.73 557.26L622.48 553.01zM627.15 543.75L631.4 548L627.15 552.25L622.9 548zM627.57 539.79L631.82 544.04L627.57 548.29L623.32 544.04zM627.99 545.82L632.24 550.07L627.99 554.32L623.74 550.07zM628.4 540.18L632.65 544.43L628.4 548.68L624.15 544.43zM628.81 541.97L633.06 546.22L628.81 550.47L624.56 546.22zM629.21 540.5L633.46 544.75L629.21 549L624.96 544.75zM629.61 544.34L633.86 548.59L629.61 552.84L625.36 548.59zM630.01 540.61L634.26 544.86L630.01 549.11L625.76 544.86zM631.18 549.97L635.43 554.22L631.18 558.47L626.93 554.22zM631.94 541.66L636.19 545.91L631.94 550.16L627.69 545.91zM632.31 547.01L636.56 551.26L632.31 555.51L628.06 551.26zM632.69 549.5L636.94 553.75L632.69 558L628.44 553.75zM633.06 545.7L637.31 549.95L633.06 554.2L628.81 549.95zM633.42 547.22L637.67 551.47L633.42 555.72L629.17 551.47zM633.79 541.22L638.04 545.47L633.79 549.72L629.54 545.47zM634.15 544.36L638.4 548.61L634.15 552.86L629.9 548.61zM634.51 547.3L638.76 551.55L634.51 555.8L630.26 551.55zM634.86 542.14L639.11 546.39L634.86 550.64L630.61 546.39zM635.56 549.02L639.81 553.27L635.56 557.52L631.31 553.27zM635.91 545.29L640.16 549.54L635.91 553.79L631.66 549.54zM636.25 546.7L640.5 550.95L636.25 555.2L632 550.95zM636.59 544.14L640.84 548.39L636.59 552.64L632.34 548.39zM637.26 551.21L641.51 555.46L637.26 559.71L633.01 555.46zM637.6 547.14L641.85 551.39L637.6 555.64L633.35 551.39zM638.25 545.47L642.5 549.72L638.25 553.97L634 549.72zM638.58 551.77L642.83 556.02L638.58 560.27L634.33 556.02zM638.9 544.54L643.15 548.79L638.9 553.04L634.65 548.79zM639.22 551.24L643.47 555.49L639.22 559.74L634.97 555.49zM639.54 545.77L643.79 550.02L639.54 554.27L635.29 550.02zM639.86 550.28L644.11 554.53L639.86 558.78L635.61 554.53zM640.17 544.32L644.42 548.57L640.17 552.82L635.92 548.57zM640.79 552.77L645.04 557.02L640.79 561.27L636.54 557.02zM641.1 547.13L645.35 551.38L641.1 555.63L636.85 551.38zM641.4 552.74L645.65 556.99L641.4 561.24L637.15 556.99zM641.71 550.29L645.96 554.54L641.71 558.79L637.46 554.54zM642.01 545.17L646.26 549.42L642.01 553.67L637.76 549.42zM642.6 546.85L646.85 551.1L642.6 555.35L638.35 551.1zM643.19 548.77L647.44 553.02L643.19 557.27L638.94 553.02zM643.48 544.52L647.73 548.77L643.48 553.02L639.23 548.77zM643.77 553.76L648.02 558.01L643.77 562.26L639.52 558.01zM644.62 555.1L648.87 559.35L644.62 563.6L640.37 559.35zM644.9 551.43L649.15 555.68L644.9 559.93L640.65 555.68zM645.18 547.93L649.43 552.18L645.18 556.43L640.93 552.18zM645.46 546.72L649.71 550.97L645.46 555.22L641.21 550.97zM645.73 545.66L649.98 549.91L645.73 554.16L641.48 549.91zM646.28 546.94L650.53 551.19L646.28 555.44L642.03 551.19zM646.82 552.46L651.07 556.71L646.82 560.96L642.57 556.71zM647.09 549.26L651.34 553.51L647.09 557.76L642.84 553.51zM647.35 553.66L651.6 557.91L647.35 562.16L643.1 557.91zM647.88 554.59L652.13 558.84L647.88 563.09L643.63 558.84zM648.14 549.59L652.39 553.84L648.14 558.09L643.89 553.84zM648.4 555.8L652.65 560.05L648.4 564.3L644.15 560.05zM648.66 551.2L652.91 555.45L648.66 559.7L644.41 555.45zM648.91 549.09L653.16 553.34L648.91 557.59L644.66 553.34zM649.17 546.09L653.42 550.34L649.17 554.59L644.92 550.34zM649.42 555.26L653.67 559.51L649.42 563.76L645.17 559.51zM649.67 548.43L653.92 552.68L649.67 556.93L645.42 552.68zM649.92 551.15L654.17 555.4L649.92 559.65L645.67 555.4zM650.42 549.01L654.67 553.26L650.42 557.51L646.17 553.26zM650.67 547.93L654.92 552.18L650.67 556.43L646.42 552.18zM651.15 552.01L655.4 556.26L651.15 560.51L646.9 556.26zM651.4 553.46L655.65 557.71L651.4 561.96L647.15 557.71zM651.64 548.51L655.89 552.76L651.64 557.01L647.39 552.76zM651.88 555.92L656.13 560.17L651.88 564.42L647.63 560.17zM652.11 554.93L656.36 559.18L652.11 563.43L647.86 559.18zM652.35 548.89L656.6 553.14L652.35 557.39L648.1 553.14zM652.59 550.8L656.84 555.05L652.59 559.3L648.34 555.05zM653.05 554.1L657.3 558.35L653.05 562.6L648.8 558.35zM653.28 557.46L657.53 561.71L653.28 565.96L649.03 561.71zM653.52 549.9L657.77 554.15L653.52 558.4L649.27 554.15zM653.74 547.31L657.99 551.56L653.74 555.81L649.49 551.56zM654.2 557.63L658.45 561.88L654.2 566.13L649.95 561.88zM654.42 553.08L658.67 557.33L654.42 561.58L650.17 557.33zM654.87 555.81L659.12 560.06L654.87 564.31L650.62 560.06zM655.09 550.74L659.34 554.99L655.09 559.24L650.84 554.99zM655.32 556.57L659.57 560.82L655.32 565.07L651.07 560.82zM655.54 550.21L659.79 554.46L655.54 558.71L651.29 554.46zM655.75 557.73L660 561.98L655.75 566.23L651.5 561.98zM655.97 549.43L660.22 553.68L655.97 557.93L651.72 553.68zM656.19 556.52L660.44 560.77L656.19 565.02L651.94 560.77zM656.4 553.47L660.65 557.72L656.4 561.97L652.15 557.72zM657.04 555.66L661.29 559.91L657.04 564.16L652.79 559.91zM657.26 551.86L661.51 556.11L657.26 560.36L653.01 556.11zM657.68 549.39L661.93 553.64L657.68 557.89L653.43 553.64zM657.88 557.69L662.13 561.94L657.88 566.19L653.63 561.94zM658.5 553.21L662.75 557.46L658.5 561.71L654.25 557.46zM658.71 556.56L662.96 560.81L658.71 565.06L654.46 560.81zM658.91 559.04L663.16 563.29L658.91 567.54L654.66 563.29zM659.11 549.08L663.36 553.33L659.11 557.58L654.86 553.33zM659.31 551.21L663.56 555.46L659.31 559.71L655.06 555.46zM659.52 553.22L663.77 557.47L659.52 561.72L655.27 557.47zM659.71 551.57L663.96 555.82L659.71 560.07L655.46 555.82zM659.91 554.67L664.16 558.92L659.91 563.17L655.66 558.92zM660.11 549.97L664.36 554.22L660.11 558.47L655.86 554.22zM660.31 553.93L664.56 558.18L660.31 562.43L656.06 558.18zM660.5 559.83L664.75 564.08L660.5 568.33L656.25 564.08zM660.7 555.99L664.95 560.24L660.7 564.49L656.45 560.24zM660.89 557.66L665.14 561.91L660.89 566.16L656.64 561.91zM661.09 554.89L665.34 559.14L661.09 563.39L656.84 559.14zM661.28 557.81L665.53 562.06L661.28 566.31L657.03 562.06zM661.47 551.16L665.72 555.41L661.47 559.66L657.22 555.41zM661.66 558.47L665.91 562.72L661.66 566.97L657.41 562.72zM661.85 555.3L666.1 559.55L661.85 563.8L657.6 559.55zM662.04 560.17L666.29 564.42L662.04 568.67L657.79 564.42zM662.23 555.13L666.48 559.38L662.23 563.63L657.98 559.38zM662.42 557.48L666.67 561.73L662.42 565.98L658.17 561.73zM662.79 550.46L667.04 554.71L662.79 558.96L658.54 554.71zM663.16 558.27L667.41 562.52L663.16 566.77L658.91 562.52zM663.53 552.9L667.78 557.15L663.53 561.4L659.28 557.15zM663.89 560.36L668.14 564.61L663.89 568.86L659.64 564.61zM664.25 557.1L668.5 561.35L664.25 565.6L660 561.35zM664.43 553.4L668.68 557.65L664.43 561.9L660.18 557.65zM664.61 556.11L668.86 560.36L664.61 564.61L660.36 560.36zM664.79 557.28L669.04 561.53L664.79 565.78L660.54 561.53zM665.14 560.77L669.39 565.02L665.14 569.27L660.89 565.02zM665.31 551.93L669.56 556.18L665.31 560.43L661.06 556.18zM665.49 560.36L669.74 564.61L665.49 568.86L661.24 564.61zM665.84 557.92L670.09 562.17L665.84 566.42L661.59 562.17zM666.18 553.3L670.43 557.55L666.18 561.8L661.93 557.55zM666.52 558.19L670.77 562.44L666.52 566.69L662.27 562.44zM666.69 557.18L670.94 561.43L666.69 565.68L662.44 561.43zM666.86 552.08L671.11 556.33L666.86 560.58L662.61 556.33zM667.03 555.07L671.28 559.32L667.03 563.57L662.78 559.32zM667.2 559.97L671.45 564.22L667.2 568.47L662.95 564.22zM667.53 558.06L671.78 562.31L667.53 566.56L663.28 562.31zM667.7 556.74L671.95 560.99L667.7 565.24L663.45 560.99zM667.86 561.6L672.11 565.85L667.86 570.1L663.61 565.85zM668.03 552.49L672.28 556.74L668.03 560.99L663.78 556.74zM668.19 555.16L672.44 559.41L668.19 563.66L663.94 559.41zM668.52 562.17L672.77 566.42L668.52 570.67L664.27 566.42zM668.68 558.45L672.93 562.7L668.68 566.95L664.43 562.7zM668.84 553.93L673.09 558.18L668.84 562.43L664.59 558.18zM669.01 560.25L673.26 564.5L669.01 568.75L664.76 564.5zM669.17 552.62L673.42 556.87L669.17 561.12L664.92 556.87zM669.33 555.22L673.58 559.47L669.33 563.72L665.08 559.47zM669.49 553.13L673.74 557.38L669.49 561.63L665.24 557.38zM669.64 561.06L673.89 565.31L669.64 569.56L665.39 565.31zM669.8 554.81L674.05 559.06L669.8 563.31L665.55 559.06zM669.96 558.76L674.21 563.01L669.96 567.26L665.71 563.01zM670.12 559.89L674.37 564.14L670.12 568.39L665.87 564.14zM670.43 553.45L674.68 557.7L670.43 561.95L666.18 557.7zM670.58 561.27L674.83 565.52L670.58 569.77L666.33 565.52zM670.74 558.66L674.99 562.91L670.74 567.16L666.49 562.91zM670.89 562.29L675.14 566.54L670.89 570.79L666.64 566.54zM671.05 558.19L675.3 562.44L671.05 566.69L666.8 562.44zM671.2 552.79L675.45 557.04L671.2 561.29L666.95 557.04zM671.35 560.14L675.6 564.39L671.35 568.64L667.1 564.39zM671.51 561.15L675.76 565.4L671.51 569.65L667.26 565.4zM671.81 557.25L676.06 561.5L671.81 565.75L667.56 561.5zM671.96 559.56L676.21 563.81L671.96 568.06L667.71 563.81zM672.11 557.73L676.36 561.98L672.11 566.23L667.86 561.98zM672.26 556.29L676.51 560.54L672.26 564.79L668.01 560.54zM672.41 558.69L676.66 562.94L672.41 567.19L668.16 562.94zM672.56 562.47L676.81 566.72L672.56 570.97L668.31 566.72zM673.14 558.19L677.39 562.44L673.14 566.69L668.89 562.44zM673.44 556.59L677.69 560.84L673.44 565.09L669.19 560.84zM673.58 561.34L677.83 565.59L673.58 569.84L669.33 565.59zM673.73 562.48L677.98 566.73L673.73 570.98L669.48 566.73zM673.87 561.19L678.12 565.44L673.87 569.69L669.62 565.44zM674.16 559.57L678.41 563.82L674.16 568.07L669.91 563.82zM674.3 555.95L678.55 560.2L674.3 564.45L670.05 560.2zM674.44 554.78L678.69 559.03L674.44 563.28L670.19 559.03zM674.58 553.21L678.83 557.46L674.58 561.71L670.33 557.46zM674.72 557.64L678.97 561.89L674.72 566.14L670.47 561.89zM674.86 561.46L679.11 565.71L674.86 569.96L670.61 565.71zM675.01 558.92L679.26 563.17L675.01 567.42L670.76 563.17zM675.15 555.39L679.4 559.64L675.15 563.89L670.9 559.64zM675.42 553.24L679.67 557.49L675.42 561.74L671.17 557.49zM675.7 554.27L679.95 558.52L675.7 562.77L671.45 558.52zM675.84 559.31L680.09 563.56L675.84 567.81L671.59 563.56zM675.98 553.49L680.23 557.74L675.98 561.99L671.73 557.74zM676.11 561.43L680.36 565.68L676.11 569.93L671.86 565.68zM676.25 562.93L680.5 567.18L676.25 571.43L672 567.18zM676.38 558.7L680.63 562.95L676.38 567.2L672.13 562.95zM676.65 553.35L680.9 557.6L676.65 561.85L672.4 557.6zM676.79 557.46L681.04 561.71L676.79 565.96L672.54 561.71zM676.92 556.01L681.17 560.26L676.92 564.51L672.67 560.26zM677.19 553.71L681.44 557.96L677.19 562.21L672.94 557.96z" fill="none" stroke="#e3e54a" stroke-width="1" />
<path d="M505.89 466.36h7M513.81 458.38h7M520.51 447.77h7M526.31 439.48h7M531.42 434.98h7M536 427.36h7M540.14 432.02h7M543.92 435.92h7M547.39 441h7M550.61 446.47h7M553.61 453.02h7M556.41 460.24h7M559.04 468.3h7M561.52 472.19h7M563.87 482.87h7M566.1 491.17h7M568.22 495.85h7M570.24 497.16h7M572.17 500.47h7M574.02 503.76h7M575.79 505.09h7M577.5 513.94h7M579.13 513.51h7M580.71 513.97h7M582.24 521.78h7M583.71 516.91h7M585.13 524.77h7M586.51 528.04h7M587.85 530.77h7M589.15 527.27h7M590.4 533.83h7M591.63 532.69h7M592.82 536.1h7M593.98 528.03h7M595.1 536.21h7M596.2 534.66h7M597.28 531.95h7M598.32 537.27h7M599.34 540.37h7M600.34 539.57h7M601.32 542.56h7M602.27 535h7M603.21 539.74h7M604.12 543.94h7M605.89 535.67h7M606.75 545.25h7M607.6 546.07h7M608.43 541.1h7M609.24 539.33h7M610.03 540.29h7M610.82 546.11h7M611.59 545.38h7M612.34 544.05h7M613.08 539.23h7M613.81 543.58h7M614.53 539.03h7M615.24 538.02h7M615.93 546.76h7M617.29 539.39h7M617.95 542.07h7M618.61 550.32h7M619.25 546.39h7M619.88 550.28h7M620.51 546.81h7M621.73 546.68h7M622.33 545.26h7M622.92 544.09h7M623.5 543.13h7M624.08 546.66h7M624.65 549.06h7M625.21 545.14h7M625.76 548.63h7M626.31 543.65h7M626.85 551.12h7M627.38 547.91h7M627.91 544.98h7M628.43 553.05h7M628.94 549.97h7M629.45 543.65h7M629.95 550.19h7M630.45 544.29h7M630.94 550.23h7M631.42 552.8h7M631.9 549.47h7M632.38 553.51h7M632.85 545.07h7M633.31 549.03h7M634.22 545.82h7M634.67 551.87h7M635.12 555.88h7M635.56 550.36h7M636 556.31h7M636.43 555.27h7M636.86 550.97h7M637.28 548.33h7M637.7 554.71h7M638.12 552.04h7M638.53 548.76h7M638.94 552.53h7M639.34 553.69h7M639.74 549.82h7M640.14 552.84h7M640.53 555h7M640.92 548.66h7M641.31 550.17h7M641.69 552.8h7M642.07 549.65h7M642.44 554.93h7M642.82 550.14h7M643.19 556.39h7M643.55 550.41h7M643.92 557.81h7M644.28 553.02h7M644.99 555.44h7M645.34 557.77h7M645.69 554.17h7M646.03 555.25h7M646.38 558.52h7M646.72 556.09h7M647.06 549.73h7M647.39 551.93h7M647.72 554.07h7M648.06 560.01h7M648.38 551.37h7M648.71 553.78h7M649.03 549.97h7M649.35 554.02h7M649.67 560.01h7M649.99 556.48h7M650.3 554.74h7M650.61 555.77h7M650.92 559.48h7M651.23 555.49h7M651.53 552.87h7M651.83 559.18h7M652.13 553.77h7M652.43 557.63h7M652.73 560.64h7M653.02 559.31h7M653.32 555.04h7M653.61 558.53h7M654.18 554.58h7M654.47 555.82h7M654.75 553.4h7M655.31 556.47h7M655.59 554.2h7M656.14 560.16h7M656.68 554.02h7M657.22 559.94h7M657.48 558.63h7M657.75 554.13h7M658.01 557.32h7M658.27 555.45h7M658.53 560.03h7M658.79 556.68h7M659.04 560.07h7M659.8 562.55h7M660.05 557.67h7M660.3 555.29h7M660.55 557.3h7M660.79 563.61h7M661.04 556.34h7M661.28 558.61h7M661.52 555.57h7M662.24 560.91h7M662.48 554.53h7M662.71 563.17h7M662.95 560.18h7M663.18 553.91h7M663.41 560.9h7M663.64 556.15h7M663.87 554.13h7M664.1 564.23h7M664.55 563.29h7M664.78 558.96h7M665 560.36h7M665.22 562.68h7M665.44 555.73h7M665.88 560.1h7M666.1 563.77h7M666.32 564.96h7M666.53 563.06h7M666.75 557.33h7M666.96 565.59h7M667.17 559.27h7M667.38 556.91h7M667.8 557.96h7M668.01 556.38h7M668.22 563h7M668.43 558.4h7M669.04 565.61h7M669.24 563.45h7M669.44 559.73h7M669.84 564.89h7M670.04 557.24h7M670.24 564.89h7M670.63 562.42h7M671.02 566.24h7M671.22 562.65h7M671.6 559.17h7M671.79 565.62h7M671.98 560.71h7M672.17 562.09h7M672.36 556.74h7M672.55 566.03h7M672.73 563.65h7M672.92 558.07h7M673.1 563.11h7M673.29 561.42h7M673.47 565.82h7M673.66 562.47h7" stroke="#3d7ab5" stroke-width="0.7" fill="none"/>
<path d="M509.39 470.4L505.84 467.81L507.2 463.63L511.59 463.63L512.95 467.81zM517.31 462.42L513.76 459.84L515.11 455.66L519.51 455.66L520.87 459.84zM524.01 451.81L520.45 449.23L521.81 445.05L526.21 445.05L527.56 449.23zM529.81 443.52L526.25 440.94L527.61 436.76L532 436.76L533.36 440.94zM534.92 439.02L531.36 436.43L532.72 432.25L537.12 432.25L538.48 436.43zM539.5 431.4L535.94 428.82L537.3 424.63L541.7 424.63L543.05 428.82zM543.64 436.06L540.08 433.47L541.44 429.29L545.84 429.29L547.19 433.47zM547.42 439.96L543.86 437.38L545.22 433.2L549.61 433.2L550.97 437.38zM550.89 445.04L547.34 442.46L548.69 438.28L553.09 438.28L554.45 442.46zM554.11 450.51L550.55 447.92L551.91 443.74L556.31 443.74L557.67 447.92zM557.11 457.06L553.55 454.47L554.91 450.29L559.31 450.29L560.66 454.47zM559.91 464.28L556.35 461.7L557.71 457.52L562.11 457.52L563.47 461.7zM562.54 472.34L558.99 469.76L560.34 465.58L564.74 465.58L566.1 469.76zM565.02 476.23L561.47 473.65L562.83 469.47L567.22 469.47L568.58 473.65zM567.37 486.91L563.82 484.33L565.17 480.15L569.57 480.15L570.93 484.33zM569.6 495.21L566.04 492.63L567.4 488.45L571.8 488.45L573.16 492.63zM571.72 499.89L568.16 497.3L569.52 493.12L573.92 493.12L575.28 497.3zM573.74 501.2L570.18 498.62L571.54 494.44L575.94 494.44L577.3 498.62zM575.67 504.51L572.11 501.93L573.47 497.75L577.87 497.75L579.23 501.93zM577.52 507.8L573.96 505.21L575.32 501.03L579.72 501.03L581.08 505.21zM579.29 509.13L575.73 506.55L577.09 502.37L581.49 502.37L582.85 506.55zM581 517.98L577.44 515.39L578.8 511.21L583.19 511.21L584.55 515.39zM582.63 517.55L579.08 514.97L580.44 510.79L584.83 510.79L586.19 514.97zM584.21 518.01L580.66 515.43L582.02 511.25L586.41 511.25L587.77 515.43zM585.74 525.82L582.18 523.24L583.54 519.05L587.94 519.05L589.29 523.24zM587.21 520.95L583.65 518.37L585.01 514.19L589.41 514.19L590.77 518.37zM588.63 528.81L585.08 526.22L586.44 522.04L590.83 522.04L592.19 526.22zM590.01 532.08L586.46 529.49L587.81 525.31L592.21 525.31L593.57 529.49zM591.35 534.81L587.79 532.23L589.15 528.05L593.55 528.05L594.91 532.23zM592.65 531.31L589.09 528.72L590.45 524.54L594.84 524.54L596.2 528.72zM593.9 537.87L590.35 535.28L591.71 531.1L596.1 531.1L597.46 535.28zM595.13 536.73L591.57 534.15L592.93 529.97L597.33 529.97L598.68 534.15zM596.32 540.14L592.76 537.56L594.12 533.38L598.52 533.38L599.87 537.56zM597.48 532.07L593.92 529.49L595.28 525.3L599.67 525.3L601.03 529.49zM598.6 540.25L595.05 537.66L596.41 533.48L600.8 533.48L602.16 537.66zM599.7 538.7L596.15 536.12L597.51 531.93L601.9 531.93L603.26 536.12zM600.78 535.99L597.22 533.4L598.58 529.22L602.97 529.22L604.33 533.4zM601.82 541.31L598.27 538.72L599.62 534.54L604.02 534.54L605.38 538.72zM602.84 544.41L599.29 541.83L600.65 537.64L605.04 537.64L606.4 541.83zM603.84 543.61L600.29 541.03L601.64 536.85L606.04 536.85L607.4 541.03zM604.82 546.6L601.26 544.01L602.62 539.83L607.02 539.83L608.38 544.01zM605.77 539.04L602.22 536.46L603.58 532.28L607.97 532.28L609.33 536.46zM606.71 543.78L603.15 541.2L604.51 537.02L608.91 537.02L610.26 541.2zM607.62 547.98L604.06 545.4L605.42 541.22L609.82 541.22L611.18 545.4zM609.39 539.71L605.84 537.12L607.2 532.94L611.59 532.94L612.95 537.12zM610.25 549.29L606.7 546.7L608.06 542.52L612.45 542.52L613.81 546.7zM611.1 550.11L607.54 547.53L608.9 543.35L613.3 543.35L614.65 547.53zM611.93 545.14L608.37 542.56L609.73 538.38L614.12 538.38L615.48 542.56zM612.74 543.37L609.18 540.78L610.54 536.6L614.94 536.6L616.29 540.78zM613.53 544.33L609.98 541.74L611.34 537.56L615.73 537.56L617.09 541.74zM614.32 550.15L610.76 547.56L612.12 543.38L616.51 543.38L617.87 547.56zM615.09 549.42L611.53 546.83L612.89 542.65L617.28 542.65L618.64 546.83zM615.84 548.09L612.28 545.51L613.64 541.32L618.04 541.32L619.4 545.51zM616.58 543.27L613.03 540.69L614.38 536.51L618.78 536.51L620.14 540.69zM617.31 547.62L613.76 545.03L615.11 540.85L619.51 540.85L620.87 545.03zM618.03 543.07L614.47 540.48L615.83 536.3L620.23 536.3L621.59 540.48zM618.74 542.06L615.18 539.48L616.54 535.3L620.94 535.3L622.29 539.48zM619.43 550.8L615.87 548.21L617.23 544.03L621.63 544.03L622.99 548.21zM620.79 543.43L617.23 540.84L618.59 536.66L622.99 536.66L624.35 540.84zM621.45 546.11L617.9 543.52L619.25 539.34L623.65 539.34L625.01 543.52zM622.11 554.36L618.55 551.77L619.91 547.59L624.3 547.59L625.66 551.77zM622.75 550.43L619.19 547.85L620.55 543.67L624.95 543.67L626.31 547.85zM623.38 554.32L619.83 551.74L621.18 547.56L625.58 547.56L626.94 551.74zM624.01 550.85L620.45 548.26L621.81 544.08L626.21 544.08L627.56 548.26zM625.23 550.72L621.67 548.14L623.03 543.96L627.43 543.96L628.79 548.14zM625.83 549.3L622.27 546.71L623.63 542.53L628.03 542.53L629.39 546.71zM626.42 548.13L622.86 545.54L624.22 541.36L628.62 541.36L629.98 545.54zM627 547.17L623.45 544.59L624.81 540.41L629.2 540.41L630.56 544.59zM627.58 550.7L624.02 548.12L625.38 543.93L629.78 543.93L631.14 548.12zM628.15 553.1L624.59 550.51L625.95 546.33L630.35 546.33L631.7 550.51zM628.71 549.18L625.15 546.6L626.51 542.41L630.91 542.41L632.26 546.6zM629.26 552.67L625.7 550.09L627.06 545.9L631.46 545.9L632.82 550.09zM629.81 547.69L626.25 545.1L627.61 540.92L632 540.92L633.36 545.1zM630.35 555.16L626.79 552.58L628.15 548.39L632.54 548.39L633.9 552.58zM630.88 551.95L627.32 549.36L628.68 545.18L633.08 545.18L634.44 549.36zM631.41 549.02L627.85 546.43L629.21 542.25L633.6 542.25L634.96 546.43zM631.93 557.09L628.37 554.5L629.73 550.32L634.12 550.32L635.48 554.5zM632.44 554.01L628.88 551.42L630.24 547.24L634.64 547.24L636 551.42zM632.95 547.69L629.39 545.1L630.75 540.92L635.15 540.92L636.5 545.1zM633.45 554.23L629.89 551.64L631.25 547.46L635.65 547.46L637.01 551.64zM633.95 548.33L630.39 545.75L631.75 541.56L636.14 541.56L637.5 545.75zM634.44 554.27L630.88 551.69L632.24 547.51L636.63 547.51L637.99 551.69zM634.92 556.84L631.36 554.25L632.72 550.07L637.12 550.07L638.48 554.25zM635.4 553.51L631.84 550.93L633.2 546.74L637.6 546.74L638.96 550.93zM635.88 557.55L632.32 554.97L633.68 550.79L638.07 550.79L639.43 554.97zM636.35 549.11L632.79 546.53L634.15 542.34L638.54 542.34L639.9 546.53zM636.81 553.07L633.25 550.48L634.61 546.3L639.01 546.3L640.37 550.48zM637.72 549.86L634.17 547.28L635.53 543.1L639.92 543.1L641.28 547.28zM638.17 555.91L634.62 553.33L635.98 549.15L640.37 549.15L641.73 553.33zM638.62 559.92L635.06 557.34L636.42 553.16L640.82 553.16L642.18 557.34zM639.06 554.4L635.5 551.81L636.86 547.63L641.26 547.63L642.62 551.81zM639.5 560.35L635.94 557.77L637.3 553.58L641.7 553.58L643.05 557.77zM639.93 559.31L636.37 556.72L637.73 552.54L642.13 552.54L643.49 556.72zM640.36 555.01L636.8 552.43L638.16 548.24L642.56 548.24L643.91 552.43zM640.78 552.37L637.22 549.78L638.58 545.6L642.98 545.6L644.34 549.78zM641.2 558.75L637.64 556.16L639 551.98L643.4 551.98L644.76 556.16zM641.62 556.08L638.06 553.5L639.42 549.32L643.81 549.32L645.17 553.5zM642.03 552.8L638.47 550.22L639.83 546.03L644.23 546.03L645.59 550.22zM642.44 556.57L638.88 553.98L640.24 549.8L644.63 549.8L645.99 553.98zM642.84 557.73L639.28 555.15L640.64 550.96L645.04 550.96L646.4 555.15zM643.24 553.86L639.68 551.27L641.04 547.09L645.44 547.09L646.8 551.27zM643.64 556.88L640.08 554.29L641.44 550.11L645.84 550.11L647.19 554.29zM644.03 559.04L640.47 556.45L641.83 552.27L646.23 552.27L647.59 556.45zM644.42 552.7L640.86 550.11L642.22 545.93L646.62 545.93L647.98 550.11zM644.81 554.21L641.25 551.62L642.61 547.44L647 547.44L648.36 551.62zM645.19 556.84L641.63 554.25L642.99 550.07L647.39 550.07L648.75 554.25zM645.57 553.69L642.01 551.1L643.37 546.92L647.77 546.92L649.12 551.1zM645.94 558.97L642.39 556.38L643.75 552.2L648.14 552.2L649.5 556.38zM646.32 554.18L642.76 551.59L644.12 547.41L648.51 547.41L649.87 551.59zM646.69 560.43L643.13 557.84L644.49 553.66L648.88 553.66L650.24 557.84zM647.05 554.45L643.5 551.86L644.85 547.68L649.25 547.68L650.61 551.86zM647.42 561.85L643.86 559.26L645.22 555.08L649.61 555.08L650.97 559.26zM647.78 557.06L644.22 554.48L645.58 550.3L649.97 550.3L651.33 554.48zM648.49 559.48L644.93 556.89L646.29 552.71L650.69 552.71L652.05 556.89zM648.84 561.81L645.28 559.23L646.64 555.05L651.04 555.05L652.4 559.23zM649.19 558.21L645.63 555.62L646.99 551.44L651.39 551.44L652.75 555.62zM649.53 559.29L645.98 556.71L647.34 552.53L651.73 552.53L653.09 556.71zM649.88 562.56L646.32 559.98L647.68 555.8L652.08 555.8L653.43 559.98zM650.22 560.13L646.66 557.55L648.02 553.37L652.42 553.37L653.78 557.55zM650.56 553.77L647 551.19L648.36 547L652.75 547L654.11 551.19zM650.89 555.97L647.34 553.39L648.69 549.2L653.09 549.2L654.45 553.39zM651.22 558.11L647.67 555.52L649.03 551.34L653.42 551.34L654.78 555.52zM651.56 564.05L648 561.46L649.36 557.28L653.75 557.28L655.11 561.46zM651.88 555.41L648.33 552.83L649.68 548.65L654.08 548.65L655.44 552.83zM652.21 557.82L648.65 555.24L650.01 551.06L654.41 551.06L655.77 555.24zM652.53 554.01L648.97 551.43L650.33 547.25L654.73 547.25L656.09 551.43zM652.85 558.06L649.29 555.48L650.65 551.3L655.05 551.3L656.41 555.48zM653.17 564.05L649.61 561.47L650.97 557.29L655.37 557.29L656.73 561.47zM653.49 560.52L649.93 557.94L651.29 553.76L655.68 553.76L657.04 557.94zM653.8 558.78L650.24 556.19L651.6 552.01L656 552.01L657.36 556.19zM654.11 559.81L650.55 557.22L651.91 553.04L656.31 553.04L657.67 557.22zM654.42 563.52L650.86 560.94L652.22 556.76L656.62 556.76L657.98 560.94zM654.73 559.53L651.17 556.94L652.53 552.76L656.92 552.76L658.28 556.94zM655.03 556.91L651.47 554.33L652.83 550.15L657.23 550.15L658.59 554.33zM655.33 563.22L651.78 560.64L653.14 556.46L657.53 556.46L658.89 560.64zM655.63 557.81L652.08 555.23L653.44 551.05L657.83 551.05L659.19 555.23zM655.93 561.67L652.38 559.09L653.73 554.91L658.13 554.91L659.49 559.09zM656.23 564.68L652.67 562.1L654.03 557.92L658.43 557.92L659.79 562.1zM656.52 563.35L652.97 560.77L654.33 556.58L658.72 556.58L660.08 560.77zM656.82 559.08L653.26 556.5L654.62 552.32L659.01 552.32L660.37 556.5zM657.11 562.57L653.55 559.99L654.91 555.81L659.31 555.81L660.66 559.99zM657.68 558.62L654.13 556.04L655.48 551.85L659.88 551.85L661.24 556.04zM657.97 559.86L654.41 557.27L655.77 553.09L660.17 553.09L661.52 557.27zM658.25 557.44L654.69 554.85L656.05 550.67L660.45 550.67L661.81 554.85zM658.81 560.51L655.25 557.92L656.61 553.74L661.01 553.74L662.37 557.92zM659.09 558.24L655.53 555.66L656.89 551.48L661.29 551.48L662.64 555.66zM659.64 564.2L656.08 561.62L657.44 557.44L661.84 557.44L663.19 561.62zM660.18 558.06L656.62 555.47L657.98 551.29L662.38 551.29L663.74 555.47zM660.72 563.98L657.16 561.4L658.52 557.22L662.91 557.22L664.27 561.4zM660.98 562.67L657.43 560.08L658.78 555.9L663.18 555.9L664.54 560.08zM661.25 558.17L657.69 555.59L659.05 551.4L663.44 551.4L664.8 555.59zM661.51 561.36L657.95 558.77L659.31 554.59L663.71 554.59L665.07 558.77zM661.77 559.49L658.21 556.91L659.57 552.73L663.97 552.73L665.33 556.91zM662.03 564.07L658.47 561.48L659.83 557.3L664.23 557.3L665.59 561.48zM662.29 560.72L658.73 558.13L660.09 553.95L664.48 553.95L665.84 558.13zM662.54 564.11L658.99 561.52L660.34 557.34L664.74 557.34L666.1 561.52zM663.3 566.59L659.75 564.01L661.1 559.83L665.5 559.83L666.86 564.01zM663.55 561.71L660 559.12L661.35 554.94L665.75 554.94L667.11 559.12zM663.8 559.33L660.24 556.74L661.6 552.56L666 552.56L667.36 556.74zM664.05 561.34L660.49 558.75L661.85 554.57L666.25 554.57L667.61 558.75zM664.29 567.65L660.74 565.07L662.1 560.89L666.49 560.89L667.85 565.07zM664.54 560.38L660.98 557.8L662.34 553.61L666.74 553.61L668.1 557.8zM664.78 562.65L661.23 560.06L662.58 555.88L666.98 555.88L668.34 560.06zM665.02 559.61L661.47 557.03L662.83 552.85L667.22 552.85L668.58 557.03zM665.74 564.95L662.19 562.37L663.54 558.19L667.94 558.19L669.3 562.37zM665.98 558.57L662.42 555.99L663.78 551.81L668.18 551.81L669.54 555.99zM666.21 567.21L662.66 564.63L664.02 560.45L668.41 560.45L669.77 564.63zM666.45 564.22L662.89 561.64L664.25 557.46L668.65 557.46L670.01 561.64zM666.68 557.95L663.12 555.37L664.48 551.18L668.88 551.18L670.24 555.37zM666.91 564.94L663.36 562.36L664.72 558.18L669.11 558.18L670.47 562.36zM667.14 560.19L663.59 557.6L664.95 553.42L669.34 553.42L670.7 557.6zM667.37 558.17L663.82 555.59L665.17 551.41L669.57 551.41L670.93 555.59zM667.6 568.27L664.04 565.68L665.4 561.5L669.8 561.5L671.16 565.68zM668.05 567.33L664.5 564.74L665.86 560.56L670.25 560.56L671.61 564.74zM668.28 563L664.72 560.42L666.08 556.24L670.48 556.24L671.83 560.42zM668.5 564.4L664.94 561.82L666.3 557.64L670.7 557.64L672.06 561.82zM668.72 566.72L665.17 564.13L666.52 559.95L670.92 559.95L672.28 564.13zM668.94 559.77L665.39 557.18L666.75 553L671.14 553L672.5 557.18zM669.38 564.14L665.83 561.55L667.18 557.37L671.58 557.37L672.94 561.55zM669.6 567.81L666.04 565.23L667.4 561.04L671.8 561.04L673.16 565.23zM669.82 569L666.26 566.42L667.62 562.24L672.02 562.24L673.37 566.42zM670.03 567.1L666.48 564.52L667.83 560.34L672.23 560.34L673.59 564.52zM670.25 561.37L666.69 558.79L668.05 554.61L672.45 554.61L673.8 558.79zM670.46 569.63L666.9 567.04L668.26 562.86L672.66 562.86L674.02 567.04zM670.67 563.31L667.12 560.73L668.47 556.55L672.87 556.55L674.23 560.73zM670.88 560.95L667.33 558.37L668.69 554.19L673.08 554.19L674.44 558.37zM671.3 562L667.75 559.42L669.11 555.24L673.5 555.24L674.86 559.42zM671.51 560.42L667.96 557.83L669.31 553.65L673.71 553.65L675.07 557.83zM671.72 567.04L668.16 564.46L669.52 560.28L673.92 560.28L675.28 564.46zM671.93 562.44L668.37 559.86L669.73 555.68L674.12 555.68L675.48 559.86zM672.54 569.65L668.98 567.07L670.34 562.89L674.74 562.89L676.1 567.07zM672.74 567.49L669.18 564.9L670.54 560.72L674.94 560.72L676.3 564.9zM672.94 563.77L669.39 561.19L670.74 557.01L675.14 557.01L676.5 561.19zM673.34 568.93L669.79 566.35L671.15 562.16L675.54 562.16L676.9 566.35zM673.54 561.28L669.99 558.7L671.34 554.52L675.74 554.52L677.1 558.7zM673.74 568.93L670.18 566.34L671.54 562.16L675.94 562.16L677.3 566.34zM674.13 566.46L670.58 563.87L671.93 559.69L676.33 559.69L677.69 563.87zM674.52 570.28L670.97 567.7L672.32 563.51L676.72 563.51L678.08 567.7zM674.72 566.69L671.16 564.1L672.52 559.92L676.91 559.92L678.27 564.1zM675.1 563.21L671.54 560.62L672.9 556.44L677.3 556.44L678.66 560.62zM675.29 569.66L671.73 567.07L673.09 562.89L677.49 562.89L678.85 567.07zM675.48 564.75L671.92 562.16L673.28 557.98L677.68 557.98L679.04 562.16zM675.67 566.13L672.11 563.55L673.47 559.37L677.87 559.37L679.23 563.55zM675.86 560.78L672.3 558.2L673.66 554.02L678.06 554.02L679.42 558.2zM676.05 570.07L672.49 567.49L673.85 563.31L678.24 563.31L679.6 567.49zM676.23 567.69L672.68 565.11L674.03 560.92L678.43 560.92L679.79 565.11zM676.42 562.11L672.86 559.53L674.22 555.34L678.62 555.34L679.98 559.53zM676.6 567.15L673.05 564.56L674.41 560.38L678.8 560.38L680.16 564.56zM676.79 565.46L673.23 562.88L674.59 558.69L678.99 558.69L680.35 562.88zM676.97 569.86L673.42 567.28L674.77 563.1L679.17 563.1L680.53 567.28zM677.16 566.51L673.6 563.92L674.96 559.74L679.35 559.74L680.71 563.92z" fill="none" stroke="#3d7ab5" stroke-width="1" />
<rect x="507.4" y="412.4" width="170.1" height="169.4" fill="none" stroke="#262626" stroke-width="1.1"/>
<path d="M507.4 581.8v-7M507.4 412.4v7M607.4 581.8v-7M607.4 412.4v7" stroke="#262626" stroke-width="1.1" fill="none"/>
<path d="M537.5 581.8v-3.5M537.5 412.4v3.5M555.11 581.8v-3.5M555.11 412.4v3.5M567.61 581.8v-3.5M567.61 412.4v3.5M577.3 581.8v-3.5M577.3 412.4v3.5M585.22 581.8v-3.5M585.22 412.4v3.5M591.91 581.8v-3.5M591.91 412.4v3.5M597.71 581.8v-3.5M597.71 412.4v3.5M602.82 581.8v-3.5M602.82 412.4v3.5M637.5 581.8v-3.5M637.5 412.4v3.5M655.11 581.8v-3.5M655.11 412.4v3.5M667.61 581.8v-3.5M667.61 412.4v3.5M677.3 581.8v-3.5M677.3 412.4v3.5" stroke="#262626" stroke-width="1.1" fill="none"/>
<path d="M507.4 581.8h7M677.5 581.8h-7M507.4 507.89h7M677.5 507.89h-7M507.4 433.98h7M677.5 433.98h-7" stroke="#262626" stroke-width="1.1" fill="none"/>
<path d="M507.4 559.55h3.5M677.5 559.55h-3.5M507.4 546.54h3.5M677.5 546.54h-3.5M507.4 537.3h3.5M677.5 537.3h-3.5M507.4 530.14h3.5M677.5 530.14h-3.5M507.4 524.29h3.5M677.5 524.29h-3.5M507.4 519.34h3.5M677.5 519.34h-3.5M507.4 515.05h3.5M677.5 515.05h-3.5M507.4 511.27h3.5M677.5 511.27h-3.5M507.4 485.64h3.5M677.5 485.64h-3.5M507.4 472.63h3.5M677.5 472.63h-3.5M507.4 463.39h3.5M677.5 463.39h-3.5M507.4 456.23h3.5M677.5 456.23h-3.5M507.4 450.38h3.5M677.5 450.38h-3.5M507.4 445.43h3.5M677.5 445.43h-3.5M507.4 441.14h3.5M677.5 441.14h-3.5M507.4 437.36h3.5M677.5 437.36h-3.5" stroke="#262626" stroke-width="1.1" fill="none"/>
<text x="504" y="585.4" font-size="10" text-anchor="end" font-family="Liberation Sans, sans-serif" fill="#111" stroke="#111" stroke-width="0.12" >10<tspan dy="-4.2" font-size="8"><tspan font-size="6">-</tspan>5</tspan></text>
<text x="504" y="511.49" font-size="10" text-anchor="end" font-family="Liberation Sans, sans-serif" fill="#111" stroke="#111" stroke-width="0.12" >10<tspan dy="-4.2" font-size="8"><tspan font-size="6">-</tspan>4</tspan></text>
<text x="504" y="437.58" font-size="10" text-anchor="end" font-family="Liberation Sans, sans-serif" fill="#111" stroke="#111" stroke-width="0.12" >10<tspan dy="-4.2" font-size="8"><tspan font-size="6">-</tspan>3</tspan></text>
<text x="508.4" y="596" font-size="10" text-anchor="middle" font-family="Liberation Sans, sans-serif" fill="#111" stroke="#111" stroke-width="0.12" >10<tspan dy="-4.2" font-size="8"><tspan font-size="6">-</tspan>2</tspan></text>
<text x="608.4" y="596" font-size="10" text-anchor="middle" font-family="Liberation Sans, sans-serif" fill="#111" stroke="#111" stroke-width="0.12" >10<tspan dy="-4.2" font-size="8"><tspan font-size="6">-</tspan>1</tspan></text>
<text x="470.2" y="421" font-size="15" text-anchor="start" font-family="Liberation Sans, sans-serif" fill="#111" font-weight="bold">i</text>
<path d="M595 474L611 516" fill="none" stroke="#111" stroke-width="1" />
<path d="M624 507L650 538" fill="none" stroke="#111" stroke-width="1" />
<g font-family="Liberation Serif, serif" fill="#111" font-size="11">
<text x="602" y="480" textLength="38.5" lengthAdjust="spacingAndGlyphs">−2<tspan font-style="italic">α</tspan> − 1</text>
<text x="624.5" y="504.5" textLength="49" lengthAdjust="spacingAndGlyphs">−2<tspan font-style="italic">α</tspan><tspan dy="2.5" font-size="8.5">loc</tspan><tspan dy="-2.5"> − 1</tspan></text>
</g>
<text transform="translate(12.5,88.2) rotate(-90)" x="0" y="0" font-size="16" text-anchor="middle" textLength="37.5" lengthAdjust="spacingAndGlyphs" font-family="Liberation Serif, serif" fill="#111"><tspan font-style="italic">C</tspan>(<tspan font-style="italic">ℓ</tspan>;<tspan font-style="italic">t</tspan>)</text>
<text transform="translate(12.6,287.5) rotate(-90)" x="0" y="0" font-size="16" text-anchor="middle" textLength="42" lengthAdjust="spacingAndGlyphs" font-family="Liberation Serif, serif" fill="#111"><tspan font-style="italic">W</tspan>(<tspan font-style="italic">ℓ</tspan>;<tspan font-style="italic">t</tspan>)</text>
<text transform="translate(12.6,487.7) rotate(-90)" x="0" y="0" font-size="16" text-anchor="middle" textLength="40.5" lengthAdjust="spacingAndGlyphs" font-family="Liberation Serif, serif" fill="#111"><tspan font-style="italic">S</tspan>(<tspan font-style="italic">k</tspan>;<tspan font-style="italic">t</tspan>)</text>
<text transform="translate(240,88) rotate(-90)" x="0" y="0" font-size="16" text-anchor="middle" textLength="32" lengthAdjust="spacingAndGlyphs" font-family="Liberation Serif, serif" fill="#111"><tspan font-size="18" font-style="italic">ℓ</tspan><tspan dy="4" font-size="12.5">peak</tspan></text>
<text transform="translate(455.5,88) rotate(90)" x="0" y="0" font-size="16" text-anchor="middle" textLength="36" lengthAdjust="spacingAndGlyphs" font-family="Liberation Serif, serif" fill="#111"><tspan font-style="italic">C</tspan>(<tspan font-style="italic">ℓ</tspan>;<tspan font-style="italic">t</tspan>)</text>
<text transform="translate(487.5,73.5) rotate(-90)" x="0" y="0" font-size="16" text-anchor="middle" textLength="80" lengthAdjust="spacingAndGlyphs" font-family="Liberation Serif, serif" fill="#111"><tspan font-style="italic">C</tspan>(<tspan font-style="italic">ℓ</tspan>;<tspan font-style="italic">t</tspan>)<tspan font-style="italic">ℓ</tspan><tspan dy="-7" font-size="11">−2<tspan font-style="italic">α</tspan></tspan></text>
<text transform="translate(237.5,286.5) rotate(-90)" x="0" y="0" font-size="16" text-anchor="middle" textLength="63.5" lengthAdjust="spacingAndGlyphs" font-family="Liberation Serif, serif" fill="#111"><tspan font-style="italic">W</tspan>(<tspan font-style="italic">ℓ</tspan>;<tspan font-style="italic">t</tspan>)<tspan font-style="italic">ℓ</tspan><tspan dy="-7" font-size="11">−<tspan font-style="italic">α</tspan></tspan></text>
<text transform="translate(470.7,290.8) rotate(-90)" x="0" y="0" font-size="16" text-anchor="middle" textLength="57.5" lengthAdjust="spacingAndGlyphs" font-family="Liberation Serif, serif" fill="#111"><tspan font-style="italic">W</tspan>(<tspan font-style="italic">ℓ</tspan>;<tspan font-style="italic">t</tspan>)<tspan font-style="italic">t</tspan><tspan dy="-7" font-size="11">−<tspan font-style="italic">β</tspan></tspan></text>
<text transform="translate(234.3,483) rotate(-90)" x="0" y="0" font-size="16" text-anchor="middle" textLength="80.5" lengthAdjust="spacingAndGlyphs" font-family="Liberation Serif, serif" fill="#111"><tspan font-style="italic">S</tspan>(<tspan font-style="italic">k</tspan>;<tspan font-style="italic">t</tspan>)<tspan font-style="italic">k</tspan><tspan dy="-7" font-size="11">2<tspan font-style="italic">α</tspan>+1</tspan></text>
<text transform="translate(476.4,483.5) rotate(-90)" x="0" y="0" font-size="16" text-anchor="middle" textLength="69.5" lengthAdjust="spacingAndGlyphs" font-family="Liberation Serif, serif" fill="#111"><tspan font-style="italic">S</tspan>(<tspan font-style="italic">k</tspan>;<tspan font-style="italic">t</tspan>)<tspan font-style="italic">t</tspan><tspan dy="-7" font-size="11">−2<tspan font-style="italic">β</tspan>′</tspan></text>
<text x="126" y="201.5" font-size="18" text-anchor="middle" font-family="Liberation Serif, serif" fill="#111"><tspan font-style="italic">ℓ</tspan></text>
<text x="349.9" y="201" font-size="18" text-anchor="middle" textLength="6.8" lengthAdjust="spacingAndGlyphs" font-family="Liberation Serif, serif" fill="#111"><tspan font-style="italic">t</tspan></text>
<text x="601.2" y="202.6" font-size="17" text-anchor="middle" textLength="38.5" lengthAdjust="spacingAndGlyphs" font-family="Liberation Serif, serif" fill="#111"><tspan font-style="italic">ℓt</tspan><tspan dy="-5.6" font-size="11.5">−1/3</tspan></text>
<text x="126" y="404.6" font-size="18" text-anchor="middle" font-family="Liberation Serif, serif" fill="#111"><tspan font-style="italic">ℓ</tspan></text>
<text x="350" y="404.2" font-size="17" text-anchor="middle" textLength="28" lengthAdjust="spacingAndGlyphs" font-family="Liberation Serif, serif" fill="#111"><tspan font-style="italic">tℓ</tspan><tspan dy="-5.8" font-size="11.5">−3</tspan></text>
<text x="593.2" y="404.8" font-size="17" text-anchor="middle" textLength="40.5" lengthAdjust="spacingAndGlyphs" font-family="Liberation Serif, serif" fill="#111"><tspan font-style="italic">ℓt</tspan><tspan dy="-5.8" font-size="11.5">−1/3</tspan></text>
<text x="126" y="611" font-size="17" text-anchor="middle" textLength="8.8" lengthAdjust="spacingAndGlyphs" font-family="Liberation Serif, serif" fill="#111"><tspan font-style="italic">k</tspan></text>
<text x="351.7" y="608.8" font-size="17" text-anchor="middle" textLength="31.5" lengthAdjust="spacingAndGlyphs" font-family="Liberation Serif, serif" fill="#111"><tspan font-style="italic">kt</tspan><tspan dy="-5.8" font-size="11.5">1/3</tspan></text>
<text x="593.5" y="610.4" font-size="17" text-anchor="middle" textLength="8.8" lengthAdjust="spacingAndGlyphs" font-family="Liberation Serif, serif" fill="#111"><tspan font-style="italic">k</tspan></text>
</svg></body></html>
